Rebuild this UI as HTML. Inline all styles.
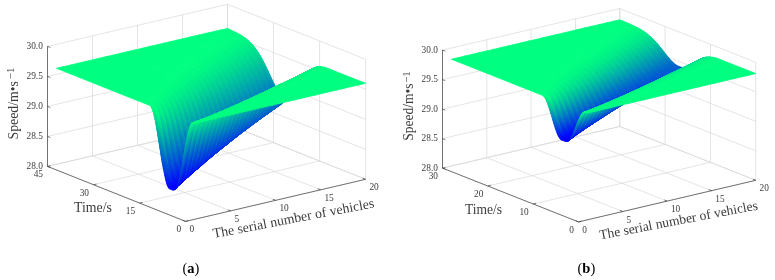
<!DOCTYPE html><html><head><meta charset="utf-8"><title>Figure</title><style>html,body{margin:0;padding:0;background:#fff}svg{display:block}text{font-family:'Liberation Serif',serif;fill:#3c3c3c}.e{text-anchor:end}.m{text-anchor:middle}.c{font-size:14.5px;fill:#000}.g{stroke:#d9d9d9;stroke-width:.7;fill:none}.a{stroke:#333;stroke-width:.65;fill:none}.s path{stroke-width:.8;stroke-linejoin:round}.k0{fill:#0000ff;stroke:#0000ff}.k1{fill:#0001fe;stroke:#0001fe}.k2{fill:#0002fe;stroke:#0002fe}.k3{fill:#0003fe;stroke:#0003fe}.k4{fill:#0004fd;stroke:#0004fd}.k5{fill:#0005fc;stroke:#0005fc}.k6{fill:#0006fc;stroke:#0006fc}.k7{fill:#0007fc;stroke:#0007fc}.k8{fill:#0008fb;stroke:#0008fb}.k9{fill:#0009fa;stroke:#0009fa}.k10{fill:#000afa;stroke:#000afa}.k11{fill:#000bfa;stroke:#000bfa}.k12{fill:#000cf9;stroke:#000cf9}.k13{fill:#000df8;stroke:#000df8}.k14{fill:#000ef8;stroke:#000ef8}.k15{fill:#000ff8;stroke:#000ff8}.k16{fill:#0010f7;stroke:#0010f7}.k17{fill:#0011f6;stroke:#0011f6}.k18{fill:#0012f6;stroke:#0012f6}.k19{fill:#0013f6;stroke:#0013f6}.k20{fill:#0014f5;stroke:#0014f5}.k21{fill:#0015f4;stroke:#0015f4}.k22{fill:#0016f4;stroke:#0016f4}.k23{fill:#0017f4;stroke:#0017f4}.k24{fill:#0018f3;stroke:#0018f3}.k25{fill:#0019f2;stroke:#0019f2}.k26{fill:#001af2;stroke:#001af2}.k27{fill:#001bf2;stroke:#001bf2}.k28{fill:#001cf1;stroke:#001cf1}.k29{fill:#001df0;stroke:#001df0}.k30{fill:#001ef0;stroke:#001ef0}.k31{fill:#001ff0;stroke:#001ff0}.k32{fill:#0020ef;stroke:#0020ef}.k33{fill:#0021ee;stroke:#0021ee}.k34{fill:#0022ee;stroke:#0022ee}.k35{fill:#0023ee;stroke:#0023ee}.k36{fill:#0024ed;stroke:#0024ed}.k37{fill:#0025ec;stroke:#0025ec}.k38{fill:#0026ec;stroke:#0026ec}.k39{fill:#0027ec;stroke:#0027ec}.k40{fill:#0028eb;stroke:#0028eb}.k41{fill:#0029ea;stroke:#0029ea}.k42{fill:#002aea;stroke:#002aea}.k43{fill:#002bea;stroke:#002bea}.k44{fill:#002ce9;stroke:#002ce9}.k45{fill:#002de8;stroke:#002de8}.k46{fill:#002ee8;stroke:#002ee8}.k47{fill:#002fe8;stroke:#002fe8}.k48{fill:#0030e7;stroke:#0030e7}.k49{fill:#0031e6;stroke:#0031e6}.k50{fill:#0032e6;stroke:#0032e6}.k51{fill:#0033e6;stroke:#0033e6}.k52{fill:#0034e5;stroke:#0034e5}.k53{fill:#0035e4;stroke:#0035e4}.k54{fill:#0036e4;stroke:#0036e4}.k55{fill:#0037e3;stroke:#0037e3}.k56{fill:#0038e3;stroke:#0038e3}.k57{fill:#0039e2;stroke:#0039e2}.k58{fill:#003ae2;stroke:#003ae2}.k59{fill:#003be2;stroke:#003be2}.k60{fill:#003ce1;stroke:#003ce1}.k61{fill:#003de0;stroke:#003de0}.k62{fill:#003ee0;stroke:#003ee0}.k63{fill:#003fe0;stroke:#003fe0}.k64{fill:#0040df;stroke:#0040df}.k65{fill:#0041de;stroke:#0041de}.k66{fill:#0042de;stroke:#0042de}.k67{fill:#0043de;stroke:#0043de}.k68{fill:#0044dd;stroke:#0044dd}.k69{fill:#0045dc;stroke:#0045dc}.k70{fill:#0046dc;stroke:#0046dc}.k71{fill:#0047dc;stroke:#0047dc}.k72{fill:#0048db;stroke:#0048db}.k73{fill:#0049db;stroke:#0049db}.k74{fill:#004ada;stroke:#004ada}.k75{fill:#004bda;stroke:#004bda}.k76{fill:#004cd9;stroke:#004cd9}.k77{fill:#004dd8;stroke:#004dd8}.k78{fill:#004ed8;stroke:#004ed8}.k79{fill:#004fd8;stroke:#004fd8}.k80{fill:#0050d7;stroke:#0050d7}.k81{fill:#0051d6;stroke:#0051d6}.k82{fill:#0052d6;stroke:#0052d6}.k83{fill:#0053d6;stroke:#0053d6}.k84{fill:#0054d5;stroke:#0054d5}.k85{fill:#0055d4;stroke:#0055d4}.k86{fill:#0056d4;stroke:#0056d4}.k87{fill:#0057d3;stroke:#0057d3}.k88{fill:#0058d3;stroke:#0058d3}.k89{fill:#0059d2;stroke:#0059d2}.k90{fill:#005ad2;stroke:#005ad2}.k91{fill:#005bd2;stroke:#005bd2}.k92{fill:#005cd1;stroke:#005cd1}.k93{fill:#005dd0;stroke:#005dd0}.k94{fill:#005ed0;stroke:#005ed0}.k95{fill:#005fd0;stroke:#005fd0}.k96{fill:#0060cf;stroke:#0060cf}.k97{fill:#0061ce;stroke:#0061ce}.k98{fill:#0062ce;stroke:#0062ce}.k99{fill:#0063ce;stroke:#0063ce}.k100{fill:#0064cd;stroke:#0064cd}.k101{fill:#0065cc;stroke:#0065cc}.k102{fill:#0066cc;stroke:#0066cc}.k103{fill:#0067cc;stroke:#0067cc}.k104{fill:#0068cb;stroke:#0068cb}.k105{fill:#0069cb;stroke:#0069cb}.k106{fill:#006aca;stroke:#006aca}.k107{fill:#006bca;stroke:#006bca}.k108{fill:#006cc9;stroke:#006cc9}.k109{fill:#006dc8;stroke:#006dc8}.k110{fill:#006ec8;stroke:#006ec8}.k111{fill:#006fc8;stroke:#006fc8}.k112{fill:#0070c7;stroke:#0070c7}.k113{fill:#0071c6;stroke:#0071c6}.k114{fill:#0072c6;stroke:#0072c6}.k115{fill:#0073c6;stroke:#0073c6}.k116{fill:#0074c5;stroke:#0074c5}.k117{fill:#0075c4;stroke:#0075c4}.k118{fill:#0076c4;stroke:#0076c4}.k119{fill:#0077c3;stroke:#0077c3}.k120{fill:#0078c3;stroke:#0078c3}.k121{fill:#0079c2;stroke:#0079c2}.k122{fill:#007ac2;stroke:#007ac2}.k123{fill:#007bc2;stroke:#007bc2}.k124{fill:#007cc1;stroke:#007cc1}.k125{fill:#007dc0;stroke:#007dc0}.k126{fill:#007ec0;stroke:#007ec0}.k127{fill:#007fc0;stroke:#007fc0}.k128{fill:#0080bf;stroke:#0080bf}.k129{fill:#0081be;stroke:#0081be}.k130{fill:#0082be;stroke:#0082be}.k131{fill:#0083be;stroke:#0083be}.k132{fill:#0084bd;stroke:#0084bd}.k133{fill:#0085bc;stroke:#0085bc}.k134{fill:#0086bc;stroke:#0086bc}.k135{fill:#0087bc;stroke:#0087bc}.k136{fill:#0088bb;stroke:#0088bb}.k137{fill:#0089bb;stroke:#0089bb}.k138{fill:#008aba;stroke:#008aba}.k139{fill:#008bba;stroke:#008bba}.k140{fill:#008cb9;stroke:#008cb9}.k141{fill:#008db8;stroke:#008db8}.k142{fill:#008eb8;stroke:#008eb8}.k143{fill:#008fb8;stroke:#008fb8}.k144{fill:#0090b7;stroke:#0090b7}.k145{fill:#0091b6;stroke:#0091b6}.k146{fill:#0092b6;stroke:#0092b6}.k147{fill:#0093b6;stroke:#0093b6}.k148{fill:#0094b5;stroke:#0094b5}.k149{fill:#0095b4;stroke:#0095b4}.k150{fill:#0096b4;stroke:#0096b4}.k151{fill:#0097b3;stroke:#0097b3}.k152{fill:#0098b3;stroke:#0098b3}.k153{fill:#0099b2;stroke:#0099b2}.k154{fill:#009ab2;stroke:#009ab2}.k155{fill:#009bb2;stroke:#009bb2}.k156{fill:#009cb1;stroke:#009cb1}.k157{fill:#009db0;stroke:#009db0}.k158{fill:#009eb0;stroke:#009eb0}.k159{fill:#009fb0;stroke:#009fb0}.k160{fill:#00a0af;stroke:#00a0af}.k161{fill:#00a1ae;stroke:#00a1ae}.k162{fill:#00a2ae;stroke:#00a2ae}.k163{fill:#00a3ae;stroke:#00a3ae}.k164{fill:#00a4ad;stroke:#00a4ad}.k165{fill:#00a5ac;stroke:#00a5ac}.k166{fill:#00a6ac;stroke:#00a6ac}.k167{fill:#00a7ac;stroke:#00a7ac}.k168{fill:#00a8ab;stroke:#00a8ab}.k169{fill:#00a9ab;stroke:#00a9ab}.k170{fill:#00aaaa;stroke:#00aaaa}.k171{fill:#00abaa;stroke:#00abaa}.k172{fill:#00aca9;stroke:#00aca9}.k173{fill:#00ada8;stroke:#00ada8}.k174{fill:#00aea8;stroke:#00aea8}.k175{fill:#00afa8;stroke:#00afa8}.k176{fill:#00b0a7;stroke:#00b0a7}.k177{fill:#00b1a6;stroke:#00b1a6}.k178{fill:#00b2a6;stroke:#00b2a6}.k179{fill:#00b3a6;stroke:#00b3a6}.k180{fill:#00b4a5;stroke:#00b4a5}.k181{fill:#00b5a4;stroke:#00b5a4}.k182{fill:#00b6a4;stroke:#00b6a4}.k183{fill:#00b7a3;stroke:#00b7a3}.k184{fill:#00b8a3;stroke:#00b8a3}.k185{fill:#00b9a2;stroke:#00b9a2}.k186{fill:#00baa2;stroke:#00baa2}.k187{fill:#00bba2;stroke:#00bba2}.k188{fill:#00bca1;stroke:#00bca1}.k189{fill:#00bda0;stroke:#00bda0}.k190{fill:#00bea0;stroke:#00bea0}.k191{fill:#00bfa0;stroke:#00bfa0}.k192{fill:#00c09f;stroke:#00c09f}.k193{fill:#00c19e;stroke:#00c19e}.k194{fill:#00c29e;stroke:#00c29e}.k195{fill:#00c39e;stroke:#00c39e}.k196{fill:#00c49d;stroke:#00c49d}.k197{fill:#00c59c;stroke:#00c59c}.k198{fill:#00c69c;stroke:#00c69c}.k199{fill:#00c79c;stroke:#00c79c}.k200{fill:#00c89b;stroke:#00c89b}.k201{fill:#00c99b;stroke:#00c99b}.k202{fill:#00ca9a;stroke:#00ca9a}.k203{fill:#00cb9a;stroke:#00cb9a}.k204{fill:#00cc99;stroke:#00cc99}.k205{fill:#00cd98;stroke:#00cd98}.k206{fill:#00ce98;stroke:#00ce98}.k207{fill:#00cf98;stroke:#00cf98}.k208{fill:#00d097;stroke:#00d097}.k209{fill:#00d196;stroke:#00d196}.k210{fill:#00d296;stroke:#00d296}.k211{fill:#00d396;stroke:#00d396}.k212{fill:#00d495;stroke:#00d495}.k213{fill:#00d594;stroke:#00d594}.k214{fill:#00d694;stroke:#00d694}.k215{fill:#00d793;stroke:#00d793}.k216{fill:#00d893;stroke:#00d893}.k217{fill:#00d992;stroke:#00d992}.k218{fill:#00da92;stroke:#00da92}.k219{fill:#00db92;stroke:#00db92}.k220{fill:#00dc91;stroke:#00dc91}.k221{fill:#00dd90;stroke:#00dd90}.k222{fill:#00de90;stroke:#00de90}.k223{fill:#00df90;stroke:#00df90}.k224{fill:#00e08f;stroke:#00e08f}.k225{fill:#00e18e;stroke:#00e18e}.k226{fill:#00e28e;stroke:#00e28e}.k227{fill:#00e38e;stroke:#00e38e}.k228{fill:#00e48d;stroke:#00e48d}.k229{fill:#00e58c;stroke:#00e58c}.k230{fill:#00e68c;stroke:#00e68c}.k231{fill:#00e78c;stroke:#00e78c}.k232{fill:#00e88b;stroke:#00e88b}.k233{fill:#00e98b;stroke:#00e98b}.k234{fill:#00ea8a;stroke:#00ea8a}.k235{fill:#00eb8a;stroke:#00eb8a}.k236{fill:#00ec89;stroke:#00ec89}.k237{fill:#00ed88;stroke:#00ed88}.k238{fill:#00ee88;stroke:#00ee88}.k239{fill:#00ef88;stroke:#00ef88}.k240{fill:#00f087;stroke:#00f087}.k241{fill:#00f186;stroke:#00f186}.k242{fill:#00f286;stroke:#00f286}.k243{fill:#00f386;stroke:#00f386}.k244{fill:#00f485;stroke:#00f485}.k245{fill:#00f584;stroke:#00f584}.k246{fill:#00f684;stroke:#00f684}.k247{fill:#00f784;stroke:#00f784}.k248{fill:#00f883;stroke:#00f883}.k249{fill:#00f982;stroke:#00f982}.k250{fill:#00fa82;stroke:#00fa82}.k251{fill:#00fb82;stroke:#00fb82}.k252{fill:#00fc81;stroke:#00fc81}.k253{fill:#00fd80;stroke:#00fd80}.k254{fill:#00fe80;stroke:#00fe80}.k255{fill:#00ff80;stroke:#00ff80}</style></head><body><svg width="775" height="280" viewBox="0 0 775 280"><path class="g" d="M185.6,221.4L47.5,166.4M47.5,166.4L47.5,46.4M230.6,210.9L92.5,155.9M92.5,155.9L92.5,35.9M275.6,200.3L137.5,145.3M137.5,145.3L137.5,25.3M320.6,189.8L182.5,134.8M182.5,134.8L182.5,14.8M365.6,179.3L227.5,124.3M227.5,124.3L227.5,4.3M185.6,221.4L365.6,179.3M365.6,179.3L365.6,59.3M139.6,203.1L319.6,161M319.6,161L319.6,41M93.5,184.7L273.5,142.6M273.5,142.6L273.5,22.6M47.5,166.4L227.5,124.3M227.5,124.3L227.5,4.3M47.5,166.4L227.5,124.3M227.5,124.3L365.6,179.3M47.5,136.4L227.5,94.3M227.5,94.3L365.6,149.3M47.5,106.4L227.5,64.3M227.5,64.3L365.6,119.3M47.5,76.4L227.5,34.3M227.5,34.3L365.6,89.3M47.5,46.4L227.5,4.3M227.5,4.3L365.6,59.3"/>
<path class="g" d="M578.5,221.9L442.5,168.1M442.5,168.1L442.5,50.1M622.8,211.5L486.8,157.7M486.8,157.7L486.8,39.7M667.1,201.1L531.1,147.3M531.1,147.3L531.1,29.3M711.5,190.7L575.5,136.9M575.5,136.9L575.5,18.9M755.8,180.3L619.8,126.5M619.8,126.5L619.8,8.5M578.5,221.9L755.8,180.3M755.8,180.3L755.8,62.3M533.2,204L710.5,162.4M710.5,162.4L710.5,44.4M487.8,186L665.1,144.4M665.1,144.4L665.1,26.4M442.5,168.1L619.8,126.5M619.8,126.5L619.8,8.5M442.5,168.1L619.8,126.5M619.8,126.5L755.8,180.3M442.5,138.6L619.8,97M619.8,97L755.8,150.8M442.5,109.1L619.8,67.5M619.8,67.5L755.8,121.3M442.5,79.6L619.8,38M619.8,38L755.8,91.8M442.5,50.1L619.8,8.5M619.8,8.5L755.8,62.3"/>
<g class="s"><path class=k254 d="M228.5 33.6l-6.7-2.9 7.1-1.6 6.7 3.2z"/><path class=k253 d="M231.7 35.2l-3.2-1.6 7.1-1.3 3.3 1.7z"/><path class=k252 d="M234 36.4l-2.3-1.2 7.2-1.2 2.3 1.3z"/><path class=k251 d="M235.7 37.4l-1.7-1 7.2-1.1 1.6 1.1z"/><path class=k250 d="M237.3 38.3l-1.6-.9 7.1-1 1.6 1.1z"/><path class=k249 d="M238.3 39l-1-.7 7.1-.8 1.1 .7z"/><path class=k248 d="M239.4 39.7l-1.1-.7 7.2-.8 1 .9z"/><path class=k247 d="M240.3 40.4l-.9-.7 7.1-.6 .9 .7z"/><path class=k246 d="M241.2 41.1l-.9-.7 7.1-.6 1 .8z"/><path class=k245 d="M242 41.7l-.8-.6 7.2-.5 .7 .7z"/><path class=k244 d="M242.8 42.3l-.8-.6 7.1-.4 .8 .8z"/><path class=k243 d="M243.5 42.9l-.7-.6 7.1-.2 .8 .7z"/><path class=k242 d="M244.3 43.6l-.8-.7 7.2-.1 .7 .8z"/><path class=k240 d="M244.9 44.2l-.6-.6 7.1 0 .7 .7z"/><path class=k239 d="M245.5 44.8l-.6-.6 7.2 .1 .6 .7z"/><path class=k238 d="M246.2 45.4l-.7-.6 7.2 .2 .6 .7z"/><path class=k237 d="M246.8 46l-.6-.6 7.1 .3 .6 .7z"/><path class=k236 d="M247.4 46.7l-.6-.7 7.1 .4 .6 .8z"/><path class=k234 d="M248 47.4l-.6-.7 7.1 .5 .6 .8z"/><path class=k232 d="M248.6 48.1l-.6-.7 7.1 .6 .6 .8z"/><path class=k231 d="M249.2 48.8l-.6-.7 7.1 .7 .6 .8z"/><path class=k229 d="M249.8 49.5l-.6-.7 7.1 .8 .7 .9z"/><path class=k228 d="M250.5 50.3l-.7-.8 7.2 1 .6 .9z"/><path class=k226 d="M251.1 51.1l-.6-.8 7.1 1.1 .6 .9z"/><path class=k224 d="M251.7 52l-.6-.9 7.1 1.2 .6 1z"/><path class=k222 d="M252.3 52.9l-.6-.9 7.1 1.3 .6 1z"/><path class=k219 d="M252.9 53.8l-.6-.9 7.1 1.4 .6 1z"/><path class=k217 d="M253.4 54.5l-.5-.7 7.1 1.5 .5 .8z"/><path class=k216 d="M253.8 55.2l-.4-.7 7.1 1.6 .5 .8z"/><path class=k214 d="M254.3 55.9l-.5-.7 7.2 1.7 .4 .8z"/><path class=k212 d="M254.7 56.6l-.4-.7 7.1 1.8 .5 .8z"/><path class=k210 d="M255.2 57.4l-.5-.8 7.2 1.9 .4 .8z"/><path class=k208 d="M255.7 58.2l-.5-.8 7.1 1.9 .5 .9z"/><path class=k206 d="M256.1 59l-.4-.8 7.1 2 .5 .9z"/><path class=k204 d="M256.6 59.8l-.5-.8 7.2 2.1 .4 .9z"/><path class=k202 d="M257 60.6l-.4-.8 7.1 2.2 .5 .9z"/><path class=k199 d="M257.5 61.5l-.5-.9 7.2 2.3 .4 .9z"/><path class=k197 d="M258 62.3l-.5-.8 7.1 2.3 .5 .9z"/><path class=k195 d="M258.4 63.2l-.4-.9 7.1 2.4 .5 .9z"/><path class=k192 d="M258.9 64.1l-.5-.9 7.2 2.4 .4 1z"/><path class=k190 d="M259.3 65l-.4-.9 7.1 2.5 .5 .9z"/><path class=k188 d="M259.8 65.9l-.5-.9 7.2 2.5 .4 1z"/><path class=k185 d="M260.3 66.9l-.5-1 7.1 2.6 .5 1z"/><path class=k182 d="M260.7 67.8l-.4-.9 7.1 2.6 .5 .9z"/><path class=k180 d="M261.2 68.8l-.5-1 7.2 2.6 .4 1z"/><path class=k177 d="M261.7 69.7l-.5-.9 7.1 2.6 .5 1z"/><path class=k175 d="M262.1 70.7l-.4-1 7.1 2.7 .4 1z"/><path class=k172 d="M262.6 71.7l-.5-1 7.1 2.7 .5 1z"/><path class=k169 d="M263 72.7l-.4-1 7.1 2.7 .5 1z"/><path class=k166 d="M263.5 73.7l-.5-1 7.2 2.7 .4 1z"/><path class=k164 d="M264 74.7l-.5-1 7.1 2.7 .5 1z"/><path class=k161 d="M264.4 75.7l-.4-1 7.1 2.7 .4 1z"/><path class=k158 d="M264.9 76.7l-.5-1 7.1 2.7 .5 1z"/><path class=k155 d="M265.3 77.8l-.4-1.1 7.1 2.7 .5 .9z"/><path class=k152 d="M265.8 78.8l-.5-1 7.2 2.5 .4 1z"/><path class=k149 d="M266.3 79.8l-.5-1 7.1 2.5 .5 1z"/><path class=k147 d="M266.7 80.8l-.4-1 7.1 2.5 .4 .9z"/><path class=k144 d="M267.2 81.8l-.5-1 7.1 2.4 .5 1z"/><path class=k141 d="M267.6 82.9l-.4-1.1 7.1 2.4 .5 .9z"/><path class=k138 d="M268.1 83.9l-.5-1 7.2 2.2 .4 .9z"/><path class=k135 d="M268.6 84.9l-.5-1 7.1 2.1 .5 .9z"/><path class=k133 d="M269 85.8l-.4-.9 7.1 2 .4 .9z"/><path class=k130 d="M269.5 86.8l-.5-1 7.1 2 .5 .8z"/><path class=k127 d="M269.9 87.8l-.4-1 7.1 1.8 .5 .8z"/><path class=k125 d="M270.4 88.7l-.5-.9 7.2 1.6 .4 .9z"/><path class=k232 d="M307.5 71.3l-.7 .6 7.1-3.9 .8-.4z"/><path class=k234 d="M308.3 70.8l-.8 .5 7.2-3.7 .7-.3z"/><path class=k237 d="M309.2 70.3l-.9 .5 7.1-3.5 .9-.3z"/><path class=k240 d="M310.1 69.9l-.9 .4 7.1-3.3 1-.2z"/><path class=k242 d="M311.1 69.5l-1 .4 7.2-3.1 .9-.1z"/><path class=k244 d="M312 69.3l-.9 .2 7.1-2.8 .9-.1z"/><path class=k246 d="M312.9 69.1l-.9 .2 7.1-2.7 .9 0z"/><path class=k248 d="M313.8 69.1l-.9 0 7.1-2.5 .9 .1z"/><path class=k249 d="M314.7 69.1l-.9 0 7.1-2.4 1 .1z"/><path class=k250 d="M315.7 69.1l-1 0 7.2-2.3 .9 .2z"/><path class=k252 d="M316.6 69.2l-.9-.1 7.1-2.1 .9 .2z"/><path class=k252 d="M317.5 69.4l-.9-.2 7.1-2 .9 .2z"/><path class=k253 d="M319 69.7l-1.5-.3 7.1-2 1.6 .4z"/><path class=k254 d="M322.3 70.7l-3.3-1 7.2-1.9 3.2 1.2z"/><path class=k254 d="M224.5 36.5l-6.6-2.9 7.1-1.5 6.6 3z"/><path class=k253 d="M227.7 38.1l-3.2-1.6 7.1-1.4 3.2 1.8z"/><path class=k252 d="M230 39.3l-2.3-1.2 7.1-1.2 2.3 1.3z"/><path class=k251 d="M231.7 40.3l-1.7-1 7.1-1.1 1.7 1.1z"/><path class=k250 d="M233 41.1l-1.3-.8 7.1-1 1.4 1z"/><path class=k249 d="M234.3 41.9l-1.3-.8 7.2-.8 1.2 .9z"/><path class=k248 d="M235.3 42.6l-1-.7 7.1-.7 1.1 .8z"/><path class=k247 d="M236.3 43.3l-1-.7 7.2-.6 .9 .8z"/><path class=k246 d="M237 43.9l-.7-.6 7.1-.5 .8 .7z"/><path class=k245 d="M237.8 44.5l-.8-.6 7.2-.4 .7 .7z"/><path class=k244 d="M238.6 45.1l-.8-.6 7.1-.3 .8 .7z"/><path class=k243 d="M239.3 45.8l-.7-.7 7.1-.2 .8 .8z"/><path class=k242 d="M240.1 46.5l-.8-.7 7.2-.1 .7 .8z"/><path class=k240 d="M240.7 47l-.6-.5 7.1 0 .6 .7z"/><path class=k239 d="M241.3 47.6l-.6-.6 7.1 .2 .7 .7z"/><path class=k238 d="M241.9 48.3l-.6-.7 7.2 .3 .6 .7z"/><path class=k236 d="M242.6 48.9l-.7-.6 7.2 .3 .6 .8z"/><path class=k235 d="M243.2 49.6l-.6-.7 7.1 .5 .6 .7z"/><path class=k234 d="M243.8 50.3l-.6-.7 7.1 .5 .6 .8z"/><path class=k232 d="M244.4 51l-.6-.7 7.1 .6 .6 .9z"/><path class=k230 d="M245 51.7l-.6-.7 7.1 .8 .6 .8z"/><path class=k229 d="M245.6 52.5l-.6-.8 7.1 .9 .7 .9z"/><path class=k227 d="M246.2 53.3l-.6-.8 7.2 1 .6 1z"/><path class=k225 d="M246.9 54.1l-.7-.8 7.2 1.2 .6 .9z"/><path class=k223 d="M247.5 55l-.6-.9 7.1 1.3 .6 1z"/><path class=k221 d="M248.1 55.9l-.6-.9 7.1 1.4 .6 1z"/><path class=k219 d="M248.5 56.6l-.4-.7 7.1 1.5 .5 .8z"/><path class=k217 d="M249 57.3l-.5-.7 7.2 1.6 .4 .8z"/><path class=k215 d="M249.5 58l-.5-.7 7.1 1.7 .5 .8z"/><path class=k213 d="M249.9 58.7l-.4-.7 7.1 1.8 .4 .8z"/><path class=k212 d="M250.4 59.5l-.5-.8 7.1 1.9 .5 .9z"/><path class=k210 d="M250.8 60.3l-.4-.8 7.1 2 .5 .8z"/><path class=k207 d="M251.3 61.1l-.5-.8 7.2 2 .4 .9z"/><path class=k205 d="M251.8 61.9l-.5-.8 7.1 2.1 .5 .9z"/><path class=k203 d="M252.2 62.7l-.4-.8 7.1 2.2 .4 .9z"/><path class=k201 d="M252.7 63.6l-.5-.9 7.1 2.3 .5 .9z"/><path class=k199 d="M253.1 64.4l-.4-.8 7.1 2.3 .5 1z"/><path class=k196 d="M253.6 65.3l-.5-.9 7.2 2.5 .4 .9z"/><path class=k194 d="M254.1 66.2l-.5-.9 7.1 2.5 .5 1z"/><path class=k192 d="M254.5 67.1l-.4-.9 7.1 2.6 .5 .9z"/><path class=k189 d="M255 68.1l-.5-1 7.2 2.6 .4 1z"/><path class=k186 d="M255.4 69l-.4-.9 7.1 2.6 .5 1z"/><path class=k184 d="M255.9 70l-.5-1 7.2 2.7 .4 1z"/><path class=k181 d="M256.4 70.9l-.5-.9 7.1 2.7 .5 1z"/><path class=k179 d="M256.8 71.9l-.4-1 7.1 2.8 .5 1z"/><path class=k176 d="M257.3 72.9l-.5-1 7.2 2.8 .4 1z"/><path class=k173 d="M257.7 73.9l-.4-1 7.1 2.8 .5 1z"/><path class=k170 d="M258.2 74.9l-.5-1 7.2 2.8 .4 1.1z"/><path class=k167 d="M258.7 76l-.5-1.1 7.1 2.9 .5 1z"/><path class=k165 d="M259.1 77l-.4-1 7.1 2.8 .5 1z"/><path class=k162 d="M259.6 78l-.5-1 7.2 2.8 .4 1z"/><path class=k159 d="M260.1 79.1l-.5-1.1 7.1 2.8 .5 1z"/><path class=k156 d="M260.5 80.1l-.4-1 7.1 2.7 .4 1.1z"/><path class=k153 d="M261 81.2l-.5-1.1 7.1 2.8 .5 1z"/><path class=k150 d="M261.4 82.2l-.4-1 7.1 2.7 .5 1z"/><path class=k147 d="M261.9 83.3l-.5-1.1 7.2 2.7 .4 .9z"/><path class=k144 d="M262.4 84.3l-.5-1 7.1 2.5 .5 1z"/><path class=k141 d="M262.8 85.3l-.4-1 7.1 2.5 .4 1z"/><path class=k138 d="M263.3 86.4l-.5-1.1 7.1 2.5 .5 .9z"/><path class=k136 d="M263.7 87.4l-.4-1 7.1 2.3 .5 .9z"/><path class=k133 d="M264.2 88.4l-.5-1 7.2 2.2 .4 .9z"/><path class=k130 d="M264.7 89.4l-.5-1 7.1 2.1 .5 .9z"/><path class=k127 d="M265.1 90.4l-.4-1 7.1 2 .4 .9z"/><path class=k125 d="M265.6 91.4l-.5-1 7.1 1.9 .5 .8z"/><path class=k104 d="M282 103.5l-.6 .5 7.1-5.6 .6-.8z"/><path class=k124 d="M285.7 98.8l-.6 .9 7.1-6.6 .6-1z"/><path class=k145 d="M288.6 94l-.5 .8 7.2-6.9 .4-.8z"/><path class=k162 d="M290.9 89.9l-.5 .8 7.2-6.8 .4-.8z"/><path class=k226 d="M301.2 74.9l-.8 .7 7.1-4.3 .8-.5z"/><path class=k235 d="M303.5 73.2l-.8 .5 7.1-3.7 .8-.3z"/><path class=k238 d="M304.4 72.7l-.9 .5 7.1-3.5 .9-.3z"/><path class=k241 d="M305.3 72.2l-.9 .5 7.1-3.3 .9-.2z"/><path class=k243 d="M306.2 71.9l-.9 .3 7.1-3 1-.1z"/><path class=k245 d="M307.2 71.7l-1 .2 7.2-2.8 .9 0z"/><path class=k247 d="M308.1 71.6l-.9 .1 7.1-2.6 .9 0z"/><path class=k248 d="M309 71.5l-.9 .1 7.1-2.5 .9 .1z"/><path class=k250 d="M309.9 71.5l-.9 0 7.1-2.3 .9 .1z"/><path class=k251 d="M311 71.6l-1.1-.1 7.1-2.2 1.1 .2z"/><path class=k252 d="M312.1 71.8l-1.1-.2 7.1-2.1 1.1 .3z"/><path class=k253 d="M313.8 72.1l-1.7-.3 7.1-2 1.7 .4z"/><path class=k254 d="M317 73.1l-3.2-1 7.1-1.9 3.2 1.2z"/><path class=k254 d="M220.5 39.5l-6.5-2.9 7.1-1.6 6.6 3.1z"/><path class=k253 d="M223.8 41.1l-3.3-1.6 7.2-1.4 3.2 1.7z"/><path class=k252 d="M225.9 42.2l-2.1-1.1 7.1-1.3 2.1 1.3z"/><path class=k251 d="M227.6 43.2l-1.7-1 7.1-1.1 1.7 1.1z"/><path class=k250 d="M229 44l-1.4-.8 7.1-1 1.4 1z"/><path class=k249 d="M230.2 44.8l-1.2-.8 7.1-.8 1.2 .9z"/><path class=k248 d="M231.1 45.5l-.9-.7 7.1-.7 1 .8z"/><path class=k247 d="M232.1 46.1l-1-.6 7.2-.6 .9 .7z"/><path class=k246 d="M232.8 46.7l-.7-.6 7.1-.5 .7 .7z"/><path class=k245 d="M233.6 47.3l-.8-.6 7.1-.4 .8 .7z"/><path class=k244 d="M234.4 47.9l-.8-.6 7.1-.3 .8 .8z"/><path class=k243 d="M235.1 48.6l-.7-.7 7.1-.1 .8 .8z"/><path class=k242 d="M235.9 49.3l-.8-.7 7.2 0 .7 .8z"/><path class=k240 d="M236.5 49.9l-.6-.6 7.1 .1 .6 .7z"/><path class=k239 d="M237.1 50.5l-.6-.6 7.1 .2 .6 .7z"/><path class=k238 d="M237.7 51.1l-.6-.6 7.1 .3 .7 .7z"/><path class=k236 d="M238.3 51.8l-.6-.7 7.2 .4 .6 .8z"/><path class=k235 d="M239 52.4l-.7-.6 7.2 .5 .6 .8z"/><path class=k234 d="M239.6 53.1l-.6-.7 7.1 .7 .6 .8z"/><path class=k232 d="M240.2 53.9l-.6-.8 7.1 .8 .6 .9z"/><path class=k230 d="M240.8 54.6l-.6-.7 7.1 .9 .6 .9z"/><path class=k228 d="M241.4 55.4l-.6-.8 7.1 1.1 .6 .9z"/><path class=k226 d="M242 56.3l-.6-.9 7.1 1.2 .7 .9z"/><path class=k224 d="M242.6 57.1l-.6-.8 7.2 1.2 .6 1z"/><path class=k222 d="M243.3 58l-.7-.9 7.2 1.4 .6 1z"/><path class=k220 d="M243.7 58.7l-.4-.7 7.1 1.5 .4 .8z"/><path class=k219 d="M244.2 59.4l-.5-.7 7.1 1.6 .5 .8z"/><path class=k217 d="M244.6 60.1l-.4-.7 7.1 1.7 .5 .8z"/><path class=k215 d="M245.1 60.8l-.5-.7 7.2 1.8 .4 .8z"/><path class=k213 d="M245.6 61.6l-.5-.8 7.1 1.9 .5 .9z"/><path class=k211 d="M246 62.4l-.4-.8 7.1 2 .4 .8z"/><path class=k209 d="M246.5 63.2l-.5-.8 7.1 2 .5 .9z"/><path class=k207 d="M246.9 64l-.4-.8 7.1 2.1 .5 .9z"/><path class=k205 d="M247.4 64.8l-.5-.8 7.2 2.2 .4 .9z"/><path class=k203 d="M247.9 65.7l-.5-.9 7.1 2.3 .5 1z"/><path class=k200 d="M248.3 66.5l-.4-.8 7.1 2.4 .4 .9z"/><path class=k198 d="M248.8 67.4l-.5-.9 7.1 2.5 .5 1z"/><path class=k196 d="M249.2 68.3l-.4-.9 7.1 2.6 .5 .9z"/><path class=k193 d="M249.7 69.2l-.5-.9 7.2 2.6 .4 1z"/><path class=k191 d="M250.2 70.2l-.5-1 7.1 2.7 .5 1z"/><path class=k188 d="M250.6 71.1l-.4-.9 7.1 2.7 .4 1z"/><path class=k185 d="M251.1 72.1l-.5-1 7.1 2.8 .5 1z"/><path class=k183 d="M251.5 73.1l-.4-1 7.1 2.8 .5 1.1z"/><path class=k180 d="M252 74.1l-.5-1 7.2 2.9 .4 1z"/><path class=k177 d="M252.5 75.1l-.5-1 7.1 2.9 .5 1z"/><path class=k174 d="M252.9 76.1l-.4-1 7.1 2.9 .5 1.1z"/><path class=k172 d="M253.4 77.1l-.5-1 7.2 3 .4 1z"/><path class=k169 d="M253.8 78.2l-.4-1.1 7.1 3 .5 1.1z"/><path class=k166 d="M254.3 79.2l-.5-1 7.2 3 .4 1z"/><path class=k163 d="M254.8 80.3l-.5-1.1 7.1 3 .5 1.1z"/><path class=k160 d="M255.2 81.4l-.4-1.1 7.1 3 .5 1z"/><path class=k157 d="M255.7 82.4l-.5-1 7.2 2.9 .4 1z"/><path class=k154 d="M256.1 83.5l-.4-1.1 7.1 2.9 .5 1.1z"/><path class=k151 d="M256.6 84.6l-.5-1.1 7.2 2.9 .4 1z"/><path class=k148 d="M257.1 85.7l-.5-1.1 7.1 2.8 .5 1z"/><path class=k145 d="M257.5 86.7l-.4-1 7.1 2.7 .5 1z"/><path class=k142 d="M258 87.8l-.5-1.1 7.2 2.7 .4 1z"/><path class=k139 d="M258.4 88.9l-.4-1.1 7.1 2.6 .5 1z"/><path class=k136 d="M258.9 89.9l-.5-1 7.2 2.5 .4 1z"/><path class=k133 d="M259.4 91l-.5-1.1 7.1 2.5 .5 .9z"/><path class=k130 d="M259.8 92l-.4-1 7.1 2.3 .5 .9z"/><path class=k127 d="M260.3 93.1l-.5-1.1 7.2 2.2 .4 .9z"/><path class=k91 d="M274.1 108.9l-.8 .2 7.2-4.4 .7-.5z"/><path class=k93 d="M274.9 108.6l-.8 .3 7.1-4.7 .8-.7z"/><path class=k98 d="M276.2 107.6l-.6 .5 7.2-5.4 .6-.7z"/><path class=k100 d="M276.9 107.1l-.7 .5 7.2-5.6 .6-.8z"/><path class=k103 d="M277.5 106.5l-.6 .6 7.1-5.9 .6-.8z"/><path class=k106 d="M278.1 105.8l-.6 .7 7.1-6.1 .6-.9z"/><path class=k109 d="M278.7 105.1l-.6 .7 7.1-6.3 .6-.9z"/><path class=k112 d="M279.3 104.3l-.6 .8 7.1-6.5 .6-1z"/><path class=k147 d="M284.2 96.2l-.4 .8 7.1-7.1 .5-.8z"/><path class=k157 d="M285.6 93.6l-.5 .9 7.2-7 .4-.9z"/><path class=k164 d="M286.5 91.9l-.4 .8 7.1-6.9 .5-.8z"/><path class=k232 d="M297.6 76.3l-.8 .6 7.1-4 .8-.4z"/><path class=k235 d="M298.3 75.7l-.7 .6 7.1-3.8 .8-.3z"/><path class=k238 d="M299.3 75.2l-1 .5 7.2-3.5 .9-.3z"/><path class=k240 d="M300.2 74.8l-.9 .4 7.1-3.3 .9-.2z"/><path class=k243 d="M301.1 74.4l-.9 .4 7.1-3.1 .9-.1z"/><path class=k245 d="M302 74.2l-.9 .2 7.1-2.8 1-.1z"/><path class=k247 d="M302.9 74l-.9 .2 7.2-2.7 .9 0z"/><path class=k248 d="M303.9 74l-1 0 7.2-2.5 .9 .1z"/><path class=k250 d="M304.8 74l-.9 0 7.1-2.4 .9 .1z"/><path class=k251 d="M305.7 74l-.9 0 7.1-2.3 .9 .2z"/><path class=k252 d="M306.9 74.2l-1.2-.2 7.1-2.1 1.3 .3z"/><path class=k253 d="M308.5 74.5l-1.6-.3 7.2-2 1.5 .4z"/><path class=k254 d="M311.5 75.4l-3-.9 7.1-1.9 3.1 1.1z"/><path class=k254 d="M216.5 42.4l-6.5-2.9 7.2-1.5 6.4 3z"/><path class=k253 d="M219.7 43.9l-3.2-1.5 7.1-1.4 3.2 1.7z"/><path class=k252 d="M221.9 45.1l-2.2-1.2 7.1-1.2 2.2 1.3z"/><path class=k251 d="M223.6 46.1l-1.7-1 7.1-1.1 1.7 1.1z"/><path class=k250 d="M224.9 46.9l-1.3-.8 7.1-1 1.4 1z"/><path class=k249 d="M226 47.6l-1.1-.7 7.2-.8 1 .8z"/><path class=k248 d="M227.1 48.4l-1.1-.8 7.1-.7 1.1 .9z"/><path class=k247 d="M227.8 48.9l-.7-.5 7.1-.6 .8 .7z"/><path class=k246 d="M228.8 49.6l-1-.7 7.2-.4 .9 .8z"/><path class=k245 d="M229.5 50.2l-.7-.6 7.1-.3 .8 .7z"/><path class=k244 d="M230.3 50.9l-.8-.7 7.2-.2 .7 .8z"/><path class=k243 d="M231.1 51.6l-.8-.7 7.1-.1 .8 .8z"/><path class=k242 d="M231.7 52.1l-.6-.5 7.1 0 .6 .7z"/><path class=k240 d="M232.3 52.7l-.6-.6 7.1 .2 .6 .7z"/><path class=k239 d="M232.9 53.3l-.6-.6 7.1 .3 .6 .7z"/><path class=k238 d="M233.5 54l-.6-.7 7.1 .4 .7 .7z"/><path class=k236 d="M234.1 54.6l-.6-.6 7.2 .4 .6 .8z"/><path class=k235 d="M234.8 55.3l-.7-.7 7.2 .6 .6 .8z"/><path class=k234 d="M235.4 56l-.6-.7 7.1 .7 .6 .9z"/><path class=k232 d="M236 56.8l-.6-.8 7.1 .9 .6 .9z"/><path class=k230 d="M236.6 57.6l-.6-.8 7.1 1 .6 .9z"/><path class=k228 d="M237.2 58.4l-.6-.8 7.1 1.1 .6 .9z"/><path class=k226 d="M237.8 59.2l-.6-.8 7.1 1.2 .6 1z"/><path class=k224 d="M238.4 60.1l-.6-.9 7.1 1.4 .7 1z"/><path class=k222 d="M238.9 60.8l-.5-.7 7.2 1.5 .4 .8z"/><path class=k220 d="M239.4 61.5l-.5-.7 7.1 1.6 .5 .8z"/><path class=k219 d="M239.8 62.2l-.4-.7 7.1 1.7 .4 .8z"/><path class=k217 d="M240.3 62.9l-.5-.7 7.1 1.8 .5 .8z"/><path class=k215 d="M240.7 63.7l-.4-.8 7.1 1.9 .5 .9z"/><path class=k213 d="M241.2 64.4l-.5-.7 7.2 2 .4 .8z"/><path class=k211 d="M241.7 65.2l-.5-.8 7.1 2.1 .5 .9z"/><path class=k209 d="M242.1 66l-.4-.8 7.1 2.2 .4 .9z"/><path class=k207 d="M242.6 66.9l-.5-.9 7.1 2.3 .5 .9z"/><path class=k204 d="M243 67.7l-.4-.8 7.1 2.3 .5 1z"/><path class=k202 d="M243.5 68.6l-.5-.9 7.2 2.5 .4 .9z"/><path class=k200 d="M244 69.5l-.5-.9 7.1 2.5 .5 1z"/><path class=k197 d="M244.4 70.4l-.4-.9 7.1 2.6 .4 1z"/><path class=k195 d="M244.9 71.3l-.5-.9 7.1 2.7 .5 1z"/><path class=k192 d="M245.3 72.3l-.4-1 7.1 2.8 .5 1z"/><path class=k190 d="M245.8 73.2l-.5-.9 7.2 2.8 .4 1z"/><path class=k187 d="M246.3 74.2l-.5-1 7.1 2.9 .5 1z"/><path class=k184 d="M246.7 75.2l-.4-1 7.1 2.9 .4 1.1z"/><path class=k182 d="M247.2 76.2l-.5-1 7.1 3 .5 1z"/><path class=k179 d="M247.6 77.2l-.4-1 7.1 3 .5 1.1z"/><path class=k176 d="M248.1 78.3l-.5-1.1 7.2 3.1 .4 1.1z"/><path class=k173 d="M248.6 79.3l-.5-1 7.1 3.1 .5 1z"/><path class=k170 d="M249 80.4l-.4-1.1 7.1 3.1 .4 1.1z"/><path class=k167 d="M249.5 81.5l-.5-1.1 7.1 3.1 .5 1.1z"/><path class=k164 d="M249.9 82.5l-.4-1 7.1 3.1 .5 1.1z"/><path class=k161 d="M250.4 83.6l-.5-1.1 7.2 3.2 .4 1z"/><path class=k158 d="M250.9 84.7l-.5-1.1 7.1 3.1 .5 1.1z"/><path class=k155 d="M251.3 85.8l-.4-1.1 7.1 3.1 .4 1.1z"/><path class=k152 d="M251.8 86.9l-.5-1.1 7.1 3.1 .5 1z"/><path class=k149 d="M252.2 88l-.4-1.1 7.1 3 .5 1.1z"/><path class=k145 d="M252.7 89.2l-.5-1.2 7.2 3 .4 1z"/><path class=k142 d="M253.2 90.3l-.5-1.1 7.1 2.8 .5 1.1z"/><path class=k139 d="M253.6 91.4l-.4-1.1 7.1 2.8 .5 1z"/><path class=k136 d="M254.1 92.5l-.5-1.1 7.2 2.7 .4 1z"/><path class=k133 d="M254.5 93.5l-.4-1 7.1 2.6 .5 1z"/><path class=k130 d="M255 94.6l-.5-1.1 7.2 2.6 .4 .9z"/><path class=k127 d="M255.5 95.7l-.5-1.1 7.1 2.4 .5 .9z"/><path class=k87 d="M269.1 112.4l-.7 .1 7.1-4.3 .7-.6z"/><path class=k92 d="M270.7 111.6l-.8 .5 7.1-5.1 .8-.8z"/><path class=k94 d="M271.3 111.2l-.6 .4 7.1-5.4 .6-.7z"/><path class=k97 d="M271.9 110.6l-.6 .6 7.1-5.7 .6-.8z"/><path class=k100 d="M272.5 110l-.6 .6 7.1-5.9 .6-.9z"/><path class=k102 d="M273.1 109.3l-.6 .7 7.1-6.2 .6-.8z"/><path class=k106 d="M273.7 108.6l-.6 .7 7.1-6.3 .7-1z"/><path class=k110 d="M274.3 107.8l-.6 .8 7.2-6.6 .6-1z"/><path class=k113 d="M275 106.9l-.7 .9 7.2-6.8 .6-1z"/><path class=k119 d="M275.9 105.5l-.5 .7 7.1-7 .5-.8z"/><path class=k126 d="M276.8 103.9l-.5 .8 7.2-7.1 .4-.9z"/><path class=k150 d="M280 98l-.4 .8 7.1-7.2 .4-.8z"/><path class=k161 d="M281.4 95.3l-.5 .9 7.2-7.1 .4-.9z"/><path class=k168 d="M282.3 93.5l-.4 .9 7.1-7 .4-.8z"/><path class=k172 d="M282.8 92.6l-.5 .9 7.1-6.9 .5-.8z"/><path class=k232 d="M292.8 78.6l-.8 .7 7.1-4 .8-.4z"/><path class=k235 d="M293.5 78.1l-.7 .5 7.1-3.7 .7-.3z"/><path class=k238 d="M294.4 77.6l-.9 .5 7.1-3.5 1-.3z"/><path class=k241 d="M295.4 77.1l-1 .5 7.2-3.3 .9-.2z"/><path class=k244 d="M296.3 76.8l-.9 .3 7.1-3 .9-.1z"/><path class=k246 d="M297.2 76.6l-.9 .2 7.1-2.8 .9-.1z"/><path class=k248 d="M298.1 76.4l-.9 .2 7.1-2.7 1 .1z"/><path class=k249 d="M299 76.4l-.9 0 7.2-2.4 .9 .1z"/><path class=k250 d="M300 76.4l-1 0 7.2-2.3 .9 .1z"/><path class=k252 d="M300.9 76.5l-.9-.1 7.1-2.2 .9 .2z"/><path class=k252 d="M301.8 76.6l-.9-.1 7.1-2.1 .9 .2z"/><path class=k253 d="M303.2 76.9l-1.4-.3 7.1-2 1.4 .4z"/><path class=k254 d="M306.1 77.8l-2.9-.9 7.1-1.9 2.9 1z"/><path class=k254 d="M212.6 45.3l-6.3-2.8 7.1-1.5 6.3 2.9z"/><path class=k253 d="M215.7 46.8l-3.1-1.5 7.1-1.4 3.1 1.7z"/><path class=k252 d="M217.8 48l-2.1-1.2 7.1-1.2 2.1 1.3z"/><path class=k251 d="M219.5 49l-1.7-1 7.1-1.1 1.7 1.1z"/><path class=k250 d="M220.9 49.8l-1.4-.8 7.1-1 1.4 1z"/><path class=k249 d="M222 50.5l-1.1-.7 7.1-.8 1.1 .9z"/><path class=k248 d="M222.9 51.2l-.9-.7 7.1-.6 .9 .7z"/><path class=k247 d="M223.8 51.8l-.9-.6 7.1-.6 .9 .8z"/><path class=k246 d="M224.6 52.4l-.8-.6 7.1-.4 .8 .7z"/><path class=k245 d="M225.3 53.1l-.7-.7 7.1-.3 .8 .8z"/><path class=k244 d="M226.1 53.7l-.8-.6 7.2-.2 .7 .8z"/><path class=k243 d="M226.9 54.4l-.8-.7 7.1 0 .8 .8z"/><path class=k242 d="M227.5 55l-.6-.6 7.1 .1 .6 .6z"/><path class=k240 d="M228.1 55.6l-.6-.6 7.1 .1 .6 .8z"/><path class=k239 d="M228.7 56.2l-.6-.6 7.1 .3 .6 .7z"/><path class=k238 d="M229.3 56.8l-.6-.6 7.1 .4 .6 .8z"/><path class=k236 d="M229.9 57.5l-.6-.7 7.1 .6 .7 .8z"/><path class=k235 d="M230.5 58.2l-.6-.7 7.2 .7 .6 .8z"/><path class=k233 d="M231.2 58.9l-.7-.7 7.2 .8 .6 .9z"/><path class=k232 d="M231.8 59.7l-.6-.8 7.1 1 .6 .9z"/><path class=k230 d="M232.4 60.5l-.6-.8 7.1 1.1 .6 .9z"/><path class=k228 d="M233 61.3l-.6-.8 7.1 1.2 .6 1z"/><path class=k226 d="M233.6 62.2l-.6-.9 7.1 1.4 .6 1z"/><path class=k224 d="M234.2 63.1l-.6-.9 7.1 1.5 .7 1z"/><path class=k222 d="M234.7 63.8l-.5-.7 7.2 1.6 .4 .8z"/><path class=k220 d="M235.1 64.5l-.4-.7 7.1 1.7 .5 .8z"/><path class=k218 d="M235.6 65.2l-.5-.7 7.2 1.8 .4 .8z"/><path class=k216 d="M236.1 66l-.5-.8 7.1 1.9 .5 .9z"/><path class=k214 d="M236.5 66.7l-.4-.7 7.1 2 .5 .9z"/><path class=k212 d="M237 67.5l-.5-.8 7.2 2.2 .4 .9z"/><path class=k210 d="M237.4 68.3l-.4-.8 7.1 2.3 .5 .9z"/><path class=k208 d="M237.9 69.2l-.5-.9 7.2 2.4 .4 .9z"/><path class=k206 d="M238.4 70l-.5-.8 7.1 2.4 .5 1z"/><path class=k203 d="M238.8 70.9l-.4-.9 7.1 2.6 .5 .9z"/><path class=k201 d="M239.3 71.8l-.5-.9 7.2 2.6 .4 1z"/><path class=k198 d="M239.7 72.7l-.4-.9 7.1 2.7 .5 1z"/><path class=k196 d="M240.2 73.7l-.5-1 7.2 2.8 .4 1z"/><path class=k193 d="M240.7 74.6l-.5-.9 7.1 2.8 .5 1.1z"/><path class=k191 d="M241.1 75.6l-.4-1 7.1 3 .5 1z"/><path class=k188 d="M241.6 76.6l-.5-1 7.2 3 .4 1.1z"/><path class=k185 d="M242.1 77.6l-.5-1 7.1 3.1 .5 1z"/><path class=k182 d="M242.5 78.6l-.4-1 7.1 3.1 .4 1.1z"/><path class=k179 d="M243 79.7l-.5-1.1 7.1 3.2 .5 1.1z"/><path class=k176 d="M243.4 80.8l-.4-1.1 7.1 3.2 .5 1.1z"/><path class=k173 d="M243.9 81.8l-.5-1 7.2 3.2 .4 1.1z"/><path class=k170 d="M244.4 82.9l-.5-1.1 7.1 3.3 .5 1.1z"/><path class=k167 d="M244.8 84l-.4-1.1 7.1 3.3 .4 1.1z"/><path class=k164 d="M245.3 85.1l-.5-1.1 7.1 3.3 .5 1.1z"/><path class=k161 d="M245.7 86.2l-.4-1.1 7.1 3.3 .5 1.1z"/><path class=k158 d="M246.2 87.4l-.5-1.2 7.2 3.3 .4 1.1z"/><path class=k155 d="M246.7 88.5l-.5-1.1 7.1 3.2 .5 1.1z"/><path class=k151 d="M247.1 89.6l-.4-1.1 7.1 3.2 .4 1.1z"/><path class=k148 d="M247.6 90.8l-.5-1.2 7.1 3.2 .5 1.1z"/><path class=k145 d="M248 91.9l-.4-1.1 7.1 3.1 .5 1.1z"/><path class=k142 d="M248.5 93.1l-.5-1.2 7.2 3.1 .4 1z"/><path class=k139 d="M249 94.2l-.5-1.1 7.1 2.9 .5 1.1z"/><path class=k135 d="M249.4 95.3l-.4-1.1 7.1 2.9 .4 1z"/><path class=k132 d="M249.9 96.5l-.5-1.2 7.1 2.8 .5 1z"/><path class=k129 d="M250.3 97.6l-.4-1.1 7.1 2.6 .5 1z"/><path class=k126 d="M250.8 98.7l-.5-1.1 7.2 2.5 .4 1z"/><path class=k86 d="M265.1 115.5l-.8 .3 7.1-4.7 .8-.7z"/><path class=k89 d="M265.8 115.1l-.7 .4 7.1-5.1 .8-.9z"/><path class=k91 d="M266.4 114.6l-.6 .5 7.2-5.6 .6-.7z"/><path class=k94 d="M267.1 114.1l-.7 .5 7.2-5.8 .6-.8z"/><path class=k97 d="M267.7 113.4l-.6 .7 7.1-6.1 .6-.9z"/><path class=k100 d="M268.3 112.7l-.6 .7 7.1-6.3 .6-.9z"/><path class=k103 d="M268.9 111.9l-.6 .8 7.1-6.5 .6-1z"/><path class=k106 d="M269.5 111.1l-.6 .8 7.1-6.7 .6-1z"/><path class=k110 d="M270 110.4l-.5 .7 7.1-6.9 .5-.8z"/><path class=k113 d="M270.4 109.7l-.4 .7 7.1-7 .5-.8z"/><path class=k116 d="M270.9 108.9l-.5 .8 7.2-7.1 .4-.9z"/><path class=k119 d="M271.4 108.1l-.5 .8 7.1-7.2 .5-.8z"/><path class=k123 d="M271.8 107.3l-.4 .8 7.1-7.2 .4-.9z"/><path class=k126 d="M272.3 106.5l-.5 .8 7.1-7.3 .5-.9z"/><path class=k130 d="M272.7 105.7l-.4 .8 7.1-7.4 .5-.9z"/><path class=k133 d="M273.2 104.8l-.5 .9 7.2-7.5 .4-.8z"/><path class=k166 d="M277.3 96.6l-.4 .9 7.1-7.2 .5-.8z"/><path class=k177 d="M278.7 93.9l-.4 .8 7.1-6.8 .4-.8z"/><path class=k231 d="M287.3 81.5l-.7 .7 7.1-4.2 .7-.4z"/><path class=k234 d="M288.1 80.9l-.8 .6 7.1-3.9 .8-.4z"/><path class=k237 d="M288.9 80.3l-.8 .6 7.1-3.7 .8-.3z"/><path class=k240 d="M289.8 79.8l-.9 .5 7.1-3.4 .9-.3z"/><path class=k242 d="M290.7 79.4l-.9 .4 7.1-3.2 .9-.1z"/><path class=k245 d="M291.6 79.1l-.9 .3 7.1-2.9 .9-.1z"/><path class=k247 d="M292.5 78.9l-.9 .2 7.1-2.7 1 0z"/><path class=k248 d="M293.5 78.8l-1 .1 7.2-2.5 .9 .1z"/><path class=k250 d="M294.4 78.8l-.9 0 7.1-2.3 .9 .1z"/><path class=k251 d="M295.3 78.9l-.9-.1 7.1-2.2 .9 .1z"/><path class=k252 d="M296.4 79l-1.1-.1 7.1-2.2 1.1 .3z"/><path class=k253 d="M297.9 79.3l-1.5-.3 7.1-2 1.5 .4z"/><path class=k254 d="M300.8 80.2l-2.9-.9 7.1-1.9 2.9 1z"/><path class=k254 d="M208.7 48.3l-6.2-2.8 7.2-1.5 6.1 2.9z"/><path class=k253 d="M211.8 49.8l-3.1-1.5 7.1-1.4 3.1 1.7z"/><path class=k252 d="M213.9 50.9l-2.1-1.1 7.1-1.2 2.1 1.3z"/><path class=k251 d="M215.4 51.8l-1.5-.9 7.1-1 1.6 1z"/><path class=k250 d="M216.7 52.6l-1.3-.8 7.2-.9 1.2 .9z"/><path class=k249 d="M217.9 53.4l-1.2-.8 7.1-.8 1.2 1z"/><path class=k248 d="M218.8 54.1l-.9-.7 7.1-.6 .9 .8z"/><path class=k247 d="M219.6 54.6l-.8-.5 7.1-.5 .8 .6z"/><path class=k246 d="M220.5 55.4l-.9-.8 7.1-.4 .9 .9z"/><path class=k245 d="M221.3 56l-.8-.6 7.1-.3 .8 .8z"/><path class=k244 d="M222 56.6l-.7-.6 7.1-.1 .8 .8z"/><path class=k242 d="M222.7 57.2l-.7-.6 7.2 .1 .6 .6z"/><path class=k242 d="M223.3 57.8l-.6-.6 7.1 .1 .6 .7z"/><path class=k240 d="M223.9 58.4l-.6-.6 7.1 .2 .6 .7z"/><path class=k239 d="M224.5 59l-.6-.6 7.1 .3 .6 .8z"/><path class=k238 d="M225.1 59.7l-.6-.7 7.1 .5 .6 .8z"/><path class=k236 d="M225.7 60.4l-.6-.7 7.1 .6 .6 .8z"/><path class=k234 d="M226.3 61.1l-.6-.7 7.1 .7 .7 .9z"/><path class=k233 d="M226.9 61.8l-.6-.7 7.2 .9 .6 .8z"/><path class=k231 d="M227.6 62.6l-.7-.8 7.2 1 .6 1z"/><path class=k230 d="M228.2 63.4l-.6-.8 7.1 1.2 .6 .9z"/><path class=k228 d="M228.8 64.2l-.6-.8 7.1 1.3 .6 1z"/><path class=k226 d="M229.4 65.1l-.6-.9 7.1 1.5 .6 1z"/><path class=k223 d="M229.9 65.8l-.5-.7 7.1 1.6 .5 .8z"/><path class=k222 d="M230.3 66.5l-.4-.7 7.1 1.7 .4 .8z"/><path class=k220 d="M230.8 67.2l-.5-.7 7.1 1.8 .5 .9z"/><path class=k218 d="M231.2 68l-.4-.8 7.1 2 .5 .8z"/><path class=k216 d="M231.7 68.8l-.5-.8 7.2 2 .4 .9z"/><path class=k214 d="M232.2 69.5l-.5-.7 7.1 2.1 .5 .9z"/><path class=k212 d="M232.6 70.4l-.4-.9 7.1 2.3 .4 .9z"/><path class=k210 d="M233.1 71.2l-.5-.8 7.1 2.3 .5 1z"/><path class=k207 d="M233.5 72l-.4-.8 7.1 2.5 .5 .9z"/><path class=k205 d="M234 72.9l-.5-.9 7.2 2.6 .4 1z"/><path class=k203 d="M234.5 73.8l-.5-.9 7.1 2.7 .5 1z"/><path class=k200 d="M234.9 74.7l-.4-.9 7.1 2.8 .5 1z"/><path class=k198 d="M235.4 75.7l-.5-1 7.2 2.9 .4 1z"/><path class=k195 d="M235.8 76.7l-.4-1 7.1 2.9 .5 1.1z"/><path class=k192 d="M236.3 77.6l-.5-.9 7.2 3 .4 1.1z"/><path class=k190 d="M236.8 78.6l-.5-1 7.1 3.2 .5 1z"/><path class=k187 d="M237.2 79.7l-.4-1.1 7.1 3.2 .5 1.1z"/><path class=k184 d="M237.7 80.7l-.5-1 7.2 3.2 .4 1.1z"/><path class=k181 d="M238.1 81.8l-.4-1.1 7.1 3.3 .5 1.1z"/><path class=k178 d="M238.6 82.8l-.5-1 7.2 3.3 .4 1.1z"/><path class=k175 d="M239.1 83.9l-.5-1.1 7.1 3.4 .5 1.2z"/><path class=k172 d="M239.5 85.1l-.4-1.2 7.1 3.5 .5 1.1z"/><path class=k169 d="M240 86.2l-.5-1.1 7.2 3.4 .4 1.1z"/><path class=k166 d="M240.5 87.3l-.5-1.1 7.1 3.4 .5 1.2z"/><path class=k162 d="M240.9 88.5l-.4-1.2 7.1 3.5 .4 1.1z"/><path class=k159 d="M241.4 89.6l-.5-1.1 7.1 3.4 .5 1.2z"/><path class=k156 d="M241.8 90.8l-.4-1.2 7.1 3.5 .5 1.1z"/><path class=k152 d="M242.3 91.9l-.5-1.1 7.2 3.4 .4 1.1z"/><path class=k149 d="M242.8 93.1l-.5-1.2 7.1 3.4 .5 1.2z"/><path class=k146 d="M243.2 94.3l-.4-1.2 7.1 3.4 .4 1.1z"/><path class=k142 d="M243.7 95.5l-.5-1.2 7.1 3.3 .5 1.1z"/><path class=k139 d="M244.1 96.6l-.4-1.1 7.1 3.2 .5 1.1z"/><path class=k136 d="M244.6 97.8l-.5-1.2 7.2 3.2 .4 1z"/><path class=k132 d="M245.1 99l-.5-1.2 7.1 3 .5 1.1z"/><path class=k129 d="M245.5 100.1l-.4-1.1 7.1 2.9 .4 1z"/><path class=k126 d="M246 101.3l-.5-1.2 7.1 2.8 .5 1z"/><path class=k81 d="M259.5 119.3l-.8 .2 7.1-4.4 .8-.6z"/><path class=k86 d="M260.9 118.7l-.7 .3 7.2-5.2 .6-.7z"/><path class=k88 d="M261.5 118.2l-.6 .5 7.1-5.6 .6-.8z"/><path class=k90 d="M262.1 117.7l-.6 .5 7.1-5.9 .6-.8z"/><path class=k93 d="M262.7 117l-.6 .7 7.1-6.2 .6-.9z"/><path class=k96 d="M263.3 116.3l-.6 .7 7.1-6.4 .6-.9z"/><path class=k100 d="M263.9 115.5l-.6 .8 7.1-6.6 .7-1z"/><path class=k103 d="M264.4 114.9l-.5 .6 7.2-6.8 .4-.8z"/><path class=k106 d="M264.8 114.2l-.4 .7 7.1-7 .5-.8z"/><path class=k109 d="M265.3 113.5l-.5 .7 7.2-7.1 .4-.9z"/><path class=k112 d="M265.8 112.7l-.5 .8 7.1-7.3 .5-.8z"/><path class=k115 d="M266.2 111.9l-.4 .8 7.1-7.3 .5-.9z"/><path class=k118 d="M266.7 111.1l-.5 .8 7.2-7.4 .4-.9z"/><path class=k122 d="M267.1 110.2l-.4 .9 7.1-7.5 .5-.9z"/><path class=k125 d="M267.6 109.4l-.5 .8 7.2-7.5 .4-.9z"/><path class=k129 d="M268.1 108.5l-.5 .9 7.1-7.6 .5-.9z"/><path class=k133 d="M268.5 107.6l-.4 .9 7.1-7.6 .5-1z"/><path class=k136 d="M269 106.6l-.5 1 7.2-7.7 .4-.9z"/><path class=k232 d="M282.6 83.7l-.7 .6 7.1-4 .8-.5z"/><path class=k235 d="M283.4 83.1l-.8 .6 7.2-3.9 .7-.3z"/><path class=k238 d="M284.2 82.6l-.8 .5 7.1-3.6 .8-.3z"/><path class=k241 d="M285.1 82.1l-.9 .5 7.1-3.4 .9-.2z"/><path class=k244 d="M286 81.7l-.9 .4 7.1-3.1 .9-.1z"/><path class=k246 d="M286.9 81.5l-.9 .2 7.1-2.8 1-.1z"/><path class=k248 d="M287.9 81.3l-1 .2 7.2-2.7 .9 0z"/><path class=k249 d="M288.8 81.2l-.9 .1 7.1-2.5 .9 .1z"/><path class=k251 d="M289.7 81.3l-.9-.1 7.1-2.3 .9 .2z"/><path class=k252 d="M290.6 81.3l-.9 0 7.1-2.2 1 .2z"/><path class=k252 d="M291.5 81.5l-.9-.2 7.2-2 .9 .2z"/><path class=k253 d="M292.6 81.7l-1.1-.2 7.2-2 1 .3z"/><path class=k254 d="M295.4 82.5l-2.8-.8 7.1-1.9 2.8 1z"/><path class=k254 d="M204.8 51.2l-6.2-2.7 7.2-1.6 6.1 3z"/><path class=k253 d="M207.9 52.7l-3.1-1.5 7.1-1.3 3.1 1.7z"/><path class=k252 d="M209.8 53.8l-1.9-1.1 7.1-1.1 2 1.2z"/><path class=k251 d="M211.4 54.7l-1.6-.9 7.2-1 1.5 1z"/><path class=k250 d="M212.8 55.6l-1.4-.9 7.1-.9 1.4 1.1z"/><path class=k249 d="M213.8 56.3l-1-.7 7.1-.7 1.1 .8z"/><path class=k248 d="M214.8 57l-1-.7 7.2-.6 .9 .8z"/><path class=k247 d="M215.5 57.5l-.7-.5 7.1-.5 .8 .7z"/><path class=k246 d="M216.3 58.1l-.8-.6 7.2-.3 .7 .7z"/><path class=k245 d="M217.1 58.8l-.8-.7 7.1-.2 .8 .8z"/><path class=k244 d="M217.8 59.4l-.7-.6 7.1-.1 .8 .8z"/><path class=k242 d="M218.4 60l-.6-.6 7.2 .1 .6 .7z"/><path class=k242 d="M219.1 60.6l-.7-.6 7.2 .2 .6 .7z"/><path class=k240 d="M219.7 61.2l-.6-.6 7.1 .3 .6 .7z"/><path class=k239 d="M220.3 61.8l-.6-.6 7.1 .4 .6 .8z"/><path class=k238 d="M220.9 62.5l-.6-.7 7.1 .6 .6 .8z"/><path class=k236 d="M221.5 63.2l-.6-.7 7.1 .7 .6 .8z"/><path class=k234 d="M222.1 63.9l-.6-.7 7.1 .8 .6 .9z"/><path class=k233 d="M222.7 64.7l-.6-.8 7.1 1 .7 .9z"/><path class=k231 d="M223.4 65.5l-.7-.8 7.2 1.1 .6 1z"/><path class=k229 d="M224 66.3l-.6-.8 7.1 1.3 .6 .9z"/><path class=k227 d="M224.6 67.2l-.6-.9 7.1 1.4 .6 1.1z"/><path class=k225 d="M225 67.8l-.4-.6 7.1 1.6 .5 .7z"/><path class=k224 d="M225.5 68.5l-.5-.7 7.2 1.7 .4 .9z"/><path class=k222 d="M226 69.3l-.5-.8 7.1 1.9 .5 .8z"/><path class=k220 d="M226.4 70l-.4-.7 7.1 1.9 .4 .8z"/><path class=k218 d="M226.9 70.8l-.5-.8 7.1 2 .5 .9z"/><path class=k216 d="M227.3 71.5l-.4-.7 7.1 2.1 .5 .9z"/><path class=k214 d="M227.8 72.3l-.5-.8 7.2 2.3 .4 .9z"/><path class=k212 d="M228.3 73.2l-.5-.9 7.1 2.4 .5 1z"/><path class=k209 d="M228.7 74l-.4-.8 7.1 2.5 .4 1z"/><path class=k207 d="M229.2 74.9l-.5-.9 7.1 2.7 .5 .9z"/><path class=k205 d="M229.6 75.8l-.4-.9 7.1 2.7 .5 1z"/><path class=k202 d="M230.1 76.7l-.5-.9 7.2 2.8 .4 1.1z"/><path class=k200 d="M230.6 77.7l-.5-1 7.1 3 .5 1z"/><path class=k197 d="M231 78.6l-.4-.9 7.1 3 .4 1.1z"/><path class=k194 d="M231.5 79.6l-.5-1 7.1 3.2 .5 1z"/><path class=k192 d="M231.9 80.7l-.4-1.1 7.1 3.2 .5 1.1z"/><path class=k189 d="M232.4 81.7l-.5-1 7.2 3.2 .4 1.2z"/><path class=k186 d="M232.9 82.7l-.5-1 7.1 3.4 .5 1.1z"/><path class=k183 d="M233.3 83.8l-.4-1.1 7.1 3.5 .5 1.1z"/><path class=k180 d="M233.8 84.9l-.5-1.1 7.2 3.5 .4 1.2z"/><path class=k177 d="M234.2 86l-.4-1.1 7.1 3.6 .5 1.1z"/><path class=k174 d="M234.7 87.2l-.5-1.2 7.2 3.6 .4 1.2z"/><path class=k170 d="M235.2 88.3l-.5-1.1 7.1 3.6 .5 1.1z"/><path class=k167 d="M235.6 89.5l-.4-1.2 7.1 3.6 .5 1.2z"/><path class=k164 d="M236.1 90.6l-.5-1.1 7.2 3.6 .4 1.2z"/><path class=k160 d="M236.5 91.8l-.4-1.2 7.1 3.7 .5 1.2z"/><path class=k157 d="M237 93l-.5-1.2 7.2 3.7 .4 1.1z"/><path class=k154 d="M237.5 94.2l-.5-1.2 7.1 3.6 .5 1.2z"/><path class=k150 d="M237.9 95.4l-.4-1.2 7.1 3.6 .5 1.2z"/><path class=k147 d="M238.4 96.6l-.5-1.2 7.2 3.6 .4 1.1z"/><path class=k143 d="M238.8 97.8l-.4-1.2 7.1 3.5 .5 1.2z"/><path class=k140 d="M239.3 99.1l-.5-1.3 7.2 3.5 .4 1.1z"/><path class=k136 d="M239.8 100.3l-.5-1.2 7.1 3.3 .5 1.1z"/><path class=k133 d="M240.2 101.5l-.4-1.2 7.1 3.2 .5 1.1z"/><path class=k129 d="M240.7 102.7l-.5-1.2 7.2 3.1 .4 1.1z"/><path class=k78 d="M254.8 122.8l-.8 .2 7.2-4.5 .7-.7z"/><path class=k83 d="M256.2 122.1l-.6 .4 7.1-5.5 .6-.7z"/><path class=k85 d="M256.8 121.6l-.6 .5 7.1-5.8 .6-.8z"/><path class=k88 d="M257.4 121l-.6 .6 7.1-6.1 .6-.8z"/><path class=k91 d="M258 120.3l-.6 .7 7.1-6.3 .7-1z"/><path class=k94 d="M258.6 119.6l-.6 .7 7.2-6.6 .6-1z"/><path class=k97 d="M259.1 118.9l-.5 .7 7.2-6.9 .4-.8z"/><path class=k100 d="M259.6 118.3l-.5 .6 7.1-7 .5-.8z"/><path class=k103 d="M260 117.5l-.4 .8 7.1-7.2 .4-.9z"/><path class=k106 d="M260.5 116.8l-.5 .7 7.1-7.3 .5-.8z"/><path class=k109 d="M260.9 116l-.4 .8 7.1-7.4 .5-.9z"/><path class=k113 d="M261.4 115.2l-.5 .8 7.2-7.5 .4-.9z"/><path class=k116 d="M261.9 114.3l-.5 .9 7.1-7.6 .5-1z"/><path class=k120 d="M262.3 113.4l-.4 .9 7.1-7.7 .5-.9z"/><path class=k123 d="M262.8 112.5l-.5 .9 7.2-7.7 .4-.9z"/><path class=k127 d="M263.2 111.6l-.4 .9 7.1-7.7 .5-1z"/><path class=k131 d="M263.7 110.7l-.5 .9 7.2-7.8 .4-1z"/><path class=k135 d="M264.2 109.7l-.5 1 7.1-7.9 .5-.9z"/><path class=k139 d="M264.6 108.7l-.4 1 7.1-7.8 .5-1z"/><path class=k143 d="M265.1 107.7l-.5 1 7.2-7.8 .4-.9z"/><path class=k147 d="M265.5 106.7l-.4 1 7.1-7.7 .5-1z"/><path class=k236 d="M278.4 85.5l-.7 .6 7.1-3.9 .8-.3z"/><path class=k239 d="M279.2 85l-.8 .5 7.2-3.6 .7-.3z"/><path class=k241 d="M280.1 84.5l-.9 .5 7.1-3.4 1-.2z"/><path class=k244 d="M281 84.1l-.9 .4 7.2-3.1 .9-.1z"/><path class=k246 d="M282 83.9l-1 .2 7.2-2.8 .9-.1z"/><path class=k248 d="M282.9 83.7l-.9 .2 7.1-2.7 .9 .1z"/><path class=k250 d="M283.8 83.7l-.9 0 7.1-2.4 .9 .1z"/><path class=k251 d="M284.7 83.7l-.9 0 7.1-2.3 1 .1z"/><path class=k252 d="M285.8 83.8l-1.1-.1 7.2-2.2 1 .3z"/><path class=k253 d="M287.2 84.1l-1.4-.3 7.1-2 1.4 .4z"/><path class=k254 d="M289.9 84.8l-2.7-.7 7.1-1.9 2.8 .9z"/><path class=k254 d="M201 54.2l-6.1-2.7 7.1-1.6 6.2 3z"/><path class=k253 d="M204 55.7l-3-1.5 7.2-1.3 2.9 1.6z"/><path class=k252 d="M205.9 56.8l-1.9-1.1 7.1-1.2 2 1.3z"/><path class=k251 d="M207.5 57.7l-1.6-.9 7.2-1 1.5 1.1z"/><path class=k250 d="M208.7 58.5l-1.2-.8 7.1-.8 1.2 .9z"/><path class=k249 d="M209.8 59.2l-1.1-.7 7.1-.7 1.1 .9z"/><path class=k248 d="M210.7 59.9l-.9-.7 7.1-.5 .9 .7z"/><path class=k247 d="M211.5 60.4l-.8-.5 7.1-.5 .8 .8z"/><path class=k246 d="M212.2 61.1l-.7-.7 7.1-.2 .8 .7z"/><path class=k245 d="M213 61.7l-.8-.6 7.2-.2 .7 .8z"/><path class=k244 d="M213.6 62.2l-.6-.5 7.1 0 .6 .6z"/><path class=k243 d="M214.2 62.8l-.6-.6 7.1 .1 .7 .7z"/><path class=k242 d="M214.8 63.4l-.6-.6 7.2 .2 .6 .7z"/><path class=k240 d="M215.5 64l-.7-.6 7.2 .3 .6 .8z"/><path class=k239 d="M216.1 64.7l-.6-.7 7.1 .5 .6 .8z"/><path class=k238 d="M216.7 65.3l-.6-.6 7.1 .6 .6 .8z"/><path class=k236 d="M217.3 66l-.6-.7 7.1 .8 .6 .9z"/><path class=k234 d="M217.9 66.8l-.6-.8 7.1 1 .6 .8z"/><path class=k233 d="M218.5 67.6l-.6-.8 7.1 1 .7 1z"/><path class=k231 d="M219.1 68.4l-.6-.8 7.2 1.2 .6 .9z"/><path class=k229 d="M219.8 69.2l-.7-.8 7.2 1.3 .6 1.1z"/><path class=k227 d="M220.2 69.9l-.4-.7 7.1 1.6 .4 .7z"/><path class=k225 d="M220.7 70.6l-.5-.7 7.1 1.6 .5 .8z"/><path class=k224 d="M221.1 71.3l-.4-.7 7.1 1.7 .5 .9z"/><path class=k222 d="M221.6 72l-.5-.7 7.2 1.9 .4 .8z"/><path class=k220 d="M222.1 72.7l-.5-.7 7.1 2 .5 .9z"/><path class=k218 d="M222.5 73.5l-.4-.8 7.1 2.2 .4 .9z"/><path class=k216 d="M223 74.3l-.5-.8 7.1 2.3 .5 .9z"/><path class=k214 d="M223.4 75.1l-.4-.8 7.1 2.4 .5 1z"/><path class=k212 d="M223.9 76l-.5-.9 7.2 2.6 .4 .9z"/><path class=k209 d="M224.4 76.9l-.5-.9 7.1 2.6 .5 1z"/><path class=k207 d="M224.8 77.8l-.4-.9 7.1 2.7 .4 1.1z"/><path class=k204 d="M225.3 78.7l-.5-.9 7.1 2.9 .5 1z"/><path class=k202 d="M225.7 79.6l-.4-.9 7.1 3 .5 1z"/><path class=k199 d="M226.2 80.6l-.5-1 7.2 3.1 .4 1.1z"/><path class=k197 d="M226.7 81.6l-.5-1 7.1 3.2 .5 1.1z"/><path class=k194 d="M227.1 82.6l-.4-1 7.1 3.3 .4 1.1z"/><path class=k191 d="M227.6 83.7l-.5-1.1 7.1 3.4 .5 1.2z"/><path class=k188 d="M228 84.7l-.4-1 7.1 3.5 .5 1.1z"/><path class=k185 d="M228.5 85.8l-.5-1.1 7.2 3.6 .4 1.2z"/><path class=k182 d="M229 86.9l-.5-1.1 7.1 3.7 .5 1.1z"/><path class=k179 d="M229.4 88.1l-.4-1.2 7.1 3.7 .4 1.2z"/><path class=k175 d="M229.9 89.2l-.5-1.1 7.1 3.7 .5 1.2z"/><path class=k172 d="M230.3 90.4l-.4-1.2 7.1 3.8 .5 1.2z"/><path class=k169 d="M230.8 91.6l-.5-1.2 7.2 3.8 .4 1.2z"/><path class=k165 d="M231.3 92.8l-.5-1.2 7.1 3.8 .5 1.2z"/><path class=k162 d="M231.7 94l-.4-1.2 7.1 3.8 .4 1.2z"/><path class=k158 d="M232.2 95.2l-.5-1.2 7.1 3.8 .5 1.3z"/><path class=k155 d="M232.6 96.4l-.4-1.2 7.1 3.9 .5 1.2z"/><path class=k151 d="M233.1 97.7l-.5-1.3 7.2 3.9 .4 1.2z"/><path class=k148 d="M233.6 98.9l-.5-1.2 7.1 3.8 .5 1.2z"/><path class=k144 d="M234 100.2l-.4-1.3 7.1 3.8 .5 1.2z"/><path class=k140 d="M234.5 101.4l-.5-1.2 7.2 3.7 .4 1.1z"/><path class=k137 d="M234.9 102.7l-.4-1.3 7.1 3.6 .5 1.2z"/><path class=k133 d="M235.4 104l-.5-1.3 7.2 3.5 .4 1.1z"/><path class=k130 d="M235.9 105.2l-.5-1.2 7.1 3.3 .5 1.2z"/><path class=k78 d="M250.9 126l-.6 .3 7.1-5.3 .6-.7z"/><path class=k80 d="M251.5 125.5l-.6 .5 7.1-5.7 .6-.7z"/><path class=k85 d="M252.7 124.4l-.6 .6 7.2-6.3 .6-.9z"/><path class=k88 d="M253.4 123.6l-.7 .8 7.2-6.6 .6-1z"/><path class=k91 d="M253.8 123l-.4 .6 7.1-6.8 .4-.8z"/><path class=k94 d="M254.3 122.4l-.5 .6 7.1-7 .5-.8z"/><path class=k97 d="M254.7 121.7l-.4 .7 7.1-7.2 .5-.9z"/><path class=k100 d="M255.2 120.9l-.5 .8 7.2-7.4 .4-.9z"/><path class=k103 d="M255.7 120.2l-.5 .7 7.1-7.5 .5-.9z"/><path class=k107 d="M256.1 119.3l-.4 .9 7.1-7.7 .4-.9z"/><path class=k110 d="M256.6 118.5l-.5 .8 7.1-7.7 .5-.9z"/><path class=k114 d="M257 117.6l-.4 .9 7.1-7.8 .5-1z"/><path class=k118 d="M257.5 116.7l-.5 .9 7.2-7.9 .4-1z"/><path class=k121 d="M258 115.7l-.5 1 7.1-8 .5-1z"/><path class=k125 d="M258.4 114.7l-.4 1 7.1-8 .4-1z"/><path class=k129 d="M258.9 113.8l-.5 .9 7.1-8 .5-1z"/><path class=k133 d="M259.3 112.7l-.4 1.1 7.1-8.1 .5-1z"/><path class=k137 d="M259.8 111.7l-.5 1 7.2-8 .4-1z"/><path class=k141 d="M260.3 110.7l-.5 1 7.1-8 .5-1z"/><path class=k145 d="M260.7 109.7l-.4 1 7.1-8 .5-1z"/><path class=k149 d="M261.2 108.6l-.5 1.1 7.2-8 .4-.9z"/><path class=k154 d="M261.6 107.6l-.4 1 7.1-7.8 .5-1z"/><path class=k229 d="M271.8 89.4l-.6 .7 7.1-4.5 .6-.4z"/><path class=k232 d="M272.5 88.7l-.7 .7 7.1-4.2 .8-.5z"/><path class=k235 d="M273.3 88l-.8 .7 7.2-4 .7-.3z"/><path class=k238 d="M274.1 87.5l-.8 .5 7.1-3.6 .8-.3z"/><path class=k241 d="M275 87l-.9 .5 7.1-3.4 .9-.3z"/><path class=k244 d="M275.9 86.6l-.9 .4 7.1-3.2 .9-.1z"/><path class=k246 d="M276.8 86.3l-.9 .3 7.1-2.9 1 0z"/><path class=k248 d="M277.8 86.1l-1 .2 7.2-2.6 .9 0z"/><path class=k250 d="M278.7 86.1l-.9 0 7.1-2.4 .9 .1z"/><path class=k251 d="M279.6 86.1l-.9 0 7.1-2.3 .9 .2z"/><path class=k252 d="M280.5 86.2l-.9-.1 7.1-2.1 .9 .2z"/><path class=k253 d="M281.9 86.4l-1.4-.2 7.1-2 1.4 .4z"/><path class=k254 d="M284.4 87.1l-2.5-.7 7.1-1.8 2.5 .8z"/><path class=k254 d="M197.1 57.2l-5.8-2.6 7.1-1.6 5.9 2.9z"/><path class=k253 d="M200 58.6l-2.9-1.4 7.2-1.3 2.9 1.6z"/><path class=k252 d="M201.9 59.7l-1.9-1.1 7.2-1.1 1.8 1.2z"/><path class=k251 d="M203.4 60.6l-1.5-.9 7.1-1 1.5 1z"/><path class=k250 d="M204.7 61.3l-1.3-.7 7.1-.9 1.3 1z"/><path class=k249 d="M205.7 62.1l-1-.8 7.1-.6 1.1 .9z"/><path class=k248 d="M206.6 62.7l-.9-.6 7.2-.5 .9 .8z"/><path class=k247 d="M207.4 63.3l-.8-.6 7.2-.3 .7 .7z"/><path class=k246 d="M208.2 64l-.8-.7 7.1-.2 .8 .8z"/><path class=k245 d="M208.9 64.6l-.7-.6 7.1-.1 .8 .8z"/><path class=k244 d="M209.6 65.2l-.7-.6 7.2 .1 .6 .6z"/><path class=k242 d="M210.2 65.7l-.6-.5 7.1 .1 .6 .7z"/><path class=k242 d="M210.8 66.3l-.6-.6 7.1 .3 .6 .8z"/><path class=k240 d="M211.4 67l-.6-.7 7.1 .5 .6 .8z"/><path class=k239 d="M212 67.6l-.6-.6 7.1 .6 .6 .8z"/><path class=k238 d="M212.6 68.3l-.6-.7 7.1 .8 .7 .8z"/><path class=k236 d="M213.2 69.1l-.6-.8 7.2 .9 .6 .9z"/><path class=k234 d="M213.9 69.8l-.7-.7 7.2 1 .6 .9z"/><path class=k232 d="M214.5 70.6l-.6-.8 7.1 1.2 .6 1z"/><path class=k230 d="M215.1 71.5l-.6-.9 7.1 1.4 .6 1z"/><path class=k228 d="M215.5 72.1l-.4-.6 7.1 1.5 .5 .8z"/><path class=k227 d="M216 72.8l-.5-.7 7.2 1.7 .4 .8z"/><path class=k225 d="M216.5 73.5l-.5-.7 7.1 1.8 .5 .8z"/><path class=k223 d="M216.9 74.2l-.4-.7 7.1 1.9 .5 .9z"/><path class=k221 d="M217.4 75l-.5-.8 7.2 2.1 .4 .9z"/><path class=k219 d="M217.8 75.7l-.4-.7 7.1 2.2 .5 .9z"/><path class=k217 d="M218.3 76.5l-.5-.8 7.2 2.4 .4 .9z"/><path class=k215 d="M218.8 77.4l-.5-.9 7.1 2.5 .5 1z"/><path class=k213 d="M219.2 78.2l-.4-.8 7.1 2.6 .5 .9z"/><path class=k211 d="M219.7 79.1l-.5-.9 7.2 2.7 .4 1z"/><path class=k208 d="M220.1 80l-.4-.9 7.1 2.8 .5 1.1z"/><path class=k206 d="M220.6 80.9l-.5-.9 7.2 3 .4 1z"/><path class=k203 d="M221.1 81.9l-.5-1 7.1 3.1 .5 1.1z"/><path class=k201 d="M221.5 82.9l-.4-1 7.1 3.2 .5 1.1z"/><path class=k198 d="M222 83.9l-.5-1 7.2 3.3 .4 1.1z"/><path class=k195 d="M222.5 84.9l-.5-1 7.1 3.4 .5 1.1z"/><path class=k192 d="M222.9 86l-.4-1.1 7.1 3.5 .4 1.2z"/><path class=k189 d="M223.4 87.1l-.5-1.1 7.1 3.6 .5 1.2z"/><path class=k186 d="M223.8 88.2l-.4-1.1 7.1 3.7 .5 1.2z"/><path class=k183 d="M224.3 89.3l-.5-1.1 7.2 3.8 .4 1.2z"/><path class=k179 d="M224.8 90.5l-.5-1.2 7.1 3.9 .5 1.2z"/><path class=k176 d="M225.2 91.6l-.4-1.1 7.1 3.9 .4 1.2z"/><path class=k173 d="M225.7 92.8l-.5-1.2 7.1 4 .5 1.3z"/><path class=k169 d="M226.1 94l-.4-1.2 7.1 4.1 .5 1.2z"/><path class=k166 d="M226.6 95.3l-.5-1.3 7.2 4.1 .4 1.3z"/><path class=k162 d="M227.1 96.5l-.5-1.2 7.1 4.1 .5 1.2z"/><path class=k159 d="M227.5 97.8l-.4-1.3 7.1 4.1 .4 1.3z"/><path class=k156 d="M227.8 98.6l-.3-.8 7.1 4.1 .3 .8z"/><path class=k153 d="M228.1 99.5l-.3-.9 7.1 4.1 .4 .8z"/><path class=k150 d="M228.4 100.3l-.3-.8 7.2 4 .3 .9z"/><path class=k148 d="M228.7 101.2l-.3-.9 7.2 4.1 .3 .8z"/><path class=k146 d="M229 102.1l-.3-.9 7.2 4 .3 .8z"/><path class=k143 d="M229.4 102.9l-.4-.8 7.2 3.9 .3 .8z"/><path class=k140 d="M229.7 103.8l-.3-.9 7.1 3.9 .3 .9z"/><path class=k138 d="M230 104.7l-.3-.9 7.1 3.9 .3 .8z"/><path class=k136 d="M230.3 105.5l-.3-.8 7.1 3.8 .3 .8z"/><path class=k133 d="M230.6 106.4l-.3-.9 7.1 3.8 .3 .8z"/><path class=k130 d="M230.9 107.3l-.3-.9 7.1 3.7 .3 .8z"/><path class=k71 d="M245 130.1l-.8 .2 7.2-4.6 .7-.7z"/><path class=k73 d="M245.8 129.8l-.8 .3 7.1-5.1 .8-.8z"/><path class=k75 d="M246.4 129.4l-.6 .4 7.1-5.6 .6-.7z"/><path class=k78 d="M247 128.9l-.6 .5 7.1-5.9 .6-.9z"/><path class=k80 d="M247.6 128.3l-.6 .6 7.1-6.3 .6-.9z"/><path class=k84 d="M248.2 127.6l-.6 .7 7.1-6.6 .7-1z"/><path class=k86 d="M248.7 127l-.5 .6 7.2-6.9 .4-.8z"/><path class=k89 d="M249.2 126.3l-.5 .7 7.1-7.1 .5-.9z"/><path class=k92 d="M249.6 125.6l-.4 .7 7.1-7.3 .4-.8z"/><path class=k95 d="M250.1 124.9l-.5 .7 7.1-7.4 .5-.9z"/><path class=k98 d="M250.5 124.1l-.4 .8 7.1-7.6 .5-1z"/><path class=k102 d="M251 123.3l-.5 .8 7.2-7.8 .4-.9z"/><path class=k105 d="M251.5 122.4l-.5 .9 7.1-7.9 .5-1z"/><path class=k109 d="M251.9 121.5l-.4 .9 7.1-8 .4-1z"/><path class=k113 d="M252.4 120.5l-.5 1 7.1-8.1 .5-1z"/><path class=k117 d="M252.8 119.6l-.4 .9 7.1-8.1 .5-1z"/><path class=k121 d="M253.3 118.6l-.5 1 7.2-8.2 .4-1z"/><path class=k125 d="M253.8 117.6l-.5 1 7.1-8.2 .5-1.1z"/><path class=k129 d="M254.2 116.5l-.4 1.1 7.1-8.3 .4-1z"/><path class=k133 d="M254.7 115.5l-.5 1 7.1-8.2 .5-1.1z"/><path class=k137 d="M255.1 114.4l-.4 1.1 7.1-8.3 .5-1z"/><path class=k141 d="M255.6 113.3l-.5 1.1 7.2-8.2 .4-1z"/><path class=k146 d="M256.1 112.2l-.5 1.1 7.1-8.1 .5-1.1z"/><path class=k150 d="M256.5 111.1l-.4 1.1 7.1-8.1 .4-1z"/><path class=k154 d="M257 110.1l-.5 1 7.1-8 .5-1z"/><path class=k158 d="M257.4 109l-.4 1.1 7.1-8 .5-1z"/><path class=k163 d="M257.9 107.9l-.5 1.1 7.2-7.9 .4-.9z"/><path class=k235 d="M268 90.7l-.7 .7 7.1-4.1 .7-.4z"/><path class=k238 d="M268.8 90.1l-.8 .6 7.1-3.8 .8-.3z"/><path class=k240 d="M269.6 89.6l-.8 .5 7.1-3.5 .8-.3z"/><path class=k243 d="M270.5 89.1l-.9 .5 7.1-3.3 .9-.1z"/><path class=k246 d="M271.4 88.8l-.9 .3 7.1-2.9 .9-.1z"/><path class=k248 d="M272.3 88.6l-.9 .2 7.1-2.7 .9 0z"/><path class=k250 d="M273.2 88.5l-.9 .1 7.1-2.5 1 .1z"/><path class=k251 d="M274.2 88.5l-1 0 7.2-2.3 .9 .1z"/><path class=k252 d="M275.1 88.6l-.9-.1 7.1-2.2 .9 .2z"/><path class=k253 d="M276.5 88.8l-1.4-.2 7.1-2.1 1.4 .4z"/><path class=k254 d="M278.9 89.5l-2.4-.7 7.1-1.9 2.4 .8z"/><path class=k254 d="M193.2 60.1l-5.6-2.5 7.1-1.6 5.7 2.8z"/><path class=k253 d="M196.1 61.6l-2.9-1.5 7.2-1.3 2.9 1.7z"/><path class=k252 d="M198 62.6l-1.9-1 7.2-1.1 1.8 1.2z"/><path class=k251 d="M199.5 63.5l-1.5-.9 7.1-.9 1.5 1z"/><path class=k250 d="M200.6 64.2l-1.1-.7 7.1-.8 1.1 .9z"/><path class=k249 d="M201.7 65l-1.1-.8 7.1-.6 1.1 .9z"/><path class=k248 d="M202.6 65.6l-.9-.6 7.1-.5 .9 .8z"/><path class=k247 d="M203.4 66.2l-.8-.6 7.1-.3 .8 .7z"/><path class=k246 d="M204.1 66.9l-.7-.7 7.1-.2 .7 .8z"/><path class=k245 d="M204.9 67.5l-.8-.6 7.1-.1 .8 .8z"/><path class=k244 d="M205.5 68.1l-.6-.6 7.1 .1 .6 .7z"/><path class=k242 d="M206.1 68.7l-.6-.6 7.1 .2 .6 .8z"/><path class=k241 d="M206.7 69.3l-.6-.6 7.1 .4 .7 .7z"/><path class=k240 d="M207.3 69.9l-.6-.6 7.2 .5 .6 .8z"/><path class=k238 d="M208 70.6l-.7-.7 7.2 .7 .6 .9z"/><path class=k237 d="M208.6 71.3l-.6-.7 7.1 .9 .6 .8z"/><path class=k236 d="M209.2 72.1l-.6-.8 7.1 1 .6 .9z"/><path class=k234 d="M209.8 72.9l-.6-.8 7.1 1.1 .6 1z"/><path class=k232 d="M210.4 73.7l-.6-.8 7.1 1.3 .6 1z"/><path class=k230 d="M210.9 74.3l-.5-.6 7.1 1.5 .5 .8z"/><path class=k228 d="M211.3 75l-.4-.7 7.1 1.7 .5 .8z"/><path class=k227 d="M211.8 75.7l-.5-.7 7.2 1.8 .4 .8z"/><path class=k225 d="M212.3 76.4l-.5-.7 7.1 1.9 .5 .9z"/><path class=k223 d="M212.7 77.2l-.4-.8 7.1 2.1 .4 .9z"/><path class=k221 d="M213.2 77.9l-.5-.7 7.1 2.2 .5 .9z"/><path class=k219 d="M213.6 78.7l-.4-.8 7.1 2.4 .5 .9z"/><path class=k217 d="M214.1 79.5l-.5-.8 7.2 2.5 .4 1z"/><path class=k215 d="M214.6 80.4l-.5-.9 7.1 2.7 .5 1z"/><path class=k212 d="M215 81.3l-.4-.9 7.1 2.8 .4 1z"/><path class=k210 d="M215.5 82.2l-.5-.9 7.1 2.9 .5 1.1z"/><path class=k207 d="M215.9 83.1l-.4-.9 7.1 3.1 .5 1z"/><path class=k205 d="M216.4 84.1l-.5-1 7.2 3.2 .4 1.1z"/><path class=k202 d="M216.9 85.1l-.5-1 7.1 3.3 .5 1.1z"/><path class=k199 d="M217.3 86.1l-.4-1 7.1 3.4 .4 1.2z"/><path class=k196 d="M217.8 87.2l-.5-1.1 7.1 3.6 .5 1.1z"/><path class=k193 d="M218.2 88.2l-.4-1 7.1 3.6 .5 1.2z"/><path class=k190 d="M218.7 89.3l-.5-1.1 7.2 3.8 .4 1.2z"/><path class=k187 d="M219.2 90.5l-.5-1.2 7.1 3.9 .5 1.3z"/><path class=k184 d="M219.6 91.6l-.4-1.1 7.1 4 .4 1.2z"/><path class=k181 d="M220.1 92.8l-.5-1.2 7.1 4.1 .5 1.2z"/><path class=k177 d="M220.5 94l-.4-1.2 7.1 4.1 .5 1.3z"/><path class=k174 d="M220.9 94.8l-.4-.8 7.2 4.2 .3 .9z"/><path class=k172 d="M221.2 95.7l-.3-.9 7.1 4.3 .3 .8z"/><path class=k170 d="M221.5 96.5l-.3-.8 7.1 4.2 .3 .9z"/><path class=k167 d="M221.8 97.3l-.3-.8 7.1 4.3 .3 .8z"/><path class=k164 d="M222.1 98.2l-.3-.9 7.1 4.3 .3 .9z"/><path class=k162 d="M222.4 99l-.3-.8 7.1 4.3 .3 .9z"/><path class=k160 d="M222.7 99.9l-.3-.9 7.1 4.4 .3 .8z"/><path class=k157 d="M223 100.8l-.3-.9 7.1 4.3 .3 .9z"/><path class=k154 d="M223.3 101.7l-.3-.9 7.1 4.3 .3 .9z"/><path class=k152 d="M223.6 102.5l-.3-.8 7.1 4.3 .3 .8z"/><path class=k150 d="M223.9 103.4l-.3-.9 7.1 4.3 .3 .9z"/><path class=k146 d="M224.2 104.3l-.3-.9 7.1 4.3 .4 .9z"/><path class=k144 d="M224.5 105.2l-.3-.9 7.2 4.3 .3 .8z"/><path class=k142 d="M224.8 106.1l-.3-.9 7.2 4.2 .3 .9z"/><path class=k139 d="M225.1 107l-.3-.9 7.2 4.2 .3 .8z"/><path class=k136 d="M225.5 107.9l-.4-.9 7.2 4.1 .3 .8z"/><path class=k134 d="M225.8 108.8l-.3-.9 7.1 4 .3 .9z"/><path class=k131 d="M226.1 109.7l-.3-.9 7.1 4 .3 .8z"/><path class=k67 d="M240 133.8l-.7 .1 7.1-4.5 .8-.6z"/><path class=k69 d="M240.8 133.5l-.8 .3 7.2-5 .7-.9z"/><path class=k71 d="M241.4 133.2l-.6 .3 7.1-5.6 .6-.7z"/><path class=k73 d="M242 132.7l-.6 .5 7.1-6 .7-.9z"/><path class=k76 d="M242.6 132.1l-.6 .6 7.2-6.4 .6-.9z"/><path class=k79 d="M243.3 131.4l-.7 .7 7.2-6.7 .6-1z"/><path class=k82 d="M243.7 130.8l-.4 .6 7.1-7 .4-.9z"/><path class=k85 d="M244.2 130.1l-.5 .7 7.1-7.3 .5-.8z"/><path class=k88 d="M244.6 129.4l-.4 .7 7.1-7.4 .5-.9z"/><path class=k91 d="M245.1 128.6l-.5 .8 7.2-7.6 .4-.9z"/><path class=k94 d="M245.6 127.8l-.5 .8 7.1-7.7 .5-1z"/><path class=k98 d="M246 127l-.4 .8 7.1-7.9 .4-1z"/><path class=k101 d="M246.5 126.1l-.5 .9 7.1-8.1 .5-1z"/><path class=k105 d="M246.9 125.1l-.4 1 7.1-8.2 .5-1z"/><path class=k109 d="M247.4 124.2l-.5 .9 7.2-8.2 .4-1.1z"/><path class=k113 d="M247.9 123.2l-.5 1 7.1-8.4 .5-1z"/><path class=k117 d="M248.3 122.1l-.4 1.1 7.1-8.4 .4-1.1z"/><path class=k121 d="M248.8 121.1l-.5 1 7.1-8.4 .5-1.1z"/><path class=k125 d="M249.2 120l-.4 1.1 7.1-8.5 .5-1.1z"/><path class=k130 d="M249.7 118.9l-.5 1.1 7.2-8.5 .4-1.1z"/><path class=k134 d="M250.2 117.8l-.5 1.1 7.1-8.5 .5-1.1z"/><path class=k138 d="M250.6 116.7l-.4 1.1 7.1-8.5 .4-1z"/><path class=k143 d="M251.1 115.5l-.5 1.2 7.1-8.4 .5-1.1z"/><path class=k147 d="M251.5 114.4l-.4 1.1 7.1-8.3 .5-1.1z"/><path class=k152 d="M252 113.3l-.5 1.1 7.2-8.3 .4-1z"/><path class=k156 d="M252.5 112.1l-.5 1.2 7.1-8.2 .5-1z"/><path class=k161 d="M252.9 111l-.4 1.1 7.1-8 .4-1z"/><path class=k165 d="M253.4 109.9l-.5 1.1 7.1-7.9 .5-1z"/><path class=k169 d="M253.8 108.8l-.4 1.1 7.1-7.8 .5-1z"/><path class=k230 d="M262 94.1l-.6 .7 7.1-4.5 .6-.4z"/><path class=k234 d="M262.7 93.3l-.7 .8 7.1-4.2 .8-.5z"/><path class=k237 d="M263.5 92.7l-.8 .6 7.2-3.9 .7-.3z"/><path class=k240 d="M264.3 92.1l-.8 .6 7.1-3.6 .8-.3z"/><path class=k243 d="M265.2 91.6l-.9 .5 7.1-3.3 .9-.2z"/><path class=k245 d="M266.1 91.3l-.9 .3 7.1-3 .9-.1z"/><path class=k248 d="M267 91l-.9 .3 7.1-2.8 1 0z"/><path class=k250 d="M268 90.9l-1 .1 7.2-2.5 .9 .1z"/><path class=k251 d="M268.9 90.9l-.9 0 7.1-2.3 .9 .1z"/><path class=k252 d="M269.8 90.9l-.9 0 7.1-2.2 .9 .2z"/><path class=k253 d="M271 91.1l-1.2-.2 7.1-2 1.3 .3z"/><path class=k254 d="M273.5 91.8l-2.5-.7 7.2-1.9 2.4 .9z"/><path class=k254 d="M189.5 63.1l-5.5-2.4 7.1-1.6 5.5 2.7z"/><path class=k253 d="M192.2 64.5l-2.7-1.4 7.1-1.3 2.8 1.6z"/><path class=k252 d="M194.1 65.6l-1.9-1.1 7.2-1.1 1.8 1.2z"/><path class=k251 d="M195.6 66.5l-1.5-.9 7.1-1 1.5 1.1z"/><path class=k250 d="M196.7 67.2l-1.1-.7 7.1-.8 1.1 .9z"/><path class=k249 d="M197.6 67.8l-.9-.6 7.1-.6 .9 .8z"/><path class=k248 d="M198.5 68.5l-.9-.7 7.1-.4 1 .8z"/><path class=k247 d="M199.3 69.1l-.8-.6 7.2-.3 .7 .8z"/><path class=k246 d="M200.1 69.7l-.8-.6 7.1-.1 .8 .8z"/><path class=k245 d="M200.7 70.3l-.6-.6 7.1 .1 .6 .6z"/><path class=k244 d="M201.3 70.8l-.6-.5 7.1 .1 .6 .7z"/><path class=k243 d="M201.9 71.4l-.6-.6 7.1 .3 .6 .8z"/><path class=k242 d="M202.5 72.1l-.6-.7 7.1 .5 .6 .8z"/><path class=k240 d="M203.1 72.7l-.6-.6 7.1 .6 .7 .8z"/><path class=k238 d="M203.8 73.4l-.7-.7 7.2 .8 .6 .8z"/><path class=k237 d="M204.4 74.1l-.6-.7 7.1 .9 .6 .9z"/><path class=k236 d="M205 74.9l-.6-.8 7.1 1.1 .6 1z"/><path class=k234 d="M205.6 75.7l-.6-.8 7.1 1.3 .6 1z"/><path class=k232 d="M206.2 76.5l-.6-.8 7.1 1.5 .6 1z"/><path class=k230 d="M206.7 77.2l-.5-.7 7.1 1.7 .5 .8z"/><path class=k228 d="M207.1 77.9l-.4-.7 7.1 1.8 .5 .8z"/><path class=k226 d="M207.6 78.6l-.5-.7 7.2 1.9 .4 .9z"/><path class=k225 d="M208 79.3l-.4-.7 7.1 2.1 .5 .9z"/><path class=k223 d="M208.5 80.1l-.5-.8 7.2 2.3 .4 .9z"/><path class=k221 d="M209 80.9l-.5-.8 7.1 2.4 .5 .9z"/><path class=k218 d="M209.4 81.7l-.4-.8 7.1 2.5 .5 1z"/><path class=k216 d="M209.9 82.6l-.5-.9 7.2 2.7 .4 1z"/><path class=k214 d="M210.3 83.4l-.4-.8 7.1 2.8 .5 1.1z"/><path class=k211 d="M210.8 84.3l-.5-.9 7.2 3.1 .4 1z"/><path class=k209 d="M211.3 85.3l-.5-1 7.1 3.2 .5 1.1z"/><path class=k206 d="M211.7 86.3l-.4-1 7.1 3.3 .5 1.1z"/><path class=k204 d="M212.2 87.3l-.5-1 7.2 3.4 .4 1.2z"/><path class=k201 d="M212.7 88.3l-.5-1 7.1 3.6 .5 1.1z"/><path class=k198 d="M213.1 89.4l-.4-1.1 7.1 3.7 .4 1.2z"/><path class=k195 d="M213.6 90.5l-.5-1.1 7.1 3.8 .5 1.2z"/><path class=k192 d="M214 91.6l-.4-1.1 7.1 3.9 .5 1.3z"/><path class=k188 d="M214.5 92.7l-.5-1.1 7.2 4.1 .4 1.2z"/><path class=k186 d="M214.8 93.5l-.3-.8 7.1 4.2 .3 .9z"/><path class=k184 d="M215.1 94.3l-.3-.8 7.1 4.3 .3 .8z"/><path class=k181 d="M215.4 95.1l-.3-.8 7.1 4.3 .3 .9z"/><path class=k178 d="M215.7 95.9l-.3-.8 7.1 4.4 .3 .8z"/><path class=k176 d="M216 96.8l-.3-.9 7.1 4.4 .4 .9z"/><path class=k174 d="M216.3 97.6l-.3-.8 7.2 4.4 .3 .9z"/><path class=k172 d="M216.6 98.5l-.3-.9 7.2 4.5 .3 .9z"/><path class=k169 d="M216.9 99.3l-.3-.8 7.2 4.5 .3 .9z"/><path class=k166 d="M217.3 100.2l-.4-.9 7.2 4.6 .3 .9z"/><path class=k164 d="M217.6 101.1l-.3-.9 7.1 4.6 .3 .9z"/><path class=k162 d="M217.9 102l-.3-.9 7.1 4.6 .3 .9z"/><path class=k158 d="M218.2 102.9l-.3-.9 7.1 4.6 .3 .9z"/><path class=k156 d="M218.5 103.8l-.3-.9 7.1 4.6 .3 .9z"/><path class=k154 d="M218.8 104.7l-.3-.9 7.1 4.6 .3 .9z"/><path class=k150 d="M219.1 105.6l-.3-.9 7.1 4.6 .3 .9z"/><path class=k148 d="M219.4 106.5l-.3-.9 7.1 4.6 .3 .9z"/><path class=k146 d="M219.7 107.5l-.3-1 7.1 4.6 .3 .8z"/><path class=k142 d="M220 108.4l-.3-.9 7.1 4.4 .3 .9z"/><path class=k140 d="M220.3 109.3l-.3-.9 7.1 4.4 .3 .9z"/><path class=k137 d="M220.6 110.3l-.3-1 7.1 4.4 .4 .9z"/><path class=k134 d="M220.9 111.2l-.3-.9 7.2 4.3 .3 .9z"/><path class=k63 d="M235.1 137.6l-.8 .1 7.1-4.5 .8-.7z"/><path class=k65 d="M235.8 137.3l-.7 .3 7.1-5.1 .7-.8z"/><path class=k66 d="M236.4 137l-.6 .3 7.1-5.6 .7-.7z"/><path class=k72 d="M237.7 135.9l-.7 .6 7.2-6.4 .6-1z"/><path class=k74 d="M238.1 135.4l-.4 .5 7.1-6.8 .4-.7z"/><path class=k77 d="M238.6 134.8l-.5 .6 7.1-7 .5-.9z"/><path class=k80 d="M239 134.2l-.4 .6 7.1-7.3 .5-.8z"/><path class=k83 d="M239.5 133.4l-.5 .8 7.2-7.5 .4-.9z"/><path class=k86 d="M240 132.7l-.5 .7 7.1-7.6 .5-1z"/><path class=k89 d="M240.4 131.9l-.4 .8 7.1-7.9 .4-1z"/><path class=k92 d="M240.9 131l-.5 .9 7.1-8.1 .5-1z"/><path class=k96 d="M241.3 130.1l-.4 .9 7.1-8.2 .5-1z"/><path class=k100 d="M241.8 129.2l-.5 .9 7.2-8.3 .4-1.1z"/><path class=k104 d="M242.3 128.2l-.5 1 7.1-8.5 .5-1.1z"/><path class=k108 d="M242.7 127.1l-.4 1.1 7.1-8.6 .5-1.1z"/><path class=k112 d="M243.2 126.1l-.5 1 7.2-8.6 .4-1.1z"/><path class=k116 d="M243.6 125l-.4 1.1 7.1-8.7 .5-1.1z"/><path class=k121 d="M244.1 123.9l-.5 1.1 7.2-8.7 .4-1.1z"/><path class=k125 d="M244.6 122.8l-.5 1.1 7.1-8.7 .5-1.2z"/><path class=k129 d="M245 121.6l-.4 1.2 7.1-8.8 .5-1.1z"/><path class=k134 d="M245.5 120.4l-.5 1.2 7.2-8.7 .4-1.1z"/><path class=k139 d="M245.9 119.3l-.4 1.1 7.1-8.6 .5-1.2z"/><path class=k143 d="M246.4 118.1l-.5 1.2 7.2-8.7 .4-1.1z"/><path class=k148 d="M246.9 116.9l-.5 1.2 7.1-8.6 .5-1.1z"/><path class=k152 d="M247.3 115.7l-.4 1.2 7.1-8.5 .5-1z"/><path class=k157 d="M247.8 114.6l-.5 1.1 7.2-8.3 .4-1.1z"/><path class=k161 d="M248.3 113.4l-.5 1.2 7.1-8.3 .5-1z"/><path class=k166 d="M248.7 112.2l-.4 1.2 7.1-8.1 .4-1.1z"/><path class=k171 d="M249.2 111.1l-.5 1.1 7.1-8 .5-.9z"/><path class=k175 d="M249.6 110l-.4 1.1 7.1-7.8 .5-1z"/><path class=k239 d="M258.8 94.8l-.7 .6 7.1-3.8 .8-.3z"/><path class=k242 d="M259.6 94.3l-.8 .5 7.2-3.5 .7-.2z"/><path class=k244 d="M260.5 93.8l-.9 .5 7.1-3.2 1-.2z"/><path class=k247 d="M261.4 93.5l-.9 .3 7.2-2.9 .9 0z"/><path class=k249 d="M262.4 93.3l-1 .2 7.2-2.6 .9 0z"/><path class=k250 d="M263.3 93.3l-.9 0 7.1-2.4 .9 .1z"/><path class=k252 d="M264.2 93.3l-.9 0 7.1-2.3 .9 .2z"/><path class=k253 d="M265.1 93.4l-.9-.1 7.1-2.1 1 .2z"/><path class=k254 d="M266 93.6l-.9-.2 7.2-2 .9 .3z"/><path class=k254 d="M267.9 94.1l-1.9-.5 7.2-1.9 1.8 .6z"/><path class=k254 d="M185.7 66.1l-5.5-2.4 7.1-1.6 5.6 2.8z"/><path class=k253 d="M188.5 67.6l-2.8-1.5 7.2-1.2 2.7 1.6z"/><path class=k252 d="M190.2 68.5l-1.7-.9 7.1-1.1 1.7 1.1z"/><path class=k251 d="M191.6 69.3l-1.4-.8 7.1-.9 1.4 1z"/><path class=k250 d="M192.8 70.1l-1.2-.8 7.1-.7 1.2 1z"/><path class=k249 d="M193.7 70.8l-.9-.7 7.1-.5 .9 .8z"/><path class=k248 d="M194.5 71.4l-.8-.6 7.1-.4 .8 .7z"/><path class=k247 d="M195.2 72l-.7-.6 7.1-.3 .8 .8z"/><path class=k246 d="M196 72.6l-.8-.6 7.2-.1 .7 .8z"/><path class=k245 d="M196.6 73.2l-.6-.6 7.1 .1 .7 .7z"/><path class=k244 d="M197.2 73.7l-.6-.5 7.2 .2 .6 .7z"/><path class=k243 d="M197.9 74.3l-.7-.6 7.2 .4 .6 .8z"/><path class=k242 d="M198.5 75l-.6-.7 7.1 .6 .6 .8z"/><path class=k240 d="M199.1 75.6l-.6-.6 7.1 .7 .6 .8z"/><path class=k238 d="M199.7 76.3l-.6-.7 7.1 .9 .6 .9z"/><path class=k237 d="M200.3 77.1l-.6-.8 7.1 1.1 .6 .9z"/><path class=k235 d="M200.9 77.9l-.6-.8 7.1 1.2 .6 1z"/><path class=k233 d="M201.5 78.7l-.6-.8 7.1 1.4 .7 1z"/><path class=k231 d="M202 79.3l-.5-.6 7.2 1.6 .4 .9z"/><path class=k230 d="M202.5 80l-.5-.7 7.1 1.9 .5 .8z"/><path class=k228 d="M202.9 80.7l-.4-.7 7.1 2 .4 .8z"/><path class=k226 d="M203.4 81.5l-.5-.8 7.1 2.1 .5 .9z"/><path class=k224 d="M203.8 82.2l-.4-.7 7.1 2.2 .5 1z"/><path class=k222 d="M204.3 83l-.5-.8 7.2 2.5 .4 .9z"/><path class=k220 d="M204.8 83.8l-.5-.8 7.1 2.6 .5 1z"/><path class=k218 d="M205.2 84.7l-.4-.9 7.1 2.8 .4 1z"/><path class=k216 d="M205.7 85.6l-.5-.9 7.1 2.9 .5 1.1z"/><path class=k213 d="M206.1 86.5l-.4-.9 7.1 3.1 .5 1z"/><path class=k211 d="M206.6 87.4l-.5-.9 7.2 3.2 .4 1.1z"/><path class=k208 d="M207.1 88.4l-.5-1 7.1 3.4 .5 1.2z"/><path class=k205 d="M207.5 89.4l-.4-1 7.1 3.6 .4 1.1z"/><path class=k202 d="M208 90.5l-.5-1.1 7.1 3.7 .5 1.2z"/><path class=k199 d="M208.4 91.5l-.4-1 7.1 3.8 .5 1.2z"/><path class=k196 d="M208.9 92.6l-.5-1.1 7.2 4 .4 1.3z"/><path class=k193 d="M209.4 93.8l-.5-1.2 7.1 4.2 .5 1.2z"/><path class=k190 d="M209.7 94.6l-.3-.8 7.1 4.2 .3 .9z"/><path class=k188 d="M210 95.4l-.3-.8 7.1 4.3 .3 .9z"/><path class=k186 d="M210.3 96.2l-.3-.8 7.1 4.4 .3 .9z"/><path class=k184 d="M210.6 97l-.3-.8 7.1 4.5 .3 .8z"/><path class=k181 d="M210.9 97.8l-.3-.8 7.1 4.5 .3 .9z"/><path class=k178 d="M211.2 98.7l-.3-.9 7.1 4.6 .3 .9z"/><path class=k176 d="M211.5 99.5l-.3-.8 7.1 4.6 .3 .9z"/><path class=k174 d="M211.8 100.4l-.3-.9 7.1 4.7 .3 1z"/><path class=k171 d="M212.1 101.3l-.3-.9 7.1 4.8 .3 .9z"/><path class=k168 d="M212.4 102.2l-.3-.9 7.1 4.8 .4 .9z"/><path class=k166 d="M212.7 103.1l-.3-.9 7.2 4.8 .3 .9z"/><path class=k164 d="M213 104l-.3-.9 7.2 4.8 .3 1z"/><path class=k160 d="M213.4 104.9l-.4-.9 7.2 4.9 .3 .9z"/><path class=k158 d="M213.7 105.9l-.3-1 7.1 4.9 .3 .9z"/><path class=k155 d="M214 106.8l-.3-.9 7.1 4.8 .3 1z"/><path class=k152 d="M214.3 107.7l-.3-.9 7.1 4.9 .3 .9z"/><path class=k150 d="M214.6 108.7l-.3-1 7.1 4.9 .3 .9z"/><path class=k146 d="M214.9 109.7l-.3-1 7.1 4.8 .3 1z"/><path class=k144 d="M215.2 110.6l-.3-.9 7.1 4.8 .3 .9z"/><path class=k141 d="M215.5 111.6l-.3-1 7.1 4.8 .3 .9z"/><path class=k138 d="M215.8 112.6l-.3-1 7.1 4.7 .3 .9z"/><path class=k136 d="M216.1 113.5l-.3-.9 7.1 4.6 .3 .9z"/><path class=k59 d="M230.4 141.4l-.8 .1 7.1-4.7 .8-.7z"/><path class=k61 d="M231 141.1l-.6 .3 7.1-5.3 .6-.7z"/><path class=k62 d="M231.6 140.8l-.6 .3 7.1-5.7 .6-.8z"/><path class=k65 d="M232.2 140.3l-.6 .5 7.1-6.2 .7-.9z"/><path class=k68 d="M232.8 139.6l-.6 .7 7.2-6.6 .6-1z"/><path class=k71 d="M233.3 139.1l-.5 .5 7.2-6.9 .4-.8z"/><path class=k73 d="M233.8 138.5l-.5 .6 7.1-7.2 .5-.9z"/><path class=k76 d="M234.2 137.8l-.4 .7 7.1-7.5 .4-.9z"/><path class=k79 d="M234.7 137.1l-.5 .7 7.1-7.7 .5-.9z"/><path class=k82 d="M235.1 136.3l-.4 .8 7.1-7.9 .5-1z"/><path class=k86 d="M235.6 135.4l-.5 .9 7.2-8.1 .4-1.1z"/><path class=k89 d="M236.1 134.5l-.5 .9 7.1-8.3 .5-1z"/><path class=k93 d="M236.5 133.6l-.4 .9 7.1-8.4 .4-1.1z"/><path class=k97 d="M237 132.6l-.5 1 7.1-8.6 .5-1.1z"/><path class=k101 d="M237.4 131.6l-.4 1 7.1-8.7 .5-1.1z"/><path class=k105 d="M237.9 130.5l-.5 1.1 7.2-8.8 .4-1.2z"/><path class=k110 d="M238.4 129.4l-.5 1.1 7.1-8.9 .5-1.2z"/><path class=k114 d="M238.8 128.2l-.4 1.2 7.1-9 .4-1.1z"/><path class=k118 d="M239.3 127.1l-.5 1.1 7.1-8.9 .5-1.2z"/><path class=k123 d="M239.7 125.9l-.4 1.2 7.1-9 .5-1.2z"/><path class=k128 d="M240.2 124.7l-.5 1.2 7.2-9 .4-1.2z"/><path class=k132 d="M240.7 123.5l-.5 1.2 7.1-9 .5-1.1z"/><path class=k137 d="M241.1 122.3l-.4 1.2 7.1-8.9 .5-1.2z"/><path class=k142 d="M241.6 121l-.5 1.3 7.2-8.9 .4-1.2z"/><path class=k147 d="M242 119.8l-.4 1.2 7.1-8.8 .5-1.1z"/><path class=k151 d="M242.5 118.6l-.5 1.2 7.2-8.7 .4-1.1z"/><path class=k156 d="M243 117.3l-.5 1.3 7.1-8.6 .5-1.1z"/><path class=k161 d="M243.4 116.1l-.4 1.2 7.1-8.4 .5-1.1z"/><path class=k166 d="M243.9 114.9l-.5 1.2 7.2-8.3 .4-1.1z"/><path class=k170 d="M244.3 113.7l-.4 1.2 7.1-8.2 .5-1z"/><path class=k175 d="M244.8 112.5l-.5 1.2 7.2-8 .4-1z"/><path class=k179 d="M245.3 111.4l-.5 1.1 7.1-7.8 .5-.9z"/><path class=k237 d="M253.2 97.6l-.7 .7 7.1-4 .8-.4z"/><path class=k240 d="M254 97l-.8 .6 7.2-3.7 .7-.3z"/><path class=k243 d="M254.8 96.5l-.8 .5 7.1-3.4 .8-.2z"/><path class=k246 d="M255.7 96.1l-.9 .4 7.1-3.1 .9-.1z"/><path class=k248 d="M256.6 95.8l-.9 .3 7.1-2.8 .9 0z"/><path class=k250 d="M257.5 95.7l-.9 .1 7.1-2.5 1 0z"/><path class=k251 d="M258.5 95.6l-1 .1 7.2-2.4 .9 .2z"/><path class=k252 d="M259.4 95.7l-.9-.1 7.1-2.1 .9 .2z"/><path class=k253 d="M260.3 95.9l-.9-.2 7.1-2 .9 .2z"/><path class=k254 d="M262.5 96.4l-2.2-.5 7.1-2 2.2 .8z"/><path class=k254 d="M182 69.2l-5.2-2.4 7.1-1.5 5.2 2.6z"/><path class=k253 d="M184.6 70.5l-2.6-1.3 7.1-1.3 2.6 1.5z"/><path class=k252 d="M186.4 71.5l-1.8-1 7.1-1.1 1.9 1.3z"/><path class=k251 d="M187.8 72.4l-1.4-.9 7.2-.8 1.3 1z"/><path class=k250 d="M188.9 73.1l-1.1-.7 7.1-.7 1.1 .9z"/><path class=k249 d="M189.8 73.8l-.9-.7 7.1-.5 .9 .8z"/><path class=k248 d="M190.6 74.3l-.8-.5 7.1-.4 .8 .8z"/><path class=k247 d="M191.3 75l-.7-.7 7.1-.1 .8 .8z"/><path class=k246 d="M192 75.5l-.7-.5 7.2 0 .6 .6z"/><path class=k245 d="M192.6 76l-.6-.5 7.1 .1 .6 .7z"/><path class=k244 d="M193.2 76.6l-.6-.6 7.1 .3 .6 .8z"/><path class=k243 d="M193.8 77.2l-.6-.6 7.1 .5 .6 .8z"/><path class=k242 d="M194.4 77.9l-.6-.7 7.1 .7 .6 .8z"/><path class=k240 d="M195 78.6l-.6-.7 7.1 .8 .7 .9z"/><path class=k238 d="M195.6 79.3l-.6-.7 7.2 1 .6 .9z"/><path class=k236 d="M196.3 80l-.7-.7 7.2 1.2 .6 1z"/><path class=k235 d="M196.9 80.9l-.6-.9 7.1 1.5 .6 1z"/><path class=k233 d="M197.3 81.5l-.4-.6 7.1 1.6 .5 .8z"/><path class=k231 d="M197.8 82.2l-.5-.7 7.2 1.8 .4 .8z"/><path class=k230 d="M198.2 82.8l-.4-.6 7.1 1.9 .5 .9z"/><path class=k228 d="M198.7 83.6l-.5-.8 7.2 2.2 .4 .9z"/><path class=k226 d="M199.2 84.3l-.5-.7 7.1 2.3 .5 .9z"/><path class=k224 d="M199.6 85.1l-.4-.8 7.1 2.5 .5 .9z"/><path class=k222 d="M200.1 85.9l-.5-.8 7.2 2.6 .4 1z"/><path class=k220 d="M200.5 86.8l-.4-.9 7.1 2.8 .5 1.1z"/><path class=k218 d="M201 87.6l-.5-.8 7.2 3 .4 1z"/><path class=k215 d="M201.5 88.6l-.5-1 7.1 3.2 .5 1.1z"/><path class=k213 d="M201.9 89.5l-.4-.9 7.1 3.3 .5 1.1z"/><path class=k210 d="M202.4 90.5l-.5-1 7.2 3.5 .4 1.2z"/><path class=k207 d="M202.9 91.5l-.5-1 7.1 3.7 .5 1.2z"/><path class=k204 d="M203.3 92.6l-.4-1.1 7.1 3.9 .4 1.2z"/><path class=k201 d="M203.8 93.7l-.5-1.1 7.1 4 .5 1.2z"/><path class=k198 d="M204.1 94.4l-.3-.7 7.1 4.1 .3 .9z"/><path class=k196 d="M204.4 95.2l-.3-.8 7.1 4.3 .3 .8z"/><path class=k194 d="M204.7 95.9l-.3-.7 7.1 4.3 .3 .9z"/><path class=k192 d="M205 96.7l-.3-.8 7.1 4.5 .3 .9z"/><path class=k190 d="M205.3 97.5l-.3-.8 7.1 4.6 .3 .9z"/><path class=k188 d="M205.6 98.4l-.3-.9 7.1 4.7 .3 .9z"/><path class=k185 d="M205.9 99.2l-.3-.8 7.1 4.7 .3 .9z"/><path class=k182 d="M206.2 100.1l-.3-.9 7.1 4.8 .4 .9z"/><path class=k180 d="M206.5 100.9l-.3-.8 7.2 4.8 .3 1z"/><path class=k178 d="M206.8 101.8l-.3-.9 7.2 5 .3 .9z"/><path class=k174 d="M207.1 102.7l-.3-.9 7.2 5 .3 .9z"/><path class=k172 d="M207.5 103.6l-.4-.9 7.2 5 .3 1z"/><path class=k170 d="M207.8 104.6l-.3-1 7.1 5.1 .3 1z"/><path class=k166 d="M208.1 105.5l-.3-.9 7.1 5.1 .3 .9z"/><path class=k164 d="M208.4 106.4l-.3-.9 7.1 5.1 .3 1z"/><path class=k161 d="M208.7 107.4l-.3-1 7.1 5.2 .3 1z"/><path class=k158 d="M209 108.4l-.3-1 7.1 5.2 .3 .9z"/><path class=k156 d="M209.3 109.3l-.3-.9 7.1 5.1 .3 1z"/><path class=k152 d="M209.6 110.3l-.3-1 7.1 5.2 .3 1z"/><path class=k150 d="M209.9 111.3l-.3-1 7.1 5.2 .3 1z"/><path class=k146 d="M210.2 112.3l-.3-1 7.1 5.2 .3 .9z"/><path class=k144 d="M210.5 113.3l-.3-1 7.1 5.1 .3 1z"/><path class=k140 d="M210.8 114.3l-.3-1 7.1 5.1 .4 1z"/><path class=k138 d="M211.1 115.3l-.3-1 7.2 5.1 .3 .9z"/><path class=k134 d="M211.4 116.3l-.3-1 7.2 5 .3 1z"/><path class=k55 d="M225.7 145.2l-.8 .1 7.2-4.9 .7-.8z"/><path class=k57 d="M226.3 144.9l-.6 .3 7.1-5.6 .7-.7z"/><path class=k59 d="M226.9 144.5l-.6 .4 7.2-6 .6-.9z"/><path class=k62 d="M227.6 143.9l-.7 .6 7.2-6.5 .6-.9z"/><path class=k64 d="M228 143.4l-.4 .5 7.1-6.8 .4-.8z"/><path class=k67 d="M228.5 142.9l-.5 .5 7.1-7.1 .5-.9z"/><path class=k69 d="M228.9 142.2l-.4 .7 7.1-7.5 .5-.9z"/><path class=k72 d="M229.4 141.5l-.5 .7 7.2-7.7 .4-.9z"/><path class=k75 d="M229.9 140.7l-.5 .8 7.1-7.9 .5-1z"/><path class=k79 d="M230.3 139.9l-.4 .8 7.1-8.1 .4-1z"/><path class=k82 d="M230.8 139l-.5 .9 7.1-8.3 .5-1.1z"/><path class=k86 d="M231.2 138.1l-.4 .9 7.1-8.5 .5-1.1z"/><path class=k90 d="M231.7 137.1l-.5 1 7.2-8.7 .4-1.2z"/><path class=k94 d="M232.2 136.1l-.5 1 7.1-8.9 .5-1.1z"/><path class=k98 d="M232.6 135l-.4 1.1 7.1-9 .4-1.2z"/><path class=k102 d="M233.1 133.9l-.5 1.1 7.1-9.1 .5-1.2z"/><path class=k107 d="M233.5 132.7l-.4 1.2 7.1-9.2 .5-1.2z"/><path class=k112 d="M234 131.5l-.5 1.2 7.2-9.2 .4-1.2z"/><path class=k116 d="M234.5 130.3l-.5 1.2 7.1-9.2 .5-1.3z"/><path class=k121 d="M234.9 129.1l-.4 1.2 7.1-9.3 .4-1.2z"/><path class=k126 d="M235.4 127.8l-.5 1.3 7.1-9.3 .5-1.2z"/><path class=k130 d="M235.7 127l-.3 .8 7.1-9.2 .3-.9z"/><path class=k133 d="M236 126.1l-.3 .9 7.1-9.3 .3-.8z"/><path class=k136 d="M236.3 125.3l-.3 .8 7.1-9.2 .3-.8z"/><path class=k140 d="M236.6 124.4l-.3 .9 7.1-9.2 .3-.8z"/><path class=k143 d="M236.9 123.5l-.3 .9 7.1-9.1 .3-.8z"/><path class=k146 d="M237.2 122.7l-.3 .8 7.1-9 .3-.8z"/><path class=k150 d="M237.5 121.8l-.3 .9 7.1-9 .4-.8z"/><path class=k153 d="M237.8 120.9l-.3 .9 7.2-8.9 .3-.8z"/><path class=k156 d="M238.1 120.1l-.3 .8 7.2-8.8 .3-.7z"/><path class=k160 d="M238.4 119.2l-.3 .9 7.2-8.7 .3-.8z"/><path class=k163 d="M238.8 118.4l-.4 .8 7.2-8.6 .3-.7z"/><path class=k167 d="M239.2 117.1l-.4 1.3 7.1-8.5 .4-1.1z"/><path class=k172 d="M239.7 115.9l-.5 1.2 7.1-8.3 .5-1z"/><path class=k177 d="M240.1 114.7l-.4 1.2 7.1-8.1 .5-1.1z"/><path class=k181 d="M240.6 113.5l-.5 1.2 7.2-8 .4-.9z"/><path class=k186 d="M241.1 112.3l-.5 1.2 7.1-7.7 .5-1z"/><path class=k240 d="M248.7 99.5l-.7 .7 7.1-3.8 .8-.4z"/><path class=k243 d="M249.5 99l-.8 .5 7.2-3.5 .7-.2z"/><path class=k245 d="M250.4 98.5l-.9 .5 7.1-3.2 .9-.1z"/><path class=k248 d="M251.3 98.2l-.9 .3 7.1-2.8 1-.1z"/><path class=k250 d="M252.3 98l-1 .2 7.2-2.6 .9 .1z"/><path class=k251 d="M253.2 98l-.9 0 7.1-2.3 .9 .2z"/><path class=k252 d="M254.1 98.1l-.9-.1 7.1-2.1 .9 .2z"/><path class=k253 d="M255 98.2l-.9-.1 7.1-2 .9 .2z"/><path class=k254 d="M256.9 98.7l-1.9-.5 7.1-1.9 1.9 .6z"/><path class=k254 d="M178.4 72.2l-5.2-2.3 7.1-1.5 5.2 2.6z"/><path class=k253 d="M180.8 73.5l-2.4-1.3 7.1-1.2 2.5 1.5z"/><path class=k252 d="M182.7 74.5l-1.9-1 7.2-1 1.8 1.3z"/><path class=k251 d="M183.9 75.3l-1.2-.8 7.1-.7 1.2 .9z"/><path class=k250 d="M185 76l-1.1-.7 7.1-.6 1.1 .9z"/><path class=k249 d="M185.9 76.7l-.9-.7 7.1-.4 .9 .9z"/><path class=k248 d="M186.7 77.3l-.8-.6 7.1-.2 .8 .7z"/><path class=k247 d="M187.4 77.9l-.7-.6 7.1-.1 .8 .8z"/><path class=k246 d="M188.1 78.5l-.7-.6 7.2 .1 .6 .7z"/><path class=k245 d="M188.7 79l-.6-.5 7.1 .2 .6 .8z"/><path class=k244 d="M189.3 79.6l-.6-.6 7.1 .5 .6 .7z"/><path class=k242 d="M189.9 80.3l-.6-.7 7.1 .6 .6 .9z"/><path class=k241 d="M190.5 80.9l-.6-.6 7.1 .8 .6 .8z"/><path class=k240 d="M191.1 81.6l-.6-.7 7.1 1 .6 .9z"/><path class=k238 d="M191.7 82.4l-.6-.8 7.1 1.2 .7 1z"/><path class=k236 d="M192.4 83.2l-.7-.8 7.2 1.4 .6 1z"/><path class=k234 d="M192.8 83.8l-.4-.6 7.1 1.6 .4 .8z"/><path class=k233 d="M193.3 84.5l-.5-.7 7.1 1.8 .5 .9z"/><path class=k231 d="M193.7 85.2l-.4-.7 7.1 2 .5 .8z"/><path class=k229 d="M194.2 85.9l-.5-.7 7.2 2.1 .4 .9z"/><path class=k227 d="M194.7 86.6l-.5-.7 7.1 2.3 .5 1z"/><path class=k225 d="M195.1 87.4l-.4-.8 7.1 2.6 .4 1z"/><path class=k223 d="M195.6 88.2l-.5-.8 7.1 2.8 .5 1z"/><path class=k221 d="M196 89.1l-.4-.9 7.1 3 .5 1z"/><path class=k219 d="M196.5 90l-.5-.9 7.2 3.1 .4 1.1z"/><path class=k216 d="M197 90.9l-.5-.9 7.1 3.3 .5 1.1z"/><path class=k214 d="M197.4 91.9l-.4-1 7.1 3.5 .4 1.2z"/><path class=k211 d="M197.9 92.9l-.5-1 7.1 3.7 .5 1.1z"/><path class=k208 d="M198.3 93.9l-.4-1 7.1 3.8 .5 1.3z"/><path class=k205 d="M198.8 95l-.5-1.1 7.2 4.1 .4 1.2z"/><path class=k202 d="M199.1 95.7l-.3-.7 7.1 4.2 .3 .9z"/><path class=k200 d="M199.4 96.5l-.3-.8 7.1 4.4 .3 .8z"/><path class=k198 d="M199.7 97.3l-.3-.8 7.1 4.4 .3 .9z"/><path class=k196 d="M200 98l-.3-.7 7.1 4.5 .3 .9z"/><path class=k194 d="M200.3 98.9l-.3-.9 7.1 4.7 .4 .9z"/><path class=k192 d="M200.6 99.7l-.3-.8 7.2 4.7 .3 1z"/><path class=k189 d="M200.9 100.5l-.3-.8 7.2 4.9 .3 .9z"/><path class=k186 d="M201.2 101.4l-.3-.9 7.2 5 .3 .9z"/><path class=k184 d="M201.6 102.3l-.4-.9 7.2 5 .3 1z"/><path class=k182 d="M201.9 103.2l-.3-.9 7.1 5.1 .3 1z"/><path class=k178 d="M202.2 104.1l-.3-.9 7.1 5.2 .3 .9z"/><path class=k176 d="M202.5 105l-.3-.9 7.1 5.2 .3 1z"/><path class=k174 d="M202.8 105.9l-.3-.9 7.1 5.3 .3 1z"/><path class=k170 d="M203.1 106.9l-.3-1 7.1 5.4 .3 1z"/><path class=k168 d="M203.4 107.8l-.3-.9 7.1 5.4 .3 1z"/><path class=k165 d="M203.7 108.8l-.3-1 7.1 5.5 .3 1z"/><path class=k162 d="M204 109.8l-.3-1 7.1 5.5 .3 1z"/><path class=k159 d="M204.3 110.8l-.3-1 7.1 5.5 .3 1z"/><path class=k156 d="M204.6 111.8l-.3-1 7.1 5.5 .4 1.1z"/><path class=k153 d="M204.9 112.9l-.3-1.1 7.2 5.6 .3 1z"/><path class=k150 d="M205.2 113.9l-.3-1 7.2 5.5 .3 1z"/><path class=k147 d="M205.5 114.9l-.3-1 7.2 5.5 .3 1z"/><path class=k144 d="M205.9 116l-.4-1.1 7.2 5.5 .3 1z"/><path class=k140 d="M206.2 117l-.3-1 7.1 5.4 .3 1z"/><path class=k138 d="M206.5 118.1l-.3-1.1 7.1 5.4 .3 1z"/><path class=k50 d="M220.4 149.2l-.7 0 7.1-4.6 .8-.7z"/><path class=k52 d="M221 149l-.6 .2 7.2-5.3 .6-.7z"/><path class=k53 d="M221.7 148.7l-.7 .3 7.2-5.8 .6-.8z"/><path class=k55 d="M222.3 148.2l-.6 .5 7.1-6.3 .6-.9z"/><path class=k58 d="M222.9 147.6l-.6 .6 7.1-6.7 .6-1z"/><path class=k61 d="M223.3 147.1l-.4 .5 7.1-7.1 .5-.9z"/><path class=k63 d="M223.8 146.4l-.5 .7 7.2-7.5 .4-.9z"/><path class=k66 d="M224.3 145.8l-.5 .6 7.1-7.7 .5-.9z"/><path class=k69 d="M224.7 145l-.4 .8 7.1-8 .5-1z"/><path class=k73 d="M225.2 144.2l-.5 .8 7.2-8.2 .4-1.1z"/><path class=k76 d="M225.6 143.3l-.4 .9 7.1-8.5 .5-1.1z"/><path class=k80 d="M226.1 142.3l-.5 1 7.2-8.7 .4-1.1z"/><path class=k84 d="M226.6 141.3l-.5 1 7.1-8.8 .5-1.2z"/><path class=k88 d="M227 140.3l-.4 1 7.1-9 .5-1.2z"/><path class=k92 d="M227.5 139.2l-.5 1.1 7.2-9.2 .4-1.2z"/><path class=k97 d="M227.9 138.1l-.4 1.1 7.1-9.3 .5-1.3z"/><path class=k101 d="M228.4 136.9l-.5 1.2 7.2-9.5 .4-1.2z"/><path class=k105 d="M228.7 136.1l-.3 .8 7.1-9.5 .3-.9z"/><path class=k108 d="M229 135.2l-.3 .9 7.1-9.6 .3-.8z"/><path class=k112 d="M229.3 134.4l-.3 .8 7.1-9.5 .4-.9z"/><path class=k115 d="M229.6 133.6l-.3 .8 7.2-9.6 .3-.8z"/><path class=k118 d="M229.9 132.7l-.3 .9 7.2-9.6 .3-.9z"/><path class=k122 d="M230.3 131.8l-.4 .9 7.2-9.6 .3-.9z"/><path class=k125 d="M230.6 130.9l-.3 .9 7.1-9.6 .3-.8z"/><path class=k128 d="M230.9 130.1l-.3 .8 7.1-9.5 .3-.9z"/><path class=k132 d="M231.2 129.2l-.3 .9 7.1-9.6 .3-.8z"/><path class=k135 d="M231.5 128.3l-.3 .9 7.1-9.5 .3-.9z"/><path class=k138 d="M231.8 127.4l-.3 .9 7.1-9.5 .3-.8z"/><path class=k142 d="M232.1 126.5l-.3 .9 7.1-9.4 .3-.9z"/><path class=k146 d="M232.4 125.6l-.3 .9 7.1-9.4 .3-.8z"/><path class=k149 d="M232.7 124.6l-.3 1 7.1-9.3 .3-.8z"/><path class=k152 d="M233 123.7l-.3 .9 7.1-9.1 .3-.8z"/><path class=k156 d="M233.3 122.8l-.3 .9 7.1-9 .3-.8z"/><path class=k159 d="M233.6 122l-.3 .8 7.1-8.9 .4-.8z"/><path class=k162 d="M233.9 121.1l-.3 .9 7.2-8.9 .3-.8z"/><path class=k166 d="M234.2 120.2l-.3 .9 7.2-8.8 .3-.7z"/><path class=k170 d="M234.5 119.3l-.3 .9 7.2-8.6 .3-.8z"/><path class=k172 d="M234.9 118.4l-.4 .9 7.2-8.5 .3-.7z"/><path class=k176 d="M235.2 117.6l-.3 .8 7.1-8.3 .3-.7z"/><path class=k180 d="M235.6 116.3l-.4 1.3 7.1-8.2 .4-1z"/><path class=k185 d="M236.1 115.1l-.5 1.2 7.1-7.9 .5-1z"/><path class=k189 d="M236.5 113.9l-.4 1.2 7.1-7.7 .5-.9z"/><path class=k194 d="M237 112.8l-.5 1.1 7.2-7.4 .4-.9z"/><path class=k232 d="M242.1 103.4l-.6 .8 7.1-4.6 .6-.4z"/><path class=k236 d="M242.7 102.7l-.6 .7 7.1-4.2 .6-.4z"/><path class=k239 d="M243.4 102l-.7 .7 7.1-3.9 .8-.3z"/><path class=k242 d="M244.2 101.4l-.8 .6 7.2-3.5 .7-.3z"/><path class=k245 d="M245.1 100.9l-.9 .5 7.1-3.2 1-.2z"/><path class=k248 d="M246.1 100.6l-1 .3 7.2-2.9 .9 0z"/><path class=k250 d="M247 100.4l-.9 .2 7.1-2.6 .9 .1z"/><path class=k252 d="M247.9 100.4l-.9 0 7.1-2.3 .9 .1z"/><path class=k253 d="M248.8 100.4l-.9 0 7.1-2.2 .9 .2z"/><path class=k254 d="M249.7 100.6l-.9-.2 7.1-2 1 .3z"/><path class=k254 d="M251.3 101l-1.6-.4 7.2-1.9 1.5 .5z"/><path class=k254 d="M174.8 75.3l-5.1-2.3 7.2-1.5 5 2.6z"/><path class=k253 d="M177.2 76.6l-2.4-1.3 7.1-1.2 2.5 1.5z"/><path class=k252 d="M178.8 77.5l-1.6-.9 7.2-1 1.5 1.1z"/><path class=k251 d="M180.2 78.3l-1.4-.8 7.1-.8 1.4 1.1z"/><path class=k250 d="M181.1 79l-.9-.7 7.1-.5 .9 .8z"/><path class=k249 d="M182 79.6l-.9-.6 7.1-.4 .9 .9z"/><path class=k248 d="M182.8 80.2l-.8-.6 7.1-.1 .8 .8z"/><path class=k247 d="M183.4 80.8l-.6-.6 7.1 .1 .6 .6z"/><path class=k246 d="M184 81.3l-.6-.5 7.1 .1 .6 .7z"/><path class=k245 d="M184.6 81.9l-.6-.6 7.1 .3 .6 .8z"/><path class=k244 d="M185.2 82.5l-.6-.6 7.1 .5 .7 .8z"/><path class=k242 d="M185.8 83.1l-.6-.6 7.2 .7 .6 .8z"/><path class=k241 d="M186.5 83.8l-.7-.7 7.2 .9 .6 .9z"/><path class=k240 d="M187.1 84.5l-.6-.7 7.1 1.1 .6 1z"/><path class=k238 d="M187.7 85.3l-.6-.8 7.1 1.4 .6 1z"/><path class=k236 d="M188.1 85.9l-.4-.6 7.1 1.6 .5 .8z"/><path class=k235 d="M188.6 86.6l-.5-.7 7.2 1.8 .4 .8z"/><path class=k233 d="M189.1 87.2l-.5-.6 7.1 1.9 .5 .9z"/><path class=k231 d="M189.5 87.9l-.4-.7 7.1 2.2 .4 .9z"/><path class=k230 d="M190 88.7l-.5-.8 7.1 2.4 .5 .9z"/><path class=k228 d="M190.4 89.4l-.4-.7 7.1 2.5 .5 1z"/><path class=k226 d="M190.9 90.2l-.5-.8 7.2 2.8 .4 1z"/><path class=k223 d="M191.4 91.1l-.5-.9 7.1 3 .5 1.1z"/><path class=k221 d="M191.8 92l-.4-.9 7.1 3.2 .4 1.1z"/><path class=k219 d="M192.3 92.9l-.5-.9 7.1 3.4 .5 1.1z"/><path class=k216 d="M192.7 93.8l-.4-.9 7.1 3.6 .5 1.1z"/><path class=k213 d="M193.2 94.8l-.5-1 7.2 3.8 .4 1.3z"/><path class=k210 d="M193.7 95.9l-.5-1.1 7.1 4.1 .5 1.2z"/><path class=k208 d="M194 96.6l-.3-.7 7.1 4.2 .3 .9z"/><path class=k206 d="M194.3 97.4l-.3-.8 7.1 4.4 .3 .8z"/><path class=k204 d="M194.6 98.1l-.3-.7 7.1 4.4 .3 .9z"/><path class=k202 d="M194.9 98.9l-.3-.8 7.1 4.6 .3 .9z"/><path class=k200 d="M195.2 99.7l-.3-.8 7.1 4.7 .3 .9z"/><path class=k197 d="M195.5 100.5l-.3-.8 7.1 4.8 .3 1z"/><path class=k194 d="M195.8 101.3l-.3-.8 7.1 5 .3 .9z"/><path class=k192 d="M196.1 102.2l-.3-.9 7.1 5.1 .3 1z"/><path class=k190 d="M196.4 103.1l-.3-.9 7.1 5.2 .4 .9z"/><path class=k187 d="M196.7 103.9l-.3-.8 7.2 5.2 .3 1z"/><path class=k184 d="M197 104.9l-.3-1 7.2 5.4 .3 1z"/><path class=k182 d="M197.3 105.8l-.3-.9 7.2 5.4 .3 1z"/><path class=k179 d="M197.7 106.7l-.4-.9 7.2 5.5 .3 1z"/><path class=k176 d="M198 107.7l-.3-1 7.1 5.6 .3 1.1z"/><path class=k174 d="M198.3 108.7l-.3-1 7.1 5.7 .3 1z"/><path class=k170 d="M198.6 109.7l-.3-1 7.1 5.7 .3 1.1z"/><path class=k168 d="M198.9 110.7l-.3-1 7.1 5.8 .3 1z"/><path class=k164 d="M199.2 111.7l-.3-1 7.1 5.8 .3 1.1z"/><path class=k162 d="M199.5 112.7l-.3-1 7.1 5.9 .3 1z"/><path class=k158 d="M199.8 113.8l-.3-1.1 7.1 5.9 .3 1.1z"/><path class=k155 d="M200.1 114.8l-.3-1 7.1 5.9 .3 1z"/><path class=k152 d="M200.4 115.9l-.3-1.1 7.1 5.9 .3 1.1z"/><path class=k148 d="M200.7 117l-.3-1.1 7.1 5.9 .3 1.1z"/><path class=k145 d="M201 118.1l-.3-1.1 7.1 5.9 .4 1z"/><path class=k142 d="M201.3 119.2l-.3-1.1 7.2 5.8 .3 1.1z"/><path class=k139 d="M201.6 120.3l-.3-1.1 7.2 5.8 .3 1z"/><path class=k46 d="M216.1 153l-.8 .1 7.1-5 .8-.8z"/><path class=k50 d="M217.3 152.3l-.6 .4 7.1-6.3 .6-.9z"/><path class=k52 d="M217.8 151.8l-.5 .5 7.1-6.8 .5-.8z"/><path class=k55 d="M218.2 151.3l-.4 .5 7.1-7.1 .4-.8z"/><path class=k57 d="M218.7 150.7l-.5 .6 7.1-7.4 .5-.9z"/><path class=k60 d="M219.1 150.1l-.4 .6 7.1-7.7 .5-1z"/><path class=k63 d="M219.6 149.3l-.5 .8 7.2-8.1 .4-1z"/><path class=k66 d="M220.1 148.5l-.5 .8 7.1-8.3 .5-1.1z"/><path class=k70 d="M220.5 147.6l-.4 .9 7.1-8.6 .4-1.1z"/><path class=k74 d="M221 146.7l-.5 .9 7.1-8.8 .5-1.1z"/><path class=k77 d="M221.4 145.7l-.4 1 7.1-9 .5-1.2z"/><path class=k82 d="M221.9 144.6l-.5 1.1 7.2-9.2 .4-1.3z"/><path class=k86 d="M222.4 143.5l-.5 1.1 7.1-9.4 .5-1.2z"/><path class=k90 d="M222.7 142.7l-.3 .8 7.1-9.5 .3-.9z"/><path class=k92 d="M223 141.9l-.3 .8 7.1-9.6 .3-.8z"/><path class=k96 d="M223.3 141.1l-.3 .8 7.1-9.6 .3-.9z"/><path class=k99 d="M223.6 140.3l-.3 .8 7.1-9.7 .3-.9z"/><path class=k102 d="M223.9 139.5l-.3 .8 7.1-9.8 .3-.9z"/><path class=k106 d="M224.2 138.6l-.3 .9 7.1-9.9 .3-.9z"/><path class=k109 d="M224.5 137.7l-.3 .9 7.1-9.9 .3-.9z"/><path class=k112 d="M224.8 136.8l-.3 .9 7.1-9.9 .3-.9z"/><path class=k116 d="M225.1 135.9l-.3 .9 7.1-9.9 .3-.9z"/><path class=k119 d="M225.4 135l-.3 .9 7.1-9.9 .4-.9z"/><path class=k123 d="M225.7 134.1l-.3 .9 7.2-9.9 .3-.9z"/><path class=k126 d="M226 133.2l-.3 .9 7.2-9.9 .3-.9z"/><path class=k130 d="M226.3 132.2l-.3 1 7.2-9.9 .3-.9z"/><path class=k134 d="M226.7 131.3l-.4 .9 7.2-9.8 .3-.9z"/><path class=k137 d="M227 130.3l-.3 1 7.1-9.8 .3-.9z"/><path class=k141 d="M227.3 129.4l-.3 .9 7.1-9.7 .3-.9z"/><path class=k144 d="M227.6 128.4l-.3 1 7.1-9.7 .3-.8z"/><path class=k148 d="M227.9 127.5l-.3 .9 7.1-9.5 .3-.9z"/><path class=k152 d="M228.2 126.5l-.3 1 7.1-9.5 .3-.8z"/><path class=k155 d="M228.5 125.6l-.3 .9 7.1-9.3 .3-.9z"/><path class=k159 d="M228.8 124.7l-.3 .9 7.1-9.3 .3-.8z"/><path class=k162 d="M229.1 123.7l-.3 1 7.1-9.2 .3-.8z"/><path class=k166 d="M229.4 122.8l-.3 .9 7.1-9 .3-.8z"/><path class=k169 d="M229.7 121.9l-.3 .9 7.1-8.9 .3-.7z"/><path class=k173 d="M230 121l-.3 .9 7.1-8.7 .4-.8z"/><path class=k176 d="M230.3 120.1l-.3 .9 7.2-8.6 .3-.7z"/><path class=k180 d="M230.6 119.2l-.3 .9 7.2-8.4 .3-.7z"/><path class=k183 d="M231 118.3l-.4 .9 7.2-8.2 .3-.7z"/><path class=k186 d="M231.3 117.5l-.3 .8 7.1-8 .3-.7z"/><path class=k190 d="M231.7 116.2l-.4 1.3 7.1-7.9 .4-1z"/><path class=k195 d="M232.2 115l-.5 1.2 7.1-7.6 .5-.9z"/><path class=k200 d="M232.6 113.9l-.4 1.1 7.1-7.3 .5-.8z"/><path class=k208 d="M233.6 111.7l-.5 1.1 7.1-6.7 .5-.8z"/><path class=k241 d="M238.6 104.1l-.7 .7 7.1-3.8 .7-.3z"/><path class=k244 d="M239.4 103.6l-.8 .5 7.1-3.4 .8-.2z"/><path class=k246 d="M240.3 103.1l-.9 .5 7.1-3.1 .9-.1z"/><path class=k249 d="M241.2 102.8l-.9 .3 7.1-2.7 1 0z"/><path class=k251 d="M242.2 102.7l-1 .1 7.2-2.4 .9 .1z"/><path class=k252 d="M243.1 102.7l-.9 0 7.1-2.2 .9 .2z"/><path class=k253 d="M244 102.8l-.9-.1 7.1-2 .9 .2z"/><path class=k254 d="M245.7 103.3l-1.7-.5 7.1-1.9 1.7 .6z"/><path class=k254 d="M171.2 78.4l-4.9-2.3 7.1-1.5 4.9 2.6z"/><path class=k253 d="M173.5 79.6l-2.3-1.2 7.1-1.2 2.3 1.4z"/><path class=k252 d="M175.2 80.6l-1.7-1 7.1-1 1.7 1.3z"/><path class=k251 d="M176.4 81.3l-1.2-.7 7.1-.7 1.2 1z"/><path class=k250 d="M177.3 82l-.9-.7 7.1-.4 1 .8z"/><path class=k249 d="M178.3 82.7l-1-.7 7.2-.3 .9 .9z"/><path class=k248 d="M179 83.3l-.7-.6 7.1-.1 .7 .9z"/><path class=k247 d="M179.6 83.8l-.6-.5 7.1 .2 .7 .7z"/><path class=k246 d="M180.2 84.4l-.6-.6 7.2 .4 .6 .7z"/><path class=k245 d="M180.9 85l-.7-.6 7.2 .5 .6 .8z"/><path class=k244 d="M181.5 85.6l-.6-.6 7.1 .7 .6 .9z"/><path class=k242 d="M182.1 86.3l-.6-.7 7.1 1 .6 .9z"/><path class=k240 d="M182.7 87l-.6-.7 7.1 1.2 .6 .9z"/><path class=k239 d="M183.3 87.8l-.6-.8 7.1 1.4 .6 1z"/><path class=k237 d="M183.8 88.4l-.5-.6 7.1 1.6 .5 .8z"/><path class=k236 d="M184.2 89l-.4-.6 7.1 1.8 .5 .9z"/><path class=k234 d="M184.7 89.7l-.5-.7 7.2 2.1 .4 .9z"/><path class=k232 d="M185.2 90.4l-.5-.7 7.1 2.3 .5 .9z"/><path class=k230 d="M185.6 91.1l-.4-.7 7.1 2.5 .4 .9z"/><path class=k229 d="M186.1 91.9l-.5-.8 7.1 2.7 .5 1z"/><path class=k226 d="M186.5 92.7l-.4-.8 7.1 2.9 .5 1.1z"/><path class=k224 d="M187 93.6l-.5-.9 7.2 3.2 .4 1.1z"/><path class=k222 d="M187.5 94.5l-.5-.9 7.1 3.4 .5 1.1z"/><path class=k219 d="M187.9 95.4l-.4-.9 7.1 3.6 .4 1.2z"/><path class=k217 d="M188.4 96.4l-.5-1 7.1 3.9 .5 1.2z"/><path class=k214 d="M188.8 97.5l-.4-1.1 7.1 4.1 .5 1.3z"/><path class=k212 d="M189.1 98.2l-.3-.7 7.2 4.3 .3 .8z"/><path class=k210 d="M189.5 98.9l-.4-.7 7.2 4.4 .3 .9z"/><path class=k208 d="M189.8 99.7l-.3-.8 7.1 4.6 .3 .9z"/><path class=k205 d="M190.1 100.4l-.3-.7 7.1 4.7 .3 .9z"/><path class=k202 d="M190.4 101.2l-.3-.8 7.1 4.9 .3 .9z"/><path class=k200 d="M190.7 102.1l-.3-.9 7.1 5 .3 1z"/><path class=k198 d="M191 102.9l-.3-.8 7.1 5.1 .3 1z"/><path class=k196 d="M191.3 103.8l-.3-.9 7.1 5.3 .3 1z"/><path class=k193 d="M191.6 104.6l-.3-.8 7.1 5.4 .3 1z"/><path class=k190 d="M191.9 105.5l-.3-.9 7.1 5.6 .3 1z"/><path class=k188 d="M192.2 106.5l-.3-1 7.1 5.7 .3 1z"/><path class=k185 d="M192.5 107.4l-.3-.9 7.1 5.7 .3 1z"/><path class=k182 d="M192.8 108.4l-.3-1 7.1 5.8 .4 1.1z"/><path class=k180 d="M193.1 109.4l-.3-1 7.2 5.9 .3 1.1z"/><path class=k176 d="M193.4 110.4l-.3-1 7.2 6 .3 1z"/><path class=k174 d="M193.8 111.4l-.4-1 7.2 6 .3 1.1z"/><path class=k170 d="M194.1 112.4l-.3-1 7.1 6.1 .3 1.1z"/><path class=k167 d="M194.4 113.5l-.3-1.1 7.1 6.2 .3 1.1z"/><path class=k164 d="M194.7 114.5l-.3-1 7.1 6.2 .3 1.1z"/><path class=k160 d="M195 115.6l-.3-1.1 7.1 6.3 .3 1.2z"/><path class=k158 d="M195.3 116.7l-.3-1.1 7.1 6.4 .3 1.1z"/><path class=k154 d="M195.6 117.9l-.3-1.2 7.1 6.4 .3 1.1z"/><path class=k150 d="M195.9 119l-.3-1.1 7.1 6.3 .3 1.1z"/><path class=k147 d="M196.2 120.1l-.3-1.1 7.1 6.3 .3 1.1z"/><path class=k144 d="M196.5 121.3l-.3-1.2 7.1 6.3 .3 1.1z"/><path class=k40 d="M210.3 157.2l-.7-.2-.7-.3 7.2-3.7 .6-.3 .7-.6z"/><path class=k41 d="M211.1 157.1l-.8 .1 7.1-5.1 .8-.8z"/><path class=k45 d="M212.3 156.4l-.6 .4 7.1-6.3 .6-.9z"/><path class=k47 d="M212.8 156l-.5 .4 7.1-6.8 .5-.8z"/><path class=k49 d="M213.2 155.5l-.4 .5 7.1-7.2 .5-.9z"/><path class=k52 d="M213.7 154.9l-.5 .6 7.2-7.6 .4-.9z"/><path class=k55 d="M214.2 154.2l-.5 .7 7.1-7.9 .5-1z"/><path class=k58 d="M214.6 153.5l-.4 .7 7.1-8.2 .4-1z"/><path class=k61 d="M215.1 152.6l-.5 .9 7.1-8.5 .5-1.1z"/><path class=k64 d="M215.5 151.7l-.4 .9 7.1-8.7 .5-1.2z"/><path class=k68 d="M216 150.8l-.5 .9 7.2-9 .4-1.2z"/><path class=k72 d="M216.5 149.8l-.5 1 7.1-9.3 .5-1.2z"/><path class=k76 d="M216.9 148.7l-.4 1.1 7.1-9.5 .4-1.3z"/><path class=k80 d="M217.2 147.9l-.3 .8 7.1-9.7 .4-.8z"/><path class=k83 d="M217.5 147.1l-.3 .8 7.2-9.7 .3-.9z"/><path class=k86 d="M217.8 146.3l-.3 .8 7.2-9.8 .3-.9z"/><path class=k90 d="M218.1 145.5l-.3 .8 7.2-9.9 .3-.9z"/><path class=k92 d="M218.5 144.7l-.4 .8 7.2-10 .3-.9z"/><path class=k96 d="M218.8 143.8l-.3 .9 7.1-10.1 .3-1z"/><path class=k99 d="M219.1 142.9l-.3 .9 7.1-10.2 .3-.9z"/><path class=k103 d="M219.4 142l-.3 .9 7.1-10.2 .3-.9z"/><path class=k106 d="M219.7 141.1l-.3 .9 7.1-10.2 .3-1z"/><path class=k110 d="M220 140.1l-.3 1 7.1-10.3 .3-.9z"/><path class=k114 d="M220.3 139.2l-.3 .9 7.1-10.2 .3-1z"/><path class=k117 d="M220.6 138.2l-.3 1 7.1-10.3 .3-.9z"/><path class=k121 d="M220.9 137.3l-.3 .9 7.1-10.2 .3-1z"/><path class=k124 d="M221.2 136.3l-.3 1 7.1-10.3 .3-.9z"/><path class=k128 d="M221.5 135.3l-.3 1 7.1-10.2 .3-1z"/><path class=k132 d="M221.8 134.3l-.3 1 7.1-10.2 .4-.9z"/><path class=k136 d="M222.1 133.3l-.3 1 7.2-10.1 .3-.9z"/><path class=k140 d="M222.4 132.3l-.3 1 7.2-10 .3-1z"/><path class=k143 d="M222.8 131.3l-.4 1 7.2-10 .3-.9z"/><path class=k147 d="M223.1 130.3l-.3 1 7.1-9.9 .3-.9z"/><path class=k151 d="M223.4 129.3l-.3 1 7.1-9.8 .3-.9z"/><path class=k155 d="M223.7 128.3l-.3 1 7.1-9.7 .3-.8z"/><path class=k158 d="M224 127.3l-.3 1 7.1-9.5 .3-.9z"/><path class=k162 d="M224.3 126.3l-.3 1 7.1-9.4 .3-.8z"/><path class=k166 d="M224.6 125.4l-.3 .9 7.1-9.2 .3-.9z"/><path class=k170 d="M224.9 124.4l-.3 1 7.1-9.2 .3-.8z"/><path class=k173 d="M225.2 123.5l-.3 .9 7.1-9 .3-.7z"/><path class=k177 d="M225.5 122.5l-.3 1 7.1-8.8 .3-.8z"/><path class=k180 d="M225.8 121.6l-.3 .9 7.1-8.6 .3-.7z"/><path class=k184 d="M226.1 120.7l-.3 .9 7.1-8.4 .4-.8z"/><path class=k187 d="M226.4 119.8l-.3 .9 7.2-8.3 .3-.7z"/><path class=k190 d="M226.7 118.9l-.3 .9 7.2-8.1 .3-.6z"/><path class=k194 d="M227 118.1l-.3 .8 7.2-7.8 .3-.7z"/><path class=k198 d="M227.5 116.8l-.5 1.3 7.2-7.7 .4-.9z"/><path class=k203 d="M228 115.7l-.5 1.1 7.1-7.3 .5-.8z"/><path class=k241 d="M233.3 106.6l-.7 .7 7.1-3.9 .8-.3z"/><path class=k244 d="M234.1 106l-.8 .6 7.2-3.5 .7-.3z"/><path class=k246 d="M235 105.5l-.9 .5 7.1-3.2 1-.1z"/><path class=k249 d="M235.9 105.2l-.9 .3 7.2-2.8 .9 0z"/><path class=k251 d="M236.9 105l-1 .2 7.2-2.5 .9 .1z"/><path class=k252 d="M237.8 105.1l-.9-.1 7.1-2.2 .9 .2z"/><path class=k254 d="M238.7 105.2l-.9-.1 7.1-2.1 .9 .3z"/><path class=k254 d="M239.9 105.5l-1.2-.3 7.1-1.9 1.3 .4z"/><path class=k254 d="M167.6 81.4l-4.6-2.1 7.1-1.4 4.6 2.4z"/><path class=k253 d="M169.9 82.7l-2.3-1.3 7.1-1.1 2.3 1.5z"/><path class=k252 d="M171.4 83.5l-1.5-.8 7.1-.9 1.6 1.1z"/><path class=k251 d="M172.7 84.3l-1.3-.8 7.2-.6 1.2 1.1z"/><path class=k250 d="M173.6 85l-.9-.7 7.1-.3 .9 .8z"/><path class=k249 d="M174.4 85.6l-.8-.6 7.1-.2 .8 .8z"/><path class=k248 d="M175.1 86.2l-.7-.6 7.1 0 .7 .9z"/><path class=k247 d="M175.7 86.7l-.6-.5 7.1 .3 .7 .7z"/><path class=k246 d="M176.3 87.3l-.6-.6 7.2 .5 .6 .8z"/><path class=k245 d="M177 87.9l-.7-.6 7.2 .7 .6 .8z"/><path class=k244 d="M177.6 88.6l-.6-.7 7.1 .9 .6 .9z"/><path class=k242 d="M178.2 89.3l-.6-.7 7.1 1.1 .6 .9z"/><path class=k240 d="M178.8 90l-.6-.7 7.1 1.3 .6 1.1z"/><path class=k239 d="M179.3 90.6l-.5-.6 7.1 1.7 .5 .8z"/><path class=k237 d="M179.7 91.2l-.4-.6 7.1 1.9 .4 .8z"/><path class=k236 d="M180.2 91.9l-.5-.7 7.1 2.1 .5 .9z"/><path class=k234 d="M180.6 92.6l-.4-.7 7.1 2.3 .5 .9z"/><path class=k232 d="M181.1 93.3l-.5-.7 7.2 2.5 .4 1z"/><path class=k230 d="M181.6 94.1l-.5-.8 7.1 2.8 .5 1z"/><path class=k228 d="M182 94.9l-.4-.8 7.1 3 .4 1.1z"/><path class=k226 d="M182.5 95.8l-.5-.9 7.1 3.3 .5 1.1z"/><path class=k224 d="M182.9 96.7l-.4-.9 7.1 3.5 .5 1.1z"/><path class=k221 d="M183.4 97.6l-.5-.9 7.2 3.7 .4 1.2z"/><path class=k218 d="M183.9 98.6l-.5-1 7.1 4 .5 1.3z"/><path class=k216 d="M184.2 99.3l-.3-.7 7.1 4.3 .3 .9z"/><path class=k214 d="M184.5 100l-.3-.7 7.1 4.5 .3 .8z"/><path class=k212 d="M184.8 100.8l-.3-.8 7.1 4.6 .3 .9z"/><path class=k210 d="M185.1 101.5l-.3-.7 7.1 4.7 .3 1z"/><path class=k208 d="M185.4 102.3l-.3-.8 7.1 5 .3 .9z"/><path class=k206 d="M185.7 103.1l-.3-.8 7.1 5.1 .3 1z"/><path class=k203 d="M186 103.9l-.3-.8 7.1 5.3 .3 1z"/><path class=k200 d="M186.3 104.8l-.3-.9 7.1 5.5 .3 1z"/><path class=k198 d="M186.6 105.7l-.3-.9 7.1 5.6 .4 1z"/><path class=k196 d="M186.9 106.6l-.3-.9 7.2 5.7 .3 1z"/><path class=k192 d="M187.2 107.5l-.3-.9 7.2 5.8 .3 1.1z"/><path class=k190 d="M187.5 108.4l-.3-.9 7.2 6 .3 1z"/><path class=k187 d="M187.9 109.4l-.4-1 7.2 6.1 .3 1.1z"/><path class=k184 d="M188.2 110.4l-.3-1 7.1 6.2 .3 1.1z"/><path class=k181 d="M188.5 111.4l-.3-1 7.1 6.3 .3 1.2z"/><path class=k178 d="M188.8 112.5l-.3-1.1 7.1 6.5 .3 1.1z"/><path class=k175 d="M189.1 113.5l-.3-1 7.1 6.5 .3 1.1z"/><path class=k172 d="M189.4 114.6l-.3-1.1 7.1 6.6 .3 1.2z"/><path class=k168 d="M189.7 115.7l-.3-1.1 7.1 6.7 .3 1.1z"/><path class=k165 d="M190 116.8l-.3-1.1 7.1 6.7 .3 1.2z"/><path class=k162 d="M190.3 118l-.3-1.2 7.1 6.8 .3 1.2z"/><path class=k158 d="M190.6 119.1l-.3-1.1 7.1 6.8 .3 1.1z"/><path class=k155 d="M190.9 120.3l-.3-1.2 7.1 6.8 .3 1.2z"/><path class=k151 d="M191.2 121.5l-.3-1.2 7.1 6.8 .4 1.2z"/><path class=k148 d="M191.5 122.7l-.3-1.2 7.2 6.8 .3 1.2z"/><path class=k36 d="M206.3 161.1l-.8 .1 7.1-5.1 .8-.8z"/><path class=k38 d="M206.9 160.9l-.6 .2 7.1-5.8 .6-.9z"/><path class=k40 d="M207.5 160.4l-.6 .5 7.1-6.5 .6-.9z"/><path class=k42 d="M208 160l-.5 .4 7.1-6.9 .5-.9z"/><path class=k44 d="M208.4 159.5l-.4 .5 7.1-7.4 .4-.9z"/><path class=k47 d="M208.9 158.9l-.5 .6 7.1-7.8 .5-.9z"/><path class=k50 d="M209.3 158.2l-.4 .7 7.1-8.1 .5-1z"/><path class=k53 d="M209.8 157.4l-.5 .8 7.2-8.4 .4-1.1z"/><path class=k56 d="M210.3 156.5l-.5 .9 7.1-8.7 .5-1.2z"/><path class=k60 d="M210.7 155.6l-.4 .9 7.1-9 .4-1.2z"/><path class=k64 d="M211.2 154.6l-.5 1 7.1-9.3 .5-1.2z"/><path class=k68 d="M211.5 153.9l-.3 .7 7.1-9.5 .3-.9z"/><path class=k70 d="M211.8 153.2l-.3 .7 7.1-9.7 .3-.9z"/><path class=k73 d="M212.1 152.4l-.3 .8 7.1-9.9 .3-.8z"/><path class=k76 d="M212.4 151.6l-.3 .8 7.1-9.9 .3-1z"/><path class=k80 d="M212.7 150.8l-.3 .8 7.1-10.1 .3-.9z"/><path class=k82 d="M213 150l-.3 .8 7.1-10.2 .3-.9z"/><path class=k86 d="M213.3 149.1l-.3 .9 7.1-10.3 .4-1z"/><path class=k89 d="M213.6 148.2l-.3 .9 7.2-10.4 .3-.9z"/><path class=k93 d="M213.9 147.3l-.3 .9 7.2-10.4 .3-1z"/><path class=k96 d="M214.2 146.4l-.3 .9 7.2-10.5 .3-1z"/><path class=k100 d="M214.6 145.5l-.4 .9 7.2-10.6 .3-1z"/><path class=k104 d="M214.9 144.5l-.3 1 7.1-10.7 .3-1z"/><path class=k107 d="M215.2 143.5l-.3 1 7.1-10.7 .3-1z"/><path class=k111 d="M215.5 142.5l-.3 1 7.1-10.7 .3-1z"/><path class=k115 d="M215.8 141.5l-.3 1 7.1-10.7 .3-1z"/><path class=k119 d="M216.1 140.5l-.3 1 7.1-10.7 .3-1z"/><path class=k122 d="M216.4 139.5l-.3 1 7.1-10.7 .3-1z"/><path class=k126 d="M216.7 138.4l-.3 1.1 7.1-10.7 .3-1z"/><path class=k130 d="M217 137.4l-.3 1 7.1-10.6 .3-1z"/><path class=k134 d="M217.3 136.3l-.3 1.1 7.1-10.6 .3-.9z"/><path class=k138 d="M217.6 135.3l-.3 1 7.1-10.4 .3-1z"/><path class=k142 d="M217.9 134.2l-.3 1.1 7.1-10.4 .4-1z"/><path class=k146 d="M218.2 133.1l-.3 1.1 7.2-10.3 .3-.9z"/><path class=k150 d="M218.5 132.1l-.3 1 7.2-10.1 .3-1z"/><path class=k154 d="M218.8 131l-.3 1.1 7.2-10.1 .3-.9z"/><path class=k158 d="M219.2 130l-.4 1 7.2-9.9 .3-.9z"/><path class=k162 d="M219.5 128.9l-.3 1.1 7.1-9.8 .3-.8z"/><path class=k166 d="M219.8 127.9l-.3 1 7.1-9.5 .3-.9z"/><path class=k170 d="M220.1 126.9l-.3 1 7.1-9.4 .3-.8z"/><path class=k174 d="M220.4 125.9l-.3 1 7.1-9.2 .3-.9z"/><path class=k177 d="M220.7 124.9l-.3 1 7.1-9.1 .3-.8z"/><path class=k181 d="M221 123.9l-.3 1 7.1-8.9 .3-.7z"/><path class=k185 d="M221.3 123l-.3 .9 7.1-8.6 .3-.8z"/><path class=k188 d="M221.6 122l-.3 1 7.1-8.5 .3-.7z"/><path class=k192 d="M221.9 121.1l-.3 .9 7.1-8.2 .3-.7z"/><path class=k195 d="M222.2 120.2l-.3 .9 7.1-8 .4-.6z"/><path class=k198 d="M222.5 119.4l-.3 .8 7.2-7.7 .3-.7z"/><path class=k203 d="M223 118.1l-.5 1.3 7.2-7.6 .4-.9z"/><path class=k207 d="M223.5 116.9l-.5 1.2 7.1-7.2 .5-.8z"/><path class=k212 d="M223.9 115.8l-.4 1.1 7.1-6.8 .4-.7z"/><path class=k238 d="M227.6 109.5l-.6 .7 7.1-4.2 .6-.4z"/><path class=k242 d="M228.4 108.7l-.8 .8 7.1-3.9 .8-.3z"/><path class=k245 d="M229.1 108.1l-.7 .6 7.1-3.4 .8-.2z"/><path class=k248 d="M230.1 107.7l-1 .4 7.2-3 .9-.1z"/><path class=k250 d="M231 107.4l-.9 .3 7.1-2.7 .9 .1z"/><path class=k252 d="M231.9 107.4l-.9 0 7.1-2.3 .9 .1z"/><path class=k253 d="M232.8 107.4l-.9 0 7.1-2.2 .9 .3z"/><path class=k254 d="M234.2 107.7l-1.4-.3 7.1-1.9 1.4 .4z"/><path class=k254 d="M164.3 84.6l-4.6-2.1 7.1-1.4 4.6 2.4z"/><path class=k253 d="M166.5 85.8l-2.2-1.2 7.1-1.1 2.2 1.5z"/><path class=k252 d="M167.8 86.6l-1.3-.8 7.1-.8 1.4 1.1z"/><path class=k251 d="M169.1 87.4l-1.3-.8 7.2-.5 1.2 1.1z"/><path class=k250 d="M170 88.1l-.9-.7 7.1-.2 .9 .9z"/><path class=k249 d="M170.8 88.7l-.8-.6 7.1 0 .8 .8z"/><path class=k248 d="M171.4 89.2l-.6-.5 7.1 .2 .6 .7z"/><path class=k247 d="M172 89.8l-.6-.6 7.1 .4 .6 .8z"/><path class=k246 d="M172.6 90.4l-.6-.6 7.1 .6 .6 .8z"/><path class=k244 d="M173.2 91l-.6-.6 7.1 .8 .6 .9z"/><path class=k243 d="M173.8 91.7l-.6-.7 7.1 1.1 .6 1z"/><path class=k242 d="M174.4 92.4l-.6-.7 7.1 1.4 .7 1z"/><path class=k240 d="M174.9 93l-.5-.6 7.2 1.7 .4 .8z"/><path class=k239 d="M175.4 93.6l-.5-.6 7.1 1.9 .5 .9z"/><path class=k237 d="M175.8 94.3l-.4-.7 7.1 2.2 .4 .9z"/><path class=k235 d="M176.3 94.9l-.5-.6 7.1 2.4 .5 .9z"/><path class=k234 d="M176.7 95.7l-.4-.8 7.1 2.7 .5 1z"/><path class=k232 d="M177.2 96.5l-.5-.8 7.2 2.9 .4 1.1z"/><path class=k230 d="M177.7 97.3l-.5-.8 7.1 3.2 .5 1.1z"/><path class=k227 d="M178.1 98.1l-.4-.8 7.1 3.5 .4 1.1z"/><path class=k225 d="M178.6 99.1l-.5-1 7.1 3.8 .5 1.2z"/><path class=k222 d="M179 100l-.4-.9 7.1 4 .5 1.3z"/><path class=k220 d="M179.3 100.7l-.3-.7 7.2 4.4 .3 .8z"/><path class=k218 d="M179.7 101.4l-.4-.7 7.2 4.5 .3 .9z"/><path class=k216 d="M180 102.1l-.3-.7 7.1 4.7 .3 .9z"/><path class=k214 d="M180.3 102.9l-.3-.8 7.1 4.9 .3 1z"/><path class=k212 d="M180.6 103.7l-.3-.8 7.1 5.1 .3 .9z"/><path class=k210 d="M180.9 104.5l-.3-.8 7.1 5.2 .3 1z"/><path class=k208 d="M181.2 105.3l-.3-.8 7.1 5.4 .3 1z"/><path class=k204 d="M181.5 106.1l-.3-.8 7.1 5.6 .3 1z"/><path class=k202 d="M181.8 107l-.3-.9 7.1 5.8 .3 1.1z"/><path class=k200 d="M182.1 107.9l-.3-.9 7.1 6 .3 1.1z"/><path class=k196 d="M182.4 108.9l-.3-1 7.1 6.2 .3 1.1z"/><path class=k194 d="M182.7 109.8l-.3-.9 7.1 6.3 .3 1.1z"/><path class=k191 d="M183 110.8l-.3-1 7.1 6.5 .4 1.1z"/><path class=k188 d="M183.3 111.8l-.3-1 7.2 6.6 .3 1.1z"/><path class=k185 d="M183.6 112.9l-.3-1.1 7.2 6.7 .3 1.2z"/><path class=k182 d="M184 114l-.4-1.1 7.2 6.8 .3 1.2z"/><path class=k178 d="M184.3 115.1l-.3-1.1 7.1 6.9 .3 1.2z"/><path class=k175 d="M184.6 116.2l-.3-1.1 7.1 7 .3 1.2z"/><path class=k172 d="M184.9 117.3l-.3-1.1 7.1 7.1 .3 1.2z"/><path class=k168 d="M185.2 118.5l-.3-1.2 7.1 7.2 .3 1.2z"/><path class=k165 d="M185.5 119.7l-.3-1.2 7.1 7.2 .3 1.3z"/><path class=k161 d="M185.8 120.9l-.3-1.2 7.1 7.3 .3 1.2z"/><path class=k157 d="M186.1 122.1l-.3-1.2 7.1 7.3 .3 1.2z"/><path class=k154 d="M186.4 123.3l-.3-1.2 7.1 7.3 .3 1.3z"/><path class=k150 d="M186.7 124.6l-.3-1.3 7.1 7.4 .3 1.2z"/><path class=k146 d="M187 125.9l-.3-1.3 7.1 7.3 .3 1.3z"/><path class=k142 d="M187.3 127.2l-.3-1.3 7.1 7.3 .4 1.2z"/><path class=k138 d="M187.6 128.5l-.3-1.3 7.2 7.2 .3 1.2z"/><path class=k134 d="M187.9 129.8l-.3-1.3 7.2 7.1 .3 1.3z"/><path class=k30 d="M200.8 165.4l-.6-.1-.6-.3 7.1-4 1.3-1z"/><path class=k31 d="M201.4 165.3l-.6 .1 7.2-5.4 .6-.7z"/><path class=k35 d="M202.7 164.5l-.6 .5 7.1-6.6 .6-1z"/><path class=k37 d="M203.1 164.1l-.4 .4 7.1-7.1 .5-.9z"/><path class=k39 d="M203.6 163.5l-.5 .6 7.2-7.6 .4-.9z"/><path class=k42 d="M204.1 162.9l-.5 .6 7.1-7.9 .5-1z"/><path class=k45 d="M204.5 162.2l-.4 .7 7.1-8.3 .4-1z"/><path class=k48 d="M205 161.4l-.5 .8 7.1-8.6 .5-1.2z"/><path class=k52 d="M205.4 160.5l-.4 .9 7.1-9 .5-1.2z"/><path class=k55 d="M205.9 159.6l-.5 .9 7.2-9.3 .4-1.2z"/><path class=k58 d="M206.2 158.9l-.3 .7 7.1-9.6 .3-.9z"/><path class=k62 d="M206.5 158.2l-.3 .7 7.1-9.8 .3-.9z"/><path class=k64 d="M206.8 157.4l-.3 .8 7.1-10 .3-.9z"/><path class=k68 d="M207.1 156.7l-.3 .7 7.1-10.1 .3-.9z"/><path class=k70 d="M207.4 155.9l-.3 .8 7.1-10.3 .4-.9z"/><path class=k74 d="M207.7 155l-.3 .9 7.2-10.4 .3-1z"/><path class=k77 d="M208 154.2l-.3 .8 7.2-10.5 .3-1z"/><path class=k80 d="M208.3 153.3l-.3 .9 7.2-10.7 .3-1z"/><path class=k84 d="M208.7 152.4l-.4 .9 7.2-10.8 .3-1z"/><path class=k87 d="M209 151.4l-.3 1 7.1-10.9 .3-1z"/><path class=k91 d="M209.3 150.5l-.3 .9 7.1-10.9 .3-1z"/><path class=k95 d="M209.6 149.5l-.3 1 7.1-11 .3-1.1z"/><path class=k98 d="M209.9 148.5l-.3 1 7.1-11.1 .3-1z"/><path class=k102 d="M210.2 147.5l-.3 1 7.1-11.1 .3-1.1z"/><path class=k106 d="M210.5 146.4l-.3 1.1 7.1-11.2 .3-1z"/><path class=k110 d="M210.8 145.4l-.3 1 7.1-11.1 .3-1.1z"/><path class=k114 d="M211.1 144.3l-.3 1.1 7.1-11.2 .3-1.1z"/><path class=k118 d="M211.4 143.2l-.3 1.1 7.1-11.2 .3-1z"/><path class=k122 d="M211.7 142.1l-.3 1.1 7.1-11.1 .3-1.1z"/><path class=k126 d="M212 141l-.3 1.1 7.1-11.1 .4-1z"/><path class=k131 d="M212.3 139.9l-.3 1.1 7.2-11 .3-1.1z"/><path class=k135 d="M212.6 138.8l-.3 1.1 7.2-11 .3-1z"/><path class=k139 d="M213 137.6l-.4 1.2 7.2-10.9 .3-1z"/><path class=k143 d="M213.3 136.5l-.3 1.1 7.1-10.7 .3-1z"/><path class=k148 d="M213.6 135.4l-.3 1.1 7.1-10.6 .3-1z"/><path class=k152 d="M213.9 134.3l-.3 1.1 7.1-10.5 .3-1z"/><path class=k156 d="M214.2 133.1l-.3 1.2 7.1-10.4 .3-.9z"/><path class=k160 d="M214.5 132l-.3 1.1 7.1-10.1 .3-1z"/><path class=k164 d="M214.8 130.9l-.3 1.1 7.1-10 .3-.9z"/><path class=k168 d="M215.1 129.8l-.3 1.1 7.1-9.8 .3-.9z"/><path class=k172 d="M215.4 128.8l-.3 1 7.1-9.6 .3-.8z"/><path class=k176 d="M215.7 127.7l-.3 1.1 7.1-9.4 .3-.9z"/><path class=k180 d="M216 126.7l-.3 1 7.1-9.2 .3-.8z"/><path class=k184 d="M216.3 125.7l-.3 1 7.1-9 .4-.8z"/><path class=k188 d="M216.6 124.7l-.3 1 7.2-8.8 .3-.7z"/><path class=k192 d="M216.9 123.7l-.3 1 7.2-8.5 .3-.7z"/><path class=k195 d="M217.2 122.7l-.3 1 7.2-8.2 .3-.7z"/><path class=k199 d="M217.6 121.8l-.4 .9 7.2-7.9 .3-.7z"/><path class=k202 d="M217.9 120.9l-.3 .9 7.1-7.7 .3-.6z"/><path class=k206 d="M218.2 120.1l-.3 .8 7.1-7.4 .3-.6z"/><path class=k210 d="M218.6 118.9l-.4 1.2 7.1-7.2 .5-.8z"/><path class=k214 d="M219.1 117.7l-.5 1.2 7.2-6.8 .4-.8z"/><path class=k218 d="M219.6 116.6l-.5 1.1 7.1-6.4 .5-.7z"/><path class=k241 d="M222.8 111.4l-.6 .7 7.1-4 .6-.4z"/><path class=k244 d="M223.5 110.7l-.7 .7 7.1-3.7 .8-.2z"/><path class=k247 d="M224.3 110.2l-.8 .5 7.2-3.2 .7-.1z"/><path class=k249 d="M225.2 109.8l-.9 .4 7.1-2.8 1 0z"/><path class=k252 d="M226.1 109.7l-.9 .1 7.2-2.4 .9 .1z"/><path class=k253 d="M227.1 109.7l-1 0 7.2-2.2 .9 .2z"/><path class=k254 d="M228.5 109.9l-1.4-.2 7.1-2 1.4 .4z"/><path class=k254 d="M160.9 87.8l-4.3-2 7.1-1.5 4.3 2.4z"/><path class=k253 d="M163 88.9l-2.1-1.1 7.1-1.1 2.1 1.5z"/><path class=k252 d="M164.4 89.8l-1.4-.9 7.1-.7 1.4 1.1z"/><path class=k251 d="M165.5 90.5l-1.1-.7 7.1-.5 1.1 1.1z"/><path class=k250 d="M166.4 91.2l-.9-.7 7.1-.1 .9 .9z"/><path class=k249 d="M167 91.7l-.6-.5 7.1 .1 .6 .7z"/><path class=k248 d="M167.6 92.2l-.6-.5 7.1 .3 .6 .8z"/><path class=k247 d="M168.2 92.7l-.6-.5 7.1 .6 .7 .8z"/><path class=k246 d="M168.8 93.4l-.6-.7 7.2 .9 .6 .9z"/><path class=k244 d="M169.5 94l-.7-.6 7.2 1.1 .6 .9z"/><path class=k243 d="M170.1 94.7l-.6-.7 7.1 1.4 .6 1.1z"/><path class=k242 d="M170.5 95.3l-.4-.6 7.1 1.8 .5 .8z"/><path class=k240 d="M171 95.9l-.5-.6 7.2 2 .4 .8z"/><path class=k239 d="M171.5 96.5l-.5-.6 7.1 2.2 .5 1z"/><path class=k237 d="M171.9 97.2l-.4-.7 7.1 2.6 .4 .9z"/><path class=k235 d="M172.4 98l-.5-.8 7.1 2.8 .5 1.1z"/><path class=k233 d="M172.8 98.7l-.4-.7 7.1 3.1 .5 1z"/><path class=k231 d="M173.3 99.6l-.5-.9 7.2 3.4 .4 1.2z"/><path class=k229 d="M173.8 100.4l-.5-.8 7.1 3.7 .5 1.2z"/><path class=k226 d="M174.2 101.4l-.4-1 7.1 4.1 .4 1.2z"/><path class=k224 d="M174.5 102l-.3-.6 7.1 4.3 .3 .9z"/><path class=k222 d="M174.8 102.7l-.3-.7 7.1 4.6 .4 .9z"/><path class=k220 d="M175.1 103.4l-.3-.7 7.2 4.8 .3 .9z"/><path class=k218 d="M175.4 104.1l-.3-.7 7.2 5 .3 1z"/><path class=k216 d="M175.8 104.9l-.4-.8 7.2 5.3 .3 .9z"/><path class=k214 d="M176.1 105.7l-.3-.8 7.1 5.4 .3 1z"/><path class=k212 d="M176.4 106.5l-.3-.8 7.1 5.6 .3 1.1z"/><path class=k210 d="M176.7 107.4l-.3-.9 7.1 5.9 .3 1z"/><path class=k206 d="M177 108.3l-.3-.9 7.1 6 .3 1.1z"/><path class=k204 d="M177.3 109.2l-.3-.9 7.1 6.2 .3 1.1z"/><path class=k202 d="M177.6 110.1l-.3-.9 7.1 6.4 .3 1.1z"/><path class=k198 d="M177.9 111.1l-.3-1 7.1 6.6 .3 1.2z"/><path class=k196 d="M178.2 112.1l-.3-1 7.1 6.8 .3 1.2z"/><path class=k192 d="M178.5 113.1l-.3-1 7.1 7 .3 1.2z"/><path class=k189 d="M178.8 114.2l-.3-1.1 7.1 7.2 .3 1.2z"/><path class=k186 d="M179.1 115.3l-.3-1.1 7.1 7.3 .4 1.2z"/><path class=k182 d="M179.4 116.4l-.3-1.1 7.2 7.4 .3 1.3z"/><path class=k179 d="M179.7 117.6l-.3-1.2 7.2 7.6 .3 1.2z"/><path class=k176 d="M180 118.8l-.3-1.2 7.2 7.6 .3 1.3z"/><path class=k172 d="M180.4 120l-.4-1.2 7.2 7.7 .3 1.3z"/><path class=k168 d="M180.7 121.2l-.3-1.2 7.1 7.8 .3 1.3z"/><path class=k164 d="M181 122.5l-.3-1.3 7.1 7.9 .3 1.3z"/><path class=k160 d="M181.3 123.8l-.3-1.3 7.1 7.9 .3 1.3z"/><path class=k156 d="M181.6 125.1l-.3-1.3 7.1 7.9 .3 1.4z"/><path class=k152 d="M181.9 126.4l-.3-1.3 7.1 8 .3 1.3z"/><path class=k148 d="M182.2 127.8l-.3-1.4 7.1 8 .3 1.3z"/><path class=k144 d="M182.5 129.2l-.3-1.4 7.1 7.9 .3 1.3z"/><path class=k140 d="M182.8 130.5l-.3-1.3 7.1 7.8 .3 1.3z"/><path class=k136 d="M183.1 131.9l-.3-1.4 7.1 7.8 .3 1.3z"/><path class=k131 d="M183.4 133.3l-.3-1.4 7.1 7.7 .3 1.3z"/><path class=k127 d="M183.7 134.7l-.3-1.4 7.1 7.6 .4 1.3z"/><path class=k123 d="M184 136.1l-.3-1.4 7.2 7.5 .3 1.2z"/><path class=k118 d="M184.3 137.5l-.3-1.4 7.2 7.3 .3 1.3z"/><path class=k114 d="M184.7 138.9l-.4-1.4 7.2 7.2 .3 1.2z"/><path class=k110 d="M185 140.3l-.3-1.4 7.1 7 .3 1.2z"/><path class=k106 d="M185.3 141.7l-.3-1.4 7.1 6.8 .3 1.2z"/><path class=k101 d="M185.6 143.1l-.3-1.4 7.1 6.6 .3 1.1z"/><path class=k24 d="M195.4 169.5l-.8-.4 7.2-4 .7-.4z"/><path class=k25 d="M196.2 169.5l-.8 0 7.1-4.8 .8-.8z"/><path class=k28 d="M197.4 169l-.6 .4 7.1-6.3 .6-.9z"/><path class=k30 d="M197.8 168.7l-.4 .3 7.1-6.8 .5-.8z"/><path class=k32 d="M198.3 168.2l-.5 .5 7.2-7.3 .4-.9z"/><path class=k34 d="M198.8 167.7l-.5 .5 7.1-7.7 .5-.9z"/><path class=k37 d="M199.2 167l-.4 .7 7.1-8.1 .5-1.1z"/><path class=k40 d="M199.7 166.3l-.5 .7 7.2-8.5 .4-1.1z"/><path class=k43 d="M200.1 165.5l-.4 .8 7.1-8.9 .5-1.1z"/><path class=k47 d="M200.6 164.6l-.5 .9 7.2-9.2 .4-1.3z"/><path class=k50 d="M200.9 163.9l-.3 .7 7.1-9.6 .3-.8z"/><path class=k52 d="M201.2 163.3l-.3 .6 7.1-9.7 .3-.9z"/><path class=k56 d="M201.5 162.5l-.3 .8 7.1-10 .4-.9z"/><path class=k58 d="M201.8 161.8l-.3 .7 7.2-10.1 .3-1z"/><path class=k61 d="M202.1 161l-.3 .8 7.2-10.4 .3-.9z"/><path class=k64 d="M202.5 160.2l-.4 .8 7.2-10.5 .3-1z"/><path class=k68 d="M202.8 159.4l-.3 .8 7.1-10.7 .3-1z"/><path class=k71 d="M203.1 158.5l-.3 .9 7.1-10.9 .3-1z"/><path class=k74 d="M203.4 157.6l-.3 .9 7.1-11 .3-1.1z"/><path class=k78 d="M203.7 156.6l-.3 1 7.1-11.2 .3-1z"/><path class=k82 d="M204 155.7l-.3 .9 7.1-11.2 .3-1.1z"/><path class=k85 d="M204.3 154.7l-.3 1 7.1-11.4 .3-1.1z"/><path class=k89 d="M204.6 153.7l-.3 1 7.1-11.5 .3-1.1z"/><path class=k93 d="M204.9 152.6l-.3 1.1 7.1-11.6 .3-1.1z"/><path class=k97 d="M205.2 151.5l-.3 1.1 7.1-11.6 .3-1.1z"/><path class=k101 d="M205.5 150.4l-.3 1.1 7.1-11.6 .3-1.1z"/><path class=k105 d="M205.8 149.3l-.3 1.1 7.1-11.6 .4-1.2z"/><path class=k110 d="M206.1 148.2l-.3 1.1 7.2-11.7 .3-1.1z"/><path class=k114 d="M206.4 147l-.3 1.2 7.2-11.7 .3-1.1z"/><path class=k118 d="M206.7 145.9l-.3 1.1 7.2-11.6 .3-1.1z"/><path class=k122 d="M207.1 144.7l-.4 1.2 7.2-11.6 .3-1.2z"/><path class=k127 d="M207.4 143.5l-.3 1.2 7.1-11.6 .3-1.1z"/><path class=k131 d="M207.7 142.3l-.3 1.2 7.1-11.5 .3-1.1z"/><path class=k136 d="M208 141.1l-.3 1.2 7.1-11.4 .3-1.1z"/><path class=k140 d="M208.3 139.9l-.3 1.2 7.1-11.3 .3-1z"/><path class=k145 d="M208.6 138.7l-.3 1.2 7.1-11.1 .3-1.1z"/><path class=k149 d="M208.9 137.5l-.3 1.2 7.1-11 .3-1z"/><path class=k154 d="M209.2 136.3l-.3 1.2 7.1-10.8 .3-1z"/><path class=k158 d="M209.5 135.1l-.3 1.2 7.1-10.6 .3-1z"/><path class=k162 d="M209.8 133.9l-.3 1.2 7.1-10.4 .3-1z"/><path class=k167 d="M210.1 132.8l-.3 1.1 7.1-10.2 .3-1z"/><path class=k171 d="M210.4 131.6l-.3 1.2 7.1-10.1 .4-.9z"/><path class=k175 d="M210.7 130.5l-.3 1.1 7.2-9.8 .3-.9z"/><path class=k180 d="M211 129.4l-.3 1.1 7.2-9.6 .3-.8z"/><path class=k184 d="M211.4 128.3l-.4 1.1 7.2-9.3 .3-.8z"/><path class=k188 d="M211.7 127.3l-.3 1 7.1-9 .3-.8z"/><path class=k192 d="M212 126.2l-.3 1.1 7.1-8.8 .3-.8z"/><path class=k195 d="M212.3 125.2l-.3 1 7.1-8.5 .3-.7z"/><path class=k199 d="M212.6 124.2l-.3 1 7.1-8.2 .3-.7z"/><path class=k203 d="M212.9 123.3l-.3 .9 7.1-7.9 .3-.6z"/><path class=k206 d="M213.2 122.4l-.3 .9 7.1-7.6 .3-.7z"/><path class=k210 d="M213.5 121.5l-.3 .9 7.1-7.4 .3-.5z"/><path class=k214 d="M214 120.3l-.5 1.2 7.1-7 .5-.8z"/><path class=k218 d="M214.4 119.1l-.4 1.2 7.1-6.6 .4-.8z"/><path class=k223 d="M214.9 118.1l-.5 1 7.1-6.2 .5-.6z"/><path class=k244 d="M218.3 113l-.8 .7 7.1-3.7 .8-.2z"/><path class=k247 d="M219 112.5l-.7 .5 7.1-3.2 .7-.1z"/><path class=k250 d="M219.9 112.1l-.9 .4 7.1-2.8 1 0z"/><path class=k252 d="M220.9 111.9l-1 .2 7.2-2.4 .9 .1z"/><path class=k253 d="M221.8 112l-.9-.1 7.1-2.1 .9 .2z"/><path class=k254 d="M222.7 112.1l-.9-.1 7.1-2 .9 .3z"/><path class=k254 d="M157.7 91l-4-1.8 7.2-1.4 4 2.3z"/><path class=k253 d="M159.7 92.1l-2-1.1 7.2-.9 2 1.4z"/><path class=k252 d="M161.1 93l-1.4-.9 7.2-.6 1.3 1.2z"/><path class=k251 d="M162 93.6l-.9-.6 7.1-.3 1 1z"/><path class=k250 d="M162.8 94.2l-.8-.6 7.2 .1 .7 .8z"/><path class=k249 d="M163.6 94.8l-.8-.6 7.1 .3 .8 1z"/><path class=k248 d="M164.2 95.4l-.6-.6 7.1 .7 .6 .8z"/><path class=k247 d="M164.8 96l-.6-.6 7.1 .9 .6 .9z"/><path class=k246 d="M165.4 96.6l-.6-.6 7.1 1.2 .6 1z"/><path class=k244 d="M165.9 97.2l-.5-.6 7.1 1.6 .5 .8z"/><path class=k243 d="M166.3 97.7l-.4-.5 7.1 1.8 .5 .8z"/><path class=k242 d="M166.8 98.3l-.5-.6 7.2 2.1 .4 .9z"/><path class=k240 d="M167.2 99l-.4-.7 7.1 2.4 .5 1z"/><path class=k238 d="M167.7 99.6l-.5-.6 7.2 2.7 .4 1z"/><path class=k237 d="M168.2 100.4l-.5-.8 7.1 3.1 .5 1.1z"/><path class=k235 d="M168.6 101.2l-.4-.8 7.1 3.4 .5 1.1z"/><path class=k233 d="M169.1 102l-.5-.8 7.2 3.7 .4 1.2z"/><path class=k230 d="M169.5 102.9l-.4-.9 7.1 4.1 .5 1.3z"/><path class=k228 d="M169.9 103.5l-.4-.6 7.2 4.5 .3 .9z"/><path class=k226 d="M170.2 104.2l-.3-.7 7.1 4.8 .3 .9z"/><path class=k224 d="M170.5 104.9l-.3-.7 7.1 5 .3 .9z"/><path class=k222 d="M170.8 105.6l-.3-.7 7.1 5.2 .3 1z"/><path class=k220 d="M171.1 106.4l-.3-.8 7.1 5.5 .3 1z"/><path class=k218 d="M171.4 107.2l-.3-.8 7.1 5.7 .3 1z"/><path class=k216 d="M171.7 108l-.3-.8 7.1 5.9 .3 1.1z"/><path class=k214 d="M172 108.9l-.3-.9 7.1 6.2 .3 1.1z"/><path class=k210 d="M172.3 109.8l-.3-.9 7.1 6.4 .3 1.1z"/><path class=k208 d="M172.6 110.7l-.3-.9 7.1 6.6 .3 1.2z"/><path class=k205 d="M172.9 111.7l-.3-1 7.1 6.9 .3 1.2z"/><path class=k202 d="M173.2 112.7l-.3-1 7.1 7.1 .4 1.2z"/><path class=k199 d="M173.5 113.7l-.3-1 7.2 7.3 .3 1.2z"/><path class=k196 d="M173.8 114.8l-.3-1.1 7.2 7.5 .3 1.3z"/><path class=k192 d="M174.2 115.9l-.4-1.1 7.2 7.7 .3 1.3z"/><path class=k189 d="M174.5 117.1l-.3-1.2 7.1 7.9 .3 1.3z"/><path class=k186 d="M174.8 118.3l-.3-1.2 7.1 8 .3 1.3z"/><path class=k182 d="M175.1 119.5l-.3-1.2 7.1 8.1 .3 1.4z"/><path class=k178 d="M175.4 120.8l-.3-1.3 7.1 8.3 .3 1.4z"/><path class=k174 d="M175.7 122.1l-.3-1.3 7.1 8.4 .3 1.3z"/><path class=k170 d="M176 123.4l-.3-1.3 7.1 8.4 .3 1.4z"/><path class=k166 d="M176.3 124.7l-.3-1.3 7.1 8.5 .3 1.4z"/><path class=k162 d="M176.6 126.1l-.3-1.4 7.1 8.6 .3 1.4z"/><path class=k157 d="M176.9 127.5l-.3-1.4 7.1 8.6 .3 1.4z"/><path class=k153 d="M177.2 128.9l-.3-1.4 7.1 8.6 .3 1.4z"/><path class=k148 d="M177.5 130.4l-.3-1.5 7.1 8.6 .4 1.4z"/><path class=k144 d="M177.8 131.8l-.3-1.4 7.2 8.5 .3 1.4z"/><path class=k140 d="M178.1 133.3l-.3-1.5 7.2 8.5 .3 1.4z"/><path class=k135 d="M178.4 134.8l-.3-1.5 7.2 8.4 .3 1.4z"/><path class=k130 d="M178.8 136.3l-.4-1.5 7.2 8.3 .3 1.3z"/><path class=k126 d="M179.1 137.8l-.3-1.5 7.1 8.1 .3 1.4z"/><path class=k121 d="M179.4 139.3l-.3-1.5 7.1 8 .3 1.3z"/><path class=k116 d="M179.7 140.8l-.3-1.5 7.1 7.8 .3 1.3z"/><path class=k112 d="M180 142.2l-.3-1.4 7.1 7.6 .3 1.3z"/><path class=k107 d="M180.3 143.7l-.3-1.5 7.1 7.5 .3 1.3z"/><path class=k103 d="M180.6 145.2l-.3-1.5 7.1 7.3 .3 1.2z"/><path class=k98 d="M180.9 146.6l-.3-1.4 7.1 7 .3 1.2z"/><path class=k94 d="M181.2 148.1l-.3-1.5 7.1 6.8 .3 1.2z"/><path class=k89 d="M181.5 149.5l-.3-1.4 7.1 6.5 .3 1.1z"/><path class=k85 d="M181.8 150.9l-.3-1.4 7.1 6.2 .3 1.1z"/><path class=k81 d="M182.1 152.3l-.3-1.4 7.1 5.9 .4 1.1z"/><path class=k77 d="M182.4 153.6l-.3-1.3 7.2 5.6 .3 1z"/><path class=k73 d="M182.7 154.9l-.3-1.3 7.2 5.3 .3 1z"/><path class=k69 d="M183.1 156.2l-.4-1.3 7.2 5 .3 .9z"/><path class=k19 d="M191.2 173.7l-.6 0-.6-.3 7.1-4.2 1.2-1z"/><path class=k20 d="M191.8 173.6l-.6 .1 7.1-5.5 .6-.7z"/><path class=k22 d="M192.4 173.3l-.6 .3 7.1-6.1 .6-1z"/><path class=k24 d="M192.9 173l-.5 .3 7.1-6.8 .5-.7z"/><path class=k26 d="M193.3 172.6l-.4 .4 7.1-7.2 .5-.9z"/><path class=k28 d="M193.8 172l-.5 .6 7.2-7.7 .4-1z"/><path class=k31 d="M194.3 171.4l-.5 .6 7.1-8.1 .5-1z"/><path class=k33 d="M194.7 170.7l-.4 .7 7.1-8.5 .4-1.1z"/><path class=k37 d="M195.2 169.9l-.5 .8 7.1-8.9 .5-1.2z"/><path class=k40 d="M195.6 169l-.4 .9 7.1-9.3 .5-1.2z"/><path class=k44 d="M195.9 168.4l-.3 .6 7.2-9.6 .3-.9z"/><path class=k46 d="M196.2 167.8l-.3 .6 7.2-9.9 .3-.9z"/><path class=k48 d="M196.6 167l-.4 .8 7.2-10.2 .3-1z"/><path class=k52 d="M196.9 166.3l-.3 .7 7.1-10.4 .3-.9z"/><path class=k54 d="M197.2 165.5l-.3 .8 7.1-10.6 .3-1z"/><path class=k58 d="M197.5 164.7l-.3 .8 7.1-10.8 .3-1z"/><path class=k61 d="M197.8 163.9l-.3 .8 7.1-11 .3-1.1z"/><path class=k64 d="M198.1 163l-.3 .9 7.1-11.3 .3-1.1z"/><path class=k68 d="M198.4 162l-.3 1 7.1-11.5 .3-1.1z"/><path class=k71 d="M198.7 161.1l-.3 .9 7.1-11.6 .3-1.1z"/><path class=k75 d="M199 160.1l-.3 1 7.1-11.8 .3-1.1z"/><path class=k79 d="M199.3 159.1l-.3 1 7.1-11.9 .3-1.2z"/><path class=k83 d="M199.6 158l-.3 1.1 7.1-12.1 .3-1.1z"/><path class=k87 d="M199.9 156.9l-.3 1.1 7.1-12.1 .4-1.2z"/><path class=k91 d="M200.2 155.8l-.3 1.1 7.2-12.2 .3-1.2z"/><path class=k96 d="M200.5 154.6l-.3 1.2 7.2-12.3 .3-1.2z"/><path class=k100 d="M200.9 153.4l-.4 1.2 7.2-12.3 .3-1.2z"/><path class=k104 d="M201.2 152.2l-.3 1.2 7.1-12.3 .3-1.2z"/><path class=k109 d="M201.5 151l-.3 1.2 7.1-12.3 .3-1.2z"/><path class=k114 d="M201.8 149.8l-.3 1.2 7.1-12.3 .3-1.2z"/><path class=k118 d="M202.1 148.5l-.3 1.3 7.1-12.3 .3-1.2z"/><path class=k123 d="M202.4 147.2l-.3 1.3 7.1-12.2 .3-1.2z"/><path class=k128 d="M202.7 145.9l-.3 1.3 7.1-12.1 .3-1.2z"/><path class=k132 d="M203 144.7l-.3 1.2 7.1-12 .3-1.1z"/><path class=k137 d="M203.3 143.4l-.3 1.3 7.1-11.9 .3-1.2z"/><path class=k142 d="M203.6 142.1l-.3 1.3 7.1-11.8 .3-1.1z"/><path class=k146 d="M203.9 140.8l-.3 1.3 7.1-11.6 .3-1.1z"/><path class=k152 d="M204.2 139.5l-.3 1.3 7.1-11.4 .4-1.1z"/><path class=k156 d="M204.5 138.2l-.3 1.3 7.2-11.2 .3-1z"/><path class=k161 d="M204.8 137l-.3 1.2 7.2-10.9 .3-1.1z"/><path class=k166 d="M205.1 135.7l-.3 1.3 7.2-10.8 .3-1z"/><path class=k170 d="M205.5 134.5l-.4 1.2 7.2-10.5 .3-1z"/><path class=k174 d="M205.8 133.3l-.3 1.2 7.1-10.3 .3-.9z"/><path class=k179 d="M206.1 132.1l-.3 1.2 7.1-10 .3-.9z"/><path class=k183 d="M206.4 130.9l-.3 1.2 7.1-9.7 .3-.9z"/><path class=k188 d="M206.7 129.8l-.3 1.1 7.1-9.4 .3-.8z"/><path class=k192 d="M207 128.7l-.3 1.1 7.1-9.1 .3-.8z"/><path class=k196 d="M207.3 127.6l-.3 1.1 7.1-8.8 .3-.8z"/><path class=k200 d="M207.6 126.6l-.3 1 7.1-8.5 .3-.7z"/><path class=k204 d="M207.9 125.6l-.3 1 7.1-8.2 .3-.7z"/><path class=k207 d="M208.2 124.6l-.3 1 7.1-7.9 .3-.6z"/><path class=k211 d="M208.5 123.7l-.3 .9 7.1-7.5 .3-.6z"/><path class=k214 d="M208.8 122.8l-.3 .9 7.1-7.2 .4-.6z"/><path class=k218 d="M209.3 121.6l-.5 1.2 7.2-6.9 .4-.7z"/><path class=k223 d="M209.8 120.4l-.5 1.2 7.1-6.4 .5-.7z"/><path class=k227 d="M210.2 119.4l-.4 1 7.1-5.9 .4-.6z"/><path class=k238 d="M211.7 116.6l-.6 1 7.2-4.6 .6-.4z"/><path class=k242 d="M212.4 115.9l-.7 .7 7.2-4 .6-.4z"/><path class=k245 d="M213.1 115.1l-.7 .8 7.1-3.7 .8-.2z"/><path class=k249 d="M213.9 114.6l-.8 .5 7.2-3.1 .7-.1z"/><path class=k251 d="M214.8 114.2l-.9 .4 7.1-2.7 .9 .1z"/><path class=k253 d="M215.7 114.2l-.9 0 7.1-2.2 1 .2z"/><path class=k254 d="M216.8 114.3l-1.1-.1 7.2-2 1 .3z"/><path class=k254 d="M154.8 94.3l-3.9-1.8 7.1-1.3 3.9 2.3z"/><path class=k253 d="M156.6 95.4l-1.8-1.1 7.1-.8 1.8 1.5z"/><path class=k252 d="M157.8 96.1l-1.2-.7 7.1-.4 1.2 1.1z"/><path class=k251 d="M158.7 96.8l-.9-.7 7.1 0 1 1.1z"/><path class=k250 d="M159.5 97.4l-.8-.6 7.2 .4 .7 .9z"/><path class=k249 d="M160.1 97.9l-.6-.5 7.1 .7 .6 .9z"/><path class=k248 d="M160.7 98.5l-.6-.6 7.1 1.1 .7 .9z"/><path class=k247 d="M161.3 99.1l-.6-.6 7.2 1.4 .6 1z"/><path class=k245 d="M161.8 99.7l-.5-.6 7.2 1.8 .4 .8z"/><path class=k244 d="M162.3 100.2l-.5-.5 7.1 2 .5 .9z"/><path class=k243 d="M162.7 100.8l-.4-.6 7.1 2.4 .5 .9z"/><path class=k241 d="M163.2 101.5l-.5-.7 7.2 2.7 .4 1.1z"/><path class=k240 d="M163.7 102.2l-.5-.7 7.1 3.1 .5 1z"/><path class=k238 d="M164.1 102.9l-.4-.7 7.1 3.4 .4 1.2z"/><path class=k236 d="M164.6 103.7l-.5-.8 7.1 3.9 .5 1.2z"/><path class=k234 d="M164.9 104.3l-.3-.6 7.1 4.3 .3 .9z"/><path class=k232 d="M165.2 104.9l-.3-.6 7.1 4.6 .3 .9z"/><path class=k230 d="M165.5 105.5l-.3-.6 7.1 4.9 .3 .9z"/><path class=k228 d="M165.8 106.2l-.3-.7 7.1 5.2 .3 1z"/><path class=k226 d="M166.1 106.9l-.3-.7 7.1 5.5 .3 1z"/><path class=k224 d="M166.4 107.7l-.3-.8 7.1 5.8 .3 1z"/><path class=k222 d="M166.7 108.5l-.3-.8 7.1 6 .3 1.1z"/><path class=k220 d="M167 109.3l-.3-.8 7.1 6.3 .4 1.1z"/><path class=k218 d="M167.3 110.2l-.3-.9 7.2 6.6 .3 1.2z"/><path class=k215 d="M167.6 111.1l-.3-.9 7.2 6.9 .3 1.2z"/><path class=k212 d="M167.9 112l-.3-.9 7.2 7.2 .3 1.2z"/><path class=k210 d="M168.3 113l-.4-1 7.2 7.5 .3 1.3z"/><path class=k206 d="M168.6 114.1l-.3-1.1 7.1 7.8 .3 1.3z"/><path class=k203 d="M168.9 115.2l-.3-1.1 7.1 8 .3 1.3z"/><path class=k200 d="M169.2 116.3l-.3-1.1 7.1 8.2 .3 1.3z"/><path class=k196 d="M169.5 117.5l-.3-1.2 7.1 8.4 .3 1.4z"/><path class=k192 d="M169.8 118.7l-.3-1.2 7.1 8.6 .3 1.4z"/><path class=k189 d="M170.1 120l-.3-1.3 7.1 8.8 .3 1.4z"/><path class=k185 d="M170.4 121.3l-.3-1.3 7.1 8.9 .3 1.5z"/><path class=k180 d="M170.7 122.7l-.3-1.4 7.1 9.1 .3 1.4z"/><path class=k176 d="M171 124.1l-.3-1.4 7.1 9.1 .3 1.5z"/><path class=k172 d="M171.3 125.5l-.3-1.4 7.1 9.2 .3 1.5z"/><path class=k168 d="M171.6 126.9l-.3-1.4 7.1 9.3 .4 1.5z"/><path class=k163 d="M171.9 128.4l-.3-1.5 7.2 9.4 .3 1.5z"/><path class=k158 d="M172.2 129.9l-.3-1.5 7.2 9.4 .3 1.5z"/><path class=k154 d="M172.6 131.5l-.4-1.6 7.2 9.4 .3 1.5z"/><path class=k148 d="M172.9 133l-.3-1.5 7.1 9.3 .3 1.4z"/><path class=k144 d="M173.2 134.6l-.3-1.6 7.1 9.2 .3 1.5z"/><path class=k139 d="M173.5 136.1l-.3-1.5 7.1 9.1 .3 1.5z"/><path class=k134 d="M173.8 137.7l-.3-1.6 7.1 9.1 .3 1.4z"/><path class=k129 d="M174.1 139.3l-.3-1.6 7.1 8.9 .3 1.5z"/><path class=k124 d="M174.4 140.9l-.3-1.6 7.1 8.8 .3 1.4z"/><path class=k119 d="M174.7 142.5l-.3-1.6 7.1 8.6 .3 1.4z"/><path class=k114 d="M175 144.1l-.3-1.6 7.1 8.4 .3 1.4z"/><path class=k109 d="M175.3 145.7l-.3-1.6 7.1 8.2 .3 1.3z"/><path class=k104 d="M175.6 147.2l-.3-1.5 7.1 7.9 .3 1.3z"/><path class=k100 d="M175.9 148.8l-.3-1.6 7.1 7.7 .4 1.3z"/><path class=k95 d="M176.2 150.3l-.3-1.5 7.2 7.4 .3 1.3z"/><path class=k90 d="M176.5 151.9l-.3-1.6 7.2 7.2 .3 1.2z"/><path class=k85 d="M176.8 153.4l-.3-1.5 7.2 6.8 .3 1.2z"/><path class=k81 d="M177.2 154.8l-.4-1.4 7.2 6.5 .3 1.1z"/><path class=k76 d="M177.5 156.3l-.3-1.5 7.1 6.2 .3 1.1z"/><path class=k72 d="M177.8 157.7l-.3-1.4 7.1 5.8 .3 1.1z"/><path class=k68 d="M178.1 159.1l-.3-1.4 7.1 5.5 .3 1z"/><path class=k63 d="M178.4 160.4l-.3-1.3 7.1 5.1 .3 .9z"/><path class=k59 d="M178.7 161.7l-.3-1.3 7.1 4.7 .3 1z"/><path class=k56 d="M179 163l-.3-1.3 7.1 4.4 .3 .8z"/><path class=k52 d="M179.3 164.2l-.3-1.2 7.1 3.9 .3 .8z"/><path class=k48 d="M179.6 165.4l-.3-1.2 7.1 3.5 .3 .8z"/><path class=k45 d="M179.9 166.5l-.3-1.1 7.1 3.1 .3 .7z"/><path class=k42 d="M180.2 167.6l-.3-1.1 7.1 2.7 .3 .7z"/><path class=k38 d="M180.5 168.6l-.3-1 7.1 2.3 .4 .6z"/><path class=k36 d="M180.8 169.6l-.3-1 7.2 1.9 .3 .6z"/><path class=k13 d="M186.1 177.9l-.8-.2 7.1-4.4 .8-.6z"/><path class=k14 d="M186.7 177.9l-.6 0 7.1-5.2 .6-.7z"/><path class=k16 d="M187.3 177.7l-.6 .2 7.1-5.9 .6-.8z"/><path class=k18 d="M187.9 177.3l-.6 .4 7.1-6.5 .6-1z"/><path class=k19 d="M188.4 176.9l-.5 .4 7.1-7.1 .5-.9z"/><path class=k22 d="M188.8 176.4l-.4 .5 7.1-7.6 .4-.9z"/><path class=k24 d="M189.3 175.9l-.5 .5 7.1-8 .5-1z"/><path class=k27 d="M189.7 175.2l-.4 .7 7.1-8.5 .5-1.1z"/><path class=k30 d="M190.2 174.5l-.5 .7 7.2-8.9 .4-1.2z"/><path class=k33 d="M190.7 173.7l-.5 .8 7.1-9.4 .5-1.2z"/><path class=k36 d="M191 173.1l-.3 .6 7.1-9.8 .3-.9z"/><path class=k38 d="M191.3 172.4l-.3 .7 7.1-10.1 .3-1z"/><path class=k42 d="M191.6 171.7l-.3 .7 7.1-10.4 .3-.9z"/><path class=k44 d="M191.9 171l-.3 .7 7.1-10.6 .3-1z"/><path class=k47 d="M192.2 170.2l-.3 .8 7.1-10.9 .3-1z"/><path class=k50 d="M192.5 169.4l-.3 .8 7.1-11.1 .3-1.1z"/><path class=k54 d="M192.8 168.6l-.3 .8 7.1-11.4 .3-1.1z"/><path class=k57 d="M193.1 167.7l-.3 .9 7.1-11.7 .3-1.1z"/><path class=k60 d="M193.4 166.7l-.3 1 7.1-11.9 .3-1.2z"/><path class=k64 d="M193.7 165.7l-.3 1 7.1-12.1 .4-1.2z"/><path class=k68 d="M194 164.7l-.3 1 7.2-12.3 .3-1.2z"/><path class=k72 d="M194.3 163.6l-.3 1.1 7.2-12.5 .3-1.2z"/><path class=k76 d="M194.6 162.5l-.3 1.1 7.2-12.6 .3-1.2z"/><path class=k80 d="M195 161.4l-.4 1.1 7.2-12.7 .3-1.3z"/><path class=k85 d="M195.3 160.2l-.3 1.2 7.1-12.9 .3-1.3z"/><path class=k90 d="M195.6 158.9l-.3 1.3 7.1-13 .3-1.3z"/><path class=k94 d="M195.9 157.7l-.3 1.2 7.1-13 .3-1.2z"/><path class=k99 d="M196.2 156.4l-.3 1.3 7.1-13 .3-1.3z"/><path class=k104 d="M196.5 155.1l-.3 1.3 7.1-13 .3-1.3z"/><path class=k108 d="M196.8 153.7l-.3 1.4 7.1-13 .3-1.3z"/><path class=k114 d="M197.1 152.4l-.3 1.3 7.1-12.9 .3-1.3z"/><path class=k118 d="M197.4 151l-.3 1.4 7.1-12.9 .3-1.3z"/><path class=k124 d="M197.7 149.6l-.3 1.4 7.1-12.8 .3-1.2z"/><path class=k128 d="M198 148.2l-.3 1.4 7.1-12.6 .3-1.3z"/><path class=k134 d="M198.3 146.9l-.3 1.3 7.1-12.5 .4-1.2z"/><path class=k139 d="M198.6 145.5l-.3 1.4 7.2-12.4 .3-1.2z"/><path class=k144 d="M198.9 144.1l-.3 1.4 7.2-12.2 .3-1.2z"/><path class=k149 d="M199.2 142.7l-.3 1.4 7.2-12 .3-1.2z"/><path class=k154 d="M199.6 141.3l-.4 1.4 7.2-11.8 .3-1.1z"/><path class=k159 d="M199.9 139.9l-.3 1.4 7.1-11.5 .3-1.1z"/><path class=k164 d="M200.2 138.6l-.3 1.3 7.1-11.2 .3-1.1z"/><path class=k169 d="M200.5 137.3l-.3 1.3 7.1-11 .3-1z"/><path class=k174 d="M200.8 136l-.3 1.3 7.1-10.7 .3-1z"/><path class=k178 d="M201.1 134.7l-.3 1.3 7.1-10.4 .3-1z"/><path class=k183 d="M201.4 133.5l-.3 1.2 7.1-10.1 .3-.9z"/><path class=k188 d="M201.7 132.2l-.3 1.3 7.1-9.8 .3-.9z"/><path class=k192 d="M202 131.1l-.3 1.1 7.1-9.4 .3-.8z"/><path class=k196 d="M202.3 129.9l-.3 1.2 7.1-9.1 .3-.8z"/><path class=k201 d="M202.6 128.8l-.3 1.1 7.1-8.7 .4-.8z"/><path class=k205 d="M202.9 127.7l-.3 1.1 7.2-8.4 .3-.7z"/><path class=k208 d="M203.2 126.7l-.3 1 7.2-8 .3-.6z"/><path class=k212 d="M203.5 125.7l-.3 1 7.2-7.6 .3-.7z"/><path class=k216 d="M203.9 124.8l-.4 .9 7.2-7.3 .3-.5z"/><path class=k219 d="M204.2 123.9l-.3 .9 7.1-6.9 .3-.5z"/><path class=k223 d="M204.6 122.7l-.4 1.2 7.1-6.5 .4-.8z"/><path class=k228 d="M205.1 121.6l-.5 1.1 7.1-6.1 .5-.6z"/><path class=k232 d="M205.5 120.6l-.4 1 7.1-5.6 .5-.5z"/><path class=k242 d="M207.1 118.1l-.6 .8 7.1-4.1 .6-.4z"/><path class=k246 d="M207.7 117.4l-.6 .7 7.1-3.7 .6-.2z"/><path class=k249 d="M208.5 116.8l-.8 .6 7.1-3.2 .8 0z"/><path class=k251 d="M209.4 116.4l-.9 .4 7.1-2.6 .9 0z"/><path class=k253 d="M210.3 116.4l-.9 0 7.1-2.2 .9 .3z"/><path class=k254 d="M211.2 116.5l-.9-.1 7.1-1.9 .9 .3z"/><path class=k254 d="M152.1 97.8l-3.6-1.7 7.2-1.3 1.8 1.1 1.7 1.3z"/><path class=k253 d="M153.8 98.7l-1.7-.9 7.1-.6 1.7 1.5z"/><path class=k252 d="M154.8 99.4l-1-.7 7.1 0 1.1 1.1z"/><path class=k251 d="M155.8 100.1l-1-.7 7.2 .4 .9 1.2z"/><path class=k250 d="M156.4 100.6l-.6-.5 7.1 .9 .6 .9z"/><path class=k249 d="M157 101.2l-.6-.6 7.1 1.3 .6 1z"/><path class=k248 d="M157.4 101.7l-.4-.5 7.1 1.7 .5 .8z"/><path class=k247 d="M157.9 102.2l-.5-.5 7.2 2 .4 .9z"/><path class=k246 d="M158.4 102.7l-.5-.5 7.1 2.4 .5 .9z"/><path class=k244 d="M158.8 103.3l-.4-.6 7.1 2.8 .5 1.1z"/><path class=k243 d="M159.3 104l-.5-.7 7.2 3.3 .4 1.1z"/><path class=k241 d="M159.7 104.7l-.4-.7 7.1 3.7 .5 1.2z"/><path class=k240 d="M160.1 105.2l-.4-.5 7.2 4.2 .3 .8z"/><path class=k238 d="M160.4 105.7l-.3-.5 7.1 4.5 .3 .9z"/><path class=k236 d="M160.7 106.3l-.3-.6 7.1 4.9 .3 1z"/><path class=k235 d="M161 107l-.3-.7 7.1 5.3 .3 .9z"/><path class=k234 d="M161.3 107.6l-.3-.6 7.1 5.5 .3 1.1z"/><path class=k232 d="M161.6 108.3l-.3-.7 7.1 6 .3 1z"/><path class=k230 d="M161.9 109.1l-.3-.8 7.1 6.3 .3 1.2z"/><path class=k226 d="M162.2 109.9l-.3-.8 7.1 6.7 .3 1.1z"/><path class=k224 d="M162.5 110.7l-.3-.8 7.1 7 .3 1.2z"/><path class=k222 d="M162.8 111.7l-.3-1 7.1 7.4 .3 1.3z"/><path class=k219 d="M163.1 112.6l-.3-.9 7.1 7.7 .3 1.3z"/><path class=k216 d="M163.4 113.7l-.3-1.1 7.1 8.1 .4 1.3z"/><path class=k213 d="M163.7 114.7l-.3-1 7.2 8.3 .3 1.4z"/><path class=k210 d="M164 115.9l-.3-1.2 7.2 8.7 .3 1.4z"/><path class=k206 d="M164.4 117.1l-.4-1.2 7.2 8.9 .3 1.4z"/><path class=k202 d="M164.7 118.3l-.3-1.2 7.1 9.1 .3 1.5z"/><path class=k198 d="M165 119.6l-.3-1.3 7.1 9.4 .3 1.5z"/><path class=k194 d="M165.3 121l-.3-1.4 7.1 9.6 .3 1.5z"/><path class=k190 d="M165.6 122.4l-.3-1.4 7.1 9.7 .3 1.5z"/><path class=k185 d="M165.9 123.8l-.3-1.4 7.1 9.8 .3 1.6z"/><path class=k181 d="M166.2 125.3l-.3-1.5 7.1 10 .3 1.6z"/><path class=k176 d="M166.5 126.8l-.3-1.5 7.1 10.1 .3 1.5z"/><path class=k171 d="M166.8 128.4l-.3-1.6 7.1 10.1 .3 1.6z"/><path class=k166 d="M167.1 130l-.3-1.6 7.1 10.1 .3 1.6z"/><path class=k162 d="M167.4 131.6l-.3-1.6 7.1 10.1 .3 1.6z"/><path class=k156 d="M167.7 133.2l-.3-1.6 7.1 10.1 .4 1.6z"/><path class=k151 d="M168 134.9l-.3-1.7 7.2 10.1 .3 1.6z"/><path class=k146 d="M168.3 136.5l-.3-1.6 7.2 10 .3 1.6z"/><path class=k140 d="M168.6 138.2l-.3-1.7 7.2 10 .3 1.5z"/><path class=k136 d="M169 139.9l-.4-1.7 7.2 9.8 .3 1.6z"/><path class=k130 d="M169.3 141.6l-.3-1.7 7.1 9.7 .3 1.5z"/><path class=k124 d="M169.6 143.3l-.3-1.7 7.1 9.5 .3 1.5z"/><path class=k120 d="M169.9 145l-.3-1.7 7.1 9.3 .3 1.5z"/><path class=k114 d="M170.2 146.7l-.3-1.7 7.1 9.1 .3 1.5z"/><path class=k109 d="M170.5 148.4l-.3-1.7 7.1 8.9 .3 1.4z"/><path class=k104 d="M170.8 150.1l-.3-1.7 7.1 8.6 .3 1.4z"/><path class=k98 d="M171.1 151.7l-.3-1.6 7.1 8.3 .3 1.3z"/><path class=k94 d="M171.4 153.4l-.3-1.7 7.1 8 .3 1.4z"/><path class=k88 d="M171.7 155l-.3-1.6 7.1 7.7 .3 1.3z"/><path class=k83 d="M172 156.6l-.3-1.6 7.1 7.4 .3 1.2z"/><path class=k78 d="M172.3 158.2l-.3-1.6 7.1 7 .4 1.2z"/><path class=k74 d="M172.6 159.7l-.3-1.5 7.2 6.6 .3 1.2z"/><path class=k69 d="M172.9 161.2l-.3-1.5 7.2 6.3 .3 1.1z"/><path class=k64 d="M173.3 162.6l-.4-1.4 7.2 5.9 .3 1z"/><path class=k60 d="M173.6 164.1l-.3-1.5 7.1 5.5 .3 1z"/><path class=k56 d="M173.9 165.4l-.3-1.3 7.1 5 .3 1z"/><path class=k52 d="M174.2 166.8l-.3-1.4 7.1 4.7 .3 .9z"/><path class=k48 d="M174.5 168.1l-.3-1.3 7.1 4.2 .3 .8z"/><path class=k44 d="M174.8 169.3l-.3-1.2 7.1 3.7 .3 .8z"/><path class=k40 d="M175.1 170.5l-.3-1.2 7.1 3.3 .3 .8z"/><path class=k36 d="M175.4 171.6l-.3-1.1 7.1 2.9 .3 .7z"/><path class=k34 d="M175.7 172.7l-.3-1.1 7.1 2.5 .3 .6z"/><path class=k30 d="M176 173.7l-.3-1 7.1 2 .3 .6z"/><path class=k28 d="M176.3 174.7l-.3-1 7.1 1.6 .3 .5z"/><path class=k24 d="M176.6 175.6l-.3-.9 7.1 1.1 .4 .4z"/><path class=k22 d="M176.9 176.4l-.3-.8 7.2 .6 .3 .4z"/><path class=k19 d="M177.4 177.6l-.5-1.2 7.2 .2 .4 .5z"/><path class=k16 d="M177.9 178.6l-.5-1 7.1-.5 .5 .4z"/><path class=k14 d="M178.3 179.5l-.4-.9 7.1-1.1 .4 .3z"/><path class=k12 d="M178.9 180.5l-.6-1 7.1-1.7 .7 .1z"/><path class=k9 d="M181.8 182.1l-.6 0 7.2-5.2 .6-.6z"/><path class=k12 d="M183.1 181.5l-.6 .3 7.1-6.4 .6-.9z"/><path class=k14 d="M183.5 181.1l-.4 .4 7.1-7 .5-.8z"/><path class=k18 d="M184.5 180.2l-.5 .5 7.1-8 .5-1z"/><path class=k21 d="M184.9 179.6l-.4 .6 7.1-8.5 .4-1.1z"/><path class=k23 d="M185.4 179l-.5 .6 7.1-9 .5-1.2z"/><path class=k26 d="M185.7 178.5l-.3 .5 7.1-9.6 .3-.8z"/><path class=k28 d="M186 177.9l-.3 .6 7.1-9.9 .3-.9z"/><path class=k30 d="M186.3 177.3l-.3 .6 7.1-10.2 .3-1z"/><path class=k34 d="M186.6 176.7l-.3 .6 7.1-10.6 .3-1z"/><path class=k36 d="M186.9 176l-.3 .7 7.1-11 .3-1z"/><path class=k39 d="M187.2 175.2l-.3 .8 7.1-11.3 .3-1.1z"/><path class=k42 d="M187.5 174.4l-.3 .8 7.1-11.6 .3-1.1z"/><path class=k45 d="M187.8 173.6l-.3 .8 7.1-11.9 .4-1.1z"/><path class=k48 d="M188.1 172.6l-.3 1 7.2-12.2 .3-1.2z"/><path class=k52 d="M188.4 171.7l-.3 .9 7.2-12.4 .3-1.3z"/><path class=k56 d="M188.7 170.6l-.3 1.1 7.2-12.8 .3-1.2z"/><path class=k60 d="M189.1 169.6l-.4 1 7.2-12.9 .3-1.3z"/><path class=k64 d="M189.4 168.4l-.3 1.2 7.1-13.2 .3-1.3z"/><path class=k69 d="M189.7 167.2l-.3 1.2 7.1-13.3 .3-1.4z"/><path class=k73 d="M190 166l-.3 1.2 7.1-13.5 .3-1.3z"/><path class=k78 d="M190.3 164.7l-.3 1.3 7.1-13.6 .3-1.4z"/><path class=k82 d="M190.6 163.4l-.3 1.3 7.1-13.7 .3-1.4z"/><path class=k88 d="M190.9 162.1l-.3 1.3 7.1-13.8 .3-1.4z"/><path class=k92 d="M191.2 160.7l-.3 1.4 7.1-13.9 .3-1.3z"/><path class=k98 d="M191.5 159.3l-.3 1.4 7.1-13.8 .3-1.4z"/><path class=k103 d="M191.8 157.8l-.3 1.5 7.1-13.8 .3-1.4z"/><path class=k108 d="M192.1 156.4l-.3 1.4 7.1-13.7 .3-1.4z"/><path class=k114 d="M192.4 154.9l-.3 1.5 7.1-13.7 .4-1.4z"/><path class=k120 d="M192.7 153.4l-.3 1.5 7.2-13.6 .3-1.4z"/><path class=k124 d="M193 151.9l-.3 1.5 7.2-13.5 .3-1.3z"/><path class=k130 d="M193.4 150.4l-.4 1.5 7.2-13.3 .3-1.3z"/><path class=k136 d="M193.7 148.9l-.3 1.5 7.1-13.1 .3-1.3z"/><path class=k142 d="M194 147.4l-.3 1.5 7.1-12.9 .3-1.3z"/><path class=k146 d="M194.3 145.9l-.3 1.5 7.1-12.7 .3-1.2z"/><path class=k152 d="M194.6 144.4l-.3 1.5 7.1-12.4 .3-1.3z"/><path class=k158 d="M194.9 142.9l-.3 1.5 7.1-12.2 .3-1.1z"/><path class=k162 d="M195.2 141.5l-.3 1.4 7.1-11.8 .3-1.2z"/><path class=k168 d="M195.5 140l-.3 1.5 7.1-11.6 .3-1.1z"/><path class=k174 d="M195.8 138.6l-.3 1.4 7.1-11.2 .3-1.1z"/><path class=k178 d="M196.1 137.3l-.3 1.3 7.1-10.9 .3-1z"/><path class=k184 d="M196.4 135.9l-.3 1.4 7.1-10.6 .3-1z"/><path class=k188 d="M196.7 134.6l-.3 1.3 7.1-10.2 .4-.9z"/><path class=k193 d="M197 133.3l-.3 1.3 7.2-9.8 .3-.9z"/><path class=k198 d="M197.3 132.1l-.3 1.2 7.2-9.4 .3-.8z"/><path class=k202 d="M197.6 130.9l-.3 1.2 7.2-9 .3-.8z"/><path class=k206 d="M198 129.8l-.4 1.1 7.2-8.6 .3-.7z"/><path class=k210 d="M198.3 128.7l-.3 1.1 7.1-8.2 .3-.7z"/><path class=k214 d="M198.6 127.6l-.3 1.1 7.1-7.8 .3-.6z"/><path class=k218 d="M198.9 126.7l-.3 .9 7.1-7.3 .3-.6z"/><path class=k222 d="M199.2 125.7l-.3 1 7.1-7 .3-.5z"/><path class=k225 d="M199.5 124.8l-.3 .9 7.1-6.5 .3-.5z"/><path class=k229 d="M200 123.6l-.5 1.2 7.1-6.1 .5-.6z"/><path class=k233 d="M200.4 122.6l-.4 1 7.1-5.5 .4-.6z"/><path class=k237 d="M200.9 121.6l-.5 1 7.1-5.1 .5-.4z"/><path class=k241 d="M201.3 120.8l-.4 .8 7.1-4.5 .5-.3z"/><path class=k244 d="M201.9 120l-.6 .8 7.2-4 .6-.3z"/><path class=k248 d="M202.7 119.2l-.8 .8 7.2-3.5 .7-.1z"/><path class=k251 d="M203.6 118.7l-.9 .5 7.1-2.8 1 0z"/><path class=k254 d="M204.6 118.5l-1 .2 7.2-2.3 .9 .2z"/><path class=k254 d="M150.2 101.5l-3.3-1.5 7.2-1.1 1.7 1.2 1.5 1.4z"/><path class=k253 d="M151.5 102.4l-1.3-.9 7.1 0 1.4 1.6z"/><path class=k252 d="M152.5 103l-1-.6 7.2 .7 .9 1.3z"/><path class=k251 d="M153.2 103.6l-.7-.6 7.1 1.4 .8 1.3z"/><path class=k250 d="M153.7 104.1l-.5-.5 7.2 2.1 .4 .9z"/><path class=k249 d="M154.2 104.5l-.5-.4 7.1 2.5 .5 1z"/><path class=k248 d="M154.6 105l-.4-.5 7.1 3.1 .4 1.1z"/><path class=k247 d="M155.1 105.6l-.5-.6 7.1 3.7 .5 1.2z"/><path class=k246 d="M155.4 106.1l-.3-.5 7.1 4.3 .3 .8z"/><path class=k244 d="M155.7 106.5l-.3-.4 7.1 4.6 .3 1z"/><path class=k243 d="M156 107l-.3-.5 7.1 5.2 .3 .9z"/><path class=k242 d="M156.3 107.6l-.3-.6 7.1 5.6 .3 1.1z"/><path class=k240 d="M156.6 108.2l-.3-.6 7.1 6.1 .3 1z"/><path class=k238 d="M156.9 108.9l-.3-.7 7.1 6.5 .3 1.2z"/><path class=k236 d="M157.2 109.7l-.3-.8 7.1 7 .4 1.2z"/><path class=k234 d="M157.5 110.5l-.3-.8 7.2 7.4 .3 1.2z"/><path class=k231 d="M157.8 111.4l-.3-.9 7.2 7.8 .3 1.3z"/><path class=k228 d="M158.1 112.4l-.3-1 7.2 8.2 .3 1.4z"/><path class=k225 d="M158.5 113.5l-.4-1.1 7.2 8.6 .3 1.4z"/><path class=k222 d="M158.8 114.6l-.3-1.1 7.1 8.9 .3 1.4z"/><path class=k218 d="M159.1 115.8l-.3-1.2 7.1 9.2 .3 1.5z"/><path class=k214 d="M159.4 117l-.3-1.2 7.1 9.5 .3 1.5z"/><path class=k211 d="M159.7 118.4l-.3-1.4 7.1 9.8 .3 1.6z"/><path class=k206 d="M160 119.7l-.3-1.3 7.1 10 .3 1.6z"/><path class=k202 d="M160.3 121.1l-.3-1.4 7.1 10.3 .3 1.6z"/><path class=k198 d="M160.6 122.6l-.3-1.5 7.1 10.5 .3 1.6z"/><path class=k193 d="M160.9 124.1l-.3-1.5 7.1 10.6 .3 1.7z"/><path class=k188 d="M161.2 125.7l-.3-1.6 7.1 10.8 .3 1.6z"/><path class=k183 d="M161.5 127.3l-.3-1.6 7.1 10.8 .3 1.7z"/><path class=k178 d="M161.8 128.9l-.3-1.6 7.1 10.9 .4 1.7z"/><path class=k172 d="M162.1 130.6l-.3-1.7 7.2 11 .3 1.7z"/><path class=k168 d="M162.4 132.3l-.3-1.7 7.2 11 .3 1.7z"/><path class=k162 d="M162.8 134.1l-.4-1.8 7.2 11 .3 1.7z"/><path class=k156 d="M163.1 135.8l-.3-1.7 7.1 10.9 .3 1.7z"/><path class=k151 d="M163.4 137.6l-.3-1.8 7.1 10.9 .3 1.7z"/><path class=k147 d="M163.5 138.5l-.1-.9 7.1 10.8 .1 .8z"/><path class=k144 d="M163.7 139.4l-.2-.9 7.1 10.7 .2 .9z"/><path class=k141 d="M163.8 140.3l-.1-.9 7.1 10.7 .1 .8z"/><path class=k138 d="M164 141.2l-.2-.9 7.1 10.6 .2 .8z"/><path class=k135 d="M164.1 142.1l-.1-.9 7.1 10.5 .2 .9z"/><path class=k133 d="M164.3 143l-.2-.9 7.2 10.5 .1 .8z"/><path class=k130 d="M164.4 143.9l-.1-.9 7.1 10.4 .2 .8z"/><path class=k127 d="M164.6 144.8l-.2-.9 7.2 10.3 .1 .8z"/><path class=k124 d="M164.7 145.7l-.1-.9 7.1 10.2 .2 .8z"/><path class=k121 d="M164.9 146.7l-.2-1 7.2 10.1 .1 .8z"/><path class=k118 d="M165.1 147.6l-.2-.9 7.1 9.9 .2 .8z"/><path class=k115 d="M165.2 148.5l-.1-.9 7.1 9.8 .1 .8z"/><path class=k113 d="M165.4 149.4l-.2-.9 7.1 9.7 .2 .7z"/><path class=k110 d="M165.5 150.3l-.1-.9 7.1 9.5 .1 .8z"/><path class=k107 d="M165.7 151.2l-.2-.9 7.1 9.4 .2 .7z"/><path class=k104 d="M165.8 152.1l-.1-.9 7.1 9.2 .1 .8z"/><path class=k101 d="M166 153l-.2-.9 7.1 9.1 .2 .7z"/><path class=k99 d="M166.1 153.8l-.1-.8 7.1 8.9 .2 .7z"/><path class=k94 d="M166.4 155.6l-.3-1.8 7.2 8.8 .3 1.5z"/><path class=k89 d="M166.7 157.3l-.3-1.7 7.2 8.5 .3 1.3z"/><path class=k84 d="M167 159.1l-.3-1.8 7.2 8.1 .3 1.4z"/><path class=k78 d="M167.4 160.7l-.4-1.6 7.2 7.7 .3 1.3z"/><path class=k73 d="M167.7 162.4l-.3-1.7 7.1 7.4 .3 1.2z"/><path class=k68 d="M168 164l-.3-1.6 7.1 6.9 .3 1.2z"/><path class=k63 d="M168.3 165.6l-.3-1.6 7.1 6.5 .3 1.1z"/><path class=k58 d="M168.6 167.1l-.3-1.5 7.1 6 .3 1.1z"/><path class=k54 d="M168.9 168.6l-.3-1.5 7.1 5.6 .3 1z"/><path class=k49 d="M169.2 170l-.3-1.4 7.1 5.1 .3 1z"/><path class=k45 d="M169.5 171.4l-.3-1.4 7.1 4.7 .3 .9z"/><path class=k41 d="M169.8 172.7l-.3-1.3 7.1 4.2 .3 .8z"/><path class=k37 d="M170.1 174l-.3-1.3 7.1 3.7 .3 .8z"/><path class=k33 d="M170.4 175.2l-.3-1.2 7.1 3.2 .3 .8z"/><path class=k30 d="M170.7 176.4l-.3-1.2 7.1 2.8 .4 .6z"/><path class=k26 d="M171 177.5l-.3-1.1 7.2 2.2 .3 .6z"/><path class=k23 d="M171.3 178.5l-.3-1 7.2 1.7 .3 .6z"/><path class=k20 d="M171.6 179.4l-.3-.9 7.2 1.3 .3 .5z"/><path class=k18 d="M172 180.3l-.4-.9 7.2 .9 .3 .4z"/><path class=k15 d="M172.4 181.5l-.4-1.2 7.1 .4 .4 .5z"/><path class=k11 d="M172.9 182.6l-.5-1.1 7.1-.3 .5 .4z"/><path class=k9 d="M173.3 183.5l-.4-.9 7.1-1 .5 .3z"/><path class=k6 d="M174 184.5l-.7-1 7.2-1.6 .6 .2z"/><path class=k4 d="M174.6 185.2l-.6-.7 7.1-2.4 .6 0z"/><path class=k3 d="M175.3 185.8l-.7-.6 7.1-3.1 .8-.3z"/><path class=k3 d="M176.3 186l-1-.2 7.2-4 .9-.5z"/><path class=k4 d="M177 186l-.7 0 7.1-4.7 .7-.7z"/><path class=k6 d="M177.6 185.9l-.6 .1 7.1-5.4 .7-.8z"/><path class=k7 d="M178.2 185.7l-.6 .2 7.2-6.1 .6-.8z"/><path class=k8 d="M178.7 185.5l-.5 .2 7.2-6.7 .4-.8z"/><path class=k10 d="M179.2 185.2l-.5 .3 7.1-7.3 .5-.9z"/><path class=k12 d="M179.6 184.8l-.4 .4 7.1-7.9 .5-1z"/><path class=k14 d="M180.1 184.3l-.5 .5 7.2-8.5 .4-1.1z"/><path class=k16 d="M180.5 183.8l-.4 .5 7.1-9.1 .5-1.2z"/><path class=k18 d="M180.9 183.3l-.4 .5 7.2-9.8 .3-.9z"/><path class=k20 d="M181.2 182.8l-.3 .5 7.1-10.2 .3-.9z"/><path class=k22 d="M181.5 182.2l-.3 .6 7.1-10.6 .3-1z"/><path class=k26 d="M181.8 181.6l-.3 .6 7.1-11 .3-1.1z"/><path class=k28 d="M182.1 180.9l-.3 .7 7.1-11.5 .3-1.1z"/><path class=k31 d="M182.4 180.2l-.3 .7 7.1-11.9 .3-1.2z"/><path class=k34 d="M182.7 179.3l-.3 .9 7.1-12.4 .3-1.2z"/><path class=k38 d="M183 178.4l-.3 .9 7.1-12.7 .3-1.2z"/><path class=k41 d="M183.3 177.4l-.3 1 7.1-13 .3-1.3z"/><path class=k45 d="M183.6 176.4l-.3 1 7.1-13.3 .3-1.4z"/><path class=k49 d="M183.9 175.2l-.3 1.2 7.1-13.7 .4-1.3z"/><path class=k54 d="M184.2 174.1l-.3 1.1 7.2-13.8 .3-1.4z"/><path class=k58 d="M184.5 172.8l-.3 1.3 7.2-14.1 .3-1.5z"/><path class=k63 d="M184.8 171.5l-.3 1.3 7.2-14.3 .3-1.4z"/><path class=k68 d="M185.2 170.2l-.4 1.3 7.2-14.4 .3-1.5z"/><path class=k73 d="M185.5 168.8l-.3 1.4 7.1-14.6 .3-1.5z"/><path class=k78 d="M185.8 167.4l-.3 1.4 7.1-14.7 .3-1.5z"/><path class=k84 d="M186.1 165.9l-.3 1.5 7.1-14.8 .3-1.5z"/><path class=k88 d="M186.4 164.4l-.3 1.5 7.1-14.8 .3-1.5z"/><path class=k94 d="M186.7 162.8l-.3 1.6 7.1-14.8 .3-1.5z"/><path class=k100 d="M187 161.3l-.3 1.5 7.1-14.7 .3-1.5z"/><path class=k106 d="M187.3 159.7l-.3 1.6 7.1-14.7 .3-1.5z"/><path class=k112 d="M187.6 158.1l-.3 1.6 7.1-14.6 .3-1.4z"/><path class=k118 d="M187.9 156.4l-.3 1.7 7.1-14.4 .3-1.5z"/><path class=k124 d="M188.2 154.8l-.3 1.6 7.1-14.2 .3-1.4z"/><path class=k130 d="M188.5 153.2l-.3 1.6 7.1-14 .4-1.5z"/><path class=k136 d="M188.8 151.5l-.3 1.7 7.2-13.9 .3-1.4z"/><path class=k142 d="M189.1 149.9l-.3 1.6 7.2-13.6 .3-1.3z"/><path class=k148 d="M189.4 148.3l-.3 1.6 7.2-13.3 .3-1.4z"/><path class=k152 d="M189.8 146.7l-.4 1.6 7.2-13.1 .3-1.2z"/><path class=k158 d="M190.1 145.1l-.3 1.6 7.1-12.7 .3-1.3z"/><path class=k164 d="M190.4 143.5l-.3 1.6 7.1-12.4 .3-1.2z"/><path class=k170 d="M190.7 142l-.3 1.5 7.1-12 .3-1.2z"/><path class=k176 d="M191 140.5l-.3 1.5 7.1-11.7 .3-1.1z"/><path class=k181 d="M191.3 139l-.3 1.5 7.1-11.3 .3-1z"/><path class=k186 d="M191.6 137.5l-.3 1.5 7.1-10.8 .3-1.1z"/><path class=k192 d="M191.9 136.1l-.3 1.4 7.1-10.4 .3-.9z"/><path class=k196 d="M192.2 134.8l-.3 1.3 7.1-9.9 .3-.9z"/><path class=k202 d="M192.5 133.5l-.3 1.3 7.1-9.5 .3-.9z"/><path class=k206 d="M192.8 132.2l-.3 1.3 7.1-9.1 .4-.8z"/><path class=k211 d="M193.1 131l-.3 1.2 7.2-8.6 .3-.7z"/><path class=k215 d="M193.4 129.9l-.3 1.1 7.2-8.1 .3-.7z"/><path class=k219 d="M193.7 128.8l-.3 1.1 7.2-7.7 .3-.6z"/><path class=k223 d="M194.1 127.8l-.4 1 7.2-7.2 .3-.5z"/><path class=k227 d="M194.4 126.8l-.3 1 7.1-6.7 .3-.5z"/><path class=k230 d="M194.7 125.9l-.3 .9 7.1-6.2 .3-.4z"/><path class=k234 d="M195.1 124.7l-.4 1.2 7.1-5.7 .5-.6z"/><path class=k238 d="M195.6 123.7l-.5 1 7.2-5.1 .4-.4z"/><path class=k242 d="M196 122.8l-.4 .9 7.1-4.5 .5-.3z"/><path class=k246 d="M196.7 121.9l-.7 .9 7.2-3.9 .6-.3z"/><path class=k249 d="M197.3 121.2l-.6 .7 7.1-3.3 .6-.1z"/><path class=k252 d="M198.2 120.7l-.9 .5 7.1-2.7 .9 .1z"/><path class=k254 d="M199.1 120.7l-.9 0 7.1-2.1 .9 .3z"/><path class=k254 d="M150.7 106.2l-.4-.5 7.1 4.4 .4 1.3z"/><path class=k253 d="M151 106.6l-.3-.4 7.1 5.2 .3 1z"/><path class=k252 d="M151.3 107.2l-.3-.6 7.1 5.8 .4 1.1z"/><path class=k250 d="M151.6 107.8l-.3-.6 7.2 6.3 .3 1.1z"/><path class=k248 d="M151.9 108.4l-.3-.6 7.2 6.8 .3 1.2z"/><path class=k246 d="M152.2 109.2l-.3-.8 7.2 7.4 .3 1.2z"/><path class=k244 d="M152.6 110.1l-.4-.9 7.2 7.8 .3 1.4z"/><path class=k241 d="M152.9 111l-.3-.9 7.1 8.3 .3 1.3z"/><path class=k238 d="M153.2 112l-.3-1 7.1 8.7 .3 1.4z"/><path class=k235 d="M153.5 113.1l-.3-1.1 7.1 9.1 .3 1.5z"/><path class=k232 d="M153.8 114.3l-.3-1.2 7.1 9.5 .3 1.5z"/><path class=k228 d="M154.1 115.5l-.3-1.2 7.1 9.8 .3 1.6z"/><path class=k224 d="M154.4 116.8l-.3-1.3 7.1 10.2 .3 1.6z"/><path class=k220 d="M154.7 118.2l-.3-1.4 7.1 10.5 .3 1.6z"/><path class=k216 d="M155 119.6l-.3-1.4 7.1 10.7 .3 1.7z"/><path class=k211 d="M155.3 121.1l-.3-1.5 7.1 11 .3 1.7z"/><path class=k206 d="M155.6 122.6l-.3-1.5 7.1 11.2 .4 1.8z"/><path class=k201 d="M155.9 124.2l-.3-1.6 7.2 11.5 .3 1.7z"/><path class=k196 d="M156.2 125.9l-.3-1.7 7.2 11.6 .3 1.8z"/><path class=k192 d="M156.4 126.7l-.2-.8 7.2 11.7 .1 .9z"/><path class=k189 d="M156.5 127.6l-.1-.9 7.1 11.8 .2 .9z"/><path class=k187 d="M156.7 128.4l-.2-.8 7.2 11.8 .1 .9z"/><path class=k184 d="M156.9 129.3l-.2-.9 7.1 11.9 .2 .9z"/><path class=k181 d="M157 130.2l-.1-.9 7.1 11.9 .1 .9z"/><path class=k178 d="M157.2 131.1l-.2-.9 7.1 11.9 .2 .9z"/><path class=k176 d="M157.3 132l-.1-.9 7.1 11.9 .1 .9z"/><path class=k173 d="M157.5 132.9l-.2-.9 7.1 11.9 .2 .9z"/><path class=k170 d="M157.6 133.8l-.1-.9 7.1 11.9 .1 .9z"/><path class=k167 d="M157.8 134.7l-.2-.9 7.1 11.9 .2 1z"/><path class=k164 d="M157.9 135.7l-.1-1 7.1 12 .2 .9z"/><path class=k161 d="M158.1 136.6l-.2-.9 7.2 11.9 .1 .9z"/><path class=k158 d="M158.2 137.6l-.1-1 7.1 11.9 .2 .9z"/><path class=k155 d="M158.4 138.5l-.2-.9 7.2 11.8 .1 .9z"/><path class=k152 d="M158.5 139.5l-.1-1 7.1 11.8 .2 .9z"/><path class=k149 d="M158.7 140.4l-.2-.9 7.2 11.7 .1 .9z"/><path class=k146 d="M158.8 141.4l-.1-1 7.1 11.7 .2 .9z"/><path class=k143 d="M159 142.4l-.2-1 7.2 11.6 .1 .8z"/><path class=k140 d="M159.2 143.3l-.2-.9 7.1 11.4 .2 .9z"/><path class=k137 d="M159.3 144.3l-.1-1 7.1 11.4 .1 .9z"/><path class=k134 d="M159.5 145.3l-.2-1 7.1 11.3 .2 .9z"/><path class=k131 d="M159.6 146.2l-.1-.9 7.1 11.2 .1 .8z"/><path class=k128 d="M159.8 147.2l-.2-1 7.1 11.1 .2 .9z"/><path class=k124 d="M159.9 148.2l-.1-1 7.1 11 .1 .9z"/><path class=k121 d="M160.1 149.2l-.2-1 7.1 10.9 .2 .8z"/><path class=k118 d="M160.2 150.1l-.1-.9 7.1 10.7 .2 .8z"/><path class=k115 d="M160.4 151.1l-.2-1 7.2 10.6 .1 .9z"/><path class=k112 d="M160.5 152.1l-.1-1 7.1 10.5 .2 .8z"/><path class=k109 d="M160.7 153.1l-.2-1 7.2 10.3 .1 .8z"/><path class=k106 d="M160.8 154l-.1-.9 7.1 10.1 .2 .8z"/><path class=k103 d="M161 155l-.2-1 7.2 10 .1 .8z"/><path class=k100 d="M161.1 155.9l-.1-.9 7.1 9.8 .2 .8z"/><path class=k97 d="M161.3 156.9l-.2-1 7.2 9.7 .1 .7z"/><path class=k94 d="M161.5 157.8l-.2-.9 7.1 9.4 .2 .8z"/><path class=k91 d="M161.6 158.8l-.1-1 7.1 9.3 .1 .7z"/><path class=k88 d="M161.8 159.7l-.2-.9 7.1 9 .2 .8z"/><path class=k85 d="M161.9 160.6l-.1-.9 7.1 8.9 .1 .7z"/><path class=k82 d="M162.1 161.5l-.2-.9 7.1 8.7 .2 .7z"/><path class=k79 d="M162.2 162.5l-.1-1 7.1 8.5 .1 .7z"/><path class=k77 d="M162.4 163.4l-.2-.9 7.1 8.2 .2 .7z"/><path class=k74 d="M162.5 164.3l-.1-.9 7.1 8 .2 .7z"/><path class=k70 d="M162.8 166l-.3-1.7 7.2 7.8 .3 1.3z"/><path class=k64 d="M163.1 167.7l-.3-1.7 7.2 7.4 .3 1.2z"/><path class=k59 d="M163.5 169.4l-.4-1.7 7.2 6.9 .3 1.2z"/><path class=k54 d="M163.8 171l-.3-1.6 7.1 6.4 .3 1.1z"/><path class=k49 d="M164.1 172.6l-.3-1.6 7.1 5.9 .3 1.1z"/><path class=k44 d="M164.4 174.1l-.3-1.5 7.1 5.4 .3 1z"/><path class=k40 d="M164.7 175.6l-.3-1.5 7.1 4.9 .3 .9z"/><path class=k35 d="M165 177l-.3-1.4 7.1 4.3 .3 .9z"/><path class=k31 d="M165.3 178.3l-.3-1.3 7.1 3.8 .3 .7z"/><path class=k27 d="M165.6 179.6l-.3-1.3 7.1 3.2 .3 .8z"/><path class=k24 d="M165.9 180.8l-.3-1.2 7.1 2.7 .3 .6z"/><path class=k20 d="M166.2 181.9l-.3-1.1 7.1 2.1 .3 .6z"/><path class=k17 d="M166.5 182.9l-.3-1 7.1 1.6 .3 .5z"/><path class=k14 d="M166.8 183.9l-.3-1 7.1 1.1 .4 .5z"/><path class=k12 d="M167.1 184.8l-.3-.9 7.2 .6 .3 .4z"/><path class=k8 d="M167.6 186l-.5-1.2 7.2 .1 .4 .4z"/><path class=k5 d="M168.1 187l-.5-1 7.1-.7 .5 .4z"/><path class=k3 d="M168.5 187.8l-.4-.8 7.1-1.3 .4 .2z"/><path class=k1 d="M169.1 188.6l-.6-.8 7.1-1.9 .7 .1z"/><path class=k0 d="M172.7 190l-1-.2-2-.8-.6-.4 7.2-2.6 1 0 .9-.3 .8-.4 .8-.6z"/><path class=k1 d="M173.4 190.1l-.7-.1 7.1-5.3 .7-.9z"/><path class=k2 d="M174 190l-.6 .1 7.1-6.3 .7-1z"/><path class=k3 d="M174.5 189.9l-.5 .1 7.2-7.2 .4-.9z"/><path class=k4 d="M175 189.7l-.5 .2 7.1-8 .5-1z"/><path class=k6 d="M175.4 189.4l-.4 .3 7.1-8.8 .4-1.1z"/><path class=k8 d="M175.7 189.1l-.3 .3 7.1-9.6 .4-.9z"/><path class=k8 d="M176 188.7l-.3 .4 7.2-10.2 .3-1z"/><path class=k10 d="M176.3 188.2l-.3 .5 7.2-10.8 .3-1z"/><path class=k14 d="M176.6 187.6l-.3 .6 7.2-11.3 .3-1.1z"/><path class=k16 d="M177 187l-.4 .6 7.2-11.8 .3-1.1z"/><path class=k18 d="M177.3 186.2l-.3 .8 7.1-12.3 .3-1.3z"/><path class=k22 d="M177.6 185.4l-.3 .8 7.1-12.8 .3-1.2z"/><path class=k25 d="M177.9 184.4l-.3 1 7.1-13.2 .3-1.3z"/><path class=k29 d="M178.2 183.4l-.3 1 7.1-13.5 .3-1.4z"/><path class=k33 d="M178.5 182.4l-.3 1 7.1-13.9 .3-1.4z"/><path class=k37 d="M178.8 181.2l-.3 1.2 7.1-14.3 .3-1.5z"/><path class=k42 d="M179.1 180l-.3 1.2 7.1-14.6 .3-1.5z"/><path class=k46 d="M179.4 178.7l-.3 1.3 7.1-14.9 .3-1.5z"/><path class=k52 d="M179.7 177.3l-.3 1.4 7.1-15.1 .3-1.6z"/><path class=k56 d="M180 175.9l-.3 1.4 7.1-15.3 .3-1.5z"/><path class=k62 d="M180.3 174.5l-.3 1.4 7.1-15.4 .4-1.6z"/><path class=k68 d="M180.6 172.9l-.3 1.6 7.2-15.6 .3-1.6z"/><path class=k74 d="M180.9 171.4l-.3 1.5 7.2-15.6 .3-1.7z"/><path class=k78 d="M181.3 169.8l-.4 1.6 7.2-15.8 .3-1.6z"/><path class=k84 d="M181.6 168.1l-.3 1.7 7.1-15.8 .3-1.6z"/><path class=k90 d="M181.9 166.4l-.3 1.7 7.1-15.7 .3-1.7z"/><path class=k98 d="M182.2 164.7l-.3 1.7 7.1-15.7 .3-1.6z"/><path class=k104 d="M182.5 163l-.3 1.7 7.1-15.6 .3-1.6z"/><path class=k110 d="M182.8 161.2l-.3 1.8 7.1-15.5 .3-1.6z"/><path class=k116 d="M183.1 159.5l-.3 1.7 7.1-15.3 .3-1.6z"/><path class=k121 d="M183.2 158.6l-.1 .9 7.1-15.2 .2-.8z"/><path class=k124 d="M183.4 157.7l-.2 .9 7.2-15.1 .1-.8z"/><path class=k127 d="M183.6 156.8l-.2 .9 7.1-15 .2-.7z"/><path class=k130 d="M183.7 155.9l-.1 .9 7.1-14.8 .1-.8z"/><path class=k134 d="M183.9 155l-.2 .9 7.1-14.7 .2-.7z"/><path class=k137 d="M184 154.1l-.1 .9 7.1-14.5 .1-.8z"/><path class=k140 d="M184.2 153.2l-.2 .9 7.1-14.4 .2-.7z"/><path class=k143 d="M184.3 152.3l-.1 .9 7.1-14.2 .1-.7z"/><path class=k148 d="M184.6 150.6l-.3 1.7 7.1-14 .4-1.5z"/><path class=k154 d="M184.9 148.8l-.3 1.8 7.2-13.8 .3-1.3z"/><path class=k160 d="M185.2 147.1l-.3 1.7 7.2-13.3 .3-1.4z"/><path class=k166 d="M185.5 145.4l-.3 1.7 7.2-13 .3-1.3z"/><path class=k172 d="M185.9 143.7l-.4 1.7 7.2-12.6 .3-1.2z"/><path class=k178 d="M186.2 142.1l-.3 1.6 7.1-12.1 .3-1.2z"/><path class=k184 d="M186.5 140.5l-.3 1.6 7.1-11.7 .3-1.1z"/><path class=k190 d="M186.8 138.9l-.3 1.6 7.1-11.2 .3-1z"/><path class=k196 d="M187.1 137.4l-.3 1.5 7.1-10.6 .3-1z"/><path class=k202 d="M187.4 135.9l-.3 1.5 7.1-10.1 .3-.9z"/><path class=k206 d="M187.7 134.5l-.3 1.4 7.1-9.5 .3-.9z"/><path class=k212 d="M188 133.2l-.3 1.3 7.1-9 .3-.8z"/><path class=k216 d="M188.3 131.9l-.3 1.3 7.1-8.5 .3-.7z"/><path class=k221 d="M188.6 130.7l-.3 1.2 7.1-7.9 .3-.6z"/><path class=k225 d="M188.9 129.6l-.3 1.1 7.1-7.3 .3-.6z"/><path class=k229 d="M189.2 128.5l-.3 1.1 7.1-6.8 .4-.5z"/><path class=k233 d="M189.5 127.6l-.3 .9 7.2-6.2 .3-.4z"/><path class=k236 d="M189.8 126.7l-.3 .9 7.2-5.7 .3-.4z"/><path class=k240 d="M190.3 125.5l-.5 1.2 7.2-5.2 .4-.4z"/><path class=k245 d="M190.8 124.5l-.5 1 7.1-4.4 .5-.3z"/><path class=k248 d="M191.2 123.7l-.4 .8 7.1-3.7 .4-.1z"/><path class=k251 d="M191.8 123l-.6 .7 7.1-3 .7-.1z"/><path class=k254 d="M192.8 122.6l-.5 .1-.5 .3 7.2-2.4 .9 .3z"/><path class=k255 d="M221.8 30.7l-1.4-.6 7.1-1.6 1.4 .6zM358.5 85l-29.6-11.8-6.6-2.5 7.1-1.7 36.2 14.3zM217.9 33.6l-4.6-1.9 7.1-1.6 4.6 2zM351.4 86.6l-28-11.1-6.4-2.4 7.1-1.7 34.4 13.6zM214 36.6l-7.9-3.3 7.2-1.6 7.8 3.3zM344.2 88.3l-26.5-10.6-6.2-2.3 7.2-1.7 32.7 12.9zM210 39.5l-11-4.5 7.1-1.7 11.1 4.7zM337.1 90l-25-10-6-2.2 7.1-1.8 31 12.3zM206.3 42.5l-14.4-5.9 7.1-1.6 14.4 6zM330 91.6l-23.5-9.3-5.7-2.1 7.1-1.8 29.2 11.6zM202.5 45.5l-17.7-7.2 7.1-1.7 10.9 4.4 6.9 3zM322.8 93.3l-22-8.8-5.4-2 7.1-1.7 27.5 10.8zM198.6 48.5l-21-8.5 7.2-1.7 13.3 5.4 7.7 3.2zM315.7 95l-20.5-8.2-5.3-2 7.2-1.7 25.7 10.2zM194.9 51.5l-24.4-9.9 7.1-1.6 16.1 6.4 8.3 3.5zM308.6 96.6l-19.3-7.7-4.9-1.8 7.1-1.7 24.2 9.6zM191.3 54.6l-27.9-11.3 7.1-1.7 18.9 7.6 9 3.8zM301.5 98.3l-17.8-7.1-4.8-1.7 7.1-1.8 22.6 8.9zM187.6 57.6l-31.3-12.6 7.1-1.7 21.8 8.7 9.5 4zM294.4 100l-16.5-6.6-4.4-1.6 7.1-1.7 20.9 8.2zM184 60.7l-9.7-4-25.2-10.1 7.2-1.6 24.8 9.9 10 4.2zM287.2 101.6l-15.2-6-4.1-1.5 7.1-1.8 19.4 7.7zM180.2 63.7l-10-4.1-28.2-11.3 7.1-1.7 28 11.2 10.2 4.3zM280.1 103.3l-13.7-5.4-3.9-1.5 7.1-1.7 17.6 6.9zM176.8 66.8l-10.3-4.2-31.6-12.6 7.1-1.7 31.3 12.5 10.6 4.5zM273 105l-12.5-5-3.6-1.3 7.1-1.8 16.1 6.4zM173.2 69.9l-10.5-4.3-34.9-14 7.1-1.6 34.5 13.7 10.9 4.7zM265.8 106.6l-11.2-4.4-3.3-1.2 7.1-1.8 14.6 5.8zM169.7 73l-10.6-4.4-38.5-15.3 7.2-1.7 38 15.2 11.1 4.7zM258.7 108.3l-9.9-4-3.1-1 7.1-1.8 13 5.1zM166.3 76.1l-10.8-4.4-42-16.7 7.1-1.7 41.6 16.6 11.2 4.7zM251.6 110l-8.7-3.5-3-1 7.2-1.8 11.6 4.6zM163 79.3l-10.7-4.4-45.9-18.3 7.1-1.6 45.4 18.1 6.6 2.7 4.6 2.1zM244.5 111.6l-7.7-3-2.6-.9 7.1-1.8 10.3 4.1zM159.7 82.5l-10.7-4.4-49.8-19.8 7.2-1.7 49.2 19.7 6.8 2.8 4.4 2zM237.4 113.3l-6.6-2.6-2.3-.8 7.1-1.8 8.9 3.5zM156.6 85.8l-10.8-4.4-53.7-21.4 7.1-1.7 53.3 21.2 6.7 2.8 4.5 2zM230.2 115l-5.5-2.2-2-.7 7.1-1.8 7.6 3zM153.7 89.2l-10.5-4.4-58.2-23.2 7.1-1.6 57.6 22.9 6.7 2.8 4.5 2.1zM223.1 116.6l-4.6-1.8-1.7-.5 7.1-1.8 6.3 2.5zM150.9 92.5l-10.4-4.3-62.6-24.9 7.1-1.7 62 24.7 6.7 2.9 4.3 2zM216 118.3l-4.8-1.8 7.1-1.7 4.8 1.8zM148.5 96.1l-10.1-4.2-67.6-26.9 7.1-1.7 66.9 26.7 6.7 2.8 4.2 2zM205.5 118.7l-.9-.2 7.1-1.9 .9 .4zM208.8 120l-3.3-1.3 7.1-1.7 3.4 1.3zM146.9 100l-9.6-4-73.7-29.4 7.2-1.6 72.8 29 6.5 2.8 4 2.1zM201.7 121.6l-2.6-.9 7.1-1.8 2.6 1.1zM150.3 105.7l-.5-.2-93.3-37.2 7.1-1.7 74.4 29.7 9.7 4 3.7 2 1.4 1 1.2 1.1 .9 1 .9 1.4 .8 1.4 .8 1.9zM194.6 123.3l-1.8-.7 7.1-1.7 1.8 .7z"/></g>
<g class="s"><path class=k254 d="M623 25.6l-6.6-2.7 7-1.6 6.6 2.8z"/><path class=k253 d="M626.2 27l-3.2-1.4 7-1.5 3.2 1.4z"/><path class=k252 d="M628.4 28l-2.2-1 7-1.5 2.2 1.1z"/><path class=k251 d="M630.2 28.9l-1.8-.9 7-1.4 1.9 1z"/><path class=k250 d="M631.6 29.6l-1.4-.7 7.1-1.3 1.3 .7z"/><path class=k249 d="M632.7 30.2l-1.1-.6 7-1.3 1.1 .7z"/><path class=k248 d="M633.9 30.8l-1.2-.6 7-1.2 1.2 .6z"/><path class=k247 d="M634.8 31.3l-.9-.5 7-1.2 .9 .6z"/><path class=k246 d="M635.7 31.8l-.9-.5 7-1.1 .9 .5z"/><path class=k245 d="M636.6 32.3l-.9-.5 7-1.1 .9 .6z"/><path class=k244 d="M637.5 32.9l-.9-.6 7-1 .9 .6z"/><path class=k242 d="M638.4 33.5l-.9-.6 7-1 .9 .7z"/><path class=k240 d="M639.3 34.1l-.9-.6 7-.9 .9 .6z"/><path class=k239 d="M640.2 34.7l-.9-.6 7-.9 .9 .7z"/><path class=k237 d="M641.1 35.3l-.9-.6 7-.8 .9 .7z"/><path class=k235 d="M642 36l-.9-.7 7-.7 .9 .8z"/><path class=k232 d="M642.9 36.7l-.9-.7 7-.6 .9 .8z"/><path class=k230 d="M643.6 37.2l-.7-.5 7-.5 .7 .6z"/><path class=k228 d="M644.3 37.8l-.7-.6 7-.4 .7 .6z"/><path class=k226 d="M645 38.4l-.7-.6 7-.4 .7 .6z"/><path class=k224 d="M645.6 39l-.6-.6 7-.4 .7 .7z"/><path class=k222 d="M646.3 39.6l-.7-.6 7.1-.3 .6 .6z"/><path class=k219 d="M647 40.2l-.7-.6 7-.3 .7 .7z"/><path class=k217 d="M647.7 40.8l-.7-.6 7-.2 .7 .7z"/><path class=k214 d="M648.4 41.5l-.7-.7 7-.1 .7 .8z"/><path class=k211 d="M649 42.2l-.6-.7 7 0 .7 .7z"/><path class=k208 d="M649.7 42.9l-.7-.7 7.1 0 .6 .8z"/><path class=k205 d="M650.4 43.6l-.7-.7 7 .1 .7 .7z"/><path class=k202 d="M651.1 44.4l-.7-.8 7 .1 .7 .8z"/><path class=k199 d="M651.8 45.1l-.7-.7 7 .1 .7 .8z"/><path class=k195 d="M652.4 45.9l-.6-.8 7 .2 .7 .9z"/><path class=k192 d="M653.1 46.7l-.7-.8 7.1 .3 .6 .8z"/><path class=k188 d="M653.8 47.5l-.7-.8 7 .3 .7 .8z"/><path class=k184 d="M654.5 48.3l-.7-.8 7 .3 .7 .9z"/><path class=k180 d="M655.2 49.2l-.7-.9 7 .4 .7 .8z"/><path class=k176 d="M655.8 50l-.6-.8 7 .3 .7 .9z"/><path class=k172 d="M656.5 50.9l-.7-.9 7.1 .4 .6 .9z"/><path class=k168 d="M657.2 51.8l-.7-.9 7 .4 .7 .9z"/><path class=k164 d="M657.9 52.7l-.7-.9 7 .4 .7 .8z"/><path class=k160 d="M658.6 53.5l-.7-.8 7 .3 .7 .9z"/><path class=k156 d="M659.2 54.4l-.6-.9 7 .4 .7 .9z"/><path class=k151 d="M659.9 55.3l-.7-.9 7.1 .4 .6 .8z"/><path class=k147 d="M660.6 56.2l-.7-.9 7 .3 .7 .9z"/><path class=k143 d="M661.3 57.1l-.7-.9 7 .3 .7 .8z"/><path class=k139 d="M662 58l-.7-.9 7 .2 .7 .8z"/><path class=k134 d="M662.6 58.9l-.6-.9 7 .1 .7 .8z"/><path class=k130 d="M663.3 59.7l-.7-.8 7.1 0 .6 .8z"/><path class=k126 d="M664 60.6l-.7-.9 7 0 .7 .8z"/><path class=k123 d="M664.7 61.4l-.7-.8 7-.1 .7 .7z"/><path class=k119 d="M665.4 62.2l-.7-.8 7-.2 .7 .7z"/><path class=k115 d="M666 63l-.6-.8 7-.3 .7 .6z"/><path class=k112 d="M666.7 63.7l-.7-.7 7.1-.5 .6 .7z"/><path class=k109 d="M667.4 64.5l-.7-.8 7-.5 .7 .6z"/><path class=k106 d="M668.1 65.1l-.7-.6 7-.7 .7 .5z"/><path class=k103 d="M668.8 65.8l-.7-.7 7-.8 .7 .5z"/><path class=k100 d="M669.4 66.4l-.6-.6 7-1 .7 .5z"/><path class=k98 d="M670.4 67.2l-1-.8 7.1-1.1 .9 .6z"/><path class=k96 d="M671.3 67.9l-.9-.7 7-1.3 .9 .4z"/><path class=k94 d="M672.2 68.5l-.9-.6 7-1.6 .9 .4z"/><path class=k92 d="M673.1 69l-.9-.5 7-1.8 .9 .3z"/><path class=k91 d="M674 69.4l-.9-.4 7-2 .9 .2z"/><path class=k91 d="M674.9 69.8l-.9-.4 7-2.2 .9 .2z"/><path class=k92 d="M676 70.1l-1.1-.3 7-2.4 1.1 0z"/><path class=k94 d="M676.9 70.2l-.9-.1 7-2.7 .9-.1z"/><path class=k95 d="M677.8 70.3l-.9-.1 7-2.9 1-.1z"/><path class=k200 d="M695.1 61.7l-.9 .4 7-3.5 .9-.3z"/><path class=k205 d="M696 61.2l-.9 .5 7-3.4 .9-.4z"/><path class=k211 d="M696.9 60.8l-.9 .4 7-3.3 .9-.2z"/><path class=k216 d="M697.8 60.5l-.9 .3 7-3.1 .9-.3z"/><path class=k220 d="M698.7 60.2l-.9 .3 7-3.1 .9-.2z"/><path class=k224 d="M699.6 59.9l-.9 .3 7-3 .9-.1z"/><path class=k228 d="M700.5 59.7l-.9 .2 7-2.8 .9-.1z"/><path class=k232 d="M701.4 59.5l-.9 .2 7-2.7 .9 0z"/><path class=k236 d="M702.3 59.4l-.9 .1 7-2.5 .9 0z"/><path class=k238 d="M703.2 59.4l-.9 0 7-2.4 .9 0z"/><path class=k241 d="M704.1 59.4l-.9 0 7-2.4 .9 .1z"/><path class=k244 d="M705 59.4l-.9 0 7-2.3 1 .2z"/><path class=k246 d="M705.9 59.5l-.9-.1 7.1-2.1 .9 .1z"/><path class=k247 d="M706.8 59.6l-.9-.1 7.1-2.1 .9 .2z"/><path class=k248 d="M707.8 59.8l-1-.2 7.1-2 .9 .2z"/><path class=k250 d="M708.7 60l-.9-.2 7-2 .9 .3z"/><path class=k251 d="M709.6 60.2l-.9-.2 7-1.9 .9 .2z"/><path class=k252 d="M710.9 60.6l-1.3-.4 7-1.9 1.3 .5z"/><path class=k253 d="M712.5 61l-1.6-.4 7-1.8 1.6 .5z"/><path class=k254 d="M715.7 62.1l-3.2-1.1 7-1.7 3.2 1.2z"/><path class=k254 d="M618.9 28.4l-6.6-2.7 7.1-1.6 6.5 2.8z"/><path class=k253 d="M622.1 29.8l-3.2-1.4 7-1.5 3.2 1.5z"/><path class=k252 d="M624.4 30.9l-2.3-1.1 7-1.4 2.3 1.1z"/><path class=k251 d="M625.9 31.6l-1.5-.7 7-1.4 1.6 .8z"/><path class=k250 d="M627.3 32.3l-1.4-.7 7.1-1.3 1.3 .7z"/><path class=k249 d="M628.4 32.9l-1.1-.6 7-1.3 1.1 .7z"/><path class=k248 d="M629.6 33.5l-1.2-.6 7-1.2 1.2 .6z"/><path class=k247 d="M630.5 34l-.9-.5 7-1.2 .9 .6z"/><path class=k246 d="M631.4 34.5l-.9-.5 7-1.1 .9 .6z"/><path class=k245 d="M632.3 35.1l-.9-.6 7-1 .9 .6z"/><path class=k244 d="M633.2 35.6l-.9-.5 7-1 .9 .6z"/><path class=k242 d="M634.1 36.2l-.9-.6 7-.9 .9 .6z"/><path class=k240 d="M635 36.8l-.9-.6 7-.9 .9 .7z"/><path class=k238 d="M635.9 37.4l-.9-.6 7-.8 .9 .7z"/><path class=k236 d="M636.8 38.1l-.9-.7 7-.7 .9 .7z"/><path class=k234 d="M637.7 38.7l-.9-.6 7-.7 .9 .8z"/><path class=k232 d="M638.6 39.4l-.9-.7 7-.5 .9 .8z"/><path class=k230 d="M639.3 40l-.7-.6 7-.4 .7 .6z"/><path class=k228 d="M640 40.6l-.7-.6 7-.4 .7 .6z"/><path class=k226 d="M640.7 41.2l-.7-.6 7-.4 .7 .6z"/><path class=k224 d="M641.4 41.8l-.7-.6 7-.4 .7 .7z"/><path class=k221 d="M642 42.4l-.6-.6 7-.3 .6 .7z"/><path class=k219 d="M642.7 43l-.7-.6 7-.2 .7 .7z"/><path class=k216 d="M643.4 43.7l-.7-.7 7-.1 .7 .7z"/><path class=k213 d="M644.1 44.4l-.7-.7 7-.1 .7 .8z"/><path class=k210 d="M644.8 45.1l-.7-.7 7 0 .7 .7z"/><path class=k207 d="M645.4 45.8l-.6-.7 7 0 .6 .8z"/><path class=k204 d="M646.1 46.5l-.7-.7 7 .1 .7 .8z"/><path class=k201 d="M646.8 47.3l-.7-.8 7 .2 .7 .8z"/><path class=k197 d="M647.5 48.1l-.7-.8 7 .2 .7 .8z"/><path class=k194 d="M648.2 48.9l-.7-.8 7 .2 .7 .9z"/><path class=k190 d="M648.8 49.7l-.6-.8 7 .3 .6 .8z"/><path class=k186 d="M649.5 50.5l-.7-.8 7 .3 .7 .9z"/><path class=k182 d="M650.2 51.4l-.7-.9 7 .4 .7 .9z"/><path class=k178 d="M650.9 52.2l-.7-.8 7 .4 .7 .9z"/><path class=k174 d="M651.6 53.1l-.7-.9 7 .5 .7 .8z"/><path class=k170 d="M652.2 54l-.6-.9 7 .4 .6 .9z"/><path class=k166 d="M652.9 54.9l-.7-.9 7 .4 .7 .9z"/><path class=k161 d="M653.6 55.8l-.7-.9 7 .4 .7 .9z"/><path class=k157 d="M654.3 56.7l-.7-.9 7 .4 .7 .9z"/><path class=k153 d="M655 57.6l-.7-.9 7 .4 .7 .9z"/><path class=k148 d="M655.6 58.5l-.6-.9 7 .4 .6 .9z"/><path class=k144 d="M656.3 59.4l-.7-.9 7 .4 .7 .8z"/><path class=k139 d="M657 60.3l-.7-.9 7 .3 .7 .9z"/><path class=k135 d="M657.7 61.2l-.7-.9 7 .3 .7 .8z"/><path class=k131 d="M658.4 62.1l-.7-.9 7 .2 .7 .8z"/><path class=k127 d="M659 63l-.6-.9 7 .1 .6 .8z"/><path class=k123 d="M659.7 63.8l-.7-.8 7 0 .7 .7z"/><path class=k119 d="M660.4 64.7l-.7-.9 7-.1 .7 .8z"/><path class=k115 d="M661.1 65.5l-.7-.8 7-.2 .7 .6z"/><path class=k111 d="M661.8 66.3l-.7-.8 7-.4 .7 .7z"/><path class=k108 d="M662.4 67l-.6-.7 7-.5 .6 .6z"/><path class=k105 d="M663.1 67.7l-.7-.7 7-.6 .7 .6z"/><path class=k102 d="M663.8 68.4l-.7-.7 7-.7 .7 .5z"/><path class=k99 d="M664.5 69.1l-.7-.7 7-.9 .7 .5z"/><path class=k97 d="M665.2 69.7l-.7-.6 7-1.1 .7 .5z"/><path class=k94 d="M666.1 70.4l-.9-.7 7-1.2 .9 .5z"/><path class=k92 d="M667 71.1l-.9-.7 7-1.4 .9 .4z"/><path class=k90 d="M667.9 71.6l-.9-.5 7-1.7 .9 .4z"/><path class=k89 d="M668.8 72.1l-.9-.5 7-1.8 .9 .2z"/><path class=k89 d="M670.8 72.9l-2-.8 7-2.1 2 .3z"/><path class=k90 d="M671.7 73l-.9-.1 7-2.6 .9-.1z"/><path class=k192 d="M689 64.8l-1 .6 7.1-3.7 .9-.5z"/><path class=k198 d="M689.9 64.3l-.9 .5 7-3.6 .9-.4z"/><path class=k204 d="M690.8 63.8l-.9 .5 7-3.5 .9-.3z"/><path class=k209 d="M691.7 63.4l-.9 .4 7-3.3 .9-.3z"/><path class=k214 d="M692.6 63l-.9 .4 7-3.2 .9-.3z"/><path class=k219 d="M693.5 62.7l-.9 .3 7-3.1 .9-.2z"/><path class=k224 d="M694.4 62.4l-.9 .3 7-3 .9-.2z"/><path class=k228 d="M695.3 62.2l-.9 .2 7-2.9 .9-.1z"/><path class=k232 d="M696.2 62l-.9 .2 7-2.8 .9 0z"/><path class=k235 d="M697.1 61.9l-.9 .1 7-2.6 .9 0z"/><path class=k238 d="M698 61.8l-.9 .1 7-2.5 .9 0z"/><path class=k241 d="M698.9 61.8l-.9 0 7-2.4 .9 .1z"/><path class=k243 d="M699.8 61.8l-.9 0 7-2.3 .9 .1z"/><path class=k246 d="M700.7 61.9l-.9-.1 7-2.2 1 .2z"/><path class=k247 d="M701.6 62l-.9-.1 7.1-2.1 .9 .2z"/><path class=k248 d="M702.6 62.1l-1-.1 7.1-2 .9 .2z"/><path class=k250 d="M703.5 62.3l-.9-.2 7-1.9 .9 .2z"/><path class=k251 d="M704.4 62.5l-.9-.2 7-1.9 .9 .3z"/><path class=k252 d="M705.5 62.8l-1.1-.3 7-1.8 1.1 .3z"/><path class=k253 d="M707.3 63.4l-1.8-.6 7-1.8 1.8 .7z"/><path class=k254 d="M710.3 64.4l-3-1 7-1.7 3 1z"/><path class=k254 d="M614.8 31.2l-6.3-2.6 7-1.6 6.4 2.7z"/><path class=k253 d="M618 32.6l-3.2-1.4 7.1-1.5 3.1 1.5z"/><path class=k252 d="M620.3 33.7l-2.3-1.1 7-1.4 2.3 1.1z"/><path class=k251 d="M621.9 34.4l-1.6-.7 7-1.4 1.6 .8z"/><path class=k250 d="M623.2 35.1l-1.3-.7 7-1.3 1.3 .8z"/><path class=k249 d="M624.4 35.7l-1.2-.6 7-1.2 1.2 .6z"/><path class=k248 d="M625.3 36.2l-.9-.5 7-1.2 .9 .6z"/><path class=k247 d="M626.2 36.7l-.9-.5 7-1.1 .9 .5z"/><path class=k246 d="M627.1 37.2l-.9-.5 7-1.1 .9 .6z"/><path class=k245 d="M628 37.8l-.9-.6 7-1 .9 .6z"/><path class=k244 d="M628.9 38.3l-.9-.5 7-1 .9 .6z"/><path class=k242 d="M629.8 38.9l-.9-.6 7-.9 .9 .7z"/><path class=k240 d="M630.7 39.5l-.9-.6 7-.8 .9 .6z"/><path class=k238 d="M631.6 40.1l-.9-.6 7-.8 .9 .7z"/><path class=k236 d="M632.5 40.8l-.9-.7 7-.7 .9 .8z"/><path class=k234 d="M633.4 41.5l-.9-.7 7-.6 .9 .8z"/><path class=k232 d="M634.1 42l-.7-.5 7-.5 .7 .6z"/><path class=k230 d="M634.8 42.6l-.7-.6 7-.4 .7 .6z"/><path class=k228 d="M635.5 43.1l-.7-.5 7-.4 .7 .6z"/><path class=k226 d="M636.1 43.7l-.6-.6 7-.3 .7 .7z"/><path class=k224 d="M636.8 44.3l-.7-.6 7.1-.2 .6 .6z"/><path class=k222 d="M637.5 45l-.7-.7 7-.2 .7 .7z"/><path class=k219 d="M638.2 45.6l-.7-.6 7-.2 .7 .7z"/><path class=k216 d="M638.9 46.3l-.7-.7 7-.1 .7 .8z"/><path class=k213 d="M639.5 47l-.6-.7 7 0 .7 .7z"/><path class=k211 d="M640.2 47.7l-.7-.7 7.1 0 .6 .8z"/><path class=k207 d="M640.9 48.4l-.7-.7 7 .1 .7 .8z"/><path class=k204 d="M641.6 49.2l-.7-.8 7 .2 .7 .8z"/><path class=k201 d="M642.3 49.9l-.7-.7 7 .2 .7 .8z"/><path class=k197 d="M642.9 50.7l-.6-.8 7 .3 .7 .9z"/><path class=k193 d="M643.6 51.6l-.7-.9 7.1 .4 .6 .8z"/><path class=k190 d="M644.3 52.4l-.7-.8 7 .3 .7 .9z"/><path class=k186 d="M645 53.2l-.7-.8 7 .4 .7 .9z"/><path class=k182 d="M645.7 54.1l-.7-.9 7 .5 .7 .9z"/><path class=k178 d="M646.3 55l-.6-.9 7 .5 .7 .9z"/><path class=k173 d="M647 55.9l-.7-.9 7.1 .5 .6 .9z"/><path class=k169 d="M647.7 56.8l-.7-.9 7 .5 .7 .9z"/><path class=k165 d="M648.4 57.7l-.7-.9 7 .5 .7 .9z"/><path class=k160 d="M649.1 58.6l-.7-.9 7 .5 .7 .9z"/><path class=k156 d="M649.7 59.5l-.6-.9 7 .5 .7 .9z"/><path class=k151 d="M650.4 60.5l-.7-1 7.1 .5 .6 .9z"/><path class=k146 d="M651.1 61.4l-.7-.9 7 .4 .7 .9z"/><path class=k142 d="M651.8 62.3l-.7-.9 7 .4 .7 .9z"/><path class=k137 d="M652.5 63.3l-.7-1 7 .4 .7 .8z"/><path class=k133 d="M653.1 64.2l-.6-.9 7 .2 .7 .9z"/><path class=k129 d="M653.8 65.1l-.7-.9 7.1 .2 .6 .8z"/><path class=k124 d="M654.5 66l-.7-.9 7 .1 .7 .8z"/><path class=k120 d="M655.2 66.8l-.7-.8 7 0 .7 .8z"/><path class=k116 d="M655.9 67.7l-.7-.9 7 0 .7 .7z"/><path class=k112 d="M656.5 68.5l-.6-.8 7-.2 .7 .7z"/><path class=k108 d="M657.2 69.3l-.7-.8 7.1-.3 .6 .7z"/><path class=k105 d="M657.9 70.1l-.7-.8 7-.4 .7 .6z"/><path class=k102 d="M658.6 70.8l-.7-.7 7-.6 .7 .6z"/><path class=k99 d="M659.3 71.5l-.7-.7 7-.7 .7 .5z"/><path class=k96 d="M659.9 72.2l-.6-.7 7-.9 .7 .5z"/><path class=k94 d="M660.6 72.8l-.7-.6 7.1-1.1 .6 .4z"/><path class=k91 d="M661.5 73.5l-.9-.7 7-1.3 1 .5z"/><path class=k89 d="M662.4 74.1l-.9-.6 7.1-1.5 .9 .4z"/><path class=k88 d="M663.3 74.7l-.9-.6 7.1-1.7 .9 .3z"/><path class=k86 d="M664.3 75.2l-1-.5 7.1-2 .9 .3z"/><path class=k86 d="M665.6 75.7l-1.3-.5 7-2.2 1.3 .1z"/><path class=k87 d="M666.5 75.9l-.9-.2 7-2.6 .9 0z"/><path class=k208 d="M686.5 65.9l-.9 .5 7-3.4 .9-.3z"/><path class=k213 d="M687.4 65.5l-.9 .4 7-3.2 .9-.3z"/><path class=k218 d="M688.3 65.2l-.9 .3 7-3.1 .9-.2z"/><path class=k223 d="M689.2 64.9l-.9 .3 7-3 .9-.2z"/><path class=k228 d="M690.1 64.6l-.9 .3 7-2.9 .9-.1z"/><path class=k232 d="M691 64.4l-.9 .2 7-2.7 .9-.1z"/><path class=k234 d="M691.9 64.3l-.9 .1 7-2.6 .9 0z"/><path class=k238 d="M692.8 64.2l-.9 .1 7-2.5 .9 0z"/><path class=k241 d="M693.7 64.2l-.9 0 7-2.4 .9 .1z"/><path class=k243 d="M694.6 64.2l-.9 0 7-2.3 .9 .1z"/><path class=k246 d="M695.5 64.2l-.9 0 7-2.2 1 .1z"/><path class=k247 d="M696.4 64.4l-.9-.2 7.1-2.1 .9 .2z"/><path class=k249 d="M697.3 64.5l-.9-.1 7.1-2.1 .9 .2z"/><path class=k250 d="M698.3 64.7l-1-.2 7.1-2 .9 .3z"/><path class=k251 d="M699.2 64.9l-.9-.2 7-1.9 .9 .2z"/><path class=k252 d="M700.3 65.2l-1.1-.3 7-1.9 1.1 .4z"/><path class=k253 d="M701.9 65.7l-1.6-.5 7-1.8 1.6 .5z"/><path class=k254 d="M704.8 66.7l-2.9-1 7-1.8 2.9 1.1z"/><path class=k254 d="M610.8 34l-6.4-2.6 7-1.6 6.4 2.7z"/><path class=k253 d="M613.9 35.4l-3.1-1.4 7-1.5 3.2 1.5z"/><path class=k252 d="M616 36.4l-2.1-1 7.1-1.4 2 1z"/><path class=k251 d="M617.6 37.2l-1.6-.8 7-1.4 1.6 .8z"/><path class=k250 d="M618.9 37.8l-1.3-.6 7-1.4 1.3 .8z"/><path class=k249 d="M620.1 38.4l-1.2-.6 7-1.2 1.2 .6z"/><path class=k248 d="M621.2 39l-1.1-.6 7-1.2 1.1 .7z"/><path class=k247 d="M622.1 39.6l-.9-.6 7-1.1 .9 .6z"/><path class=k246 d="M623 40.1l-.9-.5 7-1.1 .9 .6z"/><path class=k244 d="M623.9 40.6l-.9-.5 7-1 .9 .6z"/><path class=k243 d="M624.8 41.2l-.9-.6 7-.9 .9 .6z"/><path class=k242 d="M625.7 41.8l-.9-.6 7-.9 .9 .7z"/><path class=k240 d="M626.6 42.4l-.9-.6 7-.8 1 .7z"/><path class=k238 d="M627.5 43l-.9-.6 7.1-.7 .9 .7z"/><path class=k236 d="M628.4 43.7l-.9-.7 7.1-.6 .9 .7z"/><path class=k234 d="M629.4 44.4l-1-.7 7.1-.6 .9 .8z"/><path class=k232 d="M630 45l-.6-.6 7-.5 .7 .7z"/><path class=k230 d="M630.7 45.5l-.7-.5 7.1-.4 .6 .6z"/><path class=k227 d="M631.4 46.1l-.7-.6 7-.3 .7 .6z"/><path class=k225 d="M632.1 46.7l-.7-.6 7-.3 .7 .7z"/><path class=k223 d="M632.8 47.4l-.7-.7 7-.2 .7 .7z"/><path class=k220 d="M633.4 48l-.6-.6 7-.2 .7 .7z"/><path class=k217 d="M634.1 48.7l-.7-.7 7.1-.1 .6 .8z"/><path class=k215 d="M634.8 49.4l-.7-.7 7 0 .7 .7z"/><path class=k212 d="M635.5 50.1l-.7-.7 7 0 .7 .8z"/><path class=k208 d="M636.2 50.8l-.7-.7 7 .1 .7 .8z"/><path class=k205 d="M636.8 51.6l-.6-.8 7 .2 .7 .8z"/><path class=k202 d="M637.5 52.3l-.7-.7 7.1 .2 .6 .9z"/><path class=k198 d="M638.2 53.1l-.7-.8 7 .4 .7 .8z"/><path class=k194 d="M638.9 54l-.7-.9 7 .4 .7 .9z"/><path class=k191 d="M639.6 54.8l-.7-.8 7 .4 .7 .9z"/><path class=k187 d="M640.2 55.7l-.6-.9 7 .5 .7 .9z"/><path class=k182 d="M640.9 56.5l-.7-.8 7.1 .5 .6 .9z"/><path class=k178 d="M641.6 57.4l-.7-.9 7 .6 .7 .9z"/><path class=k174 d="M642.3 58.3l-.7-.9 7 .6 .7 .9z"/><path class=k169 d="M643 59.3l-.7-1 7 .6 .7 1z"/><path class=k165 d="M643.6 60.2l-.6-.9 7 .6 .7 .9z"/><path class=k160 d="M644.3 61.1l-.7-.9 7.1 .6 .6 .9z"/><path class=k156 d="M645 62.1l-.7-1 7 .6 .7 .9z"/><path class=k151 d="M645.7 63l-.7-.9 7 .5 .7 1z"/><path class=k146 d="M646.4 64l-.7-1 7 .6 .7 .9z"/><path class=k141 d="M647 65l-.6-1 7 .5 .7 .9z"/><path class=k137 d="M647.7 65.9l-.7-.9 7.1 .4 .6 .9z"/><path class=k132 d="M648.4 66.8l-.7-.9 7 .4 .7 .8z"/><path class=k128 d="M649.1 67.8l-.7-1 7 .3 .7 .9z"/><path class=k123 d="M649.8 68.7l-.7-.9 7 .2 .7 .8z"/><path class=k119 d="M650.4 69.6l-.6-.9 7 .1 .7 .8z"/><path class=k115 d="M651.1 70.5l-.7-.9 7.1 0 .6 .7z"/><path class=k111 d="M651.8 71.3l-.7-.8 7-.2 .7 .7z"/><path class=k107 d="M652.5 72.1l-.7-.8 7-.3 .7 .7z"/><path class=k103 d="M653.2 72.9l-.7-.8 7-.4 .7 .7z"/><path class=k100 d="M653.8 73.7l-.6-.8 7-.5 .7 .6z"/><path class=k97 d="M654.5 74.4l-.7-.7 7.1-.7 .6 .5z"/><path class=k94 d="M655.2 75l-.7-.6 7-.9 .7 .5z"/><path class=k91 d="M655.9 75.7l-.7-.7 7-1 .7 .4z"/><path class=k89 d="M656.8 76.4l-.9-.7 7-1.3 .9 .5z"/><path class=k86 d="M657.7 77.1l-.9-.7 7-1.5 .9 .5z"/><path class=k85 d="M658.6 77.6l-.9-.5 7-1.7 .9 .3z"/><path class=k84 d="M659.5 78.1l-.9-.5 7-1.9 .9 .2z"/><path class=k83 d="M660.4 78.5l-.9-.4 7-2.2 .9 .1z"/><path class=k200 d="M680.4 69l-1 .6 7.1-3.7 .9-.4z"/><path class=k206 d="M681.3 68.5l-.9 .5 7-3.5 .9-.3z"/><path class=k212 d="M682.2 68.1l-.9 .4 7-3.3 .9-.3z"/><path class=k217 d="M683.1 67.7l-.9 .4 7-3.2 .9-.3z"/><path class=k222 d="M684 67.4l-.9 .3 7-3.1 .9-.2z"/><path class=k226 d="M684.9 67.1l-.9 .3 7-3 .9-.1z"/><path class=k230 d="M685.8 66.9l-.9 .2 7-2.8 .9-.1z"/><path class=k234 d="M686.7 66.7l-.9 .2 7-2.7 .9 0z"/><path class=k238 d="M687.6 66.6l-.9 .1 7-2.5 .9 0z"/><path class=k240 d="M688.5 66.6l-.9 0 7-2.4 .9 0z"/><path class=k243 d="M689.4 66.6l-.9 0 7-2.4 .9 .2z"/><path class=k245 d="M690.3 66.6l-.9 0 7-2.2 .9 .1z"/><path class=k247 d="M691.2 66.7l-.9-.1 7-2.1 1 .2z"/><path class=k249 d="M692.1 66.9l-.9-.2 7.1-2 .9 .2z"/><path class=k250 d="M693 67l-.9-.1 7.1-2 .9 .2z"/><path class=k251 d="M694 67.2l-1-.2 7.1-1.9 .9 .3z"/><path class=k252 d="M694.9 67.5l-.9-.3 7-1.8 .9 .3z"/><path class=k253 d="M696.4 68l-1.5-.5 7-1.8 1.6 .5z"/><path class=k254 d="M699.4 69l-3-1 7.1-1.8 2.9 1.1z"/><path class=k254 d="M606.7 36.9l-6.1-2.6 7-1.6 6.1 2.6z"/><path class=k253 d="M609.9 38.3l-3.2-1.4 7-1.6 3.2 1.5z"/><path class=k252 d="M611.9 39.2l-2-.9 7-1.5 2 1z"/><path class=k251 d="M613.5 40l-1.6-.8 7-1.4 1.6 .9z"/><path class=k250 d="M614.9 40.7l-1.4-.7 7-1.3 1.4 .7z"/><path class=k249 d="M616 41.3l-1.1-.6 7-1.3 1.1 .7z"/><path class=k248 d="M616.9 41.7l-.9-.4 7-1.2 .9 .5z"/><path class=k247 d="M617.8 42.3l-.9-.6 7-1.1 .9 .6z"/><path class=k246 d="M618.7 42.8l-.9-.5 7-1.1 .9 .6z"/><path class=k244 d="M619.6 43.3l-.9-.5 7-1 .9 .6z"/><path class=k243 d="M620.5 43.9l-.9-.6 7-.9 .9 .6z"/><path class=k242 d="M621.4 44.5l-.9-.6 7-.9 .9 .7z"/><path class=k240 d="M622.3 45.1l-.9-.6 7-.8 1 .7z"/><path class=k238 d="M623.2 45.8l-.9-.7 7.1-.7 .9 .8z"/><path class=k236 d="M624.1 46.5l-.9-.7 7.1-.6 .9 .7z"/><path class=k234 d="M624.8 47l-.7-.5 7.1-.6 .6 .6z"/><path class=k232 d="M625.5 47.5l-.7-.5 7-.5 .7 .6z"/><path class=k230 d="M626.2 48.1l-.7-.6 7-.4 .7 .7z"/><path class=k228 d="M626.9 48.7l-.7-.6 7-.3 .7 .6z"/><path class=k226 d="M627.5 49.3l-.6-.6 7-.3 .7 .7z"/><path class=k223 d="M628.2 49.9l-.7-.6 7.1-.2 .6 .7z"/><path class=k220 d="M628.9 50.6l-.7-.7 7-.1 .7 .8z"/><path class=k218 d="M629.6 51.3l-.7-.7 7 0 .7 .7z"/><path class=k215 d="M630.3 52l-.7-.7 7 0 .7 .8z"/><path class=k212 d="M630.9 52.7l-.6-.7 7 .1 .7 .8z"/><path class=k209 d="M631.6 53.4l-.7-.7 7.1 .2 .6 .8z"/><path class=k205 d="M632.3 54.2l-.7-.8 7 .3 .7 .8z"/><path class=k202 d="M633 55l-.7-.8 7 .3 .7 .9z"/><path class=k198 d="M633.7 55.8l-.7-.8 7 .4 .7 .8z"/><path class=k194 d="M634.3 56.6l-.6-.8 7 .4 .7 .9z"/><path class=k190 d="M635 57.5l-.7-.9 7.1 .5 .6 .9z"/><path class=k186 d="M635.7 58.4l-.7-.9 7 .5 .7 1z"/><path class=k182 d="M636.4 59.3l-.7-.9 7 .6 .7 .9z"/><path class=k177 d="M637.1 60.2l-.7-.9 7 .6 .7 .9z"/><path class=k173 d="M637.7 61.1l-.6-.9 7 .6 .7 1z"/><path class=k168 d="M638.4 62.1l-.7-1 7.1 .7 .6 .9z"/><path class=k164 d="M639.1 63l-.7-.9 7 .6 .7 1z"/><path class=k159 d="M639.8 64l-.7-1 7 .7 .7 .9z"/><path class=k154 d="M640.5 65l-.7-1 7 .6 .7 1z"/><path class=k149 d="M641.1 65.9l-.6-.9 7 .6 .7 .9z"/><path class=k144 d="M641.8 66.9l-.7-1 7.1 .6 .6 1z"/><path class=k139 d="M642.5 67.9l-.7-1 7 .6 .7 .9z"/><path class=k135 d="M643.2 68.9l-.7-1 7 .5 .7 .9z"/><path class=k130 d="M643.9 69.8l-.7-.9 7 .4 .7 .9z"/><path class=k125 d="M644.5 70.8l-.6-1 7 .4 .7 .8z"/><path class=k120 d="M645.2 71.7l-.7-.9 7.1 .2 .6 .9z"/><path class=k116 d="M645.9 72.6l-.7-.9 7 .2 .7 .8z"/><path class=k112 d="M646.6 73.5l-.7-.9 7 .1 .7 .7z"/><path class=k107 d="M647.3 74.4l-.7-.9 7-.1 .7 .7z"/><path class=k104 d="M647.9 75.2l-.6-.8 7-.3 .7 .7z"/><path class=k100 d="M648.6 76l-.7-.8 7.1-.4 .6 .7z"/><path class=k96 d="M649.3 76.8l-.7-.8 7-.5 .7 .5z"/><path class=k93 d="M650 77.5l-.7-.7 7-.8 .7 .6z"/><path class=k90 d="M650.7 78.2l-.7-.7 7-.9 .7 .5z"/><path class=k88 d="M651.3 78.8l-.6-.6 7-1.1 .7 .4z"/><path class=k85 d="M652.3 79.5l-1-.7 7.1-1.3 .9 .5z"/><path class=k83 d="M653.2 80.2l-.9-.7 7-1.5 .9 .4z"/><path class=k82 d="M654.1 80.7l-.9-.5 7-1.8 .9 .3z"/><path class=k81 d="M656.6 81.7l-1.2-.4-1.3-.6 7-2 1.1 .2 1.4 0z"/><path class=k202 d="M675.6 71.4l-.9 .5 7-3.6 .9-.4z"/><path class=k208 d="M676.5 70.9l-.9 .5 7-3.5 .9-.4z"/><path class=k213 d="M677.4 70.4l-.9 .5 7-3.4 .9-.3z"/><path class=k218 d="M678.3 70l-.9 .4 7-3.2 .9-.2z"/><path class=k224 d="M679.2 69.7l-.9 .3 7-3 .9-.2z"/><path class=k228 d="M680.1 69.4l-.9 .3 7-2.9 1-.2z"/><path class=k232 d="M681 69.2l-.9 .2 7.1-2.8 .9 0z"/><path class=k236 d="M681.9 69.1l-.9 .1 7.1-2.6 .9 0z"/><path class=k239 d="M682.9 69l-1 .1 7.1-2.5 .9 0z"/><path class=k242 d="M683.8 68.9l-.9 .1 7-2.4 .9 .1z"/><path class=k244 d="M684.7 69l-.9-.1 7-2.2 .9 .1z"/><path class=k246 d="M685.6 69l-.9 0 7-2.2 .9 .1z"/><path class=k248 d="M686.5 69.1l-.9-.1 7-2.1 .9 .2z"/><path class=k250 d="M687.4 69.3l-.9-.2 7-2 .9 .3z"/><path class=k251 d="M688.3 69.5l-.9-.2 7-1.9 .9 .2z"/><path class=k252 d="M689.2 69.7l-.9-.2 7-1.9 .9 .3z"/><path class=k252 d="M690.1 70l-.9-.3 7-1.8 .9 .3z"/><path class=k253 d="M691 70.2l-.9-.2 7-1.8 .9 .3z"/><path class=k254 d="M694 71.2l-3-1 7-1.7 3 1.1z"/><path class=k254 d="M602.9 39.8l-6.2-2.6 7-1.6 6.2 2.7z"/><path class=k253 d="M605.8 41.1l-2.9-1.3 7-1.5 2.9 1.3z"/><path class=k252 d="M607.8 42l-2-.9 7-1.5 2.1 1.1z"/><path class=k251 d="M609.4 42.8l-1.6-.8 7.1-1.3 1.5 .8z"/><path class=k250 d="M610.8 43.5l-1.4-.7 7-1.3 1.4 .8z"/><path class=k249 d="M611.7 44l-.9-.5 7-1.2 .9 .5z"/><path class=k248 d="M612.8 44.6l-1.1-.6 7-1.2 1.1 .7z"/><path class=k247 d="M613.7 45.1l-.9-.5 7-1.1 .9 .6z"/><path class=k246 d="M614.6 45.6l-.9-.5 7-1 1 .6z"/><path class=k244 d="M615.5 46.2l-.9-.6 7.1-.9 .9 .6z"/><path class=k243 d="M616.5 46.8l-1-.6 7.1-.9 .9 .6z"/><path class=k242 d="M617.4 47.4l-.9-.6 7-.9 .9 .7z"/><path class=k240 d="M618.3 48l-.9-.6 7-.8 .9 .8z"/><path class=k238 d="M619.2 48.7l-.9-.7 7-.6 .9 .7z"/><path class=k235 d="M620.1 49.4l-.9-.7 7-.6 .9 .8z"/><path class=k233 d="M620.8 49.9l-.7-.5 7-.5 .7 .6z"/><path class=k231 d="M621.4 50.5l-.6-.6 7-.4 .7 .7z"/><path class=k229 d="M622.1 51.1l-.7-.6 7.1-.3 .6 .6z"/><path class=k227 d="M622.8 51.7l-.7-.6 7-.3 .7 .7z"/><path class=k224 d="M623.5 52.3l-.7-.6 7-.2 .7 .7z"/><path class=k222 d="M624.2 53l-.7-.7 7-.1 .7 .7z"/><path class=k219 d="M624.8 53.6l-.6-.6 7-.1 .7 .8z"/><path class=k216 d="M625.5 54.3l-.7-.7 7.1 .1 .6 .8z"/><path class=k213 d="M626.2 55.1l-.7-.8 7 .2 .7 .8z"/><path class=k210 d="M626.9 55.8l-.7-.7 7 .2 .7 .8z"/><path class=k206 d="M627.6 56.6l-.7-.8 7 .3 .7 .8z"/><path class=k203 d="M628.2 57.4l-.6-.8 7 .3 .7 .9z"/><path class=k199 d="M628.9 58.2l-.7-.8 7.1 .4 .6 .9z"/><path class=k195 d="M629.6 59l-.7-.8 7 .5 .7 .9z"/><path class=k191 d="M630.3 59.9l-.7-.9 7 .6 .7 .9z"/><path class=k187 d="M631 60.8l-.7-.9 7 .6 .7 .9z"/><path class=k183 d="M631.6 61.7l-.6-.9 7 .6 .7 1z"/><path class=k178 d="M632.3 62.6l-.7-.9 7.1 .7 .6 .9z"/><path class=k173 d="M633 63.6l-.7-1 7 .7 .7 1z"/><path class=k169 d="M633.7 64.5l-.7-.9 7 .7 .7 1z"/><path class=k164 d="M634.4 65.5l-.7-1 7 .8 .7 1z"/><path class=k159 d="M635 66.5l-.6-1 7 .8 .7 .9z"/><path class=k154 d="M635.7 67.5l-.7-1 7.1 .7 .6 1z"/><path class=k149 d="M636.4 68.5l-.7-1 7 .7 .7 1z"/><path class=k144 d="M637.1 69.5l-.7-1 7 .7 .7 1z"/><path class=k139 d="M637.8 70.5l-.7-1 7 .7 .7 .9z"/><path class=k134 d="M638.4 71.5l-.6-1 7 .6 .7 .9z"/><path class=k129 d="M639.1 72.5l-.7-1 7.1 .5 .6 .9z"/><path class=k124 d="M639.8 73.5l-.7-1 7 .4 .7 .9z"/><path class=k119 d="M640.5 74.5l-.7-1 7 .3 .7 .9z"/><path class=k115 d="M641.2 75.4l-.7-.9 7 .2 .7 .8z"/><path class=k110 d="M641.8 76.3l-.6-.9 7 .1 .7 .8z"/><path class=k106 d="M642.5 77.2l-.7-.9 7.1 0 .6 .7z"/><path class=k102 d="M643.2 78.1l-.7-.9 7-.2 .7 .7z"/><path class=k98 d="M643.9 78.9l-.7-.8 7-.4 .7 .7z"/><path class=k94 d="M644.6 79.7l-.7-.8 7-.5 .7 .6z"/><path class=k91 d="M645.2 80.4l-.6-.7 7-.7 .7 .5z"/><path class=k88 d="M645.9 81.1l-.7-.7 7.1-.9 .6 .5z"/><path class=k85 d="M646.6 81.7l-.7-.6 7-1.1 .7 .5z"/><path class=k83 d="M647.5 82.5l-.9-.8 7-1.2 .9 .5z"/><path class=k80 d="M648.4 83.1l-.9-.6 7-1.5 .9 .3z"/><path class=k78 d="M649.3 83.7l-.9-.6 7-1.8 .9 .3z"/><path class=k208 d="M671.5 73.3l-.9 .5 7-3.5 .9-.4z"/><path class=k213 d="M672.4 72.8l-.9 .5 7-3.4 1-.3z"/><path class=k219 d="M673.3 72.4l-.9 .4 7.1-3.2 .9-.2z"/><path class=k224 d="M674.3 72.1l-1 .3 7.1-3 .9-.2z"/><path class=k228 d="M675.2 71.8l-.9 .3 7-2.9 .9-.2z"/><path class=k232 d="M676.1 71.6l-.9 .2 7-2.8 .9 0z"/><path class=k236 d="M677 71.4l-.9 .2 7-2.6 .9-.1z"/><path class=k239 d="M677.9 71.3l-.9 .1 7-2.5 .9 .1z"/><path class=k242 d="M678.8 71.3l-.9 0 7-2.3 .9 0z"/><path class=k244 d="M679.7 71.3l-.9 0 7-2.3 .9 .2z"/><path class=k247 d="M680.6 71.4l-.9-.1 7-2.1 .9 .1z"/><path class=k248 d="M681.5 71.5l-.9-.1 7-2.1 .9 .2z"/><path class=k250 d="M682.4 71.7l-.9-.2 7-2 .9 .3z"/><path class=k251 d="M683.3 71.9l-.9-.2 7-1.9 .9 .2z"/><path class=k252 d="M684.2 72.1l-.9-.2 7-1.9 .9 .3z"/><path class=k253 d="M685.8 72.6l-1.6-.5 7-1.8 1.6 .5z"/><path class=k254 d="M688.5 73.5l-2.7-.9 7-1.8 2.7 1z"/><path class=k254 d="M598.8 42.6l-5.9-2.5 7-1.6 5.9 2.6z"/><path class=k253 d="M601.7 43.9l-2.9-1.3 7-1.5 2.9 1.4z"/><path class=k252 d="M603.8 44.8l-2.1-.9 7-1.4 2.1 1z"/><path class=k251 d="M605.4 45.6l-1.6-.8 7-1.3 1.6 .8z"/><path class=k250 d="M606.5 46.2l-1.1-.6 7-1.3 1.1 .7z"/><path class=k249 d="M607.6 46.8l-1.1-.6 7-1.2 1.1 .6z"/><path class=k248 d="M608.5 47.3l-.9-.5 7-1.2 .9 .6z"/><path class=k247 d="M609.4 47.8l-.9-.5 7-1.1 1 .6z"/><path class=k246 d="M610.3 48.3l-.9-.5 7.1-1 .9 .6z"/><path class=k244 d="M611.2 48.9l-.9-.6 7.1-.9 .9 .6z"/><path class=k243 d="M612.2 49.5l-1-.6 7.1-.9 .9 .7z"/><path class=k242 d="M613.1 50.1l-.9-.6 7-.8 .9 .7z"/><path class=k240 d="M614 50.7l-.9-.6 7-.7 .9 .7z"/><path class=k238 d="M614.9 51.4l-.9-.7 7-.6 .9 .8z"/><path class=k235 d="M615.6 51.9l-.7-.5 7-.5 .7 .6z"/><path class=k234 d="M616.2 52.5l-.6-.6 7-.4 .7 .6z"/><path class=k232 d="M616.9 53l-.7-.5 7.1-.4 .6 .6z"/><path class=k229 d="M617.6 53.6l-.7-.6 7-.3 .7 .7z"/><path class=k227 d="M618.3 54.2l-.7-.6 7-.2 .7 .7z"/><path class=k225 d="M619 54.9l-.7-.7 7-.1 .7 .7z"/><path class=k222 d="M619.6 55.5l-.6-.6 7-.1 .7 .7z"/><path class=k219 d="M620.3 56.2l-.7-.7 7.1 0 .6 .8z"/><path class=k216 d="M621 56.9l-.7-.7 7 .1 .7 .8z"/><path class=k213 d="M621.7 57.6l-.7-.7 7 .2 .7 .8z"/><path class=k210 d="M622.4 58.4l-.7-.8 7 .3 .7 .8z"/><path class=k207 d="M623 59.2l-.6-.8 7 .3 .7 .9z"/><path class=k203 d="M623.7 60l-.7-.8 7.1 .4 .6 .9z"/><path class=k199 d="M624.4 60.8l-.7-.8 7 .5 .7 .9z"/><path class=k195 d="M625.1 61.7l-.7-.9 7 .6 .7 .9z"/><path class=k191 d="M625.8 62.6l-.7-.9 7 .6 .7 1z"/><path class=k187 d="M626.4 63.5l-.6-.9 7 .7 .7 .9z"/><path class=k182 d="M627.1 64.4l-.7-.9 7.1 .7 .6 1z"/><path class=k177 d="M627.8 65.4l-.7-1 7 .8 .7 1z"/><path class=k173 d="M628.5 66.4l-.7-1 7 .8 .7 1z"/><path class=k168 d="M629.2 67.3l-.7-.9 7 .8 .7 1z"/><path class=k163 d="M629.8 68.3l-.6-1 7 .9 .7 1z"/><path class=k158 d="M630.5 69.4l-.7-1.1 7.1 .9 .6 1z"/><path class=k152 d="M631.2 70.4l-.7-1 7 .8 .7 1z"/><path class=k147 d="M631.9 71.4l-.7-1 7 .8 .7 1z"/><path class=k142 d="M632.6 72.5l-.7-1.1 7 .8 .7 1z"/><path class=k137 d="M633.2 73.5l-.6-1 7 .7 .7 .9z"/><path class=k131 d="M633.9 74.5l-.7-1 7.1 .6 .6 1z"/><path class=k126 d="M634.6 75.5l-.7-1 7 .6 .7 .9z"/><path class=k121 d="M635.3 76.5l-.7-1 7 .5 .7 .9z"/><path class=k116 d="M636 77.5l-.7-1 7 .4 .7 .9z"/><path class=k111 d="M636.6 78.5l-.6-1 7 .3 .7 .8z"/><path class=k107 d="M637.3 79.4l-.7-.9 7.1 .1 .6 .8z"/><path class=k102 d="M638 80.3l-.7-.9 7 0 .7 .8z"/><path class=k98 d="M638.7 81.2l-.7-.9 7-.1 .7 .7z"/><path class=k94 d="M639.4 82l-.7-.8 7-.3 .7 .6z"/><path class=k90 d="M640 82.8l-.6-.8 7-.5 .7 .6z"/><path class=k87 d="M640.7 83.6l-.7-.8 7.1-.7 .6 .6z"/><path class=k84 d="M641.4 84.3l-.7-.7 7-.9 .7 .4z"/><path class=k81 d="M642.1 84.9l-.7-.6 7-1.2 .7 .5z"/><path class=k79 d="M643 85.6l-.9-.7 7-1.3 .9 .4z"/><path class=k76 d="M643.9 86.3l-.9-.7 7-1.6 .9 .4z"/><path class=k75 d="M644.8 86.8l-.9-.5 7-1.9 .9 .2z"/><path class=k201 d="M665.6 76.3l-.9 .6 7.1-3.7 .9-.5z"/><path class=k208 d="M666.6 75.8l-1 .5 7.1-3.6 .9-.4z"/><path class=k214 d="M667.5 75.3l-.9 .5 7-3.5 .9-.3z"/><path class=k219 d="M668.4 74.8l-.9 .5 7-3.3 .9-.3z"/><path class=k224 d="M669.3 74.5l-.9 .3 7-3.1 .9-.2z"/><path class=k228 d="M670.2 74.2l-.9 .3 7-3 .9-.1z"/><path class=k233 d="M671.1 74l-.9 .2 7-2.8 .9-.1z"/><path class=k236 d="M672 73.8l-.9 .2 7-2.7 .9 0z"/><path class=k240 d="M672.9 73.7l-.9 .1 7-2.5 .9 0z"/><path class=k243 d="M673.8 73.7l-.9 0 7-2.4 .9 .1z"/><path class=k245 d="M674.7 73.7l-.9 0 7-2.3 .9 .2z"/><path class=k248 d="M675.6 73.8l-.9-.1 7-2.1 .9 .1z"/><path class=k249 d="M676.5 73.9l-.9-.1 7-2.1 .9 .2z"/><path class=k250 d="M677.4 74.1l-.9-.2 7-2 1 .3z"/><path class=k252 d="M678.3 74.3l-.9-.2 7.1-1.9 .9 .2z"/><path class=k252 d="M679.2 74.5l-.9-.2 7.1-1.9 .9 .3z"/><path class=k253 d="M680.4 74.9l-1.2-.4 7.1-1.8 1.1 .4z"/><path class=k254 d="M682.9 75.7l-2.5-.8 7-1.8 2.5 .9z"/><path class=k254 d="M594.9 45.5l-5.9-2.5 7.1-1.6 5.9 2.6z"/><path class=k253 d="M597.7 46.7l-2.8-1.2 7.1-1.5 2.7 1.3z"/><path class=k252 d="M599.7 47.6l-2-.9 7-1.4 2 1z"/><path class=k251 d="M601.3 48.4l-1.6-.8 7-1.3 1.6 .9z"/><path class=k250 d="M602.4 49l-1.1-.6 7-1.2 1.1 .6z"/><path class=k249 d="M603.5 49.6l-1.1-.6 7-1.2 1.2 .7z"/><path class=k248 d="M604.5 50.1l-1-.5 7.1-1.1 .9 .5z"/><path class=k247 d="M605.4 50.6l-.9-.5 7-1.1 .9 .6z"/><path class=k246 d="M606.3 51.2l-.9-.6 7-1 .9 .6z"/><path class=k244 d="M607.2 51.7l-.9-.5 7-1 .9 .7z"/><path class=k243 d="M608.1 52.3l-.9-.6 7-.8 .9 .7z"/><path class=k241 d="M609 53l-.9-.7 7-.7 .9 .7z"/><path class=k239 d="M609.9 53.6l-.9-.6 7-.7 .9 .7z"/><path class=k237 d="M610.8 54.3l-.9-.7 7-.6 .9 .8z"/><path class=k235 d="M611.5 54.8l-.7-.5 7-.5 .7 .6z"/><path class=k233 d="M612.2 55.4l-.7-.6 7-.4 .7 .7z"/><path class=k231 d="M612.8 56l-.6-.6 7-.3 .7 .7z"/><path class=k229 d="M613.5 56.6l-.7-.6 7.1-.2 .6 .6z"/><path class=k226 d="M614.2 57.2l-.7-.6 7-.2 .7 .8z"/><path class=k224 d="M614.9 57.9l-.7-.7 7 0 .7 .7z"/><path class=k221 d="M615.6 58.5l-.7-.6 7 0 .7 .8z"/><path class=k218 d="M616.2 59.3l-.6-.8 7 .2 .7 .8z"/><path class=k215 d="M616.9 60l-.7-.7 7.1 .2 .6 .8z"/><path class=k211 d="M617.6 60.7l-.7-.7 7 .3 .7 .8z"/><path class=k208 d="M618.3 61.5l-.7-.8 7 .4 .7 .9z"/><path class=k204 d="M619 62.4l-.7-.9 7 .5 .7 .9z"/><path class=k200 d="M619.6 63.2l-.6-.8 7 .5 .7 .9z"/><path class=k196 d="M620.3 64.1l-.7-.9 7.1 .6 .6 .9z"/><path class=k192 d="M621 65l-.7-.9 7 .6 .7 1z"/><path class=k188 d="M621.7 65.9l-.7-.9 7 .7 .7 1z"/><path class=k183 d="M622.4 66.8l-.7-.9 7 .8 .7 1z"/><path class=k178 d="M623 67.8l-.6-1 7 .9 .7 1z"/><path class=k173 d="M623.7 68.8l-.7-1 7.1 .9 .6 1z"/><path class=k168 d="M624.4 69.8l-.7-1 7 .9 .7 1z"/><path class=k163 d="M625.1 70.8l-.7-1 7 .9 .7 1.1z"/><path class=k158 d="M625.8 71.9l-.7-1.1 7 1 .7 1z"/><path class=k152 d="M626.4 72.9l-.6-1 7 .9 .7 1z"/><path class=k147 d="M627.1 74l-.7-1.1 7.1 .9 .6 1.1z"/><path class=k142 d="M627.8 75l-.7-1 7 .9 .7 1z"/><path class=k136 d="M628.5 76.1l-.7-1.1 7 .9 .7 1z"/><path class=k131 d="M629.2 77.2l-.7-1.1 7 .8 .7 .9z"/><path class=k125 d="M629.8 78.2l-.6-1 7 .6 .7 1z"/><path class=k120 d="M630.5 79.3l-.7-1.1 7.1 .6 .6 .9z"/><path class=k115 d="M631.2 80.3l-.7-1 7 .4 .7 .9z"/><path class=k110 d="M631.9 81.3l-.7-1 7 .3 .7 .9z"/><path class=k105 d="M632.6 82.3l-.7-1 7 .2 .7 .8z"/><path class=k100 d="M633.2 83.2l-.6-.9 7 0 .7 .8z"/><path class=k96 d="M633.9 84.1l-.7-.9 7.1-.1 .6 .7z"/><path class=k92 d="M634.6 85l-.7-.9 7-.3 .7 .7z"/><path class=k88 d="M635.3 85.8l-.7-.8 7-.5 .7 .6z"/><path class=k84 d="M636 86.5l-.7-.7 7-.7 .7 .5z"/><path class=k81 d="M636.6 87.2l-.6-.7 7-.9 .7 .5z"/><path class=k78 d="M637.3 87.9l-.7-.7 7.1-1.1 .6 .5z"/><path class=k76 d="M638.2 88.7l-.9-.8 7-1.3 .9 .4z"/><path class=k74 d="M639.1 89.3l-.9-.6 7-1.7 1 .4z"/><path class=k210 d="M662 77.9l-.9 .6 7-3.6 .9-.3z"/><path class=k216 d="M662.9 77.4l-.9 .5 7-3.3 1-.4z"/><path class=k222 d="M663.8 77l-.9 .4 7.1-3.2 .9-.2z"/><path class=k227 d="M664.7 76.7l-.9 .3 7.1-3 .9-.2z"/><path class=k232 d="M665.7 76.4l-1 .3 7.1-2.9 .9-.1z"/><path class=k236 d="M666.6 76.2l-.9 .2 7-2.7 .9 0z"/><path class=k239 d="M667.5 76.1l-.9 .1 7-2.5 .9 0z"/><path class=k242 d="M668.4 76l-.9 .1 7-2.4 .9 .1z"/><path class=k245 d="M669.3 76l-.9 0 7-2.2 .9 .1z"/><path class=k247 d="M670.2 76.1l-.9-.1 7-2.1 .9 .1z"/><path class=k249 d="M671.1 76.2l-.9-.1 7-2.1 .9 .2z"/><path class=k250 d="M672 76.4l-.9-.2 7-2 .9 .3z"/><path class=k252 d="M672.9 76.6l-.9-.2 7-1.9 .9 .2z"/><path class=k252 d="M673.8 76.8l-.9-.2 7-1.9 .9 .3z"/><path class=k253 d="M674.9 77.1l-1.1-.3 7-1.8 1.2 .4z"/><path class=k254 d="M677.4 78l-2.5-.9 7.1-1.7 2.5 .9z"/><path class=k254 d="M590.9 48.3l-5.7-2.4 7-1.6 5.7 2.5z"/><path class=k253 d="M593.8 49.6l-2.9-1.3 7-1.5 2.9 1.4z"/><path class=k252 d="M595.6 50.4l-1.8-.8 7-1.4 1.8 .9z"/><path class=k251 d="M597.2 51.2l-1.6-.8 7-1.3 1.6 .9z"/><path class=k250 d="M598.3 51.8l-1.1-.6 7-1.2 1.2 .6z"/><path class=k249 d="M599.5 52.4l-1.2-.6 7.1-1.2 1.1 .7z"/><path class=k248 d="M600.4 52.9l-.9-.5 7-1.1 .9 .6z"/><path class=k247 d="M601.3 53.5l-.9-.6 7-1 .9 .6z"/><path class=k246 d="M602.2 54l-.9-.5 7-1 .9 .6z"/><path class=k244 d="M603.1 54.6l-.9-.6 7-.9 .9 .7z"/><path class=k242 d="M604 55.2l-.9-.6 7-.8 .9 .7z"/><path class=k240 d="M604.9 55.8l-.9-.6 7-.7 .9 .7z"/><path class=k238 d="M605.8 56.5l-.9-.7 7-.6 .9 .8z"/><path class=k237 d="M606.5 57l-.7-.5 7-.5 .7 .6z"/><path class=k235 d="M607.2 57.6l-.7-.6 7-.4 .7 .6z"/><path class=k233 d="M607.9 58.1l-.7-.5 7-.4 .7 .7z"/><path class=k231 d="M608.5 58.7l-.6-.6 7-.2 .7 .6z"/><path class=k228 d="M609.2 59.3l-.7-.6 7.1-.2 .6 .8z"/><path class=k226 d="M609.9 60l-.7-.7 7 0 .7 .7z"/><path class=k223 d="M610.6 60.6l-.7-.6 7 0 .7 .7z"/><path class=k220 d="M611.3 61.3l-.7-.7 7 .1 .7 .8z"/><path class=k217 d="M611.9 62.1l-.6-.8 7 .2 .7 .9z"/><path class=k214 d="M612.6 62.8l-.7-.7 7.1 .3 .6 .8z"/><path class=k211 d="M613.3 63.6l-.7-.8 7 .4 .7 .9z"/><path class=k207 d="M614 64.4l-.7-.8 7 .5 .7 .9z"/><path class=k203 d="M614.7 65.3l-.7-.9 7 .6 .7 .9z"/><path class=k199 d="M615.3 66.1l-.6-.8 7 .6 .7 .9z"/><path class=k195 d="M616 67l-.7-.9 7.1 .7 .6 1z"/><path class=k190 d="M616.7 67.9l-.7-.9 7 .8 .7 1z"/><path class=k186 d="M617.4 68.9l-.7-1 7 .9 .7 1z"/><path class=k181 d="M618.1 69.9l-.7-1 7 .9 .7 1z"/><path class=k176 d="M618.7 70.9l-.6-1 7 .9 .7 1.1z"/><path class=k171 d="M619.4 71.9l-.7-1 7.1 1 .6 1z"/><path class=k165 d="M620.1 73l-.7-1.1 7 1 .7 1.1z"/><path class=k160 d="M620.8 74l-.7-1 7 1 .7 1z"/><path class=k154 d="M621.5 75.1l-.7-1.1 7 1 .7 1.1z"/><path class=k149 d="M622.1 76.2l-.6-1.1 7 1 .7 1.1z"/><path class=k143 d="M622.8 77.3l-.7-1.1 7.1 1 .6 1z"/><path class=k138 d="M623.5 78.4l-.7-1.1 7 .9 .7 1.1z"/><path class=k132 d="M624.2 79.5l-.7-1.1 7 .9 .7 1z"/><path class=k126 d="M624.9 80.6l-.7-1.1 7 .8 .7 1z"/><path class=k121 d="M625.5 81.6l-.6-1 7 .7 .7 1z"/><path class=k115 d="M626.2 82.7l-.7-1.1 7.1 .7 .6 .9z"/><path class=k110 d="M626.9 83.7l-.7-1 7 .5 .7 .9z"/><path class=k105 d="M627.6 84.8l-.7-1.1 7 .4 .7 .9z"/><path class=k100 d="M628.3 85.7l-.7-.9 7 .2 .7 .8z"/><path class=k95 d="M628.9 86.7l-.6-1 7 .1 .7 .7z"/><path class=k90 d="M629.6 87.6l-.7-.9 7.1-.2 .6 .7z"/><path class=k86 d="M630.3 88.4l-.7-.8 7-.4 .7 .7z"/><path class=k83 d="M631 89.2l-.7-.8 7-.5 .7 .6z"/><path class=k79 d="M631.7 90l-.7-.8 7-.7 .7 .5z"/><path class=k76 d="M632.3 90.7l-.6-.7 7-1 .7 .4z"/><path class=k74 d="M633 91.3l-.7-.6 7.1-1.3 .6 .4z"/><path class=k211 d="M657.1 80.3l-1 .6 7.1-3.6 .9-.4z"/><path class=k217 d="M658 79.8l-.9 .5 7-3.4 .9-.3z"/><path class=k223 d="M658.9 79.4l-.9 .4 7-3.2 .9-.2z"/><path class=k228 d="M659.8 79.1l-.9 .3 7-3 .9-.2z"/><path class=k232 d="M660.7 78.8l-.9 .3 7-2.9 .9-.1z"/><path class=k236 d="M661.6 78.6l-.9 .2 7-2.7 .9-.1z"/><path class=k240 d="M662.5 78.4l-.9 .2 7-2.6 .9 .1z"/><path class=k243 d="M663.4 78.4l-.9 0 7-2.3 .9 0z"/><path class=k245 d="M664.3 78.4l-.9 0 7-2.3 .9 .1z"/><path class=k248 d="M665.2 78.5l-.9-.1 7-2.2 .9 .2z"/><path class=k249 d="M666.1 78.6l-.9-.1 7-2.1 .9 .2z"/><path class=k251 d="M667 78.8l-.9-.2 7-2 .9 .3z"/><path class=k252 d="M667.9 79l-.9-.2 7-1.9 .9 .2z"/><path class=k253 d="M668.8 79.2l-.9-.2 7-1.9 1 .3z"/><path class=k253 d="M669.7 79.5l-.9-.3 7.1-1.8 .9 .3z"/><path class=k254 d="M672 80.2l-2.3-.7 7.1-1.8 2.2 .9z"/><path class=k254 d="M587 51.2l-5.6-2.4 7-1.6 5.6 2.5z"/><path class=k253 d="M589.7 52.4l-2.7-1.2 7-1.5 2.8 1.3z"/><path class=k252 d="M591.8 53.4l-2.1-1 7.1-1.4 2 1.1z"/><path class=k251 d="M593.1 54l-1.3-.6 7-1.3 1.4 .7z"/><path class=k250 d="M594.3 54.6l-1.2-.6 7.1-1.2 1.1 .7z"/><path class=k249 d="M595.2 55.1l-.9-.5 7-1.1 .9 .5z"/><path class=k248 d="M596.1 55.6l-.9-.5 7-1.1 .9 .6z"/><path class=k247 d="M597 56.1l-.9-.5 7-1 .9 .6z"/><path class=k246 d="M597.9 56.7l-.9-.6 7-.9 .9 .6z"/><path class=k244 d="M598.8 57.3l-.9-.6 7-.9 .9 .7z"/><path class=k242 d="M599.7 57.9l-.9-.6 7-.8 .9 .7z"/><path class=k241 d="M600.6 58.5l-.9-.6 7-.7 .9 .7z"/><path class=k239 d="M601.5 59.2l-.9-.7 7-.6 .9 .8z"/><path class=k237 d="M602.2 59.7l-.7-.5 7-.5 .7 .6z"/><path class=k235 d="M602.9 60.3l-.7-.6 7-.4 .7 .7z"/><path class=k233 d="M603.6 60.9l-.7-.6 7-.3 .7 .6z"/><path class=k231 d="M604.2 61.5l-.6-.6 7-.3 .7 .7z"/><path class=k228 d="M604.9 62.1l-.7-.6 7.1-.2 .6 .8z"/><path class=k226 d="M605.6 62.7l-.7-.6 7 0 .7 .7z"/><path class=k223 d="M606.3 63.4l-.7-.7 7 .1 .7 .8z"/><path class=k220 d="M607 64.1l-.7-.7 7 .2 .7 .8z"/><path class=k217 d="M607.6 64.9l-.6-.8 7 .3 .7 .9z"/><path class=k213 d="M608.3 65.6l-.7-.7 7.1 .4 .6 .8z"/><path class=k210 d="M609 66.5l-.7-.9 7 .5 .7 .9z"/><path class=k206 d="M609.7 67.3l-.7-.8 7 .5 .7 .9z"/><path class=k202 d="M610.4 68.2l-.7-.9 7 .6 .7 1z"/><path class=k198 d="M611 69.1l-.6-.9 7 .7 .7 1z"/><path class=k193 d="M611.7 70l-.7-.9 7.1 .8 .6 1z"/><path class=k188 d="M612.4 70.9l-.7-.9 7 .9 .7 1z"/><path class=k184 d="M613.1 71.9l-.7-1 7 1 .7 1.1z"/><path class=k179 d="M613.8 72.9l-.7-1 7 1.1 .7 1z"/><path class=k173 d="M614.4 74l-.6-1.1 7 1.1 .7 1.1z"/><path class=k168 d="M615.1 75.1l-.7-1.1 7.1 1.1 .6 1.1z"/><path class=k162 d="M615.8 76.1l-.7-1 7 1.1 .7 1.1z"/><path class=k157 d="M616.5 77.2l-.7-1.1 7 1.2 .7 1.1z"/><path class=k151 d="M617.2 78.4l-.7-1.2 7 1.2 .7 1.1z"/><path class=k145 d="M617.8 79.5l-.6-1.1 7 1.1 .7 1.1z"/><path class=k139 d="M618.5 80.6l-.7-1.1 7.1 1.1 .6 1z"/><path class=k133 d="M619.2 81.7l-.7-1.1 7 1 .7 1.1z"/><path class=k127 d="M619.9 82.9l-.7-1.2 7 1 .7 1z"/><path class=k121 d="M620.6 84l-.7-1.1 7 .8 .7 1.1z"/><path class=k116 d="M621.2 85.1l-.6-1.1 7 .8 .7 .9z"/><path class=k110 d="M621.9 86.2l-.7-1.1 7.1 .6 .6 1z"/><path class=k104 d="M622.6 87.3l-.7-1.1 7 .5 .7 .9z"/><path class=k99 d="M623.3 88.3l-.7-1 7 .3 .7 .8z"/><path class=k94 d="M624 89.3l-.7-1 7 .1 .7 .8z"/><path class=k89 d="M624.6 90.2l-.6-.9 7-.1 .7 .8z"/><path class=k85 d="M625.3 91.1l-.7-.9 7.1-.2 .6 .7z"/><path class=k81 d="M626 92l-.7-.9 7-.4 .7 .6z"/><path class=k77 d="M626.7 92.8l-.7-.8 7-.7 .7 .6z"/><path class=k74 d="M627.4 93.5l-.7-.7 7-.9 .7 .4z"/><path class=k71 d="M628 94.2l-.6-.7 7-1.2 .7 .5z"/><path class=k218 d="M653 82.2l-.9 .5 7-3.4 .9-.3z"/><path class=k223 d="M653.9 81.8l-.9 .4 7-3.2 .9-.3z"/><path class=k228 d="M654.8 81.4l-.9 .4 7-3.1 .9-.2z"/><path class=k233 d="M655.7 81.1l-.9 .3 7-2.9 .9-.1z"/><path class=k237 d="M656.6 80.9l-.9 .2 7-2.7 .9 0z"/><path class=k240 d="M657.5 80.8l-.9 .1 7-2.5 .9 0z"/><path class=k244 d="M658.4 80.7l-.9 .1 7-2.4 .9 .1z"/><path class=k246 d="M659.3 80.8l-.9-.1 7-2.2 .9 .1z"/><path class=k248 d="M660.2 80.8l-.9 0 7-2.2 1 .2z"/><path class=k250 d="M661.1 81l-.9-.2 7.1-2 .9 .2z"/><path class=k251 d="M662 81.1l-.9-.1 7.1-2 .9 .3z"/><path class=k252 d="M663 81.4l-1-.3 7.1-1.8 .9 .2z"/><path class=k253 d="M664.1 81.7l-1.1-.3 7-1.9 1.1 .4z"/><path class=k254 d="M666.4 82.4l-2.3-.7 7-1.8 2.3 .8z"/><path class=k254 d="M583.2 54.1l-5.5-2.3 7.1-1.6 5.4 2.4z"/><path class=k253 d="M585.9 55.3l-2.7-1.2 7-1.5 2.7 1.3z"/><path class=k252 d="M587.7 56.2l-1.8-.9 7-1.4 1.8 1z"/><path class=k251 d="M589.1 56.8l-1.4-.6 7-1.3 1.4 .7z"/><path class=k250 d="M590.2 57.4l-1.1-.6 7-1.2 1.1 .7z"/><path class=k249 d="M591.1 57.9l-.9-.5 7-1.1 .9 .5z"/><path class=k248 d="M592 58.4l-.9-.5 7-1.1 .9 .6z"/><path class=k247 d="M592.9 59l-.9-.6 7-1 .9 .6z"/><path class=k246 d="M593.8 59.5l-.9-.5 7-1 .9 .7z"/><path class=k244 d="M594.7 60.1l-.9-.6 7-.8 1 .7z"/><path class=k242 d="M595.6 60.7l-.9-.6 7.1-.7 .9 .7z"/><path class=k240 d="M596.5 61.4l-.9-.7 7.1-.6 .9 .8z"/><path class=k239 d="M597.2 61.9l-.7-.5 7.1-.5 .6 .6z"/><path class=k237 d="M597.9 62.4l-.7-.5 7-.4 .7 .6z"/><path class=k235 d="M598.6 63l-.7-.6 7-.3 .7 .6z"/><path class=k233 d="M599.3 63.6l-.7-.6 7-.3 .7 .7z"/><path class=k231 d="M599.9 64.2l-.6-.6 7-.2 .7 .7z"/><path class=k228 d="M600.6 64.8l-.7-.6 7.1-.1 .6 .8z"/><path class=k225 d="M601.3 65.5l-.7-.7 7 .1 .7 .7z"/><path class=k223 d="M602 66.2l-.7-.7 7 .1 .7 .9z"/><path class=k219 d="M602.7 66.9l-.7-.7 7 .3 .7 .8z"/><path class=k216 d="M603.3 67.7l-.6-.8 7 .4 .7 .9z"/><path class=k213 d="M604 68.5l-.7-.8 7.1 .5 .6 .9z"/><path class=k209 d="M604.7 69.3l-.7-.8 7 .6 .7 .9z"/><path class=k205 d="M605.4 70.2l-.7-.9 7 .7 .7 .9z"/><path class=k201 d="M606.1 71.1l-.7-.9 7 .7 .7 1z"/><path class=k196 d="M606.7 72l-.6-.9 7 .8 .7 1z"/><path class=k191 d="M607.4 73l-.7-1 7.1 .9 .6 1.1z"/><path class=k187 d="M608.1 74l-.7-1 7 1 .7 1.1z"/><path class=k181 d="M608.8 75l-.7-1 7 1.1 .7 1z"/><path class=k176 d="M609.5 76l-.7-1 7 1.1 .7 1.1z"/><path class=k171 d="M610.1 77.1l-.6-1.1 7 1.2 .7 1.2z"/><path class=k165 d="M610.8 78.2l-.7-1.1 7.1 1.3 .6 1.1z"/><path class=k159 d="M611.5 79.4l-.7-1.2 7 1.3 .7 1.1z"/><path class=k153 d="M612.2 80.5l-.7-1.1 7 1.2 .7 1.1z"/><path class=k147 d="M612.9 81.7l-.7-1.2 7 1.2 .7 1.2z"/><path class=k142 d="M613.3 82.4l-.4-.7 7 1.2 .4 .7z"/><path class=k138 d="M613.8 83.2l-.5-.8 7 1.2 .5 .8z"/><path class=k134 d="M614.2 84l-.4-.8 7 1.2 .4 .7z"/><path class=k130 d="M614.7 84.8l-.5-.8 7 1.1 .5 .7z"/><path class=k125 d="M615.1 85.6l-.4-.8 7 1 .5 .7z"/><path class=k120 d="M615.8 86.7l-.7-1.1 7.1 .9 .6 1.1z"/><path class=k114 d="M616.5 87.9l-.7-1.2 7 .9 .7 1z"/><path class=k108 d="M617.2 89l-.7-1.1 7 .7 .7 1z"/><path class=k102 d="M617.9 90.1l-.7-1.1 7 .6 .7 .9z"/><path class=k97 d="M618.5 91.2l-.6-1.1 7 .4 .7 .9z"/><path class=k92 d="M619.2 92.2l-.7-1 7.1 .2 .6 .8z"/><path class=k87 d="M619.9 93.2l-.7-1 7 0 .7 .8z"/><path class=k82 d="M620.6 94.1l-.7-.9 7-.2 .7 .7z"/><path class=k78 d="M621.3 95l-.7-.9 7-.4 .7 .7z"/><path class=k74 d="M621.9 95.8l-.6-.8 7-.6 .7 .5z"/><path class=k70 d="M622.6 96.5l-.7-.7 7.1-.9 .6 .5z"/><path class=k215 d="M647.5 84.8l-.9 .6 7.1-3.5 .9-.4z"/><path class=k221 d="M648.5 84.3l-1 .5 7.1-3.3 .9-.3z"/><path class=k227 d="M649.4 83.9l-.9 .4 7-3.1 .9-.2z"/><path class=k232 d="M650.3 83.6l-.9 .3 7-2.9 .9-.2z"/><path class=k236 d="M651.2 83.3l-.9 .3 7-2.8 .9-.1z"/><path class=k240 d="M652.1 83.2l-.9 .1 7-2.6 .9 0z"/><path class=k243 d="M653 83.1l-.9 .1 7-2.5 .9 .1z"/><path class=k246 d="M653.9 83.1l-.9 0 7-2.3 .9 .1z"/><path class=k248 d="M654.8 83.1l-.9 0 7-2.2 .9 .2z"/><path class=k250 d="M655.7 83.3l-.9-.2 7-2 .9 .2z"/><path class=k251 d="M656.6 83.4l-.9-.1 7-2 .9 .2z"/><path class=k252 d="M657.5 83.6l-.9-.2 7-1.9 .9 .3z"/><path class=k253 d="M658.4 83.9l-.9-.3 7-1.8 .9 .3z"/><path class=k254 d="M660.7 84.6l-2.3-.7 7-1.8 2.3 .8z"/><path class=k254 d="M579.3 57l-5.4-2.3 7-1.6 5.4 2.4z"/><path class=k253 d="M582 58.2l-2.7-1.2 7-1.5 2.8 1.3z"/><path class=k252 d="M583.6 59l-1.6-.8 7.1-1.4 1.6 .9z"/><path class=k251 d="M585.2 59.8l-1.6-.8 7.1-1.3 1.5 .9z"/><path class=k250 d="M586.1 60.2l-.9-.4 7-1.2 .9 .5z"/><path class=k249 d="M587.3 60.9l-1.2-.7 7-1.1 1.2 .7z"/><path class=k248 d="M588.2 61.4l-.9-.5 7-1.1 .9 .6z"/><path class=k246 d="M589.1 61.9l-.9-.5 7-1 .9 .7z"/><path class=k245 d="M590 62.5l-.9-.6 7-.8 .9 .6z"/><path class=k244 d="M590.9 63.1l-.9-.6 7-.8 .9 .7z"/><path class=k242 d="M591.8 63.7l-.9-.6 7-.7 .9 .8z"/><path class=k240 d="M592.5 64.2l-.7-.5 7-.5 .7 .6z"/><path class=k238 d="M593.2 64.8l-.7-.6 7-.4 .7 .6z"/><path class=k236 d="M593.8 65.3l-.6-.5 7-.4 .7 .6z"/><path class=k234 d="M594.5 65.9l-.7-.6 7.1-.3 .6 .7z"/><path class=k232 d="M595.2 66.5l-.7-.6 7-.2 .7 .7z"/><path class=k230 d="M595.9 67.1l-.7-.6 7-.1 .7 .8z"/><path class=k227 d="M596.6 67.8l-.7-.7 7 .1 .7 .7z"/><path class=k224 d="M597.2 68.5l-.6-.7 7 .1 .7 .9z"/><path class=k221 d="M597.9 69.2l-.7-.7 7.1 .3 .6 .8z"/><path class=k218 d="M598.6 70l-.7-.8 7 .4 .7 .9z"/><path class=k214 d="M599.3 70.8l-.7-.8 7 .5 .7 .9z"/><path class=k211 d="M600 71.6l-.7-.8 7 .6 .7 .9z"/><path class=k207 d="M600.6 72.5l-.6-.9 7 .7 .7 1z"/><path class=k202 d="M601.3 73.4l-.7-.9 7.1 .8 .6 1z"/><path class=k198 d="M602 74.3l-.7-.9 7 .9 .7 1z"/><path class=k193 d="M602.7 75.3l-.7-1 7 1 .7 1.1z"/><path class=k188 d="M603.4 76.3l-.7-1 7 1.1 .7 1.1z"/><path class=k183 d="M604 77.3l-.6-1 7 1.2 .7 1.1z"/><path class=k177 d="M604.7 78.4l-.7-1.1 7.1 1.3 .6 1.1z"/><path class=k172 d="M605.4 79.5l-.7-1.1 7 1.3 .7 1.2z"/><path class=k166 d="M606.1 80.7l-.7-1.2 7 1.4 .7 1.1z"/><path class=k161 d="M606.5 81.4l-.4-.7 7 1.3 .4 .8z"/><path class=k157 d="M607 82.2l-.5-.8 7 1.4 .5 .8z"/><path class=k152 d="M607.4 83l-.4-.8 7 1.4 .5 .8z"/><path class=k148 d="M607.9 83.8l-.5-.8 7.1 1.4 .4 .8z"/><path class=k144 d="M608.3 84.6l-.4-.8 7 1.4 .5 .7z"/><path class=k140 d="M608.8 85.4l-.5-.8 7.1 1.3 .4 .8z"/><path class=k135 d="M609.2 86.2l-.4-.8 7 1.3 .5 .8z"/><path class=k131 d="M609.7 87l-.5-.8 7.1 1.3 .4 .7z"/><path class=k127 d="M610.2 87.8l-.5-.8 7 1.2 .5 .8z"/><path class=k122 d="M610.6 88.6l-.4-.8 7 1.2 .4 .7z"/><path class=k118 d="M611.1 89.5l-.5-.9 7 1.1 .5 .8z"/><path class=k114 d="M611.5 90.2l-.4-.7 7 1 .4 .7z"/><path class=k110 d="M612 91l-.5-.8 7 1 .5 .7z"/><path class=k105 d="M612.4 91.8l-.4-.8 7 .9 .4 .6z"/><path class=k100 d="M613.1 93l-.7-1.2 7 .7 .7 1z"/><path class=k95 d="M613.8 94.1l-.7-1.1 7 .5 .7 .9z"/><path class=k89 d="M614.5 95.1l-.7-1 7 .3 .7 .9z"/><path class=k84 d="M615.1 96.2l-.6-1.1 7 .2 .7 .8z"/><path class=k79 d="M615.8 97.1l-.7-.9 7.1-.1 .6 .7z"/><path class=k74 d="M616.5 98l-.7-.9 7-.3 .7 .6z"/><path class=k70 d="M617.2 98.9l-.7-.9 7-.6 .7 .6z"/><path class=k200 d="M640.5 88.7l-.7 .6 7.1-4 .6-.5z"/><path class=k220 d="M643.2 86.8l-.9 .6 7.1-3.5 .9-.3z"/><path class=k226 d="M644.2 86.3l-1 .5 7.1-3.2 .9-.3z"/><path class=k231 d="M645.1 86l-.9 .3 7-3 .9-.1z"/><path class=k236 d="M646 85.7l-.9 .3 7-2.8 .9-.1z"/><path class=k240 d="M646.9 85.5l-.9 .2 7-2.6 .9 0z"/><path class=k243 d="M647.8 85.4l-.9 .1 7-2.4 .9 0z"/><path class=k246 d="M648.7 85.4l-.9 0 7-2.3 .9 .2z"/><path class=k248 d="M649.6 85.5l-.9-.1 7-2.1 .9 .1z"/><path class=k250 d="M650.5 85.6l-.9-.1 7-2.1 .9 .2z"/><path class=k252 d="M651.4 85.7l-.9-.1 7-2 .9 .3z"/><path class=k252 d="M652.3 86l-.9-.3 7-1.8 .9 .3z"/><path class=k253 d="M653.2 86.2l-.9-.2 7-1.8 .9 .3z"/><path class=k254 d="M655.3 86.9l-2.1-.7 7-1.7 2.1 .7z"/><path class=k254 d="M575.5 59.9l-5.2-2.2 7-1.6 5.2 2.3z"/><path class=k253 d="M578 61l-2.5-1.1 7-1.5 2.5 1.2z"/><path class=k252 d="M579.8 61.9l-1.8-.9 7-1.4 1.8 1z"/><path class=k251 d="M581.2 62.6l-1.4-.7 7-1.3 1.4 .8z"/><path class=k250 d="M582.3 63.2l-1.1-.6 7-1.2 1.1 .7z"/><path class=k249 d="M583.2 63.7l-.9-.5 7-1.1 .9 .5z"/><path class=k248 d="M584.1 64.2l-.9-.5 7-1.1 .9 .7z"/><path class=k246 d="M585 64.7l-.9-.5 7-.9 .9 .6z"/><path class=k245 d="M585.9 65.3l-.9-.6 7-.8 .9 .7z"/><path class=k244 d="M586.8 65.9l-.9-.6 7-.7 .9 .7z"/><path class=k242 d="M587.7 66.6l-.9-.7 7-.6 .9 .8z"/><path class=k240 d="M588.4 67.1l-.7-.5 7-.5 .7 .6z"/><path class=k238 d="M589.1 67.6l-.7-.5 7-.4 .7 .6z"/><path class=k236 d="M589.8 68.2l-.7-.6 7-.3 .7 .7z"/><path class=k234 d="M590.4 68.8l-.6-.6 7-.2 .7 .7z"/><path class=k232 d="M591.1 69.4l-.7-.6 7.1-.1 .6 .8z"/><path class=k229 d="M591.8 70.1l-.7-.7 7 .1 .7 .7z"/><path class=k226 d="M592.5 70.7l-.7-.6 7 .1 .7 .8z"/><path class=k223 d="M593.2 71.5l-.7-.8 7 .3 .7 .9z"/><path class=k220 d="M593.8 72.2l-.6-.7 7 .4 .7 .9z"/><path class=k216 d="M594.5 73l-.7-.8 7.1 .6 .6 .9z"/><path class=k213 d="M595.2 73.9l-.7-.9 7 .7 .7 .9z"/><path class=k209 d="M595.9 74.7l-.7-.8 7 .7 .7 1z"/><path class=k204 d="M596.6 75.6l-.7-.9 7 .9 .7 1z"/><path class=k200 d="M597.2 76.6l-.6-1 7 1 .7 1.1z"/><path class=k195 d="M597.9 77.6l-.7-1 7.1 1.1 .6 1.1z"/><path class=k190 d="M598.6 78.6l-.7-1 7 1.2 .7 1.1z"/><path class=k184 d="M599.3 79.7l-.7-1.1 7 1.3 .7 1.1z"/><path class=k179 d="M600 80.8l-.7-1.1 7 1.3 .7 1.2z"/><path class=k174 d="M600.4 81.5l-.4-.7 7 1.4 .4 .8z"/><path class=k170 d="M600.9 82.3l-.5-.8 7 1.5 .5 .8z"/><path class=k166 d="M601.3 83.1l-.4-.8 7 1.5 .4 .8z"/><path class=k161 d="M601.8 83.9l-.5-.8 7 1.5 .5 .8z"/><path class=k157 d="M602.2 84.7l-.4-.8 7 1.5 .4 .8z"/><path class=k153 d="M602.7 85.5l-.5-.8 7 1.5 .5 .8z"/><path class=k148 d="M603.1 86.3l-.4-.8 7 1.5 .5 .8z"/><path class=k144 d="M603.6 87.2l-.5-.9 7.1 1.5 .4 .8z"/><path class=k140 d="M604 88l-.4-.8 7 1.4 .5 .9z"/><path class=k135 d="M604.5 88.8l-.5-.8 7.1 1.5 .4 .7z"/><path class=k130 d="M605 89.7l-.5-.9 7 1.4 .5 .8z"/><path class=k126 d="M605.4 90.5l-.4-.8 7 1.3 .4 .8z"/><path class=k121 d="M605.9 91.4l-.5-.9 7 1.3 .5 .8z"/><path class=k117 d="M606.3 92.2l-.4-.8 7 1.2 .4 .7z"/><path class=k112 d="M606.8 93l-.5-.8 7 1.1 .5 .8z"/><path class=k108 d="M607.2 93.8l-.4-.8 7 1.1 .4 .7z"/><path class=k104 d="M607.7 94.7l-.5-.9 7 1 .5 .7z"/><path class=k99 d="M608.1 95.5l-.4-.8 7 .8 .4 .7z"/><path class=k95 d="M608.6 96.2l-.5-.7 7 .7 .5 .6z"/><path class=k90 d="M609.3 97.4l-.7-1.2 7 .6 .7 .9z"/><path class=k84 d="M609.9 98.5l-.6-1.1 7 .3 .7 .9z"/><path class=k79 d="M610.6 99.5l-.7-1 7.1 .1 .6 .8z"/><path class=k74 d="M611.3 100.5l-.7-1 7-.1 .7 .7z"/><path class=k69 d="M612 101.4l-.7-.9 7-.4 .7 .7z"/><path class=k68 d="M622 105.1l-1 .4 7.1-4.2 .9-.7z"/><path class=k74 d="M622.9 104.5l-.9 .6 7-4.5 .9-.7z"/><path class=k216 d="M637.6 89.6l-.9 .6 7-3.6 .9-.5z"/><path class=k222 d="M638.5 89l-.9 .6 7-3.5 .9-.3z"/><path class=k228 d="M639.4 88.6l-.9 .4 7-3.2 .9-.2z"/><path class=k234 d="M640.3 88.2l-.9 .4 7-3 .9-.1z"/><path class=k238 d="M641.2 88l-.9 .2 7-2.7 .9-.1z"/><path class=k242 d="M642.1 87.8l-.9 .2 7-2.6 .9 0z"/><path class=k245 d="M643 87.7l-.9 .1 7-2.4 .9 .1z"/><path class=k248 d="M643.9 87.7l-.9 0 7-2.2 1 .2z"/><path class=k250 d="M644.8 87.8l-.9-.1 7.1-2 .9 .1z"/><path class=k251 d="M645.8 88l-1-.2 7.1-2 .9 .3z"/><path class=k252 d="M646.7 88.2l-.9-.2 7-1.9 .9 .3z"/><path class=k253 d="M647.6 88.4l-.9-.2 7-1.8 .9 .3z"/><path class=k254 d="M649.6 89.1l-2-.7 7-1.7 2 .7z"/><path class=k254 d="M571.9 62.9l-5.2-2.2 7-1.6 5.2 2.3z"/><path class=k253 d="M574.4 64l-2.5-1.1 7-1.5 2.5 1.3z"/><path class=k252 d="M575.9 64.8l-1.5-.8 7-1.3 1.6 .8z"/><path class=k251 d="M577.3 65.5l-1.4-.7 7.1-1.3 1.3 .8z"/><path class=k250 d="M578.2 66l-.9-.5 7-1.2 .9 .6z"/><path class=k249 d="M579.1 66.5l-.9-.5 7-1.1 .9 .6z"/><path class=k248 d="M580 67l-.9-.5 7-1 .9 .6z"/><path class=k247 d="M580.9 67.5l-.9-.5 7-.9 1 .6z"/><path class=k245 d="M581.8 68.1l-.9-.6 7.1-.8 .9 .7z"/><path class=k244 d="M582.7 68.8l-.9-.7 7.1-.7 .9 .8z"/><path class=k242 d="M583.4 69.2l-.7-.4 7.1-.6 .6 .6z"/><path class=k240 d="M584.1 69.8l-.7-.6 7-.4 .7 .6z"/><path class=k238 d="M584.8 70.3l-.7-.5 7-.4 .7 .7z"/><path class=k236 d="M585.5 70.9l-.7-.6 7-.2 .7 .6z"/><path class=k234 d="M586.1 71.5l-.6-.6 7-.2 .7 .8z"/><path class=k232 d="M586.8 72.1l-.7-.6 7.1 0 .6 .7z"/><path class=k229 d="M587.5 72.8l-.7-.7 7 .1 .7 .8z"/><path class=k226 d="M588.2 73.5l-.7-.7 7 .2 .7 .9z"/><path class=k223 d="M588.9 74.2l-.7-.7 7 .4 .7 .8z"/><path class=k220 d="M589.5 75l-.6-.8 7 .5 .7 .9z"/><path class=k216 d="M590.2 75.8l-.7-.8 7.1 .6 .6 1z"/><path class=k212 d="M590.9 76.7l-.7-.9 7 .8 .7 1z"/><path class=k208 d="M591.6 77.6l-.7-.9 7 .9 .7 1z"/><path class=k203 d="M592.3 78.5l-.7-.9 7 1 .7 1.1z"/><path class=k198 d="M592.9 79.5l-.6-1 7 1.2 .7 1.1z"/><path class=k193 d="M593.6 80.5l-.7-1 7.1 1.3 .6 1.1z"/><path class=k188 d="M594.3 81.6l-.7-1.1 7 1.4 .7 1.2z"/><path class=k183 d="M594.8 82.3l-.5-.7 7 1.5 .5 .8z"/><path class=k179 d="M595.2 83.1l-.4-.8 7 1.6 .4 .8z"/><path class=k175 d="M595.7 83.9l-.5-.8 7 1.6 .5 .8z"/><path class=k171 d="M596.1 84.7l-.4-.8 7 1.6 .4 .8z"/><path class=k167 d="M596.6 85.5l-.5-.8 7 1.6 .5 .9z"/><path class=k162 d="M597 86.3l-.4-.8 7 1.7 .4 .8z"/><path class=k158 d="M597.5 87.1l-.5-.8 7 1.7 .5 .8z"/><path class=k153 d="M597.9 88l-.4-.9 7 1.7 .5 .9z"/><path class=k149 d="M598.4 88.8l-.5-.8 7.1 1.7 .4 .8z"/><path class=k144 d="M598.8 89.7l-.4-.9 7 1.7 .5 .9z"/><path class=k139 d="M599.3 90.6l-.5-.9 7.1 1.7 .4 .8z"/><path class=k134 d="M599.7 91.4l-.4-.8 7 1.6 .5 .8z"/><path class=k130 d="M600.2 92.3l-.5-.9 7.1 1.6 .4 .8z"/><path class=k125 d="M600.7 93.2l-.5-.9 7 1.5 .5 .9z"/><path class=k120 d="M601.1 94.1l-.4-.9 7 1.5 .4 .8z"/><path class=k116 d="M601.6 94.9l-.5-.8 7 1.4 .5 .7z"/><path class=k110 d="M602 95.8l-.4-.9 7 1.3 .4 .8z"/><path class=k106 d="M602.5 96.7l-.5-.9 7 1.2 .5 .7z"/><path class=k102 d="M602.9 97.5l-.4-.8 7 1 .4 .8z"/><path class=k97 d="M603.4 98.3l-.5-.8 7 1 .5 .7z"/><path class=k92 d="M603.8 99.2l-.4-.9 7 .9 .4 .6z"/><path class=k88 d="M604.3 100l-.5-.8 7 .6 .5 .7z"/><path class=k83 d="M605 101.1l-.7-1.1 7 .5 .7 .9z"/><path class=k77 d="M605.6 102.2l-.6-1.1 7 .3 .7 .8z"/><path class=k72 d="M606.3 103.3l-.7-1.1 7.1 0 .6 .8z"/><path class=k59 d="M616.3 108.5l-.9 .4 7-4.1 .9-.6z"/><path class=k64 d="M617.2 108.1l-.9 .4 7-4.3 .9-.7z"/><path class=k70 d="M617.9 107.6l-.7 .5 7-4.6 .7-.6z"/><path class=k75 d="M618.6 107.1l-.7 .5 7-4.7 .7-.7z"/><path class=k81 d="M619.2 106.5l-.6 .6 7-4.9 .7-.7z"/><path class=k222 d="M633.3 91.4l-.9 .6 7-3.4 .9-.4z"/><path class=k228 d="M634.2 90.9l-.9 .5 7-3.2 .9-.2z"/><path class=k234 d="M635.1 90.6l-.9 .3 7-2.9 .9-.2z"/><path class=k238 d="M636 90.3l-.9 .3 7-2.8 .9-.1z"/><path class=k242 d="M636.9 90.1l-.9 .2 7-2.6 .9 0z"/><path class=k245 d="M637.8 90l-.9 .1 7-2.4 .9 .1z"/><path class=k248 d="M638.7 90.1l-.9-.1 7-2.2 1 .2z"/><path class=k250 d="M639.6 90.1l-.9 0 7.1-2.1 .9 .2z"/><path class=k252 d="M640.5 90.3l-.9-.2 7.1-1.9 .9 .2z"/><path class=k252 d="M641.5 90.5l-1-.2 7.1-1.9 .9 .3z"/><path class=k254 d="M642.4 90.7l-.9-.2 7-1.8 .9 .3z"/><path class=k254 d="M643.9 91.3l-1.5-.6 7-1.7 1.6 .6z"/><path class=k254 d="M568 65.8l-5-2.1 7.1-1.6 4.9 2.2z"/><path class=k253 d="M570.5 66.9l-2.5-1.1 7-1.5 2.5 1.3z"/><path class=k252 d="M572.1 67.7l-1.6-.8 7-1.3 1.6 .9z"/><path class=k251 d="M573.2 68.3l-1.1-.6 7-1.2 1.2 .6z"/><path class=k250 d="M574.4 68.9l-1.2-.6 7.1-1.2 1.1 .7z"/><path class=k249 d="M575.3 69.4l-.9-.5 7-1.1 .9 .6z"/><path class=k248 d="M576.2 69.9l-.9-.5 7-1 .9 .7z"/><path class=k246 d="M577.1 70.5l-.9-.6 7-.8 .9 .7z"/><path class=k245 d="M578 71.1l-.9-.6 7-.7 .9 .7z"/><path class=k243 d="M578.9 71.7l-.9-.6 7-.6 .9 .8z"/><path class=k241 d="M579.6 72.2l-.7-.5 7-.4 .7 .6z"/><path class=k239 d="M580.3 72.8l-.7-.6 7-.3 .7 .6z"/><path class=k237 d="M580.9 73.3l-.6-.5 7-.3 .7 .7z"/><path class=k235 d="M581.6 73.9l-.7-.6 7.1-.1 .6 .8z"/><path class=k233 d="M582.3 74.6l-.7-.7 7 .1 .7 .7z"/><path class=k230 d="M583 75.2l-.7-.6 7 .1 .7 .8z"/><path class=k227 d="M583.7 75.9l-.7-.7 7 .3 .7 .9z"/><path class=k224 d="M584.3 76.7l-.6-.8 7 .5 .7 .9z"/><path class=k221 d="M585 77.5l-.7-.8 7.1 .6 .6 .9z"/><path class=k217 d="M585.7 78.3l-.7-.8 7 .7 .7 1z"/><path class=k213 d="M586.4 79.2l-.7-.9 7 .9 .7 1z"/><path class=k209 d="M587.1 80.1l-.7-.9 7 1 .7 1z"/><path class=k204 d="M587.7 81.1l-.6-1 7 1.1 .7 1.1z"/><path class=k199 d="M588.4 82.1l-.7-1 7.1 1.2 .6 1.2z"/><path class=k194 d="M588.9 82.8l-.5-.7 7 1.4 .5 .8z"/><path class=k191 d="M589.3 83.5l-.4-.7 7 1.5 .4 .8z"/><path class=k187 d="M589.8 84.3l-.5-.8 7 1.6 .5 .8z"/><path class=k183 d="M590.2 85l-.4-.7 7 1.6 .5 .8z"/><path class=k179 d="M590.7 85.8l-.5-.8 7.1 1.7 .4 .9z"/><path class=k174 d="M591.1 86.6l-.4-.8 7 1.8 .5 .8z"/><path class=k170 d="M591.6 87.4l-.5-.8 7.1 1.8 .4 .9z"/><path class=k166 d="M592 88.3l-.4-.9 7 1.9 .5 .8z"/><path class=k161 d="M592.5 89.1l-.5-.8 7.1 1.8 .4 .9z"/><path class=k156 d="M593 90l-.5-.9 7 1.9 .5 .9z"/><path class=k152 d="M593.4 90.9l-.4-.9 7 1.9 .4 .9z"/><path class=k146 d="M593.9 91.8l-.5-.9 7 1.9 .5 .8z"/><path class=k142 d="M594.3 92.7l-.4-.9 7 1.8 .4 .9z"/><path class=k136 d="M594.8 93.6l-.5-.9 7 1.8 .5 .9z"/><path class=k132 d="M595.2 94.5l-.4-.9 7 1.8 .4 .8z"/><path class=k126 d="M595.7 95.4l-.5-.9 7 1.7 .5 .9z"/><path class=k122 d="M596.1 96.3l-.4-.9 7 1.7 .4 .8z"/><path class=k116 d="M596.6 97.2l-.5-.9 7 1.6 .5 .9z"/><path class=k112 d="M597 98.2l-.4-1 7 1.6 .5 .8z"/><path class=k106 d="M597.5 99.1l-.5-.9 7.1 1.4 .4 .7z"/><path class=k102 d="M597.9 100l-.4-.9 7 1.2 .5 .8z"/><path class=k97 d="M598.4 100.8l-.5-.8 7.1 1.1 .4 .8z"/><path class=k92 d="M598.8 101.7l-.4-.9 7 1.1 .5 .7z"/><path class=k88 d="M599.3 102.5l-.5-.8 7.1 .9 .4 .7z"/><path class=k83 d="M599.8 103.4l-.5-.9 7 .8 .5 .6z"/><path class=k79 d="M600.2 104.2l-.4-.8 7 .5 .4 .6z"/><path class=k74 d="M600.9 105.3l-.7-1.1 7 .3 .7 .9z"/><path class=k62 d="M612.4 111.1l-.6 .4 7-4.6 .7-.6z"/><path class=k67 d="M613.1 110.6l-.7 .5 7.1-4.8 .6-.6z"/><path class=k72 d="M613.8 110l-.7 .6 7-4.9 .7-.7z"/><path class=k78 d="M614.5 109.4l-.7 .6 7-5 .7-.8z"/><path class=k85 d="M615.2 108.7l-.7 .7 7-5.2 .7-.7z"/><path class=k91 d="M615.8 108l-.6 .7 7-5.2 .7-.8z"/><path class=k98 d="M616.5 107.2l-.7 .8 7.1-5.3 .6-.9z"/><path class=k106 d="M617.2 106.4l-.7 .8 7-5.4 .7-.8z"/><path class=k211 d="M626.7 94.9l-.7 .6 7.1-3.9 .6-.4z"/><path class=k218 d="M627.6 94.2l-.9 .7 7-3.7 1-.5z"/><path class=k225 d="M628.5 93.6l-.9 .6 7.1-3.5 .9-.3z"/><path class=k231 d="M629.4 93.1l-.9 .5 7.1-3.2 .9-.2z"/><path class=k236 d="M630.4 92.8l-1 .3 7.1-2.9 .9-.1z"/><path class=k240 d="M631.3 92.5l-.9 .3 7-2.7 .9-.1z"/><path class=k244 d="M632.2 92.4l-.9 .1 7-2.5 .9 .1z"/><path class=k247 d="M633.1 92.3l-.9 .1 7-2.3 .9 .1z"/><path class=k249 d="M634 92.4l-.9-.1 7-2.1 .9 .2z"/><path class=k251 d="M634.9 92.5l-.9-.1 7-2 .9 .2z"/><path class=k252 d="M635.8 92.7l-.9-.2 7-1.9 .9 .3z"/><path class=k253 d="M636.7 92.9l-.9-.2 7-1.8 .9 .3z"/><path class=k254 d="M638.3 93.4l-1.6-.5 7-1.7 1.6 .6z"/><path class=k254 d="M564.4 68.8l-4.8-2 7.1-1.6 4.7 2.2z"/><path class=k253 d="M566.7 69.8l-2.3-1 7-1.4 2.3 1.1z"/><path class=k252 d="M568.3 70.6l-1.6-.8 7-1.3 1.6 .9z"/><path class=k251 d="M569.4 71.2l-1.1-.6 7-1.2 1.1 .7z"/><path class=k250 d="M570.5 71.8l-1.1-.6 7-1.1 1.1 .7z"/><path class=k249 d="M571.4 72.3l-.9-.5 7-1 .9 .6z"/><path class=k248 d="M572.3 72.8l-.9-.5 7-.9 1 .7z"/><path class=k246 d="M573.2 73.4l-.9-.6 7.1-.7 .9 .7z"/><path class=k244 d="M574.2 74l-1-.6 7.1-.6 .9 .7z"/><path class=k243 d="M574.8 74.5l-.6-.5 7-.5 .6 .6z"/><path class=k241 d="M575.5 75.1l-.7-.6 7-.4 .7 .7z"/><path class=k239 d="M576.2 75.6l-.7-.5 7-.3 .7 .7z"/><path class=k237 d="M576.9 76.2l-.7-.6 7-.1 .7 .7z"/><path class=k235 d="M577.6 76.8l-.7-.6 7 0 .7 .7z"/><path class=k232 d="M578.2 77.4l-.6-.6 7 .1 .6 .8z"/><path class=k230 d="M578.9 78.1l-.7-.7 7 .3 .7 .9z"/><path class=k227 d="M579.6 78.9l-.7-.8 7 .5 .7 .9z"/><path class=k223 d="M580.3 79.7l-.7-.8 7 .6 .7 .9z"/><path class=k219 d="M581 80.5l-.7-.8 7 .7 .7 1z"/><path class=k215 d="M581.6 81.3l-.6-.8 7 .9 .6 1z"/><path class=k211 d="M582.3 82.3l-.7-1 7 1.1 .7 1.1z"/><path class=k206 d="M583 83.3l-.7-1 7 1.2 .7 1.1z"/><path class=k201 d="M583.7 84.3l-.7-1 7 1.3 .7 1.2z"/><path class=k197 d="M584.1 85l-.4-.7 7 1.5 .4 .8z"/><path class=k193 d="M584.6 85.7l-.5-.7 7 1.6 .5 .8z"/><path class=k189 d="M585 86.5l-.4-.8 7 1.7 .4 .9z"/><path class=k185 d="M585.5 87.3l-.5-.8 7 1.8 .5 .8z"/><path class=k180 d="M585.9 88.1l-.4-.8 7 1.8 .5 .9z"/><path class=k176 d="M586.4 88.9l-.5-.8 7.1 1.9 .4 .9z"/><path class=k172 d="M586.8 89.8l-.4-.9 7 2 .5 .9z"/><path class=k167 d="M587.3 90.6l-.5-.8 7.1 2 .4 .9z"/><path class=k162 d="M587.8 91.5l-.5-.9 7 2.1 .5 .9z"/><path class=k157 d="M588.2 92.4l-.4-.9 7 2.1 .4 .9z"/><path class=k152 d="M588.7 93.3l-.5-.9 7 2.1 .5 .9z"/><path class=k147 d="M589.1 94.3l-.4-1 7 2.1 .4 .9z"/><path class=k142 d="M589.6 95.2l-.5-.9 7 2 .5 .9z"/><path class=k136 d="M590 96.2l-.4-1 7 2 .4 1z"/><path class=k131 d="M590.5 97.1l-.5-.9 7 2 .5 .9z"/><path class=k126 d="M590.9 98.1l-.4-1 7 2 .4 .9z"/><path class=k120 d="M591.4 99l-.5-.9 7 1.9 .5 .8z"/><path class=k115 d="M591.8 100l-.4-1 7 1.8 .4 .9z"/><path class=k110 d="M592.3 101l-.5-1 7 1.7 .5 .8z"/><path class=k104 d="M592.7 101.9l-.4-.9 7 1.5 .5 .9z"/><path class=k100 d="M593.2 102.8l-.5-.9 7.1 1.5 .4 .8z"/><path class=k94 d="M593.6 103.8l-.4-1 7 1.4 .5 .7z"/><path class=k89 d="M594.1 104.7l-.5-.9 7.1 1.1 .4 .8z"/><path class=k84 d="M594.6 105.5l-.5-.8 7 1 .5 .7z"/><path class=k80 d="M595 106.4l-.4-.9 7 .9 .4 .6z"/><path class=k75 d="M595.5 107.2l-.5-.8 7 .6 .5 .7z"/><path class=k52 d="M606.8 114.6l-.9 .5 7-4.4 .9-.7z"/><path class=k57 d="M607.5 114.2l-.7 .4 7-4.6 .7-.6z"/><path class=k62 d="M608.2 113.7l-.7 .5 7-4.8 .7-.7z"/><path class=k68 d="M608.8 113.1l-.6 .6 7-5 .6-.7z"/><path class=k74 d="M609.5 112.5l-.7 .6 7-5.1 .7-.8z"/><path class=k80 d="M610.2 111.8l-.7 .7 7-5.3 .7-.8z"/><path class=k87 d="M610.9 111.1l-.7 .7 7-5.4 .7-.8z"/><path class=k95 d="M611.6 110.2l-.7 .9 7-5.5 .7-.9z"/><path class=k102 d="M612.2 109.4l-.6 .8 7-5.5 .6-.9z"/><path class=k110 d="M612.9 108.5l-.7 .9 7-5.6 .7-.9z"/><path class=k118 d="M613.6 107.6l-.7 .9 7-5.6 .7-.9z"/><path class=k143 d="M615.6 104.7l-.6 1 7-5.5 .6-.9z"/><path class=k168 d="M617.7 101.9l-.7 .9 7-5.2 .7-.7z"/><path class=k212 d="M621.8 97.2l-.7 .6 7-3.9 .7-.4z"/><path class=k219 d="M622.7 96.5l-.9 .7 7-3.7 .9-.5z"/><path class=k226 d="M623.6 95.8l-.9 .7 7-3.5 .9-.3z"/><path class=k232 d="M624.5 95.4l-.9 .4 7-3.1 .9-.2z"/><path class=k238 d="M625.4 95l-.9 .4 7-2.9 .9-.1z"/><path class=k242 d="M626.3 94.8l-.9 .2 7-2.6 .9-.1z"/><path class=k245 d="M627.2 94.6l-.9 .2 7-2.5 .9 .1z"/><path class=k248 d="M628.1 94.6l-.9 0 7-2.2 .9 .2z"/><path class=k250 d="M629 94.7l-.9-.1 7-2 .9 .2z"/><path class=k252 d="M629.9 94.9l-.9-.2 7-1.9 .9 .2z"/><path class=k253 d="M630.8 95.1l-.9-.2 7-1.9 .9 .3z"/><path class=k254 d="M632.4 95.5l-1.6-.4 7-1.8 1.6 .5z"/><path class=k254 d="M560.8 71.8l-4.5-2 7-1.5 4.5 2.1z"/><path class=k253 d="M563.1 72.8l-2.3-1 7-1.4 2.3 1.1z"/><path class=k252 d="M564.6 73.6l-1.5-.8 7-1.3 1.6 .9z"/><path class=k251 d="M565.8 74.2l-1.2-.6 7.1-1.2 1.1 .7z"/><path class=k250 d="M566.7 74.7l-.9-.5 7-1.1 .9 .6z"/><path class=k249 d="M567.6 75.2l-.9-.5 7-1 .9 .7z"/><path class=k248 d="M568.5 75.8l-.9-.6 7-.8 .9 .7z"/><path class=k246 d="M569.4 76.4l-.9-.6 7-.7 .9 .7z"/><path class=k245 d="M570.1 76.8l-.7-.4 7-.6 .7 .6z"/><path class=k243 d="M570.8 77.3l-.7-.5 7-.4 .7 .6z"/><path class=k241 d="M571.4 77.9l-.6-.6 7-.3 .7 .7z"/><path class=k239 d="M572.1 78.4l-.7-.5 7.1-.2 .6 .7z"/><path class=k237 d="M572.8 79l-.7-.6 7 0 .7 .7z"/><path class=k235 d="M573.5 79.6l-.7-.6 7 .1 .7 .8z"/><path class=k232 d="M574.2 80.3l-.7-.7 7 .3 .7 .9z"/><path class=k229 d="M574.8 81l-.6-.7 7 .5 .7 .9z"/><path class=k226 d="M575.5 81.8l-.7-.8 7.1 .7 .6 .9z"/><path class=k222 d="M576.2 82.6l-.7-.8 7 .8 .7 1z"/><path class=k218 d="M576.9 83.5l-.7-.9 7 1 .7 1z"/><path class=k214 d="M577.6 84.4l-.7-.9 7 1.1 .7 1.1z"/><path class=k209 d="M578.2 85.4l-.6-1 7 1.3 .7 1.2z"/><path class=k205 d="M578.7 86.1l-.5-.7 7.1 1.5 .4 .8z"/><path class=k201 d="M579.1 86.8l-.4-.7 7 1.6 .5 .8z"/><path class=k197 d="M579.6 87.5l-.5-.7 7.1 1.7 .4 .8z"/><path class=k193 d="M580.1 88.3l-.5-.8 7 1.8 .5 .9z"/><path class=k189 d="M580.5 89.1l-.4-.8 7 1.9 .4 .9z"/><path class=k185 d="M581 89.9l-.5-.8 7 2 .5 .9z"/><path class=k180 d="M581.4 90.8l-.4-.9 7 2.1 .4 .9z"/><path class=k176 d="M581.9 91.6l-.5-.8 7 2.1 .5 .9z"/><path class=k171 d="M582.3 92.5l-.4-.9 7 2.2 .4 .9z"/><path class=k166 d="M582.8 93.4l-.5-.9 7 2.2 .5 1z"/><path class=k160 d="M583.2 94.4l-.4-1 7 2.3 .4 .9z"/><path class=k156 d="M583.7 95.3l-.5-.9 7 2.2 .5 1z"/><path class=k150 d="M584.1 96.3l-.4-1 7 2.3 .5 1z"/><path class=k144 d="M584.6 97.3l-.5-1 7.1 2.3 .4 .9z"/><path class=k139 d="M585 98.3l-.4-1 7 2.2 .5 1z"/><path class=k134 d="M585.5 99.3l-.5-1 7.1 2.2 .4 .9z"/><path class=k128 d="M585.9 100.3l-.4-1 7 2.1 .5 1z"/><path class=k122 d="M586.4 101.3l-.5-1 7.1 2.1 .4 .9z"/><path class=k116 d="M586.9 102.3l-.5-1 7 2 .5 .9z"/><path class=k110 d="M587.3 103.3l-.4-1 7 1.9 .4 .9z"/><path class=k105 d="M587.8 104.3l-.5-1 7 1.8 .5 .9z"/><path class=k100 d="M588.2 105.3l-.4-1 7 1.7 .4 .8z"/><path class=k94 d="M588.7 106.3l-.5-1 7 1.5 .5 .8z"/><path class=k88 d="M589.1 107.2l-.4-.9 7 1.3 .4 .8z"/><path class=k84 d="M589.6 108.1l-.5-.9 7 1.2 .5 .8z"/><path class=k78 d="M590 109l-.4-.9 7 1.1 .4 .7z"/><path class=k74 d="M590.5 109.9l-.5-.9 7 .9 .5 .7z"/><path class=k42 d="M600.9 118.3l-.9 .2 7-4 .9-.6z"/><path class=k52 d="M602.5 117.4l-.7 .4 7-4.7 .7-.6z"/><path class=k57 d="M603.2 116.9l-.7 .5 7-4.9 .7-.7z"/><path class=k63 d="M603.9 116.3l-.7 .6 7-5.1 .7-.7z"/><path class=k69 d="M604.5 115.7l-.6 .6 7-5.2 .7-.9z"/><path class=k76 d="M605.2 114.9l-.7 .8 7.1-5.5 .6-.8z"/><path class=k83 d="M605.9 114.1l-.7 .8 7-5.5 .7-.9z"/><path class=k90 d="M606.6 113.3l-.7 .8 7-5.6 .7-.9z"/><path class=k98 d="M607.3 112.4l-.7 .9 7-5.7 .7-1z"/><path class=k106 d="M607.9 111.5l-.6 .9 7-5.8 .7-.9z"/><path class=k115 d="M608.6 110.5l-.7 1 7.1-5.8 .6-1z"/><path class=k123 d="M609.3 109.5l-.7 1 7-5.8 .7-.9z"/><path class=k132 d="M610 108.5l-.7 1 7-5.7 .7-1z"/><path class=k232 d="M619.3 97.7l-.9 .5 7-3.2 .9-.2z"/><path class=k238 d="M620.2 97.3l-.9 .4 7-2.9 .9-.2z"/><path class=k242 d="M621.1 97l-.9 .3 7-2.7 .9 0z"/><path class=k246 d="M622 96.9l-.9 .1 7-2.4 .9 .1z"/><path class=k249 d="M622.9 96.9l-.9 0 7-2.2 .9 .2z"/><path class=k251 d="M623.8 97l-.9-.1 7-2 .9 .2z"/><path class=k252 d="M624.7 97.2l-.9-.2 7-1.9 .9 .2z"/><path class=k254 d="M625.6 97.4l-.9-.2 7-1.9 .9 .3z"/><path class=k254 d="M626.7 97.7l-1.1-.3 7-1.8 1.2 .4z"/><path class=k254 d="M557.4 74.9l-4.5-2 7-1.5 4.5 2.1z"/><path class=k253 d="M559.4 75.8l-2-.9 7-1.4 2.1 1z"/><path class=k252 d="M560.8 76.5l-1.4-.7 7.1-1.3 1.3 .8z"/><path class=k251 d="M561.9 77.1l-1.1-.6 7-1.2 1.1 .8z"/><path class=k250 d="M562.8 77.6l-.9-.5 7-1 1 .6z"/><path class=k249 d="M563.7 78.1l-.9-.5 7.1-.9 .9 .6z"/><path class=k248 d="M564.6 78.7l-.9-.6 7.1-.8 .9 .7z"/><path class=k246 d="M565.6 79.3l-1-.6 7.1-.7 .9 .8z"/><path class=k244 d="M566.2 79.8l-.6-.5 7-.5 .7 .6z"/><path class=k243 d="M566.9 80.3l-.7-.5 7.1-.4 .6 .7z"/><path class=k241 d="M567.6 80.8l-.7-.5 7-.2 .7 .7z"/><path class=k239 d="M568.3 81.4l-.7-.6 7 0 .7 .7z"/><path class=k236 d="M569 82l-.7-.6 7 .1 .7 .8z"/><path class=k234 d="M569.6 82.7l-.6-.7 7 .3 .7 .9z"/><path class=k231 d="M570.3 83.4l-.7-.7 7.1 .5 .6 .9z"/><path class=k228 d="M571 84.2l-.7-.8 7 .7 .7 1z"/><path class=k224 d="M571.7 85l-.7-.8 7 .9 .7 1z"/><path class=k220 d="M572.4 85.9l-.7-.9 7 1.1 .7 1.1z"/><path class=k215 d="M573 86.8l-.6-.9 7 1.3 .7 1.1z"/><path class=k211 d="M573.5 87.5l-.5-.7 7.1 1.5 .4 .8z"/><path class=k208 d="M573.9 88.2l-.4-.7 7 1.6 .5 .8z"/><path class=k204 d="M574.4 88.9l-.5-.7 7.1 1.7 .4 .9z"/><path class=k200 d="M574.8 89.7l-.4-.8 7 1.9 .5 .8z"/><path class=k196 d="M575.3 90.4l-.5-.7 7.1 1.9 .4 .9z"/><path class=k192 d="M575.8 91.3l-.5-.9 7 2.1 .5 .9z"/><path class=k188 d="M576.2 92.1l-.4-.8 7 2.1 .4 1z"/><path class=k182 d="M576.7 93l-.5-.9 7 2.3 .5 .9z"/><path class=k178 d="M577.1 93.9l-.4-.9 7 2.3 .4 1z"/><path class=k172 d="M577.6 94.8l-.5-.9 7 2.4 .5 1z"/><path class=k168 d="M578 95.8l-.4-1 7 2.5 .4 1z"/><path class=k162 d="M578.5 96.7l-.5-.9 7 2.5 .5 1z"/><path class=k156 d="M578.9 97.7l-.4-1 7 2.6 .4 1z"/><path class=k150 d="M579.4 98.7l-.5-1 7 2.6 .5 1z"/><path class=k144 d="M579.8 99.8l-.4-1.1 7 2.6 .5 1z"/><path class=k138 d="M580.3 100.8l-.5-1 7.1 2.5 .4 1z"/><path class=k132 d="M580.7 101.9l-.4-1.1 7 2.5 .5 1z"/><path class=k126 d="M581.2 102.9l-.5-1 7.1 2.4 .4 1z"/><path class=k120 d="M581.6 104l-.4-1.1 7 2.4 .5 1z"/><path class=k114 d="M582.1 105.1l-.5-1.1 7.1 2.3 .4 .9z"/><path class=k108 d="M582.6 106.1l-.5-1 7 2.1 .5 .9z"/><path class=k102 d="M583 107.2l-.4-1.1 7 2 .4 .9z"/><path class=k96 d="M583.5 108.2l-.5-1 7 1.8 .5 .9z"/><path class=k91 d="M583.9 109.2l-.4-1 7 1.7 .4 .9z"/><path class=k86 d="M584.4 110.2l-.5-1 7 1.6 .5 .8z"/><path class=k80 d="M584.8 111.2l-.4-1 7 1.4 .4 .8z"/><path class=k74 d="M585.3 112.2l-.5-1 7 1.2 .5 .7z"/><path class=k34 d="M595.2 121.7l-.9 .1 7.1-3.7 .9-.5z"/><path class=k43 d="M597.1 120.9l-.9 .5 7-4.5 .9-.8z"/><path class=k48 d="M597.7 120.5l-.6 .4 7-4.8 .7-.7z"/><path class=k54 d="M598.4 119.9l-.7 .6 7.1-5.1 .6-.7z"/><path class=k60 d="M599.1 119.3l-.7 .6 7-5.2 .7-.8z"/><path class=k66 d="M599.8 118.6l-.7 .7 7-5.4 .7-.9z"/><path class=k73 d="M600.5 117.8l-.7 .8 7-5.6 .7-.9z"/><path class=k81 d="M601.1 117l-.6 .8 7-5.7 .7-.9z"/><path class=k88 d="M601.8 116.1l-.7 .9 7.1-5.8 .6-1z"/><path class=k97 d="M602.5 115.2l-.7 .9 7-5.9 .7-1z"/><path class=k105 d="M603.2 114.2l-.7 1 7-6 .7-1.1z"/><path class=k114 d="M603.9 113.1l-.7 1.1 7-6.1 .7-1z"/><path class=k123 d="M604.5 112l-.6 1.1 7-6 .7-1z"/><path class=k133 d="M605.2 110.9l-.7 1.1 7.1-5.9 .6-1z"/><path class=k142 d="M605.9 109.8l-.7 1.1 7-5.8 .7-1z"/><path class=k151 d="M606.6 108.8l-.7 1 7-5.7 .7-.9z"/><path class=k217 d="M612 101.5l-.7 .7 7.1-4 .6-.4z"/><path class=k224 d="M612.9 100.7l-.9 .8 7-3.7 .9-.4z"/><path class=k231 d="M613.8 100.1l-.9 .6 7-3.3 1-.3z"/><path class=k237 d="M614.7 99.7l-.9 .4 7.1-3 .9-.2z"/><path class=k242 d="M615.6 99.4l-.9 .3 7.1-2.8 .9 0z"/><path class=k246 d="M616.6 99.2l-1 .2 7.1-2.5 .9 .1z"/><path class=k249 d="M617.5 99.2l-.9 0 7-2.2 .9 .1z"/><path class=k251 d="M618.4 99.2l-.9 0 7-2.1 .9 .2z"/><path class=k253 d="M619.3 99.4l-.9-.2 7-1.9 .9 .3z"/><path class=k254 d="M620.2 99.6l-.9-.2 7-1.8 .9 .3z"/><path class=k254 d="M621.1 99.9l-.9-.3 7-1.7 .9 .3z"/><path class=k254 d="M553.8 77.8l-4.1-1.7 7-1.5 4.1 1.9z"/><path class=k253 d="M555.8 78.8l-2-1 7-1.3 2 1.1z"/><path class=k252 d="M557.4 79.6l-1.6-.8 7-1.2 1.6 .9z"/><path class=k251 d="M558.3 80.1l-.9-.5 7-1.1 .9 .6z"/><path class=k250 d="M559.2 80.6l-.9-.5 7-1 .9 .7z"/><path class=k249 d="M560.1 81.1l-.9-.5 7-.8 .9 .6z"/><path class=k248 d="M561 81.7l-.9-.6 7-.7 .9 .8z"/><path class=k246 d="M561.7 82.2l-.7-.5 7-.5 .7 .6z"/><path class=k244 d="M562.4 82.7l-.7-.5 7-.4 .7 .7z"/><path class=k243 d="M563.1 83.2l-.7-.5 7-.2 .7 .7z"/><path class=k241 d="M563.7 83.8l-.6-.6 7 0 .7 .7z"/><path class=k238 d="M564.4 84.4l-.7-.6 7.1 .1 .6 .8z"/><path class=k236 d="M565.1 85l-.7-.6 7 .3 .7 .9z"/><path class=k233 d="M565.8 85.7l-.7-.7 7 .6 .7 .9z"/><path class=k230 d="M566.5 86.5l-.7-.8 7 .8 .7 1z"/><path class=k226 d="M567.1 87.3l-.6-.8 7 1 .7 1z"/><path class=k222 d="M567.8 88.2l-.7-.9 7.1 1.2 .6 1.2z"/><path class=k218 d="M568.3 88.9l-.5-.7 7 1.5 .5 .7z"/><path class=k215 d="M568.7 89.5l-.4-.6 7 1.5 .5 .9z"/><path class=k211 d="M569.2 90.2l-.5-.7 7.1 1.8 .4 .8z"/><path class=k208 d="M569.6 91l-.4-.8 7 1.9 .5 .9z"/><path class=k204 d="M570.1 91.7l-.5-.7 7.1 2 .4 .9z"/><path class=k199 d="M570.5 92.5l-.4-.8 7 2.2 .5 .9z"/><path class=k195 d="M571 93.4l-.5-.9 7.1 2.3 .4 1z"/><path class=k190 d="M571.5 94.2l-.5-.8 7 2.4 .5 .9z"/><path class=k186 d="M571.9 95.1l-.4-.9 7 2.5 .4 1z"/><path class=k180 d="M572.4 96.1l-.5-1 7 2.6 .5 1z"/><path class=k174 d="M572.8 97l-.4-.9 7 2.6 .4 1.1z"/><path class=k170 d="M573.3 98l-.5-1 7 2.8 .5 1z"/><path class=k164 d="M573.7 99.1l-.4-1.1 7 2.8 .4 1.1z"/><path class=k158 d="M574.2 100.1l-.5-1 7 2.8 .5 1z"/><path class=k152 d="M574.6 101.2l-.4-1.1 7 2.8 .4 1.1z"/><path class=k146 d="M575.1 102.3l-.5-1.1 7 2.8 .5 1.1z"/><path class=k138 d="M575.5 103.4l-.4-1.1 7 2.8 .5 1z"/><path class=k132 d="M576 104.5l-.5-1.1 7.1 2.7 .4 1.1z"/><path class=k126 d="M576.4 105.6l-.4-1.1 7 2.7 .5 1z"/><path class=k120 d="M576.9 106.8l-.5-1.2 7.1 2.6 .4 1z"/><path class=k113 d="M577.3 107.9l-.4-1.1 7 2.4 .5 1z"/><path class=k106 d="M577.8 109l-.5-1.1 7.1 2.3 .4 1z"/><path class=k100 d="M578.3 110.1l-.5-1.1 7 2.2 .5 1z"/><path class=k94 d="M578.7 111.2l-.4-1.1 7 2.1 .4 .9z"/><path class=k88 d="M579.2 112.3l-.5-1.1 7 1.9 .5 .9z"/><path class=k82 d="M579.6 113.3l-.4-1 7 1.7 .4 .8z"/><path class=k76 d="M580.1 114.4l-.5-1.1 7 1.5 .5 .8z"/><path class=k70 d="M580.5 115.3l-.4-.9 7 1.2 .4 .8z"/><path class=k38 d="M592.1 124.2l-.7 .4 7-4.7 .7-.6z"/><path class=k43 d="M592.8 123.7l-.7 .5 7-4.9 .7-.7z"/><path class=k48 d="M593.4 123.2l-.6 .5 7-5.1 .7-.8z"/><path class=k54 d="M594.1 122.6l-.7 .6 7.1-5.4 .6-.8z"/><path class=k61 d="M594.8 121.8l-.7 .8 7-5.6 .7-.9z"/><path class=k68 d="M595.5 121.1l-.7 .7 7-5.7 .7-.9z"/><path class=k75 d="M596.2 120.2l-.7 .9 7-5.9 .7-1z"/><path class=k83 d="M596.8 119.3l-.6 .9 7-6 .7-1.1z"/><path class=k92 d="M597.5 118.3l-.7 1 7.1-6.2 .6-1.1z"/><path class=k101 d="M598.2 117.2l-.7 1.1 7-6.3 .7-1.1z"/><path class=k110 d="M598.9 116.1l-.7 1.1 7-6.3 .7-1.1z"/><path class=k120 d="M599.6 114.9l-.7 1.2 7-6.3 .7-1z"/><path class=k128 d="M600 114.2l-.4 .7 7-6.1 .4-.8z"/><path class=k134 d="M600.5 113.4l-.5 .8 7-6.2 .5-.7z"/><path class=k142 d="M600.9 112.6l-.4 .8 7-6.1 .4-.7z"/><path class=k148 d="M601.4 111.8l-.5 .8 7-6 .5-.7z"/><path class=k154 d="M601.8 111l-.4 .8 7-5.9 .4-.6z"/><path class=k163 d="M602.5 109.9l-.7 1.1 7-5.7 .7-1z"/><path class=k221 d="M607.3 103.4l-.7 .7 7-3.9 .7-.3z"/><path class=k228 d="M608.2 102.7l-.9 .7 7-3.5 .9-.4z"/><path class=k235 d="M609.1 102.1l-.9 .6 7-3.2 .9-.2z"/><path class=k240 d="M610 101.7l-.9 .4 7-2.8 .9-.1z"/><path class=k244 d="M610.9 101.5l-.9 .2 7-2.5 .9 0z"/><path class=k248 d="M611.8 101.4l-.9 .1 7-2.3 .9 .1z"/><path class=k251 d="M612.7 101.4l-.9 0 7-2.1 .9 .2z"/><path class=k252 d="M613.6 101.6l-.9-.2 7-1.9 .9 .3z"/><path class=k254 d="M614.5 101.8l-.9-.2 7-1.8 .9 .3z"/><path class=k254 d="M615.4 102.1l-.9-.3 7-1.7 .9 .3z"/><path class=k254 d="M550.6 81l-4.1-1.7 7-1.6 4.1 2z"/><path class=k253 d="M552.4 81.9l-1.8-.9 7-1.3 1.8 1z"/><path class=k252 d="M553.8 82.5l-1.4-.6 7-1.2 1.4 .8z"/><path class=k251 d="M554.9 83.2l-1.1-.7 7-1 1.1 .8z"/><path class=k250 d="M555.8 83.7l-.9-.5 7-.9 .9 .7z"/><path class=k248 d="M556.7 84.3l-.9-.6 7-.7 .9 .8z"/><path class=k247 d="M557.4 84.7l-.7-.4 7-.5 .7 .6z"/><path class=k246 d="M558.1 85.2l-.7-.5 7-.3 .7 .6z"/><path class=k244 d="M558.8 85.7l-.7-.5 7-.2 .7 .7z"/><path class=k242 d="M559.5 86.3l-.7-.6 7 0 .7 .8z"/><path class=k240 d="M560.1 86.9l-.6-.6 7 .2 .6 .8z"/><path class=k237 d="M560.8 87.6l-.7-.7 7 .4 .7 .9z"/><path class=k234 d="M561.5 88.3l-.7-.7 7 .6 .7 1z"/><path class=k231 d="M562.2 89.1l-.7-.8 7 .9 .7 1z"/><path class=k227 d="M562.9 89.9l-.7-.8 7 1.1 .7 1.1z"/><path class=k224 d="M563.3 90.5l-.4-.6 7 1.4 .4 .8z"/><path class=k220 d="M563.8 91.2l-.5-.7 7 1.6 .5 .8z"/><path class=k217 d="M564.2 91.8l-.4-.6 7 1.7 .4 .9z"/><path class=k213 d="M564.7 92.6l-.5-.8 7 2 .5 .9z"/><path class=k209 d="M565.1 93.3l-.4-.7 7 2.1 .4 .9z"/><path class=k205 d="M565.6 94.1l-.5-.8 7 2.3 .5 1z"/><path class=k201 d="M566 95l-.4-.9 7 2.5 .4 .9z"/><path class=k196 d="M566.5 95.8l-.5-.8 7 2.5 .5 1.1z"/><path class=k191 d="M566.9 96.8l-.4-1 7 2.8 .4 1z"/><path class=k186 d="M567.4 97.7l-.5-.9 7 2.8 .5 1.1z"/><path class=k180 d="M567.8 98.7l-.4-1 7 3 .5 1z"/><path class=k174 d="M568.3 99.8l-.5-1.1 7.1 3 .4 1.1z"/><path class=k168 d="M568.7 100.8l-.4-1 7 3 .5 1.2z"/><path class=k162 d="M569.2 102l-.5-1.2 7.1 3.2 .4 1.1z"/><path class=k156 d="M569.7 103.1l-.5-1.1 7 3.1 .5 1.1z"/><path class=k148 d="M570.1 104.2l-.4-1.1 7 3.1 .4 1.1z"/><path class=k142 d="M570.6 105.4l-.5-1.2 7 3.1 .5 1.2z"/><path class=k135 d="M571 106.6l-.4-1.2 7 3.1 .4 1.1z"/><path class=k128 d="M571.5 107.8l-.5-1.2 7 3 .5 1.1z"/><path class=k121 d="M571.9 109l-.4-1.2 7 2.9 .4 1.1z"/><path class=k114 d="M572.4 110.2l-.5-1.2 7 2.8 .5 1z"/><path class=k108 d="M572.8 111.4l-.4-1.2 7 2.6 .4 1.1z"/><path class=k100 d="M573.3 112.5l-.5-1.1 7 2.5 .5 1z"/><path class=k94 d="M573.7 113.7l-.4-1.2 7 2.4 .4 .9z"/><path class=k87 d="M574.2 114.8l-.5-1.1 7 2.1 .5 1z"/><path class=k80 d="M574.6 115.9l-.4-1.1 7 2 .5 .9z"/><path class=k74 d="M575.1 117l-.5-1.1 7.1 1.8 .4 .8z"/><path class=k68 d="M575.5 118.1l-.4-1.1 7 1.5 .5 .8z"/><path class=k62 d="M576 119.1l-.5-1 7.1 1.2 .4 .8z"/><path class=k57 d="M576.5 120.1l-.5-1 7 1 .5 .7z"/><path class=k52 d="M576.9 121l-.4-.9 7 .7 .4 .6z"/><path class=k47 d="M577.4 121.9l-.5-.9 7 .4 .5 .6z"/><path class=k43 d="M577.8 122.7l-.4-.8 7 .1 .4 .6z"/><path class=k26 d="M586 128l-.9 .3 7-4.1 .9-.6z"/><path class=k35 d="M587.6 127.2l-.7 .4 7-4.8 .7-.7z"/><path class=k40 d="M588.2 126.7l-.6 .5 7-5.1 .7-.8z"/><path class=k46 d="M588.9 126.1l-.7 .6 7.1-5.4 .6-.8z"/><path class=k53 d="M589.6 125.4l-.7 .7 7-5.6 .7-.9z"/><path class=k59 d="M590.3 124.6l-.7 .8 7-5.8 .7-1z"/><path class=k67 d="M591 123.8l-.7 .8 7-6 .7-1z"/><path class=k75 d="M591.6 122.8l-.6 1 7-6.2 .7-1.1z"/><path class=k84 d="M592.3 121.8l-.7 1 7.1-6.3 .6-1.2z"/><path class=k93 d="M593 120.7l-.7 1.1 7-6.5 .7-1.1z"/><path class=k102 d="M593.5 119.9l-.5 .8 7-6.5 .5-.8z"/><path class=k108 d="M593.9 119.1l-.4 .8 7-6.5 .4-.8z"/><path class=k115 d="M594.4 118.3l-.5 .8 7-6.5 .5-.8z"/><path class=k122 d="M594.8 117.5l-.4 .8 7-6.5 .4-.8z"/><path class=k129 d="M595.3 116.6l-.5 .9 7-6.5 .5-.8z"/><path class=k136 d="M595.7 115.8l-.4 .8 7-6.4 .4-.7z"/><path class=k143 d="M596.2 114.9l-.5 .9 7-6.3 .5-.8z"/><path class=k150 d="M596.6 114.1l-.4 .8 7-6.2 .4-.7z"/><path class=k157 d="M597.1 113.2l-.5 .9 7-6.1 .5-.7z"/><path class=k164 d="M597.5 112.4l-.4 .8 7-5.9 .4-.6z"/><path class=k170 d="M598 111.6l-.5 .8 7-5.7 .5-.7z"/><path class=k178 d="M598.4 110.8l-.4 .8 7-5.6 .5-.6z"/><path class=k185 d="M599.1 109.7l-.7 1.1 7.1-5.4 .6-.8z"/><path class=k225 d="M602.5 105.4l-.7 .6 7.1-3.7 .6-.4z"/><path class=k232 d="M603.4 104.6l-.9 .8 7-3.5 .9-.3z"/><path class=k238 d="M604.3 104.1l-.9 .5 7-3 .9-.2z"/><path class=k244 d="M605.2 103.8l-.9 .3 7-2.7 1 0z"/><path class=k248 d="M606.1 103.6l-.9 .2 7.1-2.4 .9 .1z"/><path class=k251 d="M607.1 103.6l-1 0 7.1-2.1 .9 .2z"/><path class=k253 d="M608 103.7l-.9-.1 7-1.9 .9 .2z"/><path class=k254 d="M609.1 104l-1.1-.3 7-1.8 1.1 .4z"/><path class=k254 d="M547.4 84.2l-3.6-1.6 7-1.5 3.7 1.8z"/><path class=k253 d="M549.3 85l-1.9-.8 7.1-1.3 1.8 1.1z"/><path class=k252 d="M550.6 85.7l-1.3-.7 7-1 1.3 .9z"/><path class=k251 d="M551.5 86.2l-.9-.5 7-.8 .9 .6z"/><path class=k250 d="M552.4 86.8l-.9-.6 7-.7 1 .8z"/><path class=k249 d="M553.1 87.2l-.7-.4 7.1-.5 .6 .6z"/><path class=k247 d="M553.8 87.7l-.7-.5 7-.3 .7 .7z"/><path class=k246 d="M554.5 88.2l-.7-.5 7-.1 .7 .7z"/><path class=k244 d="M555.2 88.7l-.7-.5 7 .1 .7 .8z"/><path class=k242 d="M555.8 89.3l-.6-.6 7 .4 .7 .8z"/><path class=k239 d="M556.5 90l-.7-.7 7.1 .6 .6 .9z"/><path class=k236 d="M557.2 90.7l-.7-.7 7 .8 .7 1z"/><path class=k233 d="M557.9 91.5l-.7-.8 7 1.1 .7 1.1z"/><path class=k230 d="M558.3 92.1l-.4-.6 7 1.4 .4 .8z"/><path class=k226 d="M558.8 92.7l-.5-.6 7 1.6 .5 .8z"/><path class=k224 d="M559.2 93.4l-.4-.7 7 1.8 .5 .9z"/><path class=k220 d="M559.7 94.1l-.5-.7 7.1 2 .4 .9z"/><path class=k216 d="M560.1 94.8l-.4-.7 7 2.2 .5 .9z"/><path class=k212 d="M560.6 95.6l-.5-.8 7.1 2.4 .4 1z"/><path class=k208 d="M561 96.5l-.4-.9 7 2.6 .5 1z"/><path class=k202 d="M561.5 97.3l-.5-.8 7.1 2.7 .4 1.1z"/><path class=k198 d="M562 98.3l-.5-1 7 3 .5 1.1z"/><path class=k192 d="M562.4 99.3l-.4-1 7 3.1 .4 1.1z"/><path class=k186 d="M562.9 100.3l-.5-1 7 3.2 .5 1.2z"/><path class=k180 d="M563.3 101.4l-.4-1.1 7 3.4 .4 1.1z"/><path class=k174 d="M563.8 102.6l-.5-1.2 7 3.4 .5 1.2z"/><path class=k166 d="M564.2 103.7l-.4-1.1 7 3.4 .4 1.2z"/><path class=k160 d="M564.7 104.9l-.5-1.2 7 3.5 .5 1.2z"/><path class=k152 d="M565.1 106.1l-.4-1.2 7 3.5 .4 1.2z"/><path class=k146 d="M565.6 107.4l-.5-1.3 7 3.5 .5 1.2z"/><path class=k138 d="M566 108.6l-.4-1.2 7 3.4 .5 1.2z"/><path class=k130 d="M566.5 109.9l-.5-1.3 7.1 3.4 .4 1.1z"/><path class=k123 d="M566.9 111.2l-.4-1.3 7 3.2 .5 1.2z"/><path class=k116 d="M567.4 112.4l-.5-1.2 7.1 3.1 .4 1.1z"/><path class=k108 d="M567.8 113.7l-.4-1.3 7 3 .5 1.1z"/><path class=k101 d="M568.3 115l-.5-1.3 7.1 2.8 .4 1.1z"/><path class=k94 d="M568.8 116.2l-.5-1.2 7 2.6 .5 1z"/><path class=k86 d="M569.2 117.4l-.4-1.2 7 2.4 .4 1z"/><path class=k80 d="M569.7 118.6l-.5-1.2 7 2.2 .5 .9z"/><path class=k73 d="M570.1 119.7l-.4-1.1 7 1.9 .4 .9z"/><path class=k66 d="M570.6 120.8l-.5-1.1 7 1.7 .5 .9z"/><path class=k60 d="M571 121.9l-.4-1.1 7 1.5 .4 .8z"/><path class=k54 d="M571.5 122.9l-.5-1 7 1.2 .5 .7z"/><path class=k49 d="M571.9 123.9l-.4-1 7 .9 .4 .7z"/><path class=k44 d="M572.4 124.8l-.5-.9 7 .6 .5 .6z"/><path class=k39 d="M572.8 125.7l-.4-.9 7 .3 .5 .6z"/><path class=k34 d="M573.3 126.5l-.5-.8 7.1 0 .4 .5z"/><path class=k29 d="M574 127.6l-.7-1.1 7-.3 .7 .7z"/><path class=k24 d="M574.6 128.6l-.6-1 7-.7 .7 .5z"/><path class=k20 d="M575.3 129.4l-.7-.8 7.1-1.2 .6 .4z"/><path class=k25 d="M581.9 130.9l-.7 .3 7-4.5 .7-.6z"/><path class=k29 d="M582.6 130.6l-.7 .3 7-4.8 .7-.7z"/><path class=k34 d="M583.3 130.1l-.7 .5 7-5.2 .7-.8z"/><path class=k40 d="M583.9 129.5l-.6 .6 7-5.5 .7-.8z"/><path class=k46 d="M584.6 128.8l-.7 .7 7.1-5.7 .6-1z"/><path class=k53 d="M585.3 128l-.7 .8 7-6 .7-1z"/><path class=k61 d="M586 127.1l-.7 .9 7-6.2 .7-1.1z"/><path class=k69 d="M586.7 126.1l-.7 1 7-6.4 .7-1.2z"/><path class=k76 d="M587.1 125.4l-.4 .7 7-6.6 .4-.8z"/><path class=k83 d="M587.6 124.7l-.5 .7 7-6.7 .5-.8z"/><path class=k90 d="M588 123.9l-.4 .8 7-6.8 .4-.9z"/><path class=k96 d="M588.5 123l-.5 .9 7-6.9 .5-.8z"/><path class=k104 d="M588.9 122.2l-.4 .8 7-6.8 .4-.9z"/><path class=k111 d="M589.4 121.3l-.5 .9 7-6.9 .5-.8z"/><path class=k118 d="M589.8 120.4l-.4 .9 7-6.8 .5-.9z"/><path class=k126 d="M590.3 119.5l-.5 .9 7.1-6.8 .4-.8z"/><path class=k134 d="M590.7 118.5l-.4 1 7-6.7 .5-.8z"/><path class=k141 d="M591.2 117.6l-.5 .9 7.1-6.5 .4-.8z"/><path class=k149 d="M591.6 116.7l-.4 .9 7-6.4 .5-.8z"/><path class=k156 d="M592.1 115.8l-.5 .9 7.1-6.3 .4-.7z"/><path class=k164 d="M592.6 114.9l-.5 .9 7-6.1 .5-.7z"/><path class=k171 d="M593 114l-.4 .9 7-5.9 .4-.7z"/><path class=k178 d="M593.5 113.2l-.5 .8 7-5.7 .5-.6z"/><path class=k184 d="M593.9 112.3l-.4 .9 7-5.5 .4-.6z"/><path class=k192 d="M594.4 111.6l-.5 .7 7-5.2 .5-.6z"/><path class=k224 d="M597.1 107.8l-.7 .8 7-4 .7-.4z"/><path class=k230 d="M597.8 107.2l-.7 .6 7-3.6 .7-.3z"/><path class=k237 d="M598.7 106.5l-.9 .7 7-3.3 .9-.2z"/><path class=k243 d="M599.6 106.1l-.9 .4 7-2.8 .9-.1z"/><path class=k248 d="M600.5 105.9l-.9 .2 7-2.5 .9 .1z"/><path class=k251 d="M601.4 105.8l-.9 .1 7-2.2 .9 .1z"/><path class=k253 d="M602.3 105.9l-.9-.1 7-2 .9 .3z"/><path class=k254 d="M603.2 106.1l-.9-.2 7-1.8 .9 .3z"/><path class=k254 d="M544.7 87.5l-3.4-1.5 7.1-1.4 3.4 1.8z"/><path class=k253 d="M546.3 88.3l-1.6-.8 7.1-1.1 1.5 1z"/><path class=k252 d="M547.5 88.9l-1.2-.6 7-.9 1.2 .8z"/><path class=k251 d="M548.4 89.4l-.9-.5 7-.7 .9 .7z"/><path class=k250 d="M549 89.8l-.6-.4 7-.5 .7 .7z"/><path class=k249 d="M549.7 90.3l-.7-.5 7.1-.2 .6 .6z"/><path class=k247 d="M550.4 90.8l-.7-.5 7-.1 .7 .8z"/><path class=k246 d="M551.1 91.3l-.7-.5 7 .2 .7 .8z"/><path class=k244 d="M551.8 91.9l-.7-.6 7 .5 .7 .9z"/><path class=k241 d="M552.4 92.6l-.6-.7 7 .8 .7 1z"/><path class=k238 d="M553.1 93.3l-.7-.7 7.1 1.1 .6 1.1z"/><path class=k235 d="M553.6 93.8l-.5-.5 7 1.5 .5 .8z"/><path class=k232 d="M554 94.4l-.4-.6 7 1.8 .4 .9z"/><path class=k229 d="M554.5 95.1l-.5-.7 7 2.1 .5 .8z"/><path class=k226 d="M554.9 95.8l-.4-.7 7 2.2 .5 1z"/><path class=k222 d="M555.4 96.5l-.5-.7 7.1 2.5 .4 1z"/><path class=k217 d="M555.8 97.4l-.4-.9 7 2.8 .5 1z"/><path class=k212 d="M556.3 98.3l-.5-.9 7.1 2.9 .4 1.1z"/><path class=k208 d="M556.7 99.2l-.4-.9 7 3.1 .5 1.2z"/><path class=k202 d="M557.2 100.2l-.5-1 7.1 3.4 .4 1.1z"/><path class=k196 d="M557.7 101.3l-.5-1.1 7 3.5 .5 1.2z"/><path class=k190 d="M558.1 102.4l-.4-1.1 7 3.6 .4 1.2z"/><path class=k182 d="M558.6 103.6l-.5-1.2 7 3.7 .5 1.3z"/><path class=k176 d="M559 104.8l-.4-1.2 7 3.8 .4 1.2z"/><path class=k168 d="M559.5 106.1l-.5-1.3 7 3.8 .5 1.3z"/><path class=k161 d="M559.9 107.3l-.4-1.2 7 3.8 .4 1.3z"/><path class=k153 d="M560.4 108.7l-.5-1.4 7 3.9 .5 1.2z"/><path class=k145 d="M560.8 110l-.4-1.3 7 3.7 .4 1.3z"/><path class=k137 d="M561.3 111.3l-.5-1.3 7 3.7 .5 1.3z"/><path class=k129 d="M561.7 112.7l-.4-1.4 7 3.7 .5 1.2z"/><path class=k121 d="M562.2 114l-.5-1.3 7.1 3.5 .4 1.2z"/><path class=k113 d="M562.6 115.4l-.4-1.4 7 3.4 .5 1.2z"/><path class=k105 d="M563.1 116.7l-.5-1.3 7.1 3.2 .4 1.1z"/><path class=k97 d="M563.5 118l-.4-1.3 7 3 .5 1.1z"/><path class=k90 d="M564 119.3l-.5-1.3 7.1 2.8 .4 1.1z"/><path class=k82 d="M564.5 120.6l-.5-1.3 7 2.6 .5 1z"/><path class=k75 d="M564.9 121.8l-.4-1.2 7 2.3 .4 1z"/><path class=k68 d="M565.4 123l-.5-1.2 7 2.1 .5 .9z"/><path class=k61 d="M565.8 124.2l-.4-1.2 7 1.8 .4 .9z"/><path class=k54 d="M566.3 125.3l-.5-1.1 7 1.5 .5 .8z"/><path class=k48 d="M566.7 126.3l-.4-1 7 1.2 .4 .8z"/><path class=k42 d="M567.2 127.3l-.5-1 7 1 .5 .6z"/><path class=k38 d="M567.6 128.3l-.4-1 7 .6 .4 .7z"/><path class=k32 d="M568.1 129.2l-.5-.9 7 .3 .5 .6z"/><path class=k28 d="M568.5 130l-.4-.8 7 0 .5 .5z"/><path class=k23 d="M569.2 131.1l-.7-1.1 7.1-.3 .6 .6z"/><path class=k18 d="M569.9 132.1l-.7-1 7-.8 .7 .5z"/><path class=k14 d="M570.6 132.9l-.7-.8 7-1.3 .7 .4z"/><path class=k11 d="M571.3 133.5l-.7-.6 7-1.7 .7 .2z"/><path class=k8 d="M572.2 134.2l-.9-.7 7-2.1 .9 .2z"/><path class=k8 d="M573.7 134.7l-1.5-.5 7-2.6 1.6-.2z"/><path class=k12 d="M575.6 134.7l-.9 .1 7-3.7 .9-.5z"/><path class=k20 d="M577.1 134.2l-.6 .3 7-4.6 .7-.6z"/><path class=k24 d="M577.8 133.9l-.7 .3 7.1-4.9 .6-.7z"/><path class=k29 d="M578.5 133.4l-.7 .5 7-5.3 .7-.9z"/><path class=k34 d="M579.2 132.8l-.7 .6 7-5.7 .7-.9z"/><path class=k41 d="M579.9 132.1l-.7 .7 7-6 .7-1z"/><path class=k48 d="M580.5 131.3l-.6 .8 7-6.3 .7-1.1z"/><path class=k54 d="M581 130.6l-.5 .7 7.1-6.6 .4-.8z"/><path class=k60 d="M581.5 129.9l-.5 .7 7-6.7 .5-.9z"/><path class=k67 d="M581.9 129.2l-.4 .7 7-6.9 .4-.8z"/><path class=k74 d="M582.4 128.4l-.5 .8 7-7 .5-.9z"/><path class=k80 d="M582.8 127.5l-.4 .9 7-7.1 .4-.9z"/><path class=k88 d="M583.3 126.7l-.5 .8 7-7.1 .5-.9z"/><path class=k95 d="M583.7 125.7l-.4 1 7-7.2 .4-1z"/><path class=k103 d="M584.2 124.8l-.5 .9 7-7.2 .5-.9z"/><path class=k111 d="M584.6 123.8l-.4 1 7-7.2 .4-.9z"/><path class=k119 d="M585.1 122.8l-.5 1 7-7.1 .5-.9z"/><path class=k127 d="M585.5 121.8l-.4 1 7-7 .5-.9z"/><path class=k135 d="M586 120.8l-.5 1 7.1-6.9 .4-.9z"/><path class=k143 d="M586.4 119.8l-.4 1 7-6.8 .5-.8z"/><path class=k151 d="M586.9 118.8l-.5 1 7.1-6.6 .4-.9z"/><path class=k159 d="M587.3 117.8l-.4 1 7-6.5 .5-.7z"/><path class=k167 d="M587.8 116.9l-.5 .9 7.1-6.2 .4-.8z"/><path class=k175 d="M588.3 115.9l-.5 1 7-6.1 .5-.7z"/><path class=k182 d="M588.7 115l-.4 .9 7-5.8 .4-.6z"/><path class=k190 d="M589.2 114.2l-.5 .8 7-5.5 .5-.6z"/><path class=k196 d="M589.6 113.4l-.4 .8 7-5.3 .4-.6z"/><path class=k205 d="M590.3 112.2l-.7 1.2 7-5.1 .7-.7z"/><path class=k229 d="M592.3 109.6l-.6 .7 7-3.8 .7-.3z"/><path class=k236 d="M593 109l-.7 .6 7.1-3.4 .6-.3z"/><path class=k242 d="M593.9 108.4l-.9 .6 7-3.1 .9-.1z"/><path class=k247 d="M594.8 108.1l-.9 .3 7-2.6 .9 0z"/><path class=k251 d="M595.7 107.9l-.9 .2 7-2.3 1 .2z"/><path class=k253 d="M596.6 108l-.9-.1 7.1-1.9 .9 .3z"/><path class=k254 d="M597.5 108.3l-.9-.3 7.1-1.7 .9 .3z"/><path class=k254 d="M542.7 91.2l-3.2-1.4 7-1.4 3.2 1.9z"/><path class=k253 d="M544.1 91.8l-1.4-.6 7-.9 1.4 1z"/><path class=k252 d="M545 92.3l-.9-.5 7-.5 .9 .8z"/><path class=k251 d="M545.6 92.7l-.6-.4 7-.2 .7 .7z"/><path class=k250 d="M546.3 93.2l-.7-.5 7.1 .1 .6 .8z"/><path class=k249 d="M547 93.7l-.7-.5 7 .4 .7 .8z"/><path class=k247 d="M547.7 94.2l-.7-.5 7 .7 .7 1z"/><path class=k244 d="M548.4 94.9l-.7-.7 7 1.2 .7 1.1z"/><path class=k242 d="M548.8 95.4l-.4-.5 7 1.6 .4 .9z"/><path class=k239 d="M549.3 96l-.5-.6 7 2 .5 .9z"/><path class=k236 d="M549.7 96.6l-.4-.6 7 2.3 .4 .9z"/><path class=k232 d="M550.2 97.3l-.5-.7 7 2.6 .5 1z"/><path class=k228 d="M550.6 98.2l-.4-.9 7 2.9 .5 1.1z"/><path class=k224 d="M551.1 99l-.5-.8 7.1 3.1 .4 1.1z"/><path class=k218 d="M551.5 100l-.4-1 7 3.4 .5 1.2z"/><path class=k212 d="M552 101l-.5-1 7.1 3.6 .4 1.2z"/><path class=k206 d="M552.4 102.1l-.4-1.1 7 3.8 .5 1.3z"/><path class=k200 d="M552.9 103.3l-.5-1.2 7.1 4 .4 1.2z"/><path class=k192 d="M553.4 104.5l-.5-1.2 7 4 .5 1.4z"/><path class=k185 d="M553.8 105.8l-.4-1.3 7 4.2 .4 1.3z"/><path class=k178 d="M554.3 107.1l-.5-1.3 7 4.2 .5 1.3z"/><path class=k170 d="M554.7 108.4l-.4-1.3 7 4.2 .4 1.4z"/><path class=k162 d="M555.2 109.8l-.5-1.4 7 4.3 .5 1.3z"/><path class=k153 d="M555.6 111.2l-.4-1.4 7 4.2 .4 1.4z"/><path class=k145 d="M556.1 112.6l-.5-1.4 7 4.2 .5 1.3z"/><path class=k136 d="M556.5 114.1l-.4-1.5 7 4.1 .4 1.3z"/><path class=k128 d="M557 115.5l-.5-1.4 7 3.9 .5 1.3z"/><path class=k119 d="M557.4 116.9l-.4-1.4 7 3.8 .5 1.3z"/><path class=k110 d="M557.9 118.4l-.5-1.5 7.1 3.7 .4 1.2z"/><path class=k102 d="M558.3 119.8l-.4-1.4 7 3.4 .5 1.2z"/><path class=k93 d="M558.8 121.2l-.5-1.4 7.1 3.2 .4 1.2z"/><path class=k85 d="M559.2 122.5l-.4-1.3 7 3 .5 1.1z"/><path class=k77 d="M559.7 123.9l-.5-1.4 7.1 2.8 .4 1z"/><path class=k70 d="M560.2 125.2l-.5-1.3 7 2.4 .5 1z"/><path class=k62 d="M560.6 126.4l-.4-1.2 7 2.1 .4 1z"/><path class=k55 d="M561.1 127.6l-.5-1.2 7 1.9 .5 .9z"/><path class=k48 d="M561.5 128.8l-.4-1.2 7 1.6 .4 .8z"/><path class=k42 d="M562 129.9l-.5-1.1 7 1.2 .5 .8z"/><path class=k36 d="M562.4 130.9l-.4-1 7 .9 .4 .6z"/><path class=k30 d="M562.9 131.9l-.5-1 7 .5 .5 .7z"/><path class=k26 d="M563.3 132.7l-.4-.8 7 .2 .4 .5z"/><path class=k21 d="M563.8 133.6l-.5-.9 7-.1 .5 .5z"/><path class=k16 d="M564.5 134.7l-.7-1.1 7-.5 .7 .6z"/><path class=k11 d="M565.1 135.6l-.6-.9 7-1 .7 .5z"/><path class=k7 d="M565.8 136.3l-.7-.7 7.1-1.4 .6 .3z"/><path class=k5 d="M566.7 137.1l-.9-.8 7-1.8 .9 .2z"/><path class=k3 d="M568.3 137.7l-1.6-.6 7-2.4 1.6 .1z"/><path class=k4 d="M569.2 137.9l-.9-.2 7-2.9 .9-.2z"/><path class=k6 d="M570.1 138l-.9-.1 7-3.3 .9-.4z"/><path class=k12 d="M571.9 137.8l-.9 .2 7.1-4.3 .9-.7z"/><path class=k15 d="M572.6 137.5l-.7 .3 7.1-4.8 .6-.6z"/><path class=k19 d="M573.3 137.2l-.7 .3 7-5.1 .7-.8z"/><path class=k24 d="M574 136.7l-.7 .5 7-5.6 .7-1z"/><path class=k30 d="M574.7 136.1l-.7 .6 7-6.1 .7-1z"/><path class=k37 d="M575.3 135.2l-.6 .9 7-6.5 .7-1.2z"/><path class=k44 d="M575.8 134.6l-.5 .6 7.1-6.8 .4-.9z"/><path class=k50 d="M576.2 133.9l-.4 .7 7-7.1 .5-.8z"/><path class=k64 d="M577.2 132.3l-.5 .8 7-7.4 .5-.9z"/><path class=k70 d="M577.6 131.4l-.4 .9 7-7.5 .4-1z"/><path class=k78 d="M578.1 130.4l-.5 1 7-7.6 .5-1z"/><path class=k86 d="M578.5 129.4l-.4 1 7-7.6 .4-1z"/><path class=k94 d="M579 128.4l-.5 1 7-7.6 .5-1z"/><path class=k103 d="M579.4 127.3l-.4 1.1 7-7.6 .4-1z"/><path class=k111 d="M579.9 126.3l-.5 1 7-7.5 .5-1z"/><path class=k120 d="M580.3 125.2l-.4 1.1 7-7.5 .4-1z"/><path class=k129 d="M580.8 124.1l-.5 1.1 7-7.4 .5-.9z"/><path class=k138 d="M581.2 123l-.4 1.1 7-7.2 .5-1z"/><path class=k146 d="M581.7 121.9l-.5 1.1 7.1-7.1 .4-.9z"/><path class=k155 d="M582.1 120.8l-.4 1.1 7-6.9 .5-.8z"/><path class=k164 d="M582.6 119.8l-.5 1 7.1-6.6 .4-.8z"/><path class=k172 d="M583 118.7l-.4 1.1 7-6.4 .5-.8z"/><path class=k180 d="M583.5 117.7l-.5 1 7.1-6.1 .4-.7z"/><path class=k188 d="M584 116.8l-.5 .9 7-5.8 .5-.7z"/><path class=k195 d="M584.4 115.9l-.4 .9 7-5.6 .4-.6z"/><path class=k202 d="M584.9 115l-.5 .9 7-5.3 .5-.5z"/><path class=k210 d="M585.3 114.2l-.4 .8 7-4.9 .4-.5z"/><path class=k217 d="M586 113.1l-.7 1.1 7-4.6 .7-.6z"/><path class=k226 d="M586.7 112.2l-.7 .9 7-4.1 .7-.5z"/><path class=k233 d="M587.4 111.4l-.7 .8 7-3.7 .7-.3z"/><path class=k240 d="M588 110.8l-.6 .6 7-3.2 .7-.2z"/><path class=k246 d="M588.9 110.3l-.9 .5 7.1-2.8 .9-.1z"/><path class=k250 d="M589.8 110.1l-.9 .2 7.1-2.4 .9 .2z"/><path class=k254 d="M590.8 110.1l-1 0 7.1-2 .9 .2z"/><path class=k254 d="M543.4 95.9l-.7-.5 7 1.2 .7 1.1z"/><path class=k252 d="M543.8 96.4l-.4-.5 7 1.8 .5 .9z"/><path class=k249 d="M544.3 97l-.5-.6 7.1 2.2 .4 .9z"/><path class=k246 d="M544.8 97.7l-.5-.7 7 2.5 .5 1z"/><path class=k242 d="M545.2 98.4l-.4-.7 7 2.8 .4 1.1z"/><path class=k238 d="M545.7 99.3l-.5-.9 7 3.2 .5 1.1z"/><path class=k232 d="M546.1 100.2l-.4-.9 7 3.4 .4 1.2z"/><path class=k227 d="M546.6 101.2l-.5-1 7 3.7 .5 1.2z"/><path class=k220 d="M547 102.3l-.4-1.1 7 3.9 .4 1.3z"/><path class=k214 d="M547.5 103.4l-.5-1.1 7 4.1 .5 1.3z"/><path class=k207 d="M547.9 104.7l-.4-1.3 7 4.3 .4 1.4z"/><path class=k200 d="M548.4 105.9l-.5-1.2 7 4.4 .5 1.4z"/><path class=k192 d="M548.8 107.3l-.4-1.4 7 4.6 .4 1.4z"/><path class=k184 d="M549.3 108.7l-.5-1.4 7 4.6 .5 1.4z"/><path class=k175 d="M549.7 110.1l-.4-1.4 7 4.6 .5 1.5z"/><path class=k166 d="M550.2 111.6l-.5-1.5 7.1 4.7 .4 1.4z"/><path class=k158 d="M550.6 113l-.4-1.4 7 4.6 .5 1.4z"/><path class=k148 d="M551.1 114.6l-.5-1.6 7.1 4.6 .4 1.5z"/><path class=k139 d="M551.6 116.1l-.5-1.5 7 4.5 .5 1.4z"/><path class=k130 d="M552 117.6l-.4-1.5 7 4.4 .4 1.4z"/><path class=k120 d="M552.5 119.2l-.5-1.6 7 4.3 .5 1.3z"/><path class=k112 d="M552.9 120.7l-.4-1.5 7 4 .4 1.3z"/><path class=k102 d="M553.4 122.2l-.5-1.5 7 3.8 .5 1.3z"/><path class=k93 d="M553.8 123.7l-.4-1.5 7 3.6 .4 1.2z"/><path class=k84 d="M554.3 125.2l-.5-1.5 7 3.3 .5 1.2z"/><path class=k76 d="M554.7 126.6l-.4-1.4 7 3 .4 1.1z"/><path class=k67 d="M555.2 128l-.5-1.4 7 2.7 .5 1.1z"/><path class=k59 d="M555.6 129.3l-.4-1.3 7 2.4 .4 1z"/><path class=k52 d="M556.1 130.6l-.5-1.3 7 2.1 .5 .9z"/><path class=k44 d="M556.5 131.8l-.4-1.2 7 1.7 .5 .9z"/><path class=k38 d="M557 133l-.5-1.2 7.1 1.4 .4 .7z"/><path class=k31 d="M557.4 134.1l-.4-1.1 7 .9 .5 .8z"/><path class=k26 d="M557.9 135.1l-.5-1 7.1 .6 .4 .6z"/><path class=k20 d="M558.4 136l-.5-.9 7 .2 .5 .5z"/><path class=k15 d="M558.8 136.8l-.4-.8 7-.2 .4 .5z"/><path class=k10 d="M559.5 137.9l-.7-1.1 7-.5 .7 .6z"/><path class=k5 d="M560.2 138.8l-.7-.9 7-1 .7 .4z"/><path class=k2 d="M560.8 139.5l-.6-.7 7-1.5 .7 .3z"/><path class=k0 d="M561.8 140.1l-1-.6 7.1-1.9 .9 .2z"/><path class=k0 d="M564.2 141l-2.4-.9 7-2.3 1.3 .2 1.2-.1z"/><path class=k1 d="M565.2 141.2l-1-.2 7.1-3.1 .9-.2z"/><path class=k2 d="M566.1 141.4l-.9-.2 7-3.5 .9-.4z"/><path class=k4 d="M567 141.4l-.9 0 7-4.1 .9-.6z"/><path class=k6 d="M567.6 141.3l-.6 .1 7-4.7 .7-.6z"/><path class=k9 d="M568.3 141.1l-.7 .2 7.1-5.2 .6-.9z"/><path class=k14 d="M569 140.6l-.7 .5 7-5.9 .7-1z"/><path class=k20 d="M569.7 139.9l-.7 .7 7-6.4 .7-1.1z"/><path class=k26 d="M570.1 139.3l-.4 .6 7-6.8 .5-.8z"/><path class=k32 d="M570.6 138.7l-.5 .6 7.1-7 .4-.9z"/><path class=k38 d="M571 137.9l-.4 .8 7-7.3 .5-1z"/><path class=k45 d="M571.5 137.1l-.5 .8 7.1-7.5 .4-1z"/><path class=k52 d="M572 136.3l-.5 .8 7-7.7 .5-1z"/><path class=k60 d="M572.4 135.3l-.4 1 7-7.9 .4-1.1z"/><path class=k68 d="M572.9 134.3l-.5 1 7-8 .5-1z"/><path class=k76 d="M573.3 133.2l-.4 1.1 7-8 .4-1.1z"/><path class=k85 d="M573.8 132.1l-.5 1.1 7-8 .5-1.1z"/><path class=k94 d="M574.2 131l-.4 1.1 7-8 .4-1.1z"/><path class=k103 d="M574.7 129.9l-.5 1.1 7-8 .5-1.1z"/><path class=k112 d="M575.1 128.7l-.4 1.2 7-8 .4-1.1z"/><path class=k122 d="M575.6 127.5l-.5 1.2 7-7.9 .5-1z"/><path class=k131 d="M576 126.3l-.4 1.2 7-7.7 .4-1.1z"/><path class=k140 d="M576.5 125.1l-.5 1.2 7-7.6 .5-1z"/><path class=k150 d="M576.9 123.9l-.4 1.2 7-7.4 .5-.9z"/><path class=k160 d="M577.4 122.7l-.5 1.2 7.1-7.1 .4-.9z"/><path class=k168 d="M577.8 121.6l-.4 1.1 7-6.8 .5-.9z"/><path class=k178 d="M578.3 120.4l-.5 1.2 7.1-6.6 .4-.8z"/><path class=k186 d="M578.8 119.4l-.5 1 7-6.2 .5-.7z"/><path class=k194 d="M579.2 118.4l-.4 1 7-5.9 .4-.7z"/><path class=k202 d="M579.7 117.4l-.5 1 7-5.6 .5-.6z"/><path class=k210 d="M580.1 116.5l-.4 .9 7-5.2 .4-.5z"/><path class=k217 d="M580.6 115.7l-.5 .8 7-4.8 .5-.5z"/><path class=k225 d="M581.2 114.5l-.6 1.2 7-4.5 .7-.5z"/><path class=k234 d="M581.9 113.6l-.7 .9 7.1-3.8 .6-.4z"/><path class=k241 d="M582.6 112.9l-.7 .7 7-3.3 .7-.2z"/><path class=k248 d="M583.5 112.3l-.9 .6 7-2.8 .9 0z"/><path class=k252 d="M584.4 112l-.9 .3 7-2.2 .9 .1z"/><path class=k255 d="M616.4 22.9l-3.6-1.5 7-1.6 3.6 1.5zM748.8 75.2l-33.1-13.1 7-1.6 33.1 13zM612.3 25.7l-6.5-2.7 7-1.6 6.6 2.7zM741.8 76.8l-31.5-12.4 7-1.7 31.5 12.5zM608.5 28.6l-9.8-3.9 7.1-1.7 9.7 4zM734.7 78.5l-29.9-11.8 7-1.7 30 11.8zM604.4 31.4l-12.7-5.1 7-1.6 12.7 5.1zM727.7 80.1l-28.3-11.1 7-1.7 28.3 11.2zM600.6 34.3l-15.9-6.4 7-1.6 15.9 6.4zM720.7 81.7l-26.7-10.5 7-1.6 26.7 10.5zM596.7 37.2l-19-7.6 7-1.7 19 7.7zM713.7 83.4l-25.2-9.9 7-1.7 25.2 9.9zM592.9 40.1l-22.2-8.9 7-1.6 22.2 8.9zM706.7 85l-23.8-9.3 7-1.7 23.8 9.4zM589 43l-25.3-10.1 7-1.7 25.4 10.2zM699.7 86.7l-22.3-8.7 7.1-1.7 22.2 8.7zM585.2 45.9l-28.6-11.4 7.1-1.6 28.5 11.4zM692.6 88.3l-20.6-8.1 7-1.6 20.7 8.1zM581.4 48.8l-31.8-12.6 7-1.7 31.8 12.7zM685.6 90l-19.2-7.6 7-1.7 19.2 7.6zM577.7 51.8l-35.1-14 7-1.6 35.2 14zM678.6 91.6l-17.9-7 7-1.7 17.9 7.1zM573.9 54.7l-38.3-15.2 7-1.7 38.3 15.3zM671.6 93.3l-16.3-6.4 7-1.7 16.3 6.4zM570.3 57.7l-41.7-16.6 7-1.6 31.3 12.4 10.4 4.2zM664.6 94.9l-15-5.8 7-1.7 15 5.9zM566.7 60.7l-45.2-17.9 7.1-1.7 34.4 13.7 10.7 4.3zM657.5 96.6l-13.6-5.3 7.1-1.7 13.6 5.3zM563 63.7l-48.5-19.3 7-1.6 37.7 14.9 10.9 4.4zM650.5 98.2l-12.2-4.8 7-1.6 12.2 4.8zM559.6 66.8l-52.1-20.7 7-1.7 41.3 16.3 10.9 4.5zM643.5 99.9l-11.1-4.4 7-1.7 11.1 4.4zM556.3 69.8l-55.8-22.1 7-1.6 44.7 17.6 11.1 4.6zM636.5 101.5l-9.8-3.8 7.1-1.7 9.7 3.9zM552.9 72.9l-59.4-23.5 7-1.7 48.3 19.1 11.1 4.6zM629.5 103.2l-8.4-3.3 7-1.7 8.4 3.3zM549.7 76.1l-63.2-25.1 7-1.6 52.1 20.6 11.1 4.6zM622.5 104.8l-7.1-2.7 7-1.7 7.1 2.8zM546.5 79.3l-67.1-26.7 7.1-1.6 56.2 22.2 10.8 4.5zM615.4 106.4l-6.3-2.4 7-1.7 6.4 2.5zM543.8 82.6l-71.4-28.3 7-1.7 60.6 24 10.8 4.5zM608.4 108.1l-5.2-2 7-1.7 5.2 2zM541.3 86l-75.9-30.1 7-1.6 65.3 25.8 6.6 2.7 4.1 1.8zM601.4 109.7l-3.9-1.4 7.1-1.7 3.8 1.5zM539.5 89.8l-81.1-32.2 7-1.7 70.9 28.1 6.4 2.6 3.8 1.8zM591.7 110.3l-.9-.2 7-1.8 .9 .4zM594.4 111.4l-2.7-1.1 7-1.6 2.7 1zM542.7 95.4l-91.3-36.2 7-1.6 81.8 32.4 3.6 1.7 2.5 1.5 1.8 1.5 1.6 1.9zM585.3 112.2l-.9-.2 7-1.8 .9 .4zM587.4 113l-2.1-.8 7-1.6 2.1 .8z"/></g>
<path class="a" d="M47.5,166.4L47.5,46.4M47.5,166.4L185.6,221.4M185.6,221.4L365.6,179.3M185.6,221.4L182.8,220.3M230.6,210.9L227.8,209.8M275.6,200.3L272.8,199.2M320.6,189.8L317.8,188.7M365.6,179.3L362.8,178.2M185.6,221.4L188.5,220.7M139.6,203.1L142.5,202.4M93.5,184.7L96.5,184.1M47.5,166.4L50.4,165.7M47.5,166.4L50.3,167.5M47.5,136.4L50.3,137.5M47.5,106.4L50.3,107.5M47.5,76.4L50.3,77.5M47.5,46.4L50.3,47.5"/>
<text class="t" font-size="9.4" x="189.4" y="232.4">0</text>
<text class="t" font-size="9.4" x="234.4" y="221.9">5</text>
<text class="t" font-size="9.4" x="279.4" y="211.3">10</text>
<text class="t" font-size="9.4" x="324.4" y="200.8">15</text>
<text class="t" font-size="9.4" x="369.4" y="190.3">20</text>
<text class="t e" font-size="9.4" x="181.1" y="232.4">0</text>
<text class="t e" font-size="9.4" x="135.1" y="214.1">15</text>
<text class="t e" font-size="9.4" x="89" y="195.7">30</text>
<text class="t e" font-size="9.4" x="43" y="177.4">45</text>
<text class="t e" font-size="9.4" x="42.9" y="169.1">28.0</text>
<text class="t e" font-size="9.4" x="42.9" y="139.1">28.5</text>
<text class="t e" font-size="9.4" x="42.9" y="109.1">29.0</text>
<text class="t e" font-size="9.4" x="42.9" y="79.1">29.5</text>
<text class="t e" font-size="9.4" x="42.9" y="49.1">30.0</text>
<text class="l m" font-size="13.8" x="93" y="212.2">Time/s</text>
<text class="l m" font-size="13.8" transform="translate(294.3,222.7) rotate(-10.8)">The serial number of vehicles</text>
<text class="l" font-size="13.8" transform="translate(18,139.5) rotate(-90)">Speed/m•s<tspan dy="-3.6" dx="1.8" font-size="11">−1</tspan></text>
<path class="a" d="M442.5,168.1L442.5,50.1M442.5,168.1L578.5,221.9M578.5,221.9L755.8,180.3M578.5,221.9L575.7,220.8M622.8,211.5L620,210.4M667.1,201.1L664.4,200M711.5,190.7L708.7,189.6M755.8,180.3L753,179.2M578.5,221.9L581.4,221.2M533.2,204L536.1,203.3M487.8,186L490.8,185.3M442.5,168.1L445.4,167.4M442.5,168.1L445.3,169.2M442.5,138.6L445.3,139.7M442.5,109.1L445.3,110.2M442.5,79.6L445.3,80.7M442.5,50.1L445.3,51.2"/>
<text class="t" font-size="9.3" x="582.3" y="232.9">0</text>
<text class="t" font-size="9.3" x="626.6" y="222.5">5</text>
<text class="t" font-size="9.3" x="670.9" y="212.1">10</text>
<text class="t" font-size="9.3" x="715.3" y="201.7">15</text>
<text class="t" font-size="9.3" x="759.6" y="191.3">20</text>
<text class="t e" font-size="9.3" x="574" y="232.9">0</text>
<text class="t e" font-size="9.3" x="528.7" y="215">10</text>
<text class="t e" font-size="9.3" x="483.3" y="197">20</text>
<text class="t e" font-size="9.3" x="438" y="179.1">30</text>
<text class="t e" font-size="9.3" x="437.9" y="170.8">28.0</text>
<text class="t e" font-size="9.3" x="437.9" y="141.3">28.5</text>
<text class="t e" font-size="9.3" x="437.9" y="111.8">29.0</text>
<text class="t e" font-size="9.3" x="437.9" y="82.3">29.5</text>
<text class="t e" font-size="9.3" x="437.9" y="52.8">30.0</text>
<text class="l m" font-size="13.55" x="483.5" y="214">Time/s</text>
<text class="l m" font-size="13.55" transform="translate(679.3,224.5) rotate(-10.8)">The serial number of vehicles</text>
<text class="l" font-size="13.55" transform="translate(412.6,140.8) rotate(-90)">Speed/m•s<tspan dy="-2.8" dx="0.5" font-size="10.8">−1</tspan></text>
<text class="c" x="182.5" y="272.7">(<tspan font-weight="bold">a</tspan>)</text>
<text class="c" x="577.5" y="272.7">(<tspan font-weight="bold">b</tspan>)</text></svg></body></html>
